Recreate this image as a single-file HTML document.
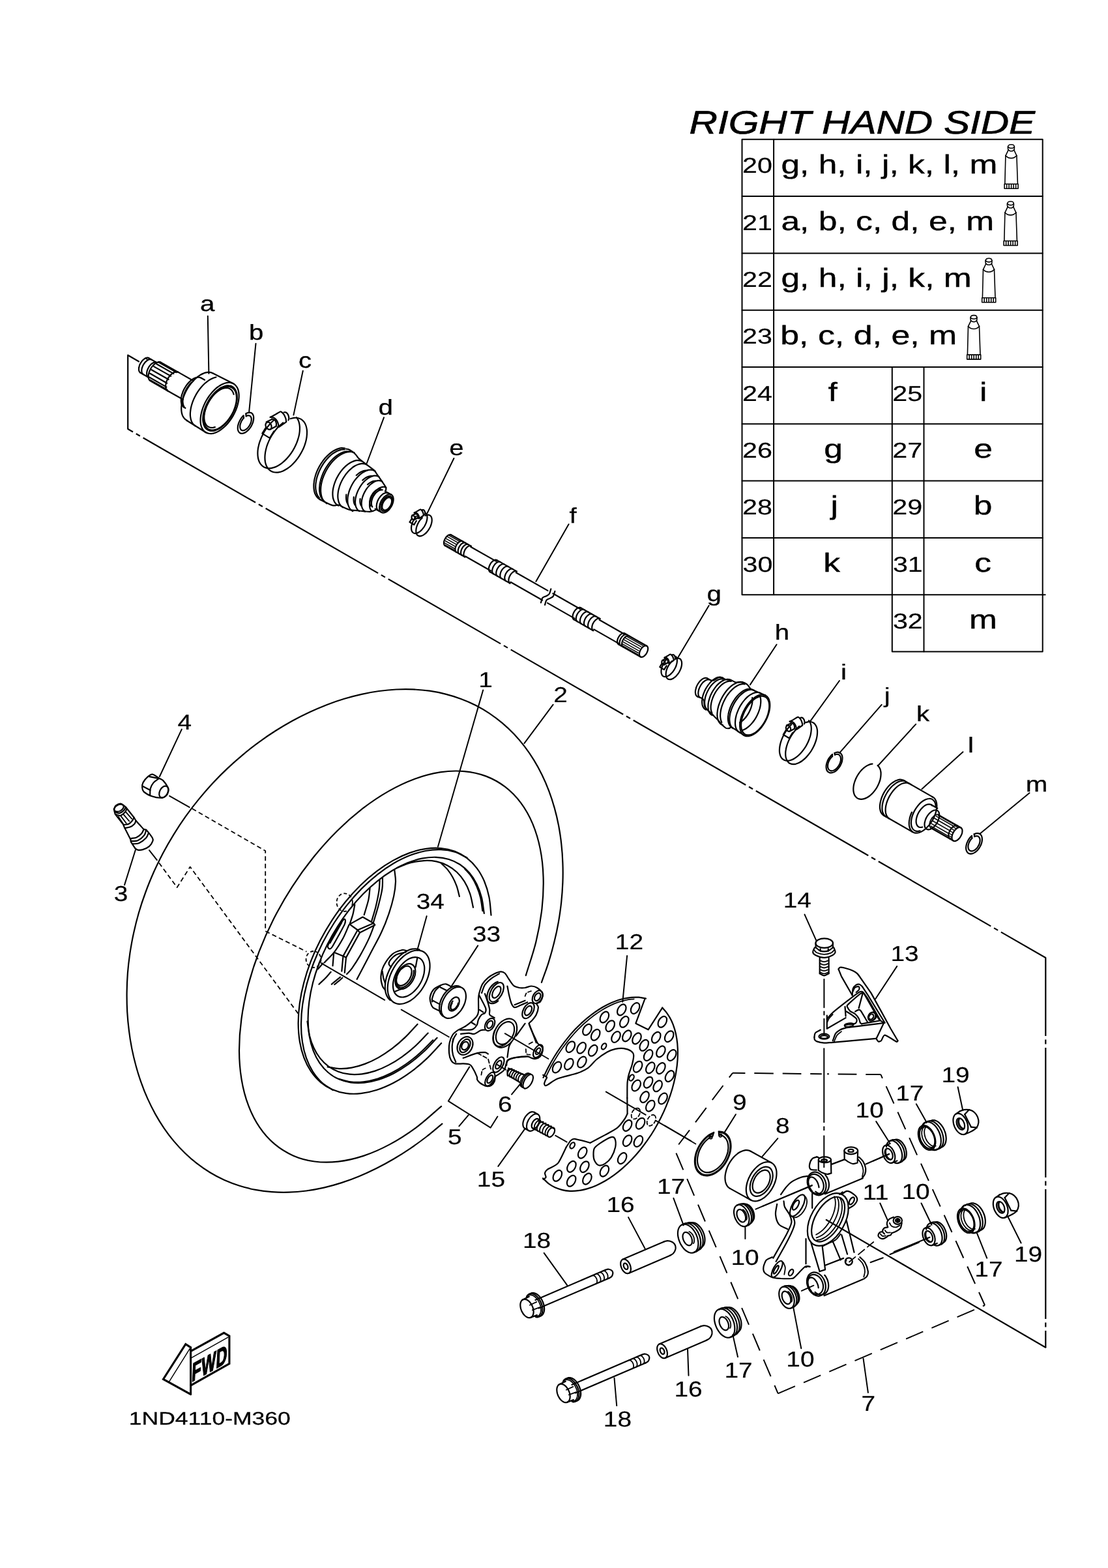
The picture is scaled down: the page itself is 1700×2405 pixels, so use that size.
<!DOCTYPE html>
<html lang="en"><head><meta charset="utf-8"><title>RIGHT HAND SIDE - 1ND4110-M360</title>
<style>
html,body{margin:0;padding:0;background:#fff}
body{width:1700px;height:2405px;overflow:hidden;position:relative}
svg{display:block;position:absolute;left:0;top:0}
svg path,svg ellipse,svg line,svg circle,svg rect{fill:none;stroke:#000;stroke-width:2.2;stroke-linecap:round;stroke-linejoin:round}
svg text{font-family:"Liberation Sans",sans-serif;fill:#000;stroke:none;text-rendering:geometricPrecision}
svg{will-change:transform}
</style></head>
<body>
<svg width="1700" height="2405" viewBox="0 0 1700 2405">
<g id="table">
<path d="M1138.5 213.8 L1599.7 213.8 L1599.7 999.5 L1368.8 999.5 L1368.8 912.2 L1138.5 912.2Z" style="stroke-width:2;"/>
<path d="M1138.5 301.1 L1599.7 301.1" style="stroke-width:2;"/>
<path d="M1138.5 388.4 L1599.7 388.4" style="stroke-width:2;"/>
<path d="M1138.5 475.7 L1599.7 475.7" style="stroke-width:2;"/>
<path d="M1138.5 563 L1599.7 563" style="stroke-width:2;"/>
<path d="M1138.5 650.3 L1599.7 650.3" style="stroke-width:2;"/>
<path d="M1138.5 737.6 L1599.7 737.6" style="stroke-width:2;"/>
<path d="M1138.5 824.9 L1599.7 824.9" style="stroke-width:2;"/>
<path d="M1368.8 912.2 L1603.7 912.2" style="stroke-width:2;"/>
<path d="M1187.1 213.8 L1187.1 912.2" style="stroke-width:2;"/>
<path d="M1368.8 563 L1368.8 912.2" style="stroke-width:2;"/>
<path d="M1417.5 563 L1417.5 999.5" style="stroke-width:2;"/>
<text transform="translate(1057.6 204.9) scale(1.201 1)" font-size="50" style="stroke:#000;stroke-width:0.7" font-style="italic">RIGHT HAND SIDE</text>
<text transform="translate(1139 265.4) scale(1.250 1)" font-size="33" style="stroke:#000;stroke-width:0.2">20</text>
<text transform="translate(1198.4 265.6) scale(1.278 1)" font-size="40.3" style="stroke:#000;stroke-width:0.4">g, h, i, j, k, l, m</text>
<path d="M1546.8 229.9 C1546.7 228.2 1546.1 226.2 1546.4 224.9 C1546.7 223.6 1547.8 222.6 1548.6 222.1 C1549.5 221.6 1550.6 221.7 1551.6 221.7 C1552.6 221.7 1553.8 221.6 1554.6 222.1 C1555.4 222.6 1556.2 223.6 1556.4 224.9 C1556.7 226.2 1556.2 228.2 1556 229.9" style="stroke-width:1.6;"/>
<path d="M1546.8 225.4 C1547.5 225.9 1548.2 226.6 1549 226.9 C1549.8 227.2 1550.7 227.3 1551.6 227.3 C1552.5 227.3 1553.4 227.2 1554.2 226.9 C1554.9 226.6 1555.4 225.9 1556 225.4" style="stroke-width:1.6;"/>
<path d="M1547.2 229.9 C1547.9 230.4 1548.6 231.1 1549.4 231.4 C1550.1 231.7 1550.9 231.7 1551.6 231.7 C1552.3 231.7 1553.1 231.7 1553.8 231.4 C1554.5 231.1 1555.1 230.4 1555.7 229.9" style="stroke-width:1.6;"/>
<path d="M1547.2 229.9 L1542.9 238.8" style="stroke-width:1.6;"/>
<path d="M1555.7 229.9 L1559.9 238.8" style="stroke-width:1.6;"/>
<path d="M1542.9 238.8 C1544.2 239.7 1545.3 241.1 1546.8 241.7 C1548.2 242.4 1550.1 242.6 1551.6 242.6 C1553.1 242.6 1554.6 242.4 1556 241.7 C1557.4 241.1 1558.6 239.7 1559.9 238.8" style="stroke-width:1.6;"/>
<path d="M1542.9 238.8 L1541.8 282.2" style="stroke-width:1.6;"/>
<path d="M1559.9 238.8 L1561.4 282.2" style="stroke-width:1.6;"/>
<path d="M1541.1 282.2 L1562.1 282.2 L1562.1 289.2 L1541.1 289.2Z" style="stroke-width:1.6;"/>
<path d="M1544.6 283.1 L1544.6 288.7" style="stroke-width:1.6;"/>
<path d="M1548.1 283.1 L1548.1 288.7" style="stroke-width:1.6;"/>
<path d="M1551.6 283.1 L1551.6 288.7" style="stroke-width:1.6;"/>
<path d="M1555.1 283.1 L1555.1 288.7" style="stroke-width:1.6;"/>
<path d="M1558.6 283.1 L1558.6 288.7" style="stroke-width:1.6;"/>
<text transform="translate(1139 352.7) scale(1.250 1)" font-size="33" style="stroke:#000;stroke-width:0.2">21</text>
<text transform="translate(1198.4 352.9) scale(1.280 1)" font-size="40.3" style="stroke:#000;stroke-width:0.4">a, b, c, d, e, m</text>
<path d="M1545.8 317.2 C1545.7 315.5 1545.1 313.5 1545.4 312.2 C1545.7 310.9 1546.8 309.9 1547.6 309.4 C1548.5 308.9 1549.6 309 1550.6 309 C1551.6 309 1552.8 308.9 1553.6 309.4 C1554.4 309.9 1555.2 310.9 1555.4 312.2 C1555.7 313.5 1555.2 315.5 1555 317.2" style="stroke-width:1.6;"/>
<path d="M1545.8 312.7 C1546.5 313.2 1547.2 313.9 1548 314.2 C1548.8 314.5 1549.7 314.6 1550.6 314.6 C1551.5 314.6 1552.4 314.5 1553.2 314.2 C1553.9 313.9 1554.4 313.2 1555 312.7" style="stroke-width:1.6;"/>
<path d="M1546.2 317.2 C1546.9 317.7 1547.6 318.4 1548.4 318.7 C1549.1 319 1549.9 319 1550.6 319 C1551.3 319 1552.1 319 1552.8 318.7 C1553.5 318.4 1554.1 317.7 1554.7 317.2" style="stroke-width:1.6;"/>
<path d="M1546.2 317.2 L1541.9 326.1" style="stroke-width:1.6;"/>
<path d="M1554.7 317.2 L1558.9 326.1" style="stroke-width:1.6;"/>
<path d="M1541.9 326.1 C1543.2 327 1544.3 328.4 1545.8 329 C1547.2 329.7 1549.1 329.9 1550.6 329.9 C1552.1 329.9 1553.6 329.7 1555 329 C1556.4 328.4 1557.6 327 1558.9 326.1" style="stroke-width:1.6;"/>
<path d="M1541.9 326.1 L1540.8 369.5" style="stroke-width:1.6;"/>
<path d="M1558.9 326.1 L1560.4 369.5" style="stroke-width:1.6;"/>
<path d="M1540.1 369.5 L1561.1 369.5 L1561.1 376.5 L1540.1 376.5Z" style="stroke-width:1.6;"/>
<path d="M1543.6 370.4 L1543.6 376" style="stroke-width:1.6;"/>
<path d="M1547.1 370.4 L1547.1 376" style="stroke-width:1.6;"/>
<path d="M1550.6 370.4 L1550.6 376" style="stroke-width:1.6;"/>
<path d="M1554.1 370.4 L1554.1 376" style="stroke-width:1.6;"/>
<path d="M1557.6 370.4 L1557.6 376" style="stroke-width:1.6;"/>
<text transform="translate(1139 440) scale(1.250 1)" font-size="33" style="stroke:#000;stroke-width:0.2">22</text>
<text transform="translate(1198.4 440.2) scale(1.280 1)" font-size="40.3" style="stroke:#000;stroke-width:0.4">g, h, i, j, k, m</text>
<path d="M1512.4 404.5 C1512.3 402.8 1511.7 400.8 1512 399.5 C1512.3 398.2 1513.4 397.2 1514.2 396.7 C1515.1 396.2 1516.2 396.3 1517.2 396.3 C1518.2 396.3 1519.4 396.2 1520.2 396.7 C1521 397.2 1521.8 398.2 1522 399.5 C1522.3 400.8 1521.8 402.8 1521.6 404.5" style="stroke-width:1.6;"/>
<path d="M1512.4 400 C1513.1 400.5 1513.8 401.2 1514.6 401.5 C1515.4 401.8 1516.3 401.9 1517.2 401.9 C1518.1 401.9 1519 401.8 1519.8 401.5 C1520.5 401.2 1521 400.5 1521.6 400" style="stroke-width:1.6;"/>
<path d="M1512.8 404.5 C1513.5 405 1514.2 405.7 1515 406 C1515.7 406.3 1516.5 406.3 1517.2 406.3 C1517.9 406.3 1518.7 406.3 1519.4 406 C1520.1 405.7 1520.7 405 1521.3 404.5" style="stroke-width:1.6;"/>
<path d="M1512.8 404.5 L1508.5 413.4" style="stroke-width:1.6;"/>
<path d="M1521.3 404.5 L1525.5 413.4" style="stroke-width:1.6;"/>
<path d="M1508.5 413.4 C1509.8 414.3 1510.9 415.7 1512.4 416.3 C1513.8 417 1515.7 417.2 1517.2 417.2 C1518.7 417.2 1520.2 417 1521.6 416.3 C1523 415.7 1524.2 414.3 1525.5 413.4" style="stroke-width:1.6;"/>
<path d="M1508.5 413.4 L1507.4 456.8" style="stroke-width:1.6;"/>
<path d="M1525.5 413.4 L1527 456.8" style="stroke-width:1.6;"/>
<path d="M1506.7 456.8 L1527.7 456.8 L1527.7 463.8 L1506.7 463.8Z" style="stroke-width:1.6;"/>
<path d="M1510.2 457.7 L1510.2 463.3" style="stroke-width:1.6;"/>
<path d="M1513.7 457.7 L1513.7 463.3" style="stroke-width:1.6;"/>
<path d="M1517.2 457.7 L1517.2 463.3" style="stroke-width:1.6;"/>
<path d="M1520.7 457.7 L1520.7 463.3" style="stroke-width:1.6;"/>
<path d="M1524.2 457.7 L1524.2 463.3" style="stroke-width:1.6;"/>
<text transform="translate(1139 527.3) scale(1.250 1)" font-size="33" style="stroke:#000;stroke-width:0.2">23</text>
<text transform="translate(1197.2 527.5) scale(1.288 1)" font-size="40.3" style="stroke:#000;stroke-width:0.4">b, c, d, e, m</text>
<path d="M1489.4 491.8 C1489.3 490.1 1488.7 488.1 1489 486.8 C1489.3 485.5 1490.4 484.5 1491.2 484 C1492.1 483.5 1493.2 483.6 1494.2 483.6 C1495.2 483.6 1496.4 483.5 1497.2 484 C1498 484.5 1498.8 485.5 1499 486.8 C1499.3 488.1 1498.8 490.1 1498.6 491.8" style="stroke-width:1.6;"/>
<path d="M1489.4 487.3 C1490.1 487.8 1490.8 488.5 1491.6 488.8 C1492.4 489.1 1493.3 489.2 1494.2 489.2 C1495.1 489.2 1496 489.1 1496.8 488.8 C1497.5 488.5 1498 487.8 1498.6 487.3" style="stroke-width:1.6;"/>
<path d="M1489.8 491.8 C1490.5 492.3 1491.2 493 1492 493.3 C1492.7 493.6 1493.5 493.6 1494.2 493.6 C1494.9 493.6 1495.7 493.6 1496.4 493.3 C1497.1 493 1497.7 492.3 1498.3 491.8" style="stroke-width:1.6;"/>
<path d="M1489.8 491.8 L1485.5 500.7" style="stroke-width:1.6;"/>
<path d="M1498.3 491.8 L1502.5 500.7" style="stroke-width:1.6;"/>
<path d="M1485.5 500.7 C1486.8 501.6 1487.9 503 1489.4 503.6 C1490.8 504.3 1492.7 504.5 1494.2 504.5 C1495.7 504.5 1497.2 504.3 1498.6 503.6 C1500 503 1501.2 501.6 1502.5 500.7" style="stroke-width:1.6;"/>
<path d="M1485.5 500.7 L1484.4 544.1" style="stroke-width:1.6;"/>
<path d="M1502.5 500.7 L1504 544.1" style="stroke-width:1.6;"/>
<path d="M1483.7 544.1 L1504.7 544.1 L1504.7 551.1 L1483.7 551.1Z" style="stroke-width:1.6;"/>
<path d="M1487.2 545 L1487.2 550.6" style="stroke-width:1.6;"/>
<path d="M1490.7 545 L1490.7 550.6" style="stroke-width:1.6;"/>
<path d="M1494.2 545 L1494.2 550.6" style="stroke-width:1.6;"/>
<path d="M1497.7 545 L1497.7 550.6" style="stroke-width:1.6;"/>
<path d="M1501.2 545 L1501.2 550.6" style="stroke-width:1.6;"/>
<text transform="translate(1139 614.6) scale(1.250 1)" font-size="33" style="stroke:#000;stroke-width:0.2">24</text>
<text transform="translate(1270.4 614.8) scale(1.277 1)" font-size="40.3" style="stroke:#000;stroke-width:0.4">f</text>
<text transform="translate(1369.3 614.6) scale(1.250 1)" font-size="33" style="stroke:#000;stroke-width:0.2">25</text>
<text transform="translate(1502.9 614.8) scale(1.277 1)" font-size="40.3" style="stroke:#000;stroke-width:0.4">i</text>
<text transform="translate(1139 701.9) scale(1.250 1)" font-size="33" style="stroke:#000;stroke-width:0.2">26</text>
<text transform="translate(1264.2 702.1) scale(1.277 1)" font-size="40.3" style="stroke:#000;stroke-width:0.4">g</text>
<text transform="translate(1369.3 701.9) scale(1.250 1)" font-size="33" style="stroke:#000;stroke-width:0.2">27</text>
<text transform="translate(1494.3 702.1) scale(1.277 1)" font-size="40.3" style="stroke:#000;stroke-width:0.4">e</text>
<text transform="translate(1139 789.2) scale(1.250 1)" font-size="33" style="stroke:#000;stroke-width:0.2">28</text>
<text transform="translate(1274.6 789.4) scale(1.277 1)" font-size="40.3" style="stroke:#000;stroke-width:0.4">j</text>
<text transform="translate(1369.3 789.2) scale(1.250 1)" font-size="33" style="stroke:#000;stroke-width:0.2">29</text>
<text transform="translate(1493.7 789.4) scale(1.277 1)" font-size="40.3" style="stroke:#000;stroke-width:0.4">b</text>
<text transform="translate(1139.6 876.5) scale(1.250 1)" font-size="33" style="stroke:#000;stroke-width:0.2">30</text>
<text transform="translate(1263.3 876.7) scale(1.277 1)" font-size="40.3" style="stroke:#000;stroke-width:0.4">k</text>
<text transform="translate(1369.9 876.5) scale(1.250 1)" font-size="33" style="stroke:#000;stroke-width:0.2">31</text>
<text transform="translate(1495.3 876.7) scale(1.277 1)" font-size="40.3" style="stroke:#000;stroke-width:0.4">c</text>
<text transform="translate(1369.9 963.8) scale(1.250 1)" font-size="33" style="stroke:#000;stroke-width:0.2">32</text>
<text transform="translate(1487.1 964) scale(1.277 1)" font-size="40.3" style="stroke:#000;stroke-width:0.4">m</text>
</g>
<g id="axis">
<path d="M213 554.5 L196.2 544.7 L196.2 658"/>
<path d="M196.2 658 L1604.3 1469 L1604.3 2066.7" style="stroke-dasharray:199 5.5 7 5.5;stroke-dashoffset:190;stroke-linecap:butt;"/>
<path d="M1604.3 2066.7 L1267.8 1871"/>
</g>
<g id="tire">
<path d="M678.4 1723.6 C670.4 1730.3 662.5 1737.2 654.3 1743.5 C646.1 1749.8 637.8 1755.9 629.4 1761.6 C621 1767.3 612.4 1772.7 603.8 1777.8 C595.1 1782.9 586.4 1787.7 577.6 1792.1 C568.8 1796.5 559.9 1800.6 550.9 1804.2 C542 1807.9 533 1811.2 524 1814.1 C515 1817 506 1819.5 497 1821.6 C488 1823.6 479 1825.3 470 1826.5 C461.1 1827.6 452.2 1828.4 443.4 1828.7 C434.6 1829 425.8 1828.8 417.2 1828.2 C408.7 1827.5 400.2 1826.4 391.9 1824.9 C383.6 1823.3 375.4 1821.3 367.5 1818.8 C359.6 1816.3 351.8 1813.3 344.3 1810 C336.8 1806.6 329.5 1802.8 322.5 1798.5 C315.5 1794.3 308.8 1789.7 302.3 1784.7 C295.8 1779.7 289.6 1774.3 283.7 1768.5 C277.7 1762.8 272.1 1756.7 266.8 1750.4 C261.4 1744 256.4 1737.3 251.6 1730.3 C246.9 1723.4 242.4 1716.1 238.2 1708.6 C234.1 1701.1 230.2 1693.4 226.6 1685.4 C223 1677.5 219.7 1669.3 216.8 1660.9 C213.8 1652.6 211.1 1644 208.7 1635.2 C206.3 1626.5 204.1 1617.5 202.3 1608.4 C200.5 1599.3 199 1590.1 197.9 1580.7 C196.7 1571.3 195.8 1561.7 195.2 1552 C194.7 1542.3 194.5 1532.5 194.6 1522.6 C194.7 1512.6 195.1 1502.6 195.9 1492.4 C196.7 1482.3 197.9 1472.1 199.4 1461.8 C201 1451.6 202.8 1441.2 205.1 1430.9 C207.4 1420.6 210 1410.2 213 1399.8 C216 1389.5 219.4 1379.2 223.2 1369 C226.9 1358.7 231.1 1348.5 235.5 1338.5 C240 1328.4 244.9 1318.5 250 1308.7 C255.2 1298.9 260.7 1289.3 266.6 1279.8 C272.4 1270.4 278.5 1261.2 284.9 1252.2 C291.3 1243.2 298 1234.4 305 1225.9 C311.9 1217.5 319.1 1209.2 326.4 1201.3 C333.8 1193.4 341.4 1185.7 349.2 1178.4 C357 1171 364.9 1164 373 1157.3 C381.1 1150.5 389.3 1144.1 397.6 1138.1 C406 1132 414.4 1126.2 423 1120.8 C431.5 1115.4 440.1 1110.3 448.8 1105.5 C457.5 1100.7 466.3 1096.3 475.1 1092.2 C483.9 1088.1 492.7 1084.4 501.6 1080.9 C510.5 1077.5 519.4 1074.5 528.3 1071.8 C537.1 1069.1 546.1 1066.7 554.9 1064.8 C563.8 1062.8 572.7 1061.2 581.5 1060 C590.3 1058.8 599.1 1057.9 607.8 1057.5 C616.5 1057.1 625.2 1057 633.7 1057.4 C642.3 1057.8 650.7 1058.5 659.1 1059.7 C667.4 1060.9 675.6 1062.6 683.6 1064.6 C691.6 1066.6 699.5 1069.1 707.2 1072 C714.9 1074.8 722.4 1078.1 729.7 1081.8 C736.9 1085.5 744 1089.6 750.8 1094.1 C757.6 1098.7 764.2 1103.6 770.5 1108.8 C776.8 1114.1 782.8 1119.8 788.5 1125.8 C794.2 1131.8 799.7 1138.2 804.8 1144.9 C809.9 1151.6 814.7 1158.6 819.2 1165.9 C823.7 1173.2 827.9 1180.9 831.7 1188.7 C835.6 1196.6 839.1 1204.8 842.2 1213.2 C845.4 1221.6 848.2 1230.3 850.7 1239.1 C853.2 1247.9 855.3 1257 857.1 1266.3 C858.8 1275.5 860.3 1284.9 861.3 1294.5 C862.4 1304.1 863.1 1313.8 863.4 1323.7 C863.8 1333.5 863.8 1343.5 863.4 1353.6 C863 1363.6 862.3 1373.8 861.2 1384 C860.1 1394.2 858.6 1404.5 856.8 1414.7 C855 1425 852.8 1435.3 850.2 1445.6 C847.7 1455.9 844.8 1466.2 841.6 1476.4 C838.4 1486.6 834.4 1496.7 830.9 1506.9"/>
<path d="M806.8 1496.1 C812 1478.9 818.3 1461.4 822.4 1444.4 C826.6 1427.3 829.6 1410.2 831.5 1393.7 C833.3 1377.3 834.1 1361.1 833.6 1345.8 C833.2 1330.4 831.6 1315.6 828.8 1301.9 C826.1 1288.1 822.1 1275.1 817.2 1263.3 C812.2 1251.6 806.1 1240.8 799.1 1231.4 C792.1 1222 784 1213.7 775.1 1206.9 C766.2 1200.1 756.3 1194.6 745.9 1190.6 C735.4 1186.7 724.1 1184.1 712.3 1183.1 C700.6 1182 688.1 1182.5 675.4 1184.4 C662.8 1186.4 649.5 1189.9 636.3 1194.7 C623.1 1199.6 609.5 1205.9 596.1 1213.6 C582.7 1221.2 569.2 1230.3 556 1240.4 C542.9 1250.6 529.8 1262.1 517.3 1274.5 C504.8 1286.9 492.5 1300.6 481 1314.8 C469.5 1329.1 458.4 1344.4 448.3 1360.1 C438.1 1375.8 428.6 1392.4 420.1 1409.1 C411.6 1425.8 403.9 1443.1 397.3 1460.2 C390.7 1477.4 385.1 1494.9 380.6 1512 C376.1 1529.2 372.6 1546.4 370.4 1563 C368.1 1579.6 367 1596 367 1611.5 C367.1 1627.1 368.3 1642.2 370.7 1656.2 C373 1670.2 376.6 1683.6 381.2 1695.7 C385.7 1707.8 391.5 1719.1 398.2 1728.9 C404.8 1738.7 412.6 1747.4 421.2 1754.7 C429.8 1762 439.4 1767.9 449.6 1772.4 C459.8 1776.9 470.9 1779.9 482.5 1781.5 C494 1783 506.4 1783.1 518.9 1781.6 C531.4 1780.2 544.6 1777.2 557.7 1772.9 C570.9 1768.5 584.4 1762.6 597.8 1755.4 C611.2 1748.3 624.8 1739.6 638 1729.9 C651.2 1720.1 664 1707.9 677.1 1696.9"/>
</g>
<g id="rim">
<path d="M753.5 1403.6 C752.5 1394.4 752.2 1384.6 750.4 1375.9 C748.7 1367.3 746.2 1359.1 743.1 1351.7 C739.9 1344.3 736.1 1337.5 731.6 1331.6 C727.2 1325.6 722 1320.4 716.4 1316.1 C710.8 1311.8 704.5 1308.3 697.9 1305.8 C691.3 1303.3 684.1 1301.7 676.6 1301 C669.2 1300.3 661.3 1300.6 653.3 1301.8 C645.2 1303 636.8 1305.1 628.5 1308.1 C620.1 1311.1 611.5 1315.1 603 1319.9 C594.5 1324.6 585.9 1330.3 577.6 1336.7 C569.3 1343 561 1350.2 553 1358 C545.1 1365.8 537.3 1374.3 530 1383.2 C522.7 1392.2 515.7 1401.8 509.3 1411.6 C502.9 1421.5 496.8 1431.9 491.4 1442.3 C486 1452.8 481.1 1463.7 476.9 1474.4 C472.7 1485.2 469.1 1496.2 466.3 1507 C463.4 1517.7 461.2 1528.6 459.8 1539 C458.3 1549.4 457.6 1559.7 457.6 1569.5 C457.7 1579.3 458.4 1588.8 459.9 1597.7 C461.4 1606.5 463.6 1614.9 466.5 1622.6 C469.4 1630.2 473 1637.3 477.2 1643.5 C481.4 1649.7 486.4 1655.2 491.8 1659.8 C497.2 1664.4 503.3 1668.3 509.7 1671.1 C516.2 1674 523.2 1675.9 530.5 1676.9 C537.8 1678 545.6 1678 553.6 1677.2 C561.5 1676.3 569.8 1674.5 578.2 1671.8 C586.5 1669.2 595.1 1665.5 603.6 1661.1 C612 1656.6 620.7 1651.2 629 1645.1 C637.4 1639.1 645.8 1632.1 653.8 1624.6 C661.8 1617.1 669.4 1608.2 677.1 1600"/>
<path d="M716.5 1315.6 C710.3 1312.7 704.4 1308.9 697.7 1306.8 C691.1 1304.7 683.9 1303.5 676.5 1303.2 C669.1 1302.9 661.2 1303.5 653.3 1305 C645.3 1306.5 637.1 1308.9 628.9 1312.1 C620.6 1315.3 612.2 1319.5 603.9 1324.3 C595.6 1329.2 587.2 1334.9 579.1 1341.3 C571 1347.7 562.9 1354.9 555.2 1362.6 C547.5 1370.3 540 1378.8 532.9 1387.6 C525.8 1396.4 519 1405.8 512.7 1415.5 C506.5 1425.2 500.6 1435.4 495.3 1445.6 C490.1 1455.9 485.3 1466.5 481.2 1477 C477.1 1487.6 473.6 1498.3 470.8 1508.9 C468 1519.4 465.8 1530 464.3 1540.2 C462.8 1550.4 462 1560.6 462 1570.2 C461.9 1579.8 462.5 1589.2 463.9 1597.9 C465.2 1606.6 467.2 1615 469.9 1622.6 C472.6 1630.2 476 1637.3 479.9 1643.6 C483.9 1649.8 488.6 1655.5 493.7 1660.2 C498.8 1665 505.1 1668.1 510.8 1672"/>
<path d="M742.8 1400.9 C741.5 1392.9 740.9 1384.3 739 1376.8 C737.1 1369.3 734.5 1362.2 731.4 1355.9 C728.2 1349.5 724.5 1343.8 720.2 1338.8 C715.9 1333.8 711 1329.5 705.8 1326 C700.5 1322.6 694.6 1319.8 688.5 1318 C682.3 1316.1 675.7 1315.1 668.9 1314.8 C662 1314.6 654.8 1315.3 647.5 1316.7 C640.2 1318.2 632.6 1320.5 625 1323.6 C617.4 1326.7 609.6 1330.6 601.9 1335.2 C594.3 1339.8 586.6 1345.2 579.1 1351.3 C571.6 1357.3 564.2 1364 557.1 1371.3 C550 1378.5 543 1386.4 536.5 1394.7 C530 1402.9 523.8 1411.7 518.1 1420.8 C512.3 1429.8 507 1439.3 502.2 1448.8 C497.4 1458.4 493.1 1468.2 489.4 1478 C485.7 1487.8 482.5 1497.7 480 1507.5 C477.5 1517.2 475.6 1527 474.4 1536.4 C473.1 1545.8 472.5 1555.1 472.6 1563.9 C472.6 1572.7 473.4 1581.3 474.7 1589.2 C476.1 1597.1 478.1 1604.7 480.7 1611.6 C483.3 1618.4 486.6 1624.8 490.4 1630.4 C494.2 1635.9 498.6 1640.9 503.5 1645 C508.3 1649.2 513.8 1652.6 519.6 1655.1 C525.4 1657.7 531.7 1659.5 538.2 1660.4 C544.8 1661.3 551.8 1661.4 558.9 1660.7 C566.1 1659.9 573.5 1658.3 581 1656 C588.5 1653.6 596.3 1650.3 603.9 1646.4 C611.6 1642.4 619.4 1637.6 626.9 1632.2 C634.5 1626.7 642.1 1620.5 649.4 1613.8 C656.7 1607.1 663.6 1599.1 670.6 1591.8"/>
<path d="M519.9 1654.9 C525.9 1656.4 531.6 1658.7 537.9 1659.4 C544.2 1660.1 550.9 1660.1 557.7 1659.3 C564.5 1658.6 571.6 1657 578.7 1654.8 C585.8 1652.5 593.2 1649.5 600.5 1645.8 C607.7 1642.1 615.1 1637.6 622.3 1632.6 C629.6 1627.6 636.8 1621.9 643.8 1615.6 C650.8 1609.4 657.4 1602.1 664.3 1595.3"/>
<path d="M740.4 1397.1 C739.4 1390.5 738.7 1383.5 737.3 1377.3 C735.8 1371.1 733.9 1365.2 731.5 1359.7 C729.2 1354.2 726.5 1349.1 723.4 1344.6 C720.3 1340 716.4 1336.3 712.9 1332.2"/>
<path d="M726 1391.8 C724.4 1384.7 723.3 1377 721 1370.4 C718.8 1363.8 716 1357.7 712.6 1352.2 C709.3 1346.8 705.3 1341.9 701 1337.8 C696.6 1333.6 691.8 1330.1 686.5 1327.4 C681.3 1324.7 675.6 1322.7 669.6 1321.4 C663.6 1320.2 657.2 1319.7 650.7 1320.1 C644.1 1320.4 637.3 1321.5 630.3 1323.3 C623.4 1325.1 616.2 1328.5 609.1 1331.1"/>
<path d="M471.5 1566.5 C472.7 1573.8 473.2 1581.6 474.9 1588.4 C476.6 1595.2 478.8 1601.7 481.6 1607.5 C484.3 1613.4 487.6 1618.7 491.3 1623.4 C495.1 1628.1 499.3 1632.2 504 1635.6 C508.6 1639 513.7 1641.7 519.1 1643.7 C524.5 1645.8 530.4 1647.1 536.4 1647.7 C542.5 1648.3 548.9 1648.1 555.4 1647.3 C561.9 1646.4 568.7 1644.8 575.5 1642.6 C582.3 1640.3 589.3 1637.3 596.2 1633.6 C603.1 1630 610.2 1625.7 617 1620.8 C623.9 1615.9 630.8 1610.3 637.4 1604.3 C644 1598.2 650.3 1591.1 656.7 1584.6"/>
<path d="M704.9 1375 C703.5 1369.7 702.4 1364.1 700.7 1359.2 C698.9 1354.3 696.8 1349.6 694.4 1345.3 C692.1 1341 689.3 1337 686.4 1333.4 C683.4 1329.9 679.8 1327 676.6 1323.8"/>
<path d="M502.6 1636.3 C508.5 1637.2 514.1 1638.9 520.3 1639.1 C526.5 1639.4 533 1638.9 539.5 1637.7 C546.1 1636.5 553 1634.5 559.8 1631.9 C566.7 1629.3 573.7 1626 580.6 1622.1 C587.5 1618.2 594.5 1613.5 601.4 1608.4 C608.2 1603.2 615 1597.4 621.5 1591.1 C628 1584.9 634.2 1577.6 640.5 1570.9"/>
</g>
<g id="a">
<path d="M215.5 571.8 C215.1 571.5 214.7 571.3 214.4 570.9 C214.1 570.5 213.8 570.1 213.6 569.6 C213.4 569.1 213.2 568.5 213.1 567.9 C213 567.3 213 566.7 213 566 C213 565.3 213 564.6 213.2 563.8 C213.3 563.1 213.5 562.3 213.7 561.6 C213.9 560.8 214.2 560 214.5 559.2 C214.9 558.5 215.3 557.7 215.7 557 C216.1 556.2 216.6 555.5 217.1 554.8 C217.5 554.2 218.1 553.5 218.6 552.9 C219.2 552.3 219.7 551.8 220.3 551.3 C220.9 550.8 221.5 550.4 222 550 C222.6 549.7 223.2 549.4 223.8 549.1 C224.4 548.9 224.9 548.8 225.5 548.7 C226 548.6 226.5 548.6 227 548.7 C227.5 548.8 227.9 549 228.3 549.2"/>
<path d="M228.3 549.2 L240.5 556.1"/>
<path d="M215.5 571.8 L227.7 578.7"/>
<path d="M219.8 574.3 C219.5 574 219.1 573.7 218.7 573.4 C218.4 573 218.1 572.6 217.9 572.1 C217.7 571.6 217.6 571 217.5 570.4 C217.4 569.8 217.3 569.1 217.3 568.5 C217.3 567.8 217.4 567.1 217.5 566.3 C217.6 565.6 217.8 564.8 218 564 C218.3 563.3 218.6 562.5 218.9 561.7 C219.2 560.9 219.6 560.2 220 559.4 C220.4 558.7 220.9 558 221.4 557.3 C221.9 556.6 222.4 556 223 555.4 C223.5 554.8 224.1 554.2 224.6 553.8 C225.2 553.3 225.8 552.8 226.4 552.5 C227 552.1 227.6 551.8 228.1 551.6 C228.7 551.4 229.3 551.2 229.8 551.2 C230.3 551.1 230.9 551.1 231.3 551.2 C231.8 551.3 232.2 551.5 232.7 551.7"/>
<path d="M227.7 578.7 C227.3 578.4 226.9 578.2 226.6 577.8 C226.2 577.4 226 577 225.8 576.5 C225.5 576 225.4 575.5 225.3 574.9 C225.2 574.3 225.1 573.6 225.1 572.9 C225.1 572.2 225.2 571.5 225.3 570.8 C225.5 570 225.6 569.2 225.9 568.5 C226.1 567.7 226.4 566.9 226.7 566.2 C227.1 565.4 227.4 564.6 227.9 563.9 C228.3 563.1 228.7 562.4 229.2 561.7 C229.7 561.1 230.2 560.4 230.8 559.8 C231.3 559.2 231.9 558.7 232.5 558.2 C233 557.7 233.6 557.3 234.2 556.9 C234.8 556.6 235.4 556.3 236 556.1 C236.5 555.8 237.1 555.7 237.6 555.6 C238.2 555.6 238.7 555.6 239.2 555.6 C239.6 555.7 240 556 240.5 556.1"/>
<path d="M224.1 550.3 L227.5 551.9" style="stroke-width:1.6;"/>
<path d="M230.8 584.4 C230.4 584.1 229.9 583.8 229.5 583.3 C229.1 582.8 228.7 582.3 228.5 581.7 C228.2 581 228 580.3 227.8 579.6 C227.7 578.8 227.7 578 227.7 577.1 C227.7 576.3 227.8 575.3 227.9 574.4 C228.1 573.5 228.3 572.5 228.6 571.5 C228.9 570.6 229.3 569.6 229.7 568.6 C230.1 567.6 230.6 566.7 231.1 565.7 C231.6 564.8 232.2 563.9 232.8 563 C233.4 562.2 234.1 561.4 234.8 560.6 C235.5 559.9 236.2 559.2 236.9 558.6 C237.6 557.9 238.4 557.4 239.1 556.9 C239.9 556.5 240.6 556.1 241.3 555.8 C242 555.6 242.8 555.4 243.4 555.3 C244.1 555.2 244.8 555.2 245.4 555.3 C246 555.4 246.5 555.7 247 555.9"/>
<path d="M248.3 556.6 L273.5 570.9"/>
<path d="M232.1 585.1 L257.3 599.5"/>
<path d="M247 555.9 C246.6 555.8 246.3 555.5 245.8 555.4 C245.4 555.3 244.9 555.3 244.5 555.2 C244 555.2 243.5 555.3 243 555.4"/>
<path d="M244.6 556.3 L270.7 571.1"/>
<path d="M240.2 558.3 L266.3 573.1"/>
<path d="M236 562.1 L262.1 576.9"/>
<path d="M232.5 567.2 L258.6 582"/>
<path d="M230.1 572.8 L256.2 587.7"/>
<path d="M229.3 578.7 L255.4 593.6"/>
<path d="M230.3 583 L256.4 597.8"/>
<path d="M257.3 599.5 C256.8 599.1 256.3 598.8 255.9 598.3 C255.5 597.8 255.2 597.3 254.9 596.7 C254.6 596 254.4 595.3 254.3 594.6 C254.2 593.8 254.1 593 254.1 592.1 C254.1 591.3 254.2 590.3 254.4 589.4 C254.5 588.5 254.7 587.5 255 586.5 C255.3 585.6 255.7 584.6 256.1 583.6 C256.5 582.6 257 581.7 257.5 580.7 C258.1 579.8 258.6 578.9 259.3 578 C259.9 577.2 260.5 576.4 261.2 575.6 C261.9 574.9 262.6 574.2 263.4 573.6 C264.1 573 264.8 572.4 265.6 572 C266.3 571.5 267 571.1 267.8 570.9 C268.5 570.6 269.2 570.4 269.9 570.3 C270.5 570.2 271.2 570.2 271.8 570.3 C272.4 570.4 272.9 570.7 273.5 570.9"/>
<path d="M273.5 570.9 L297 584.3"/>
<path d="M257.3 599.5 L280.8 612.8"/>
<path d="M282.4 625 C281.7 624.3 280.9 623.8 280.3 622.9 C279.6 622.1 279.1 621.1 278.7 620 C278.3 618.9 278.1 617.6 277.9 616.3 C277.8 615 277.8 613.6 277.9 612.1 C278 610.6 278.2 609 278.5 607.4 C278.9 605.9 279.4 604.2 280 602.6 C280.5 601 281.2 599.3 282 597.7 C282.8 596.1 283.7 594.6 284.7 593.1 C285.6 591.6 286.7 590.1 287.8 588.8 C288.9 587.5 290 586.2 291.2 585.1 C292.4 584 293.6 583 294.9 582.2 C296.1 581.3 297.3 580.6 298.5 580 C299.7 579.5 301 579.1 302.1 578.9 C303.2 578.6 304.4 578.6 305.4 578.7 C306.4 578.8 307.3 579.2 308.3 579.5"/>
<path d="M284.4 626 C283.8 625.3 283 624.7 282.4 623.8 C281.9 622.9 281.4 621.9 281.1 620.7 C280.8 619.6 280.6 618.3 280.5 617 C280.4 615.7 280.4 614.2 280.5 612.8 C280.7 611.3 280.9 609.7 281.3 608.2 C281.7 606.6 282.2 605 282.8 603.4 C283.4 601.8 284.1 600.2 284.9 598.7 C285.7 597.1 286.6 595.6 287.6 594.1 C288.5 592.7 289.6 591.3 290.6 590 C291.7 588.7 292.9 587.6 294 586.4"/>
<path d="M308.7 579.7 L314 582.7"/>
<path d="M286.9 645 C285.7 644.1 284.3 643.5 283.3 642.3 C282.2 641.2 281.3 639.9 280.5 638.3 C279.8 636.8 279.2 635 278.8 633.2 C278.4 631.3 278.2 629.2 278.2 627 C278.2 624.9 278.4 622.5 278.7 620.2 C279.1 617.8 279.6 615.3 280.3 612.9 C281 610.4 281.9 607.9 283 605.4 C284 602.9 285.2 600.4 286.5 598 C287.8 595.7 289.3 593.3 290.9 591.1 C292.4 588.9 294.1 586.8 295.9 584.9 C297.6 582.9 299.4 581.1 301.3 579.6 C303.1 578 305 576.6 306.9 575.4 C308.8 574.2 310.7 573.3 312.5 572.6 C314.3 571.8 316.2 571.3 317.9 571.1 C319.6 570.9 321.3 570.9 322.8 571.2 C324.4 571.4 325.7 572.2 327.1 572.7"/>
<path d="M327.1 572.7 L358.3 588.6"/>
<path d="M286.2 644.7 L315.9 663.3"/>
<path d="M299.4 653.3 C298.2 652.1 296.9 651.2 295.9 649.9 C294.9 648.5 294 646.9 293.4 645.1 C292.8 643.3 292.3 641.3 292.1 639.2 C291.8 637 291.8 634.7 292 632.3 C292.2 629.8 292.5 627.3 293.1 624.7 C293.7 622.1 294.5 619.5 295.4 616.8 C296.4 614.2 297.5 611.5 298.8 609 C300.1 606.4 301.5 603.8 303.1 601.4 C304.7 599 306.4 596.6 308.2 594.5 C310 592.4 311.9 590.3 313.8 588.5 C315.7 586.8 317.7 585.1 319.7 583.8 C321.7 582.4 323.7 581.3 325.7 580.4 C327.6 579.5 329.5 579.1 331.4 578.5"/>
<path d="M358.3 588.6 C359.5 589.2 360.6 590.1 361.6 591.2 C362.6 592.2 363.4 593.4 364.1 594.8 C364.8 596.2 365.4 597.7 365.8 599.4 C366.2 601.1 366.5 602.9 366.6 604.8 C366.7 606.7 366.7 608.8 366.5 610.9 C366.3 613 366 615.2 365.5 617.4 C365.1 619.6 364.4 621.9 363.7 624.1 C362.9 626.4 362.1 628.7 361 631 C360 633.2 358.9 635.5 357.7 637.6 C356.4 639.8 355.1 641.9 353.7 643.9 C352.3 646 350.7 647.9 349.2 649.7 C347.6 651.5 346 653.2 344.3 654.8 C342.6 656.3 340.9 657.7 339.2 658.9 C337.5 660.2 335.8 661.2 334.1 662.1 C332.4 663 330.6 663.7 329 664.2 C327.4 664.7 325.7 665 324.2 665.1 C322.6 665.2 321.1 665.1 319.8 664.8 C318.4 664.5 317.1 664 315.9 663.3 C314.7 662.7 313.6 661.8 312.6 660.7 C311.7 659.7 310.8 658.5 310.1 657.1 C309.4 655.7 308.8 654.2 308.4 652.5 C308 650.8 307.7 649 307.6 647.1 C307.5 645.2 307.5 643.1 307.7 641 C307.9 638.9 308.2 636.7 308.7 634.5 C309.1 632.3 309.8 630 310.5 627.8 C311.3 625.5 312.2 623.2 313.2 620.9 C314.2 618.7 315.3 616.4 316.5 614.3 C317.8 612.1 319.1 610 320.5 608 C322 605.9 323.5 604 325 602.2 C326.6 600.4 328.3 598.7 329.9 597.1 C331.6 595.6 333.3 594.2 335 593 C336.7 591.7 338.5 590.7 340.2 589.8 C341.9 588.9 343.6 588.2 345.2 587.7 C346.9 587.2 348.5 586.9 350 586.8 C351.6 586.7 353.1 586.8 354.5 587.1 C355.8 587.4 357.2 587.9 358.3 588.6Z"/>
<path d="M356.4 593 C357.5 593.6 358.4 594.4 359.3 595.3 C360.1 596.2 360.9 597.3 361.5 598.5 C362.1 599.8 362.6 601.1 363 602.6 C363.4 604.1 363.6 605.7 363.7 607.4 C363.8 609.1 363.8 610.9 363.7 612.8 C363.5 614.7 363.2 616.6 362.8 618.6 C362.4 620.5 361.8 622.6 361.2 624.6 C360.5 626.6 359.7 628.6 358.8 630.6 C357.9 632.6 356.9 634.6 355.8 636.6 C354.7 638.5 353.5 640.4 352.3 642.2 C351 644 349.6 645.7 348.3 647.3 C346.9 648.9 345.4 650.4 343.9 651.8 C342.5 653.2 340.9 654.4 339.4 655.5 C337.9 656.6 336.3 657.5 334.8 658.3 C333.3 659.1 331.8 659.7 330.3 660.1 C328.9 660.6 327.4 660.9 326.1 661 C324.7 661 323.4 661 322.1 660.7 C320.9 660.4 319.7 660 318.7 659.4 C317.6 658.8 316.6 658 315.8 657.1 C314.9 656.2 314.2 655.1 313.6 653.9 C312.9 652.6 312.4 651.3 312.1 649.8 C311.7 648.3 311.5 646.7 311.3 645 C311.2 643.3 311.3 641.5 311.4 639.6 C311.6 637.7 311.9 635.8 312.3 633.8 C312.7 631.8 313.3 629.8 313.9 627.8 C314.6 625.8 315.4 623.7 316.3 621.7 C317.2 619.7 318.2 617.7 319.3 615.8 C320.4 613.9 321.6 612 322.8 610.2 C324.1 608.4 325.4 606.7 326.8 605.1 C328.2 603.5 329.7 602 331.2 600.6 C332.6 599.2 334.2 598 335.7 596.9 C337.2 595.8 338.7 594.9 340.3 594.1 C341.8 593.3 343.3 592.7 344.7 592.2 C346.2 591.8 347.7 591.5 349 591.4 C350.4 591.3 351.7 591.4 353 591.7 C354.2 591.9 355.4 592.4 356.4 593Z"/>
<path d="M355.9 594.5 C356.9 595.1 357.8 595.8 358.6 596.7 C359.5 597.6 360.2 598.7 360.8 599.8 C361.4 601 361.9 602.3 362.2 603.8 C362.6 605.2 362.8 606.7 362.9 608.4 C363 610 363 611.7 362.8 613.5 C362.7 615.3 362.4 617.2 362 619 C361.6 620.9 361.1 622.9 360.4 624.8 C359.8 626.7 359 628.7 358.2 630.6 C357.3 632.5 356.4 634.4 355.3 636.3 C354.3 638.1 353.1 639.9 351.9 641.7 C350.7 643.4 349.4 645 348.1 646.6 C346.7 648.1 345.3 649.6 343.9 650.9 C342.5 652.2 341 653.4 339.6 654.4 C338.1 655.5 336.7 656.4 335.2 657.1 C333.8 657.9 332.3 658.5 330.9 658.9 C329.5 659.3 328.1 659.6 326.8 659.6 C325.5 659.7 324.2 659.7 323 659.4 C321.9 659.2 320.7 658.7 319.7 658.2 C318.7 657.6 317.8 656.8 317 656 C316.1 655.1 315.4 654 314.8 652.8 C314.2 651.7 313.8 650.4 313.4 648.9 C313 647.5 312.8 646 312.7 644.3 C312.6 642.7 312.6 641 312.8 639.2 C312.9 637.4 313.2 635.5 313.6 633.6 C314 631.8 314.5 629.8 315.2 627.9 C315.8 626 316.6 624 317.4 622.1 C318.3 620.2 319.3 618.2 320.3 616.4 C321.3 614.6 322.5 612.7 323.7 611 C324.9 609.3 326.2 607.6 327.5 606.1 C328.9 604.6 330.3 603.1 331.7 601.8 C333.1 600.5 334.6 599.3 336 598.3 C337.5 597.2 339 596.3 340.4 595.6 C341.9 594.8 343.3 594.2 344.7 593.8 C346.1 593.4 347.5 593.1 348.8 593 C350.1 592.9 351.4 593 352.6 593.3 C353.7 593.5 354.9 593.9 355.9 594.5Z"/>
<path d="M329.9 655.2 C328.5 655.5 327 655.9 325.7 656 C324.3 656 323 655.8 321.8 655.5 C320.6 655.1 319.5 654.6 318.5 653.8 C317.6 653.1 316.7 652.1 316 651 C315.2 649.9 314.6 648.6 314.2 647.2 C313.8 645.8 313.5 644.2 313.3 642.6 C313.2 640.9 313.2 639.1 313.3 637.2 C313.5 635.3 313.8 633.4 314.3 631.4 C314.7 629.4 315.3 627.4 316.1 625.3 C316.8 623.3 317.7 621.3 318.7 619.3 C319.6 617.3 320.8 615.4 321.9 613.5 C323.1 611.6 324.5 609.8 325.8 608.2 C327.2 606.5 328.6 604.9 330.1 603.5 C331.5 602.1 333.1 600.8 334.6 599.8 C336.1 598.7 337.7 597.7 339.2 597 C340.7 596.3 342.2 595.7 343.7 595.4 C345.1 595 346.5 594.9 347.8 594.9 C349.1 595 350.4 595.3 351.5 595.7 C352.7 596.2 353.7 596.8 354.6 597.7 C355.6 598.5 356.4 599.6 357 600.7 C357.7 601.9 358.1 603.4 358.6 604.8"/>
</g>
<g id="bc">
<path d="M377.3 634.5 C378.1 634.1 379 633.6 379.8 633.3 C380.6 633 381.4 632.8 382.1 632.8 C382.9 632.7 383.6 632.7 384.3 632.9 C385 633 385.6 633.3 386.2 633.7 C386.7 634 387.2 634.5 387.6 635.1 C388 635.7 388.4 636.4 388.6 637.1 C388.9 637.9 389.1 638.7 389.1 639.6 C389.2 640.5 389.2 641.5 389.1 642.5 C389.1 643.5 388.9 644.6 388.6 645.7 C388.4 646.7 388.1 647.9 387.6 649 C387.2 650 386.7 651.2 386.2 652.2 C385.6 653.3 385 654.4 384.4 655.4 C383.7 656.4 383 657.3 382.2 658.2 C381.5 659.1 380.7 660 379.8 660.7 C379 661.4 378.2 662.1 377.4 662.7 C376.5 663.2 375.7 663.7 374.8 664 C374 664.4 373.2 664.6 372.4 664.8 C371.7 664.9 370.9 664.9 370.2 664.8 C369.5 664.7 368.9 664.5 368.3 664.2 C367.7 663.9 367.2 663.5 366.7 662.9 C366.3 662.4 365.9 661.8 365.6 661.1 C365.3 660.4 365.1 659.5 364.9 658.7 C364.8 657.8 364.7 656.9 364.8 655.9 C364.8 654.9 364.9 653.8 365.1 652.8 C365.4 651.7 365.7 650.6 366 649.5 C366.4 648.4 366.8 647.3 367.4 646.2 C367.9 645.1 368.5 644 369.1 643 C369.7 642 370.4 641 371.2 640.1 C371.9 639.2 372.7 638.4 373.5 637.5"/>
<path d="M377.7 638.3 C378.2 638 378.8 637.7 379.4 637.5 C380 637.4 380.5 637.3 381 637.3 C381.6 637.2 382.1 637.3 382.5 637.4 C383 637.6 383.4 637.8 383.8 638.1 C384.1 638.4 384.5 638.8 384.8 639.2 C385 639.6 385.3 640.1 385.4 640.7 C385.6 641.2 385.7 641.8 385.7 642.5 C385.8 643.1 385.8 643.8 385.7 644.5 C385.6 645.3 385.5 646 385.3 646.8 C385.1 647.5 384.9 648.3 384.6 649.1 C384.3 649.9 383.9 650.7 383.5 651.4 C383.1 652.2 382.7 652.9 382.2 653.6 C381.7 654.3 381.2 655 380.7 655.6 C380.2 656.2 379.6 656.8 379 657.4 C378.4 657.9 377.9 658.3 377.3 658.7 C376.7 659.1 376.1 659.5 375.5 659.7 C374.9 660 374.3 660.1 373.8 660.2 C373.2 660.3 372.7 660.4 372.2 660.3 C371.7 660.3 371.3 660.1 370.8 659.9 C370.4 659.7 370 659.4 369.7 659 C369.4 658.7 369.1 658.3 368.9 657.8 C368.7 657.3 368.5 656.7 368.4 656.1 C368.3 655.5 368.2 654.9 368.2 654.2 C368.2 653.5 368.3 652.8 368.4 652 C368.6 651.3 368.7 650.5 369 649.7 C369.2 649 369.5 648.2 369.9 647.4 C370.2 646.7 370.6 645.9 371 645.1 C371.5 644.4 371.9 643.7 372.4 643 C372.9 642.4 373.5 641.8 374 641.1"/>
<path d="M377.3 634.5 L377.7 638.3"/>
<path d="M373.5 637.5 L374 641.1"/>
<path d="M445.6 642.2 C447.7 641.7 449.9 641 451.9 640.8 C453.9 640.7 455.9 640.8 457.6 641.3 C459.4 641.7 461.1 642.4 462.6 643.4 C464 644.4 465.4 645.7 466.5 647.2 C467.6 648.7 468.6 650.5 469.3 652.5 C470 654.4 470.5 656.7 470.8 659 C471.1 661.3 471.1 663.9 470.9 666.5 C470.8 669.1 470.4 671.9 469.8 674.7 C469.2 677.5 468.3 680.4 467.3 683.3 C466.3 686.1 465 689 463.6 691.8 C462.2 694.5 460.6 697.3 458.9 699.9 C457.2 702.5 455.3 705 453.4 707.3 C451.4 709.6 449.3 711.8 447.2 713.7 C445.1 715.6 442.9 717.4 440.7 718.8 C438.5 720.2 436.3 721.5 434.1 722.4 C431.9 723.3 429.8 724 427.7 724.3 C425.6 724.7 423.6 724.7 421.8 724.5 C419.9 724.3 418.1 723.8 416.5 723 C414.9 722.2 413.5 721.1 412.2 719.8 C411 718.4 409.9 716.8 409 715 C408.1 713.2 407.5 711.1 407 708.9 C406.6 706.6 406.4 704.2 406.4 701.7 C406.4 699.1 406.7 696.4 407.1 693.7 C407.6 690.9 408.3 688 409.1 685.2 C410 682.4 411.1 679.5 412.4 676.6 C413.7 673.8 415.2 671 416.8 668.3 C418.4 665.7 420.2 663.1 422 660.6 C423.9 658.2 425.9 655.9 428 653.9 C430.1 651.8 432.3 650.1 434.4 648.3"/>
<path d="M454.9 640.1 C455.8 641.7 457 643.2 457.8 645 C458.6 646.9 459.1 649 459.5 651.2 C459.9 653.5 460 655.9 459.9 658.4 C459.9 661 459.6 663.7 459.1 666.4 C458.6 669.1 457.8 671.9 456.9 674.7 C456 677.5 454.9 680.4 453.6 683.1 C452.3 685.9 450.9 688.6 449.3 691.2 C447.7 693.9 445.9 696.4 444 698.8 C442.2 701.1 440.2 703.4 438.1 705.4 C436.1 707.4 434 709.3 431.8 710.8 C429.7 712.4 427.5 713.8 425.3 714.9 C423.2 716 421 716.8 418.9 717.4 C416.9 718 414.8 718.3 412.9 718.3 C411 718.3 409.1 718 407.5 717.4 C405.8 716.9 404.2 716 402.8 714.9 C401.4 713.8 400.2 712.4 399.2 710.9 C398.2 709.3 397.3 707.4 396.7 705.4 C396.1 703.4 395.7 701.2 395.5 698.8 C395.3 696.4 395.3 693.9 395.5 691.3 C395.7 688.7 396.2 685.9 396.9 683.2 C397.5 680.4 398.4 677.5 399.5 674.8 C400.5 672 401.8 669.1 403.2 666.4 C404.6 663.7 406.2 661 407.9 658.5 C409.6 655.9 411.5 653.5 413.4 651.3 C415.3 649 417.4 647.1 419.5 645"/>
<path d="M414.7 639.9 C417.2 638.6 419.8 637.3 422.1 636 C424.4 634.8 427 632.9 428.6 632.2 C430.1 631.4 430.2 630.9 431.3 631.4 C432.5 632 434.3 633.9 435.5 635.6 C436.6 637.3 437.6 639.7 438.3 641.6 C438.9 643.4 438.9 645 439.2 646.7"/>
<path d="M435.5 632.5 C436.6 632.5 437.6 631.9 438.7 632.5 C439.8 633.1 441.2 634.5 442 636 C442.7 637.6 443.3 640.2 443.3 641.6 C443.4 643 442.7 643.6 442.4 644.5"/>
<path d="M428.6 654.7 L439.2 647.1"/>
<path d="M414.7 639.9 C416.5 640.2 418.5 639.8 420.2 640.7 C421.9 641.6 423.7 643.4 424.9 645.3 C426 647.1 427 650.1 427.2 651.8 C427.4 653.4 426.4 654.1 426 655.3"/>
<path d="M417 642.7 C418.5 643.3 420.5 643.3 421.6 644.4 C422.8 645.4 423.6 647.5 423.9 649 C424.3 650.4 423.8 651.8 423.8 653.1"/>
<path d="M408.7 647.3 L417 643.3"/>
<path d="M414.7 658.4 L423.9 653.8"/>
<path d="M412.1 647.6 C411.2 647.4 409.9 647.7 409.1 648.2 C408.4 648.8 407.6 649.9 407.5 651 C407.3 652.2 407.6 654 408.2 655.2 C408.8 656.3 410 657.5 411 658 C412 658.6 413.3 658.9 414.2 658.7 C415.1 658.4 416 657.5 416.4 656.6 C416.7 655.6 416.6 654.1 416.4 652.9 C416.1 651.7 415.4 650.3 414.7 649.4 C414 648.6 413 647.8 412.1 647.6Z"/>
<path d="M408 655.5 L402.3 664.9 L413.8 671.9 L420.2 661.5"/>
</g>
<g id="d">
<path d="M491.4 766.4 C490 765.4 488.5 764.7 487.3 763.4 C486.1 762.2 485 760.7 484.2 759.1 C483.3 757.4 482.6 755.5 482.2 753.5 C481.7 751.4 481.4 749.1 481.4 746.8 C481.3 744.5 481.4 741.9 481.8 739.4 C482.1 736.8 482.6 734.1 483.4 731.5 C484.1 728.8 485 726.1 486.1 723.4 C487.2 720.7 488.5 718.1 489.9 715.5 C491.3 712.9 492.9 710.4 494.6 708.1 C496.2 705.7 498.1 703.5 499.9 701.4 C501.8 699.4 503.8 697.5 505.8 695.8 C507.7 694.2 509.8 692.7 511.8 691.5 C513.9 690.3 515.9 689.3 517.9 688.6 C519.9 687.9 521.9 687.4 523.8 687.2 C525.6 687 527.3 687.4 529.1 687.5"/>
<path d="M489.9 763.7 C488.8 762.2 487.6 760.9 486.8 759.1 C486 757.4 485.3 755.4 484.9 753.3 C484.4 751.2 484.2 748.8 484.2 746.4 C484.2 744 484.4 741.4 484.9 738.7 C485.3 736.1 485.9 733.4 486.8 730.7 C487.6 727.9 488.7 725.2 489.9 722.5 C491.1 719.8 492.5 717.1 494 714.6 C495.5 712 497.2 709.5 499 707.3 C500.8 705 502.7 702.8 504.6 700.9 C506.6 699 508.7 697.2 510.7 695.7 C512.8 694.2 514.9 692.9 516.9 691.9 C519 691 521 690.2 523 689.8 C525 689.3 526.8 689.5 528.7 689.3"/>
<path d="M497.4 768.9 C496.2 767.6 494.9 766.5 493.9 765 C492.9 763.4 492 761.6 491.4 759.7 C490.8 757.7 490.4 755.5 490.2 753.2 C490 750.9 490 748.5 490.3 745.9 C490.5 743.4 490.9 740.7 491.6 738 C492.2 735.3 493.1 732.5 494.1 729.8 C495.1 727.1 496.3 724.4 497.7 721.8 C499.1 719.1 500.6 716.5 502.3 714.1 C503.9 711.7 505.8 709.4 507.6 707.2 C509.5 705.1 511.5 703.1 513.5 701.4 C515.5 699.7 517.6 698.1 519.6 696.9 C521.7 695.6 523.8 694.6 525.8 693.8 C527.8 693.1 529.9 692.6 531.8 692.4 C533.7 692.2 535.4 692.5 537.2 692.6"/>
<path d="M501.4 772.3 C500 771.2 498.5 770.3 497.3 768.9 C496.1 767.6 495.1 765.9 494.3 764.1 C493.5 762.2 492.9 760.1 492.6 757.9 C492.2 755.7 492 753.2 492.1 750.7 C492.1 748.2 492.4 745.5 492.9 742.8 C493.4 740.1 494.1 737.2 495 734.4 C496 731.7 497.1 728.8 498.4 726.1 C499.6 723.3 501.1 720.6 502.7 718 C504.3 715.4 506.1 712.9 507.9 710.6 C509.8 708.3 511.8 706.1 513.8 704.2 C515.8 702.3 517.9 700.5 520 699.1 C522.1 697.6 524.3 696.3 526.4 695.4 C528.5 694.4 530.6 693.7 532.6 693.3 C534.6 692.9 536.6 692.8 538.4 693 C540.3 693.2 541.9 693.9 543.6 694.4"/>
<path d="M519.2 775.6 C518 774.8 516.7 774.1 515.6 773.1 C514.6 772 513.6 770.7 512.9 769.3 C512.2 767.8 511.6 766.2 511.1 764.4 C510.7 762.6 510.5 760.7 510.4 758.6 C510.3 756.6 510.4 754.4 510.7 752.2 C511 750 511.5 747.6 512.1 745.3 C512.7 743 513.5 740.6 514.4 738.3 C515.3 736 516.4 733.6 517.7 731.4 C518.9 729.2 520.2 727 521.7 724.9 C523.1 722.9 524.7 720.9 526.3 719.1 C527.9 717.3 529.6 715.6 531.3 714.1 C533 712.6 534.8 711.3 536.6 710.2 C538.4 709.1 540.2 708.2 541.9 707.6 C543.7 706.9 545.4 706.4 547 706.2 C548.7 706 550.3 706 551.8 706.3 C553.3 706.5 554.5 707.3 555.9 707.7"/>
<path d="M526.2 778.3 C525.1 777.4 523.8 776.7 522.9 775.6 C521.9 774.5 521.1 773.2 520.4 771.7 C519.7 770.2 519.2 768.6 518.9 766.8 C518.5 765 518.3 763.1 518.3 761.1 C518.3 759 518.5 756.9 518.8 754.7 C519.1 752.5 519.6 750.3 520.3 748 C520.9 745.7 521.8 743.4 522.7 741.2 C523.7 738.9 524.8 736.7 526 734.5 C527.2 732.4 528.6 730.3 530 728.3 C531.5 726.4 533 724.5 534.6 722.8 C536.2 721.1 537.9 719.5 539.6 718.1 C541.2 716.7 543 715.5 544.7 714.5 C546.4 713.6 548.2 712.7 549.8 712.2 C551.5 711.6 553.2 711.3 554.8 711.1 C556.3 711 557.9 711.1 559.3 711.4 C560.7 711.7 561.9 712.5 563.2 713"/>
<path d="M541.3 784 C540.2 783.2 539 782.6 538 781.6 C537.1 780.7 536.2 779.5 535.6 778.1 C534.9 776.8 534.3 775.3 533.9 773.6 C533.6 772 533.4 770.2 533.3 768.3 C533.3 766.4 533.4 764.4 533.6 762.3 C533.9 760.3 534.4 758.1 535 756 C535.5 753.8 536.3 751.6 537.2 749.5 C538.1 747.4 539.1 745.2 540.2 743.2 C541.4 741.1 542.6 739.1 544 737.2 C545.3 735.3 546.8 733.5 548.3 731.9 C549.8 730.3 551.4 728.7 553 727.4 C554.6 726.1 556.2 724.9 557.9 724 C559.5 723 561.1 722.2 562.7 721.7 C564.3 721.1 565.9 720.8 567.4 720.7 C568.9 720.5 570.4 720.6 571.7 720.9 C573 721.2 574.2 721.9 575.4 722.5"/>
<path d="M551.4 784.1 C550.5 783.4 549.5 782.8 548.7 781.9 C547.9 781.1 547.3 780 546.7 778.8 C546.2 777.6 545.7 776.3 545.5 774.8 C545.2 773.4 545 771.8 545 770.2 C545 768.5 545.2 766.8 545.4 765 C545.7 763.3 546.1 761.4 546.6 759.6 C547.2 757.8 547.8 755.9 548.6 754.1 C549.4 752.2 550.3 750.4 551.3 748.7 C552.3 746.9 553.4 745.2 554.5 743.6 C555.7 742 556.9 740.5 558.2 739.1 C559.5 737.8 560.9 736.5 562.3 735.4 C563.6 734.3 565 733.3 566.4 732.5 C567.8 731.7 569.2 731 570.6 730.6 C571.9 730.1 573.3 729.8 574.6 729.7 C575.9 729.6 577.1 729.7 578.2 729.9 C579.4 730.2 580.4 730.8 581.4 731.3"/>
<path d="M560.2 784.5 C559.4 783.9 558.6 783.4 557.9 782.6 C557.2 781.9 556.6 780.9 556.1 779.9 C555.6 778.9 555.3 777.7 555 776.4 C554.8 775.2 554.7 773.8 554.6 772.4 C554.6 771 554.8 769.4 555 767.9 C555.2 766.4 555.6 764.7 556 763.2 C556.5 761.6 557.1 759.9 557.8 758.3 C558.4 756.8 559.2 755.2 560.1 753.6 C561 752.1 561.9 750.6 562.9 749.2 C563.9 747.9 565 746.5 566.2 745.3 C567.3 744.1 568.5 743 569.7 742 C570.9 741.1 572.1 740.2 573.3 739.5 C574.5 738.8 575.7 738.2 576.9 737.8 C578.1 737.4 579.3 737.2 580.4 737.1 C581.5 737 582.6 737.1 583.6 737.3 C584.6 737.5 585.5 738.1 586.4 738.5"/>
<path d="M570.6 784.1 C570 783.5 569.3 783 568.8 782.2 C568.4 781.5 567.9 780.6 567.7 779.6 C567.4 778.7 567.2 777.6 567.1 776.5 C567 775.4 567 774.1 567.1 772.9 C567.2 771.7 567.4 770.3 567.7 769 C568 767.7 568.5 766.4 569 765 C569.5 763.7 570.1 762.4 570.7 761.1 C571.4 759.8 572.2 758.5 573 757.4 C573.8 756.2 574.7 755 575.6 754 C576.5 753 577.5 752 578.5 751.2 C579.4 750.3 580.5 749.6 581.5 748.9 C582.5 748.3 583.5 747.8 584.5 747.5 C585.5 747.1 586.5 746.9 587.4 746.8 C588.3 746.7 589.2 746.7 590.1 746.9 C590.9 747.1 591.6 747.5 592.4 747.8"/>
<path d="M546.7 729 C548.1 727.9 549.5 726.7 550.9 725.7 C552.3 724.7 553.7 723.9 555.1 723.3 C556.5 722.7 557.9 722.2 559.3 721.9 C560.6 721.6 561.8 721.7 563.1 721.6"/>
<path d="M556.2 736.6 C557.5 735.6 558.7 734.5 559.9 733.7 C561.1 732.9 562.3 732.1 563.5 731.6 C564.8 731 566 730.6 567.1 730.4 C568.3 730.1 569.4 730.2 570.5 730.1"/>
<path d="M564 743.2 C565 742.4 566 741.4 567.1 740.7 C568.1 740 569.2 739.4 570.2 738.9 C571.3 738.5 572.3 738.1 573.3 737.9 C574.3 737.7 575.2 737.7 576.2 737.7"/>
<path d="M533.2 772.6 C532.7 771.2 532.1 770.1 531.7 768.6 C531.4 767.2 531.1 765.5 531.1 763.9 C531 762.2 531.2 760.3 531.3 758.6"/>
<path d="M544.5 774.5 C544 773.4 543.5 772.3 543.1 771.1 C542.8 769.8 542.7 768.4 542.6 766.9 C542.5 765.5 542.7 763.8 542.8 762.3"/>
<path d="M554 775.5 C553.6 774.5 553.1 773.6 552.8 772.5 C552.6 771.5 552.4 770.3 552.4 769 C552.3 767.8 552.5 766.4 552.6 765.1"/>
<path d="M531.1 688.7 C532.4 688.9 533.2 688.5 534.9 689.2 C536.6 689.9 539.5 691.8 541.3 693.1 C543.1 694.4 544 695.3 545.5 696.9 C546.9 698.5 548.4 701.1 550.1 702.9 C551.9 704.7 553.9 706.1 555.9 707.7 C558 709.4 560.5 711.1 562.6 712.7 C564.7 714.2 566.5 715.6 568.6 717.1 C570.6 718.7 573.3 720.5 574.8 722.1 C576.4 723.7 577 725.5 578 726.9 C579 728.4 579.6 729.1 580.9 730.9 C582.2 732.8 584.1 735.4 585.9 738.2 C587.8 741 591 745.3 592 747.6 C593 750 591.9 750.8 591.9 752.4"/>
<path d="M490.6 766 C493.4 767.4 495.7 768.7 499.1 770.2 C502.5 771.8 507.6 774.6 511 775.3 C514.4 776.1 517 774.2 519.6 774.6 C522.3 775.1 524 776.8 526.8 778 C529.6 779.3 533.7 781.2 536.5 782 C539.3 782.8 541 782.5 543.6 782.8 C546.2 783 549.2 783.2 551.9 783.5 C554.6 783.7 557.3 784.1 559.9 784.4 C562.5 784.6 565.5 784.9 567.7 784.8 C569.8 784.6 571.4 784 572.9 783.6 C574.4 783.1 575.3 782.5 576.5 782"/>
<path d="M568.7 776.1 C568.4 775.5 568 774.9 567.8 774.2 C567.5 773.5 567.4 772.8 567.3 772 C567.2 771.1 567.2 770.2 567.2 769.3 C567.3 768.4 567.4 767.5 567.7 766.5 C567.9 765.5 568.2 764.5 568.5 763.5 C568.9 762.6 569.3 761.6 569.8 760.6 C570.3 759.7 570.8 758.7 571.4 757.9 C572 757 572.7 756.1 573.3 755.3 C574 754.6 574.7 753.8 575.5 753.2 C576.2 752.6 576.9 752 577.7 751.6 C578.4 751.1 579.2 750.7 579.9 750.4 C580.6 750.2 581.4 750 582.1 749.9 C582.7 749.8 583.4 750 584 750"/>
<path d="M571.3 777.5 C571 776.9 570.6 776.4 570.4 775.7 C570.2 775 570 774.2 569.9 773.4 C569.8 772.6 569.8 771.7 569.9 770.8 C569.9 769.9 570.1 768.9 570.3 768 C570.5 767 570.8 766 571.2 765 C571.5 764 571.9 763 572.4 762.1 C572.9 761.1 573.5 760.2 574.1 759.3 C574.7 758.4 575.3 757.6 576 756.8 C576.6 756 577.4 755.3 578.1 754.7 C578.8 754 579.6 753.5 580.3 753 C581 752.5 581.8 752.2 582.5 751.9 C583.3 751.6 584 751.4 584.7 751.4 C585.4 751.3 586 751.4 586.7 751.4"/>
<path d="M590.7 753.4 L600.4 758.8"/>
<path d="M575.7 780.5 L585.3 785.9"/>
<path d="M581 783.5 C580.5 783.1 580 782.8 579.6 782.4 C579.2 781.9 578.8 781.4 578.6 780.8 C578.3 780.2 578.1 779.5 577.9 778.8 C577.8 778.1 577.7 777.3 577.7 776.5 C577.7 775.6 577.7 774.8 577.9 773.9 C578 773 578.2 772.1 578.5 771.1 C578.7 770.2 579 769.3 579.4 768.3 C579.8 767.4 580.3 766.5 580.7 765.6 C581.2 764.7 581.8 763.9 582.4 763.1 C582.9 762.2 583.6 761.5 584.2 760.8 C584.9 760 585.5 759.4 586.2 758.8 C586.9 758.2 587.6 757.7 588.3 757.3 C589 756.9 589.7 756.5 590.4 756.2 C591.1 756 591.8 755.8 592.5 755.7 C593.1 755.7 593.7 755.7 594.3 755.8 C594.9 755.9 595.4 756.2 596 756.3"/>
<path d="M600.4 758.8 C600.8 759 601.2 759.3 601.6 759.7 C602 760.1 602.3 760.5 602.5 761.1 C602.8 761.6 603 762.1 603.2 762.7 C603.4 763.3 603.5 764 603.6 764.7 C603.6 765.4 603.6 766.1 603.6 766.9 C603.5 767.7 603.4 768.5 603.3 769.3 C603.1 770.1 602.9 770.9 602.7 771.7 C602.4 772.5 602.1 773.4 601.8 774.2 C601.4 775 601 775.8 600.6 776.6 C600.1 777.4 599.7 778.2 599.1 778.9 C598.6 779.6 598.1 780.3 597.5 781 C597 781.6 596.4 782.3 595.8 782.8 C595.2 783.4 594.6 783.9 593.9 784.3 C593.3 784.8 592.7 785.1 592.1 785.5 C591.4 785.8 590.8 786 590.2 786.2 C589.6 786.4 589 786.5 588.4 786.5 C587.9 786.6 587.3 786.5 586.8 786.4 C586.3 786.3 585.8 786.1 585.3 785.9 C584.9 785.6 584.5 785.3 584.1 784.9 C583.7 784.6 583.4 784.1 583.1 783.6 C582.9 783.1 582.6 782.5 582.5 781.9 C582.3 781.3 582.2 780.7 582.1 780 C582.1 779.3 582 778.5 582.1 777.8 C582.1 777 582.2 776.2 582.4 775.4 C582.5 774.6 582.8 773.8 583 772.9 C583.3 772.1 583.6 771.3 583.9 770.5 C584.3 769.6 584.7 768.8 585.1 768 C585.6 767.3 586 766.5 586.5 765.8 C587 765 587.6 764.3 588.2 763.7 C588.7 763 589.3 762.4 589.9 761.8 C590.5 761.3 591.1 760.8 591.8 760.3 C592.4 759.9 593 759.5 593.6 759.2 C594.3 758.9 594.9 758.6 595.5 758.4 C596.1 758.3 596.7 758.2 597.3 758.1 C597.8 758.1 598.4 758.1 598.9 758.2 C599.4 758.3 599.9 758.5 600.4 758.8Z"/>
<path d="M599.5 761.4 C599.9 761.6 600.2 761.8 600.5 762.2 C600.8 762.5 601.1 762.8 601.3 763.3 C601.5 763.7 601.7 764.1 601.8 764.6 C602 765.1 602.1 765.7 602.1 766.3 C602.2 766.8 602.2 767.5 602.2 768.1 C602.1 768.7 602 769.4 601.9 770 C601.8 770.7 601.6 771.4 601.4 772.1 C601.2 772.7 600.9 773.4 600.6 774.1 C600.4 774.8 600 775.5 599.7 776.1 C599.3 776.8 598.9 777.4 598.5 778 C598.1 778.6 597.6 779.2 597.2 779.7 C596.7 780.3 596.2 780.8 595.7 781.2 C595.2 781.7 594.7 782.1 594.2 782.5 C593.7 782.8 593.1 783.2 592.6 783.4 C592.1 783.7 591.6 783.9 591.1 784 C590.6 784.2 590.1 784.3 589.6 784.3 C589.2 784.3 588.7 784.3 588.3 784.2 C587.9 784.1 587.4 784 587.1 783.8 C586.7 783.6 586.4 783.3 586.1 783 C585.8 782.7 585.5 782.3 585.3 781.9 C585 781.5 584.9 781 584.7 780.5 C584.6 780 584.5 779.4 584.4 778.9 C584.4 778.3 584.4 777.7 584.4 777.1 C584.4 776.4 584.5 775.8 584.7 775.1 C584.8 774.4 585 773.8 585.2 773.1 C585.4 772.4 585.6 771.7 585.9 771 C586.2 770.4 586.5 769.7 586.9 769 C587.3 768.4 587.7 767.7 588.1 767.1 C588.5 766.5 588.9 766 589.4 765.4 C589.9 764.9 590.4 764.4 590.9 763.9 C591.4 763.4 591.9 763 592.4 762.7 C592.9 762.3 593.4 762 593.9 761.7 C594.4 761.5 595 761.2 595.5 761.1 C596 761 596.5 760.9 596.9 760.8 C597.4 760.8 597.9 760.8 598.3 760.9 C598.7 761 599.1 761.2 599.5 761.4Z"/>
<path d="M598.9 763.5 C599.2 763.7 599.4 763.9 599.7 764.2 C599.9 764.4 600.2 764.8 600.4 765.1 C600.5 765.4 600.7 765.8 600.8 766.2 C600.9 766.7 601 767.1 601.1 767.6 C601.1 768.1 601.1 768.6 601.1 769.1 C601 769.6 601 770.2 600.9 770.7 C600.8 771.3 600.6 771.8 600.4 772.4 C600.3 773 600.1 773.5 599.8 774.1 C599.6 774.6 599.3 775.2 599 775.7 C598.7 776.3 598.4 776.8 598 777.3 C597.7 777.8 597.3 778.3 596.9 778.7 C596.5 779.2 596.1 779.6 595.7 780 C595.3 780.4 594.9 780.7 594.5 781 C594 781.3 593.6 781.6 593.2 781.8 C592.8 782 592.3 782.2 591.9 782.3 C591.5 782.4 591.1 782.5 590.7 782.5 C590.3 782.5 589.9 782.5 589.6 782.4 C589.2 782.4 588.9 782.3 588.6 782.1 C588.3 781.9 588 781.7 587.7 781.4 C587.5 781.2 587.3 780.9 587.1 780.5 C586.9 780.2 586.7 779.8 586.6 779.4 C586.5 779 586.4 778.5 586.4 778 C586.3 777.6 586.3 777 586.4 776.5 C586.4 776 586.5 775.5 586.6 774.9 C586.7 774.4 586.8 773.8 587 773.2 C587.2 772.7 587.4 772.1 587.6 771.5 C587.9 771 588.1 770.4 588.4 769.9 C588.7 769.3 589.1 768.8 589.4 768.3 C589.8 767.8 590.1 767.3 590.5 766.9 C590.9 766.4 591.3 766 591.7 765.6 C592.1 765.3 592.5 764.9 593 764.6 C593.4 764.3 593.8 764 594.3 763.8 C594.7 763.6 595.1 763.4 595.5 763.3 C595.9 763.2 596.4 763.1 596.7 763.1 C597.1 763.1 597.5 763.1 597.9 763.2 C598.2 763.2 598.6 763.4 598.9 763.5Z"/>
</g>
<g id="ef">
<path d="M652.5 790.8 C653.3 790.5 654.1 790.1 654.9 789.9 C655.6 789.7 656.4 789.7 657.1 789.7 C657.8 789.7 658.4 789.9 659 790.2 C659.6 790.4 660.2 790.8 660.6 791.3 C661.1 791.8 661.5 792.4 661.8 793 C662.1 793.7 662.3 794.5 662.5 795.3 C662.6 796.1 662.7 797 662.7 798 C662.7 798.9 662.6 800 662.4 801 C662.2 802.1 662 803.2 661.6 804.3 C661.3 805.4 660.8 806.5 660.4 807.6 C659.9 808.7 659.3 809.8 658.7 810.8 C658.1 811.9 657.4 812.9 656.7 813.9 C656 814.8 655.2 815.7 654.5 816.6 C653.7 817.4 652.9 818.2 652 818.9 C651.2 819.5 650.4 820.1 649.6 820.6 C648.7 821.1 647.9 821.5 647.1 821.8 C646.3 822 645.6 822.2 644.8 822.3 C644.1 822.3 643.4 822.3 642.8 822.1 C642.1 821.9 641.5 821.6 641 821.3 C640.5 820.9 640 820.4 639.6 819.8 C639.3 819.2 638.9 818.5 638.7 817.8 C638.5 817 638.4 816.1 638.3 815.2 C638.2 814.3 638.3 813.3 638.4 812.3 C638.5 811.3 638.7 810.2 638.9 809.2 C639.2 808.1 639.6 807 640 805.9 C640.4 804.8 640.9 803.7 641.5 802.6 C642 801.5 642.7 800.4 643.3 799.4 C644 798.4 644.7 797.5 645.5 796.6 C646.2 795.7 647 794.9 647.8 794.1"/>
<path d="M653.4 787.1 C653.8 787.6 654.2 788.1 654.6 788.8 C654.9 789.4 655.1 790.2 655.3 791 C655.4 791.9 655.5 792.8 655.5 793.8 C655.5 794.7 655.4 795.8 655.2 796.8 C655 797.9 654.8 799 654.4 800.1 C654.1 801.2 653.7 802.3 653.2 803.4 C652.7 804.5 652.1 805.6 651.5 806.7 C650.9 807.7 650.2 808.8 649.5 809.7 C648.8 810.7 648 811.6 647.2 812.5 C646.4 813.3 645.6 814.1 644.8 814.8 C644 815.4 643.1 816 642.3 816.5 C641.5 817 640.6 817.4 639.8 817.7 C639 817.9 638.3 818.1 637.5 818.1 C636.8 818.2 636.1 818.1 635.4 817.9 C634.8 817.7 634.2 817.4 633.7 817 C633.2 816.6 632.7 816.1 632.4 815.5 C632 814.9 631.7 814.2 631.5 813.4 C631.3 812.6 631.1 811.8 631.1 810.8 C631 809.9 631.1 808.9 631.2 807.9 C631.3 806.8 631.6 805.8 631.8 804.7 C632.1 803.6 632.5 802.4 633 801.3 C633.4 800.2 633.9 799.1 634.5 798 C635.1 797 635.7 795.9 636.4 794.9 C637.1 793.9 637.9 793 638.6 792"/>
<path d="M635.7 786.4 C637.2 785.6 638.7 784.9 640 784.1 C641.4 783.4 642.9 782.3 643.8 781.9 C644.7 781.4 644.7 781.1 645.4 781.4 C646 781.8 647.1 782.9 647.8 783.8 C648.5 784.8 649 786.3 649.4 787.3 C649.8 788.4 649.8 789.3 649.9 790.3"/>
<path d="M647.8 782.1 C648.4 782.1 649 781.7 649.7 782.1 C650.3 782.4 651.1 783.2 651.5 784.1 C652 785 652.3 786.5 652.3 787.3 C652.4 788.1 652 788.5 651.8 789"/>
<path d="M643.8 794.9 L649.9 790.5"/>
<path d="M635.7 786.4 C636.8 786.5 638 786.3 638.9 786.8 C639.9 787.3 641 788.4 641.6 789.5 C642.3 790.5 642.9 792.3 643 793.2 C643.1 794.2 642.5 794.6 642.3 795.3"/>
<path d="M637.1 788 C638 788.3 639.1 788.3 639.8 788.9 C640.4 789.5 640.9 790.8 641.1 791.6 C641.3 792.5 641 793.2 641 794"/>
<path d="M632.2 790.6 L637.1 788.3"/>
<path d="M635.7 797.1 L641.1 794.4"/>
<path d="M634.2 790.8 C633.7 790.7 633 790.9 632.5 791.2 C632.1 791.5 631.6 792.1 631.5 792.8 C631.5 793.5 631.6 794.5 632 795.2 C632.3 795.9 633 796.5 633.6 796.9 C634.2 797.2 634.9 797.4 635.5 797.2 C636 797.1 636.5 796.6 636.7 796 C636.9 795.4 636.9 794.6 636.7 793.9 C636.5 793.2 636.1 792.4 635.7 791.9 C635.3 791.4 634.8 790.9 634.2 790.8Z"/>
<path d="M631.9 795.4 L628.5 800.8 L635.2 804.9 L638.9 798.8"/>
<path d="M682.9 837 C682.6 836.8 682.3 836.7 682.1 836.4 C681.8 836.1 681.6 835.8 681.5 835.4 C681.3 835 681.2 834.6 681.1 834.2 C681 833.7 681 833.3 681 832.8 C681 832.3 681.1 831.7 681.1 831.2 C681.2 830.6 681.4 830.1 681.5 829.5 C681.7 828.9 681.9 828.3 682.2 827.8 C682.4 827.2 682.7 826.6 683 826.1 C683.3 825.5 683.7 825 684 824.5 C684.4 824 684.8 823.5 685.2 823.1 C685.6 822.7 686 822.3 686.4 821.9 C686.8 821.5 687.3 821.2 687.7 821 C688.1 820.7 688.6 820.5 689 820.3 C689.4 820.2 689.8 820 690.2 820 C690.6 819.9 691 819.9 691.4 820 C691.7 820.1 692 820.2 692.3 820.4"/>
<path d="M692.3 820.4 L709.7 830.2"/>
<path d="M682.9 837 L700.2 846.9"/>
<path d="M691.8 820.7 L707 829.3" style="stroke-width:1.5;"/>
<path d="M689.4 821.5 L704.6 830.1" style="stroke-width:1.5;"/>
<path d="M686.9 823.4 L702.1 832.1" style="stroke-width:1.5;"/>
<path d="M684.7 826.3 L699.9 834.9" style="stroke-width:1.5;"/>
<path d="M683.1 829.5 L698.3 838.2" style="stroke-width:1.5;"/>
<path d="M682.3 832.8 L697.6 841.5" style="stroke-width:1.5;"/>
<path d="M682.6 835.6 L697.8 844.2" style="stroke-width:1.5;"/>
<path d="M700.2 846.9 C700 846.7 699.7 846.5 699.4 846.3 C699.2 846 699 845.7 698.9 845.3 C698.7 844.9 698.6 844.5 698.5 844.1 C698.4 843.6 698.4 843.1 698.4 842.6 C698.4 842.1 698.4 841.6 698.5 841 C698.6 840.5 698.8 839.9 698.9 839.4 C699.1 838.8 699.3 838.2 699.6 837.6 C699.8 837.1 700.1 836.5 700.4 836 C700.7 835.4 701.1 834.9 701.4 834.4 C701.8 833.9 702.2 833.4 702.6 833 C703 832.5 703.4 832.1 703.8 831.8 C704.2 831.4 704.7 831.1 705.1 830.8 C705.5 830.6 706 830.4 706.4 830.2 C706.8 830 707.2 829.9 707.6 829.9 C708 829.8 708.4 829.8 708.7 829.9 C709.1 829.9 709.4 830.1 709.7 830.2"/>
<path d="M704.6 849.4 C704.3 849.2 704 849 703.8 848.7 C703.6 848.5 703.4 848.1 703.2 847.8 C703 847.4 702.9 847 702.8 846.5 C702.8 846.1 702.7 845.6 702.7 845.1 C702.7 844.6 702.8 844.1 702.9 843.5 C703 843 703.1 842.4 703.3 841.8 C703.5 841.3 703.7 840.7 703.9 840.1 C704.2 839.6 704.4 839 704.7 838.4 C705.1 837.9 705.4 837.4 705.8 836.9 C706.1 836.4 706.5 835.9 706.9 835.4 C707.3 835 707.7 834.6 708.2 834.2 C708.6 833.9 709 833.6 709.4 833.3 C709.9 833 710.3 832.8 710.7 832.7 C711.1 832.5 711.6 832.4 712 832.3 C712.4 832.3 712.7 832.3 713.1 832.4 C713.4 832.4 713.8 832.6 714.1 832.7"/>
<path d="M708.9 851.9 C708.7 851.6 708.4 851.5 708.1 851.2 C707.9 850.9 707.7 850.6 707.5 850.2 C707.4 849.9 707.3 849.5 707.2 849 C707.1 848.6 707.1 848.1 707.1 847.6 C707.1 847.1 707.1 846.5 707.2 846 C707.3 845.4 707.5 844.9 707.6 844.3 C707.8 843.7 708 843.2 708.3 842.6 C708.5 842 708.8 841.5 709.1 840.9 C709.4 840.4 709.7 839.8 710.1 839.3 C710.5 838.8 710.9 838.4 711.3 837.9 C711.7 837.5 712.1 837.1 712.5 836.7 C712.9 836.4 713.4 836 713.8 835.8 C714.2 835.5 714.7 835.3 715.1 835.1 C715.5 835 715.9 834.9 716.3 834.8 C716.7 834.8 717.1 834.8 717.4 834.8 C717.8 834.9 718.1 835.1 718.4 835.2"/>
<path d="M713.3 854.3 C713 854.1 712.7 853.9 712.5 853.7 C712.3 853.4 712.1 853.1 711.9 852.7 C711.7 852.3 711.6 851.9 711.5 851.5 C711.5 851 711.4 850.5 711.4 850 C711.4 849.5 711.5 849 711.6 848.5 C711.7 847.9 711.8 847.3 712 846.8 C712.1 846.2 712.4 845.6 712.6 845.1 C712.8 844.5 713.1 843.9 713.4 843.4 C713.7 842.8 714.1 842.3 714.5 841.8 C714.8 841.3 715.2 840.8 715.6 840.4 C716 839.9 716.4 839.5 716.8 839.2 C717.3 838.8 717.7 838.5 718.1 838.2 C718.6 838 719 837.8 719.4 837.6 C719.8 837.4 720.3 837.3 720.7 837.3 C721.1 837.2 721.4 837.2 721.8 837.3 C722.1 837.4 722.4 837.5 722.8 837.6"/>
<path d="M709.7 830.2 L722.8 837.6"/>
<path d="M700.2 846.9 L713.3 854.3"/>
<path d="M722.2 838.7 L761.3 860.9"/>
<path d="M713.9 853.3 L753 875.5"/>
<path d="M752 877.3 C751.7 877.1 751.3 876.9 751.1 876.6 C750.8 876.3 750.6 876 750.4 875.6 C750.3 875.2 750.1 874.7 750.1 874.2 C750 873.7 749.9 873.2 749.9 872.7 C749.9 872.1 750 871.5 750.1 870.9 C750.2 870.3 750.3 869.7 750.5 869.1 C750.7 868.5 751 867.8 751.2 867.2 C751.5 866.6 751.8 866 752.1 865.4 C752.5 864.8 752.9 864.2 753.2 863.6 C753.6 863.1 754.1 862.6 754.5 862.1 C754.9 861.6 755.4 861.2 755.9 860.8 C756.3 860.4 756.8 860 757.3 859.7 C757.7 859.5 758.2 859.2 758.7 859 C759.1 858.9 759.6 858.7 760 858.7 C760.5 858.6 760.9 858.6 761.3 858.7 C761.7 858.8 762 859 762.3 859.1"/>
<path d="M757.2 880.3 C756.9 880.1 756.6 879.9 756.3 879.6 C756.1 879.3 755.8 878.9 755.7 878.5 C755.5 878.1 755.4 877.7 755.3 877.2 C755.2 876.7 755.2 876.2 755.2 875.6 C755.2 875.1 755.2 874.5 755.3 873.9 C755.4 873.3 755.6 872.7 755.8 872 C755.9 871.4 756.2 870.8 756.4 870.2 C756.7 869.5 757 868.9 757.4 868.3 C757.7 867.7 758.1 867.1 758.5 866.6 C758.9 866.1 759.3 865.5 759.7 865 C760.2 864.6 760.6 864.1 761.1 863.7 C761.5 863.3 762 863 762.5 862.7 C763 862.4 763.4 862.2 763.9 862 C764.4 861.8 764.8 861.7 765.2 861.7 C765.7 861.6 766.1 861.6 766.5 861.7 C766.9 861.7 767.2 861.9 767.6 862"/>
<path d="M763.3 883.8 C763 883.5 762.7 883.3 762.4 883 C762.1 882.7 761.9 882.4 761.7 882 C761.6 881.6 761.4 881.1 761.4 880.6 C761.3 880.2 761.2 879.6 761.2 879.1 C761.3 878.5 761.3 877.9 761.4 877.3 C761.5 876.7 761.7 876.1 761.8 875.5 C762 874.9 762.3 874.2 762.5 873.6 C762.8 873 763.1 872.4 763.4 871.8 C763.8 871.2 764.2 870.6 764.5 870.1 C764.9 869.5 765.4 869 765.8 868.5 C766.2 868 766.7 867.6 767.2 867.2 C767.6 866.8 768.1 866.5 768.6 866.2 C769 865.9 769.5 865.6 770 865.5 C770.4 865.3 770.9 865.2 771.3 865.1 C771.8 865.1 772.2 865.1 772.6 865.1 C773 865.2 773.3 865.4 773.6 865.5"/>
<path d="M769.4 887.2 C769.1 887 768.7 886.8 768.5 886.5 C768.2 886.2 768 885.8 767.8 885.4 C767.7 885 767.5 884.6 767.4 884.1 C767.4 883.6 767.3 883.1 767.3 882.5 C767.3 882 767.4 881.4 767.5 880.8 C767.6 880.2 767.7 879.6 767.9 879 C768.1 878.3 768.3 877.7 768.6 877.1 C768.9 876.5 769.2 875.8 769.5 875.2 C769.9 874.6 770.2 874.1 770.6 873.5 C771 873 771.5 872.4 771.9 872 C772.3 871.5 772.8 871 773.3 870.7 C773.7 870.3 774.2 869.9 774.7 869.6 C775.1 869.3 775.6 869.1 776.1 868.9 C776.5 868.7 777 868.6 777.4 868.6 C777.9 868.5 778.3 868.5 778.7 868.6 C779 868.6 779.4 868.8 779.7 869"/>
<path d="M776.3 891.2 C776 890.9 775.7 890.7 775.4 890.4 C775.2 890.1 775 889.8 774.8 889.4 C774.6 889 774.5 888.5 774.4 888.1 C774.3 887.6 774.3 887 774.3 886.5 C774.3 885.9 774.3 885.3 774.4 884.7 C774.5 884.1 774.7 883.5 774.9 882.9 C775.1 882.3 775.3 881.6 775.6 881 C775.8 880.4 776.1 879.8 776.5 879.2 C776.8 878.6 777.2 878 777.6 877.5 C778 876.9 778.4 876.4 778.9 875.9 C779.3 875.4 779.7 875 780.2 874.6 C780.7 874.2 781.2 873.9 781.6 873.6 C782.1 873.3 782.6 873 783 872.9 C783.5 872.7 783.9 872.6 784.4 872.5 C784.8 872.5 785.2 872.5 785.6 872.5 C786 872.6 786.3 872.8 786.7 872.9"/>
<path d="M782.4 894.6 C782.1 894.4 781.8 894.2 781.5 893.9 C781.3 893.6 781.1 893.2 780.9 892.8 C780.7 892.4 780.6 892 780.5 891.5 C780.4 891 780.4 890.5 780.4 889.9 C780.4 889.4 780.4 888.8 780.5 888.2 C780.6 887.6 780.8 887 781 886.4 C781.2 885.7 781.4 885.1 781.7 884.5 C781.9 883.9 782.2 883.2 782.6 882.7 C782.9 882.1 783.3 881.5 783.7 880.9 C784.1 880.4 784.5 879.9 784.9 879.4 C785.4 878.9 785.8 878.4 786.3 878.1 C786.8 877.7 787.2 877.3 787.7 877 C788.2 876.7 788.7 876.5 789.1 876.3 C789.6 876.2 790 876 790.5 876 C790.9 875.9 791.3 875.9 791.7 876 C792.1 876.1 792.4 876.2 792.8 876.4"/>
<path d="M762.3 859.1 L792.8 876.4"/>
<path d="M752 877.3 L782.4 894.6"/>
<path d="M791.7 878.2 L840.4 905.9"/>
<path d="M783.4 892.8 L832.1 920.5"/>
<path d="M845.3 903.4 C844.4 906 843.9 909.2 842.7 911 C841.5 912.8 839.7 913.2 838 914.2 C836.3 915.1 833.8 915.1 832.5 916.8 C831.1 918.5 830.8 921.9 829.9 924.4"/>
<path d="M851.4 906.9 C850.5 909.4 850 912.7 848.8 914.5 C847.6 916.2 845.8 916.6 844.1 917.6 C842.4 918.6 839.9 918.6 838.6 920.3 C837.2 922 836.9 925.3 836 927.8"/>
<path d="M848.3 910.3 L890 934"/>
<path d="M840 924.9 L881.7 948.6"/>
<path d="M880.7 950.4 C880.4 950.2 880 950 879.8 949.7 C879.5 949.4 879.3 949.1 879.1 948.7 C879 948.3 878.8 947.8 878.7 947.3 C878.7 946.8 878.6 946.3 878.6 945.8 C878.6 945.2 878.7 944.6 878.8 944 C878.9 943.4 879 942.8 879.2 942.2 C879.4 941.6 879.6 940.9 879.9 940.3 C880.2 939.7 880.5 939.1 880.8 938.5 C881.2 937.9 881.5 937.3 881.9 936.7 C882.3 936.2 882.8 935.7 883.2 935.2 C883.6 934.7 884.1 934.3 884.6 933.9 C885 933.5 885.5 933.1 886 932.8 C886.4 932.6 886.9 932.3 887.4 932.1 C887.8 932 888.3 931.8 888.7 931.8 C889.1 931.7 889.6 931.7 890 931.8 C890.3 931.9 890.7 932.1 891 932.2"/>
<path d="M885.9 953.4 C885.6 953.2 885.2 953 885 952.7 C884.7 952.4 884.5 952 884.3 951.6 C884.2 951.2 884 950.8 884 950.3 C883.9 949.8 883.8 949.3 883.8 948.7 C883.9 948.2 883.9 947.6 884 947 C884.1 946.4 884.3 945.8 884.4 945.1 C884.6 944.5 884.9 943.9 885.1 943.3 C885.4 942.6 885.7 942 886 941.4 C886.4 940.8 886.8 940.2 887.1 939.7 C887.5 939.2 888 938.6 888.4 938.2 C888.8 937.7 889.3 937.2 889.8 936.8 C890.2 936.4 890.7 936.1 891.2 935.8 C891.6 935.5 892.1 935.3 892.6 935.1 C893 934.9 893.5 934.8 893.9 934.8 C894.4 934.7 894.8 934.7 895.2 934.8 C895.6 934.8 895.9 935 896.2 935.2"/>
<path d="M892 956.9 C891.7 956.6 891.3 956.4 891.1 956.1 C890.8 955.8 890.6 955.5 890.4 955.1 C890.3 954.7 890.1 954.2 890 953.7 C890 953.3 889.9 952.7 889.9 952.2 C889.9 951.6 890 951 890.1 950.4 C890.2 949.8 890.3 949.2 890.5 948.6 C890.7 948 890.9 947.3 891.2 946.7 C891.5 946.1 891.8 945.5 892.1 944.9 C892.5 944.3 892.8 943.7 893.2 943.2 C893.6 942.6 894.1 942.1 894.5 941.6 C894.9 941.1 895.4 940.7 895.9 940.3 C896.3 939.9 896.8 939.6 897.3 939.3 C897.7 939 898.2 938.7 898.7 938.6 C899.1 938.4 899.6 938.3 900 938.2 C900.4 938.2 900.9 938.2 901.3 938.2 C901.6 938.3 902 938.5 902.3 938.6"/>
<path d="M898 960.3 C897.8 960.1 897.4 959.9 897.2 959.6 C896.9 959.3 896.7 958.9 896.5 958.5 C896.3 958.1 896.2 957.7 896.1 957.2 C896 956.7 896 956.2 896 955.6 C896 955.1 896.1 954.5 896.2 953.9 C896.3 953.3 896.4 952.7 896.6 952.1 C896.8 951.4 897 950.8 897.3 950.2 C897.6 949.6 897.9 948.9 898.2 948.3 C898.6 947.8 898.9 947.2 899.3 946.6 C899.7 946.1 900.1 945.5 900.6 945.1 C901 944.6 901.5 944.1 901.9 943.8 C902.4 943.4 902.9 943 903.4 942.7 C903.8 942.4 904.3 942.2 904.8 942 C905.2 941.8 905.7 941.7 906.1 941.7 C906.5 941.6 907 941.6 907.3 941.7 C907.7 941.8 908.1 941.9 908.4 942.1"/>
<path d="M904.1 963.8 C903.8 963.5 903.5 963.4 903.3 963.1 C903 962.8 902.8 962.4 902.6 962 C902.4 961.6 902.3 961.1 902.2 960.7 C902.1 960.2 902.1 959.6 902.1 959.1 C902.1 958.5 902.2 958 902.3 957.4 C902.4 956.8 902.5 956.1 902.7 955.5 C902.9 954.9 903.1 954.3 903.4 953.6 C903.7 953 904 952.4 904.3 951.8 C904.6 951.2 905 950.6 905.4 950.1 C905.8 949.5 906.2 949 906.7 948.5 C907.1 948 907.6 947.6 908 947.2 C908.5 946.8 909 946.5 909.4 946.2 C909.9 945.9 910.4 945.7 910.8 945.5 C911.3 945.3 911.8 945.2 912.2 945.1 C912.6 945.1 913 945.1 913.4 945.1 C913.8 945.2 914.1 945.4 914.5 945.5"/>
<path d="M910.2 967.2 C909.9 967 909.6 966.8 909.3 966.5 C909.1 966.2 908.9 965.9 908.7 965.5 C908.5 965.1 908.4 964.6 908.3 964.1 C908.2 963.6 908.2 963.1 908.2 962.6 C908.2 962 908.3 961.4 908.4 960.8 C908.5 960.2 908.6 959.6 908.8 959 C909 958.4 909.2 957.7 909.5 957.1 C909.7 956.5 910 955.9 910.4 955.3 C910.7 954.7 911.1 954.1 911.5 953.5 C911.9 953 912.3 952.5 912.8 952 C913.2 951.5 913.7 951.1 914.1 950.7 C914.6 950.3 915.1 949.9 915.5 949.6 C916 949.4 916.5 949.1 916.9 948.9 C917.4 948.8 917.8 948.6 918.3 948.6 C918.7 948.5 919.1 948.5 919.5 948.6 C919.9 948.7 920.2 948.9 920.6 949"/>
<path d="M891 932.2 L920.6 949"/>
<path d="M880.7 950.4 L910.2 967.2"/>
<path d="M919.6 950.8 L957.8 972.5"/>
<path d="M911.3 965.4 L949.5 987.1"/>
<path d="M948.9 988.2 C948.7 988 948.4 987.8 948.1 987.5 C947.9 987.3 947.7 986.9 947.5 986.6 C947.4 986.2 947.2 985.8 947.2 985.3 C947.1 984.9 947.1 984.4 947.1 983.9 C947.1 983.4 947.1 982.9 947.2 982.3 C947.3 981.8 947.4 981.2 947.6 980.6 C947.8 980.1 948 979.5 948.2 978.9 C948.5 978.4 948.8 977.8 949.1 977.2 C949.4 976.7 949.7 976.2 950.1 975.7 C950.4 975.2 950.8 974.7 951.2 974.2 C951.6 973.8 952.1 973.4 952.5 973 C952.9 972.7 953.3 972.4 953.8 972.1 C954.2 971.8 954.6 971.6 955.1 971.5 C955.5 971.3 955.9 971.2 956.3 971.1 C956.7 971.1 957.1 971.1 957.4 971.2 C957.8 971.2 958.1 971.4 958.4 971.5"/>
<path d="M952.4 990.2 C952.1 989.9 951.8 989.8 951.6 989.5 C951.4 989.2 951.2 988.9 951 988.5 C950.8 988.2 950.7 987.8 950.7 987.3 C950.6 986.9 950.5 986.4 950.5 985.9 C950.6 985.4 950.6 984.8 950.7 984.3 C950.8 983.7 950.9 983.2 951.1 982.6 C951.3 982 951.5 981.5 951.7 980.9 C952 980.3 952.2 979.8 952.6 979.2 C952.9 978.7 953.2 978.1 953.6 977.6 C953.9 977.1 954.3 976.7 954.7 976.2 C955.1 975.8 955.5 975.4 956 975 C956.4 974.7 956.8 974.3 957.3 974.1 C957.7 973.8 958.1 973.6 958.5 973.4 C959 973.3 959.4 973.2 959.8 973.1 C960.2 973.1 960.5 973.1 960.9 973.1 C961.3 973.2 961.6 973.4 961.9 973.5"/>
<path d="M955.9 992.1 C955.6 991.9 955.3 991.7 955.1 991.5 C954.8 991.2 954.6 990.9 954.5 990.5 C954.3 990.1 954.2 989.7 954.1 989.3 C954.1 988.8 954 988.4 954 987.9 C954 987.4 954.1 986.8 954.2 986.3 C954.3 985.7 954.4 985.1 954.6 984.6 C954.7 984 954.9 983.4 955.2 982.9 C955.4 982.3 955.7 981.7 956 981.2 C956.3 980.6 956.7 980.1 957 979.6 C957.4 979.1 957.8 978.6 958.2 978.2 C958.6 977.8 959 977.3 959.4 977 C959.9 976.6 960.3 976.3 960.7 976.1 C961.2 975.8 961.6 975.6 962 975.4 C962.4 975.2 962.9 975.1 963.2 975.1 C963.6 975 964 975 964.4 975.1 C964.7 975.2 965 975.3 965.4 975.5"/>
<path d="M958.4 971.5 L992.3 990.8"/>
<path d="M948.9 988.2 L982.8 1007.5"/>
<path d="M964.4 975.6 L988.7 989.4" style="stroke-width:1.5;"/>
<path d="M961.9 976.3 L986.3 990.2" style="stroke-width:1.5;"/>
<path d="M959.4 978.3 L983.8 992.1" style="stroke-width:1.5;"/>
<path d="M957.2 981.1 L981.6 994.9" style="stroke-width:1.5;"/>
<path d="M955.7 984.4 L980 998.2" style="stroke-width:1.5;"/>
<path d="M954.9 987.7 L979.3 1001.5" style="stroke-width:1.5;"/>
<path d="M955.1 990.4 L979.5 1004.3" style="stroke-width:1.5;"/>
<path d="M992.3 990.8 C992.6 990.9 992.8 991.1 993 991.3 C993.3 991.6 993.4 991.9 993.6 992.2 C993.8 992.5 993.9 992.8 994 993.2 C994.1 993.6 994.1 994 994.2 994.4 C994.2 994.8 994.2 995.3 994.1 995.7 C994.1 996.2 994 996.7 993.9 997.2 C993.8 997.7 993.7 998.2 993.5 998.7 C993.3 999.2 993.1 999.7 992.9 1000.2 C992.7 1000.7 992.4 1001.2 992.2 1001.7 C991.9 1002.2 991.6 1002.7 991.3 1003.1 C991 1003.6 990.6 1004 990.3 1004.4 C989.9 1004.8 989.6 1005.2 989.2 1005.5 C988.8 1005.9 988.4 1006.2 988 1006.5 C987.7 1006.7 987.3 1007 986.9 1007.2 C986.5 1007.4 986.1 1007.5 985.8 1007.6 C985.4 1007.8 985 1007.8 984.7 1007.8 C984.3 1007.9 984 1007.8 983.7 1007.8 C983.4 1007.7 983.1 1007.6 982.8 1007.5 C982.6 1007.3 982.3 1007.1 982.1 1006.9 C981.9 1006.6 981.7 1006.4 981.5 1006.1 C981.4 1005.8 981.3 1005.4 981.2 1005 C981.1 1004.7 981 1004.3 981 1003.8 C981 1003.4 981 1002.9 981 1002.5 C981.1 1002 981.1 1001.5 981.2 1001 C981.3 1000.5 981.5 1000 981.6 999.5 C981.8 999 982 998.5 982.2 998 C982.5 997.5 982.7 997 983 996.5 C983.3 996 983.6 995.5 983.9 995.1 C984.2 994.6 984.5 994.2 984.9 993.8 C985.2 993.4 985.6 993 986 992.7 C986.3 992.3 986.7 992 987.1 991.7 C987.5 991.5 987.9 991.2 988.3 991 C988.6 990.8 989 990.7 989.4 990.6 C989.8 990.5 990.1 990.4 990.5 990.4 C990.8 990.4 991.1 990.4 991.4 990.4 C991.8 990.5 992.1 990.6 992.3 990.8Z"/>
</g>
<g id="ghijklm">
<path d="M1035.9 1010.6 C1036.7 1010.3 1037.5 1009.9 1038.3 1009.8 C1039.1 1009.6 1039.8 1009.5 1040.5 1009.6 C1041.2 1009.6 1041.9 1009.8 1042.4 1010 C1043 1010.3 1043.6 1010.7 1044 1011.1 C1044.5 1011.6 1044.9 1012.2 1045.2 1012.9 C1045.5 1013.5 1045.7 1014.3 1045.9 1015.1 C1046 1016 1046.1 1016.9 1046.1 1017.8 C1046.1 1018.8 1046 1019.8 1045.8 1020.9 C1045.6 1021.9 1045.4 1023 1045 1024.1 C1044.7 1025.2 1044.3 1026.3 1043.8 1027.4 C1043.3 1028.5 1042.7 1029.6 1042.1 1030.7 C1041.5 1031.7 1040.8 1032.8 1040.1 1033.7 C1039.4 1034.7 1038.7 1035.6 1037.9 1036.4 C1037.1 1037.3 1036.3 1038 1035.5 1038.7 C1034.6 1039.4 1033.8 1040 1033 1040.5 C1032.2 1041 1031.3 1041.3 1030.5 1041.6 C1029.7 1041.9 1029 1042.1 1028.2 1042.1 C1027.5 1042.2 1026.8 1042.1 1026.2 1042 C1025.5 1041.8 1024.9 1041.5 1024.4 1041.1 C1023.9 1040.7 1023.4 1040.2 1023 1039.6 C1022.7 1039.1 1022.4 1038.4 1022.1 1037.6 C1021.9 1036.9 1021.8 1036 1021.7 1035.1 C1021.6 1034.2 1021.7 1033.2 1021.8 1032.2 C1021.9 1031.2 1022.1 1030.1 1022.3 1029 C1022.6 1027.9 1023 1026.8 1023.4 1025.7 C1023.8 1024.6 1024.3 1023.5 1024.9 1022.4 C1025.4 1021.4 1026.1 1020.3 1026.7 1019.3 C1027.4 1018.3 1028.1 1017.3 1028.9 1016.4 C1029.6 1015.5 1030.4 1014.7 1031.2 1013.9"/>
<path d="M1036.8 1006.9 C1037.2 1007.5 1037.6 1008 1038 1008.6 C1038.3 1009.3 1038.5 1010.1 1038.7 1010.9 C1038.8 1011.7 1038.9 1012.6 1038.9 1013.6 C1038.9 1014.6 1038.8 1015.6 1038.6 1016.7 C1038.5 1017.7 1038.2 1018.8 1037.8 1019.9 C1037.5 1021 1037.1 1022.2 1036.6 1023.3 C1036.1 1024.4 1035.5 1025.5 1034.9 1026.5 C1034.3 1027.6 1033.6 1028.6 1032.9 1029.6 C1032.2 1030.6 1031.4 1031.5 1030.6 1032.3 C1029.9 1033.2 1029 1034 1028.2 1034.6 C1027.4 1035.3 1026.5 1035.9 1025.7 1036.4 C1024.9 1036.9 1024 1037.2 1023.2 1037.5 C1022.4 1037.8 1021.7 1037.9 1020.9 1038 C1020.2 1038 1019.5 1038 1018.9 1037.8 C1018.2 1037.6 1017.6 1037.3 1017.1 1036.9 C1016.6 1036.5 1016.1 1036 1015.8 1035.4 C1015.4 1034.8 1015.1 1034 1014.9 1033.3 C1014.7 1032.5 1014.5 1031.6 1014.5 1030.7 C1014.5 1029.8 1014.5 1028.8 1014.6 1027.7 C1014.7 1026.7 1015 1025.6 1015.3 1024.5 C1015.5 1023.4 1015.9 1022.3 1016.4 1021.2 C1016.8 1020.1 1017.3 1019 1017.9 1017.9 C1018.5 1016.8 1019.1 1015.7 1019.8 1014.7 C1020.5 1013.7 1021.3 1012.8 1022 1011.9"/>
<path d="M1019.5 1008.6 C1020.9 1007.8 1022.4 1007.1 1023.8 1006.3 C1025.1 1005.6 1026.6 1004.5 1027.5 1004.1 C1028.4 1003.6 1028.4 1003.3 1029.1 1003.7 C1029.8 1004 1030.9 1005.1 1031.5 1006.1 C1032.2 1007.1 1032.8 1008.5 1033.1 1009.6 C1033.5 1010.6 1033.5 1011.5 1033.7 1012.5"/>
<path d="M1031.5 1004.3 C1032.2 1004.3 1032.8 1004 1033.4 1004.3 C1034 1004.6 1034.8 1005.5 1035.3 1006.3 C1035.7 1007.2 1036 1008.7 1036.1 1009.6 C1036.1 1010.4 1035.7 1010.7 1035.6 1011.3"/>
<path d="M1027.5 1017.2 L1033.7 1012.8"/>
<path d="M1019.5 1008.6 C1020.5 1008.7 1021.7 1008.5 1022.7 1009 C1023.7 1009.5 1024.7 1010.6 1025.4 1011.7 C1026 1012.8 1026.6 1014.5 1026.7 1015.5 C1026.8 1016.4 1026.2 1016.8 1026 1017.5"/>
<path d="M1020.8 1010.2 C1021.7 1010.5 1022.8 1010.6 1023.5 1011.2 C1024.2 1011.8 1024.6 1013 1024.8 1013.8 C1025 1014.7 1024.8 1015.5 1024.7 1016.3"/>
<path d="M1016 1012.9 L1020.8 1010.5"/>
<path d="M1019.5 1019.3 L1024.8 1016.6"/>
<path d="M1018 1013 C1017.4 1012.9 1016.7 1013.1 1016.3 1013.4 C1015.8 1013.7 1015.4 1014.4 1015.3 1015 C1015.2 1015.7 1015.4 1016.8 1015.7 1017.4 C1016.1 1018.1 1016.7 1018.8 1017.3 1019.1 C1017.9 1019.4 1018.7 1019.6 1019.2 1019.5 C1019.7 1019.3 1020.2 1018.8 1020.4 1018.2 C1020.6 1017.7 1020.6 1016.8 1020.4 1016.1 C1020.3 1015.4 1019.9 1014.6 1019.5 1014.1 C1019.1 1013.6 1018.5 1013.2 1018 1013Z"/>
<path d="M1015.6 1017.6 L1012.3 1023.1 L1018.9 1027.1 L1022.7 1021.1"/>
<path d="M1070.7 1068.7 C1070.2 1068.4 1069.6 1068.2 1069.2 1067.9 C1068.7 1067.5 1068.3 1067 1068 1066.5 C1067.7 1065.9 1067.4 1065.3 1067.3 1064.5 C1067.1 1063.8 1067 1063 1066.9 1062.2 C1066.9 1061.4 1066.9 1060.5 1067 1059.6 C1067.1 1058.6 1067.3 1057.7 1067.6 1056.7 C1067.8 1055.7 1068.1 1054.7 1068.5 1053.7 C1068.9 1052.7 1069.3 1051.7 1069.8 1050.8 C1070.3 1049.8 1070.9 1048.9 1071.4 1048 C1072 1047.1 1072.7 1046.3 1073.3 1045.5 C1074 1044.7 1074.7 1044 1075.4 1043.3 C1076.1 1042.7 1076.8 1042.1 1077.5 1041.6 C1078.2 1041.1 1079 1040.7 1079.6 1040.5 C1080.3 1040.2 1081 1040 1081.7 1039.9 C1082.3 1039.8 1083 1039.8 1083.6 1039.9 C1084.1 1040 1084.6 1040.3 1085.2 1040.5"/>
<path d="M1073.1 1069.1 C1072.8 1068.6 1072.4 1068.2 1072.1 1067.7 C1071.9 1067.1 1071.6 1066.5 1071.5 1065.8 C1071.4 1065.1 1071.3 1064.3 1071.3 1063.5 C1071.3 1062.7 1071.3 1061.8 1071.5 1061 C1071.6 1060.1 1071.8 1059.1 1072 1058.2 C1072.3 1057.3 1072.6 1056.4 1073 1055.4 C1073.4 1054.5 1073.8 1053.6 1074.3 1052.7 C1074.7 1051.8 1075.3 1050.9 1075.8 1050.1 C1076.4 1049.3 1077 1048.5 1077.6 1047.7 C1078.2 1047 1078.9 1046.3 1079.6 1045.7 C1080.2 1045.1 1080.9 1044.6 1081.6 1044.2 C1082.2 1043.7 1082.9 1043.3 1083.6 1043.1 C1084.2 1042.8 1084.9 1042.6 1085.5 1042.5 C1086.1 1042.4 1086.7 1042.5 1087.3 1042.5"/>
<path d="M1082.9 1088.6 C1082.1 1088.1 1081.2 1087.7 1080.5 1086.9 C1079.8 1086.2 1079.2 1085.3 1078.7 1084.3 C1078.2 1083.3 1077.8 1082.1 1077.5 1080.9 C1077.3 1079.6 1077.1 1078.2 1077.1 1076.8 C1077.1 1075.3 1077.2 1073.7 1077.4 1072.1 C1077.6 1070.5 1078 1068.8 1078.4 1067.2 C1078.9 1065.5 1079.5 1063.8 1080.2 1062.1 C1080.8 1060.4 1081.6 1058.7 1082.5 1057.1 C1083.4 1055.4 1084.3 1053.8 1085.4 1052.3 C1086.4 1050.8 1087.5 1049.4 1088.6 1048.1 C1089.7 1046.7 1090.9 1045.5 1092.1 1044.4 C1093.3 1043.3 1094.6 1042.4 1095.8 1041.6 C1097 1040.8 1098.3 1040.1 1099.5 1039.6 C1100.7 1039.1 1101.8 1038.8 1103 1038.7 C1104.1 1038.5 1105.2 1038.5 1106.1 1038.7 C1107.1 1038.9 1108 1039.4 1108.9 1039.8"/>
<path d="M1082.7 1085.4 C1082.3 1084.3 1081.8 1083.3 1081.5 1082.1 C1081.3 1080.9 1081.1 1079.5 1081.1 1078.1 C1081 1076.7 1081.1 1075.2 1081.4 1073.6 C1081.6 1072.1 1081.9 1070.4 1082.3 1068.8 C1082.8 1067.2 1083.3 1065.5 1084 1063.9 C1084.7 1062.2 1085.4 1060.6 1086.3 1059 C1087.1 1057.4 1088.1 1055.8 1089.1 1054.4 C1090.1 1052.9 1091.1 1051.5 1092.2 1050.3 C1093.3 1049 1094.5 1047.8 1095.7 1046.8 C1096.9 1045.7 1098.1 1044.8 1099.3 1044.1 C1100.4 1043.3 1101.7 1042.7 1102.8 1042.2 C1104 1041.8 1105.1 1041.5 1106.2 1041.4 C1107.2 1041.3 1108.2 1041.5 1109.2 1041.6"/>
<path d="M1092.8 1097 C1091.9 1096.4 1090.9 1096 1090.1 1095.2 C1089.3 1094.4 1088.6 1093.4 1088.1 1092.3 C1087.6 1091.2 1087.1 1089.9 1086.8 1088.5 C1086.6 1087.1 1086.4 1085.6 1086.4 1084 C1086.4 1082.4 1086.5 1080.6 1086.7 1078.9 C1087 1077.1 1087.3 1075.3 1087.9 1073.4 C1088.4 1071.6 1089 1069.7 1089.7 1067.8 C1090.5 1065.9 1091.4 1064.1 1092.3 1062.3 C1093.3 1060.5 1094.3 1058.7 1095.5 1057.1 C1096.6 1055.4 1097.8 1053.8 1099 1052.4 C1100.3 1050.9 1101.6 1049.6 1102.9 1048.4 C1104.3 1047.2 1105.6 1046.1 1107 1045.2 C1108.3 1044.3 1109.7 1043.6 1111 1043.1 C1112.3 1042.5 1113.6 1042.2 1114.8 1042 C1116.1 1041.8 1117.3 1041.9 1118.4 1042.1 C1119.4 1042.3 1120.4 1042.8 1121.4 1043.2"/>
<path d="M1092.4 1093.7 C1091.9 1092.5 1091.4 1091.4 1091.1 1090.1 C1090.8 1088.7 1090.6 1087.2 1090.6 1085.6 C1090.5 1084.1 1090.6 1082.4 1090.9 1080.6 C1091.1 1078.9 1091.5 1077.1 1092 1075.3 C1092.5 1073.5 1093.1 1071.6 1093.8 1069.8 C1094.6 1067.9 1095.4 1066.1 1096.4 1064.3 C1097.3 1062.6 1098.3 1060.8 1099.5 1059.2 C1100.6 1057.6 1101.8 1056 1103 1054.6 C1104.2 1053.2 1105.5 1051.9 1106.8 1050.7 C1108.1 1049.6 1109.5 1048.5 1110.8 1047.7 C1112.1 1046.9 1113.5 1046.2 1114.8 1045.7 C1116 1045.2 1117.3 1044.9 1118.5 1044.8 C1119.7 1044.6 1120.8 1044.9 1121.9 1044.9"/>
<path d="M1109 1112.3 C1107.9 1111.7 1106.6 1111.3 1105.6 1110.4 C1104.6 1109.5 1103.7 1108.4 1103 1107.2 C1102.2 1105.9 1101.6 1104.4 1101.2 1102.8 C1100.8 1101.2 1100.5 1099.3 1100.4 1097.4 C1100.4 1095.5 1100.4 1093.5 1100.7 1091.4 C1100.9 1089.2 1101.3 1087 1101.9 1084.8 C1102.5 1082.5 1103.2 1080.2 1104.1 1078 C1104.9 1075.7 1105.9 1073.4 1107.1 1071.2 C1108.2 1069 1109.5 1066.8 1110.8 1064.8 C1112.2 1062.8 1113.6 1060.8 1115.1 1059 C1116.6 1057.2 1118.2 1055.5 1119.8 1054.1 C1121.4 1052.6 1123.1 1051.3 1124.7 1050.2 C1126.4 1049.1 1128 1048.2 1129.6 1047.5 C1131.2 1046.8 1132.8 1046.3 1134.3 1046.1 C1135.8 1045.9 1137.3 1045.9 1138.6 1046.2 C1139.9 1046.4 1141.1 1047.1 1142.3 1047.6"/>
<path d="M1107.3 1108 C1106.8 1106.6 1106.1 1105.3 1105.8 1103.6 C1105.4 1102 1105.2 1100.2 1105.1 1098.3 C1105.1 1096.4 1105.2 1094.4 1105.5 1092.3 C1105.8 1090.2 1106.2 1088 1106.8 1085.9 C1107.4 1083.7 1108.2 1081.4 1109.1 1079.2 C1109.9 1077 1111 1074.8 1112.1 1072.7 C1113.2 1070.6 1114.5 1068.5 1115.8 1066.5 C1117.2 1064.6 1118.6 1062.7 1120.1 1061 C1121.6 1059.3 1123.1 1057.7 1124.7 1056.3 C1126.3 1054.9 1127.9 1053.7 1129.5 1052.7 C1131.1 1051.7 1132.7 1050.8 1134.2 1050.2 C1135.8 1049.7 1137.3 1049.3 1138.8 1049.1 C1140.2 1049 1141.5 1049.3 1142.9 1049.3"/>
<path d="M1123.3 1116.1 C1122.4 1115.4 1121.4 1114.9 1120.6 1114 C1119.8 1113.1 1119.1 1112 1118.6 1110.8 C1118 1109.6 1117.6 1108.2 1117.4 1106.7 C1117.1 1105.2 1116.9 1103.5 1116.9 1101.8 C1116.9 1100.1 1117.1 1098.2 1117.4 1096.4 C1117.6 1094.5 1118.1 1092.5 1118.6 1090.6 C1119.2 1088.6 1119.9 1086.6 1120.6 1084.6 C1121.4 1082.7 1122.4 1080.7 1123.4 1078.8 C1124.4 1076.9 1125.5 1075 1126.7 1073.3 C1127.9 1071.5 1129.2 1069.8 1130.5 1068.3 C1131.8 1066.7 1133.2 1065.3 1134.6 1064 C1136 1062.7 1137.4 1061.6 1138.8 1060.6 C1140.3 1059.6 1141.7 1058.8 1143.1 1058.2 C1144.5 1057.6 1145.9 1057.2 1147.2 1056.9 C1148.5 1056.7 1149.8 1056.7 1151 1056.8 C1152.2 1057 1153.2 1057.5 1154.3 1057.9"/>
<path d="M1124.4 1117.2 C1123.6 1116.2 1122.6 1115.5 1121.9 1114.4 C1121.2 1113.3 1120.6 1112 1120.2 1110.6 C1119.8 1109.2 1119.5 1107.6 1119.4 1105.9 C1119.2 1104.2 1119.2 1102.4 1119.4 1100.5 C1119.5 1098.6 1119.9 1096.6 1120.3 1094.6 C1120.8 1092.6 1121.4 1090.5 1122.1 1088.4 C1122.8 1086.4 1123.7 1084.3 1124.7 1082.3 C1125.6 1080.3 1126.7 1078.3 1127.9 1076.4 C1129.1 1074.5 1130.4 1072.7 1131.7 1071 C1133 1069.3 1134.4 1067.7 1135.9 1066.3 C1137.3 1064.9 1138.8 1063.6 1140.3 1062.5 C1141.8 1061.4 1143.3 1060.4 1144.7 1059.7 C1146.2 1059 1147.7 1058.4 1149.1 1058.1 C1150.5 1057.8 1151.8 1057.6 1153.1 1057.7 C1154.3 1057.8 1155.5 1058.3 1156.6 1058.6"/>
<path d="M1134.6 1123.6 C1133.7 1122.9 1132.6 1122.3 1131.8 1121.4 C1131 1120.5 1130.3 1119.3 1129.7 1118.1 C1129.2 1116.8 1128.7 1115.3 1128.4 1113.8 C1128.1 1112.2 1128 1110.5 1128 1108.7 C1128 1106.9 1128.2 1105 1128.4 1103.1 C1128.7 1101.1 1129.2 1099.1 1129.7 1097 C1130.3 1095 1131 1092.9 1131.9 1090.9 C1132.7 1088.8 1133.6 1086.8 1134.7 1084.8 C1135.7 1082.8 1136.9 1080.9 1138.1 1079.1 C1139.4 1077.2 1140.7 1075.5 1142.1 1073.9 C1143.4 1072.3 1144.9 1070.8 1146.3 1069.4 C1147.8 1068.1 1149.3 1066.9 1150.8 1065.9 C1152.2 1064.9 1153.8 1064.1 1155.2 1063.4 C1156.7 1062.8 1158.1 1062.3 1159.5 1062.1 C1160.8 1061.9 1162.2 1061.8 1163.4 1062 C1164.6 1062.1 1165.7 1062.7 1166.8 1063.1"/>
<path d="M1174.6 1066.6 C1175.5 1067.1 1176.4 1067.8 1177.2 1068.6 C1177.9 1069.4 1178.6 1070.3 1179.2 1071.4 C1179.7 1072.5 1180.2 1073.7 1180.5 1075.1 C1180.9 1076.4 1181.1 1077.8 1181.2 1079.4 C1181.3 1080.9 1181.3 1082.5 1181.2 1084.2 C1181.1 1085.9 1180.9 1087.7 1180.5 1089.5 C1180.2 1091.3 1179.7 1093.1 1179.1 1095 C1178.6 1096.8 1177.9 1098.7 1177.1 1100.5 C1176.3 1102.4 1175.5 1104.2 1174.5 1106 C1173.6 1107.8 1172.5 1109.5 1171.4 1111.2 C1170.3 1112.9 1169.2 1114.5 1168 1116 C1166.7 1117.5 1165.5 1118.9 1164.2 1120.2 C1162.9 1121.5 1161.5 1122.7 1160.2 1123.7 C1158.9 1124.8 1157.5 1125.7 1156.2 1126.4 C1154.9 1127.2 1153.5 1127.8 1152.2 1128.3 C1150.9 1128.7 1149.7 1129 1148.5 1129.2 C1147.2 1129.3 1146.1 1129.3 1145 1129.1 C1143.9 1128.9 1142.8 1128.6 1141.9 1128.1 C1141 1127.6 1140.1 1126.9 1139.3 1126.1 C1138.6 1125.3 1137.9 1124.3 1137.3 1123.2 C1136.8 1122.2 1136.3 1120.9 1135.9 1119.6 C1135.6 1118.3 1135.4 1116.8 1135.3 1115.3 C1135.1 1113.8 1135.1 1112.1 1135.3 1110.5 C1135.4 1108.8 1135.6 1107 1136 1105.2 C1136.3 1103.4 1136.8 1101.5 1137.3 1099.7 C1137.9 1097.9 1138.6 1096 1139.4 1094.1 C1140.1 1092.3 1141 1090.5 1142 1088.7 C1142.9 1086.9 1143.9 1085.1 1145 1083.5 C1146.1 1081.8 1147.3 1080.2 1148.5 1078.7 C1149.7 1077.2 1151 1075.8 1152.3 1074.5 C1153.6 1073.2 1154.9 1072 1156.3 1071 C1157.6 1069.9 1159 1069 1160.3 1068.2 C1161.6 1067.5 1163 1066.8 1164.2 1066.4 C1165.5 1065.9 1166.8 1065.6 1168 1065.5 C1169.2 1065.4 1170.4 1065.4 1171.5 1065.6 C1172.6 1065.8 1173.6 1066.1 1174.6 1066.6Z"/>
<path d="M1174 1068.8 C1174.9 1069.3 1175.7 1069.9 1176.4 1070.6 C1177.1 1071.4 1177.8 1072.3 1178.3 1073.3 C1178.8 1074.3 1179.2 1075.5 1179.6 1076.7 C1179.9 1077.9 1180.1 1079.3 1180.2 1080.7 C1180.3 1082.2 1180.3 1083.7 1180.2 1085.3 C1180.1 1086.9 1179.9 1088.5 1179.5 1090.2 C1179.2 1091.9 1178.8 1093.6 1178.3 1095.3 C1177.7 1097.1 1177.1 1098.8 1176.4 1100.6 C1175.6 1102.3 1174.8 1104 1173.9 1105.7 C1173.1 1107.3 1172.1 1109 1171 1110.6 C1170 1112.1 1168.9 1113.6 1167.8 1115 C1166.6 1116.4 1165.4 1117.8 1164.2 1119 C1163 1120.2 1161.8 1121.3 1160.5 1122.3 C1159.3 1123.3 1158 1124.1 1156.8 1124.8 C1155.5 1125.5 1154.3 1126.1 1153.1 1126.6 C1151.8 1127 1150.6 1127.3 1149.5 1127.4 C1148.4 1127.5 1147.3 1127.5 1146.3 1127.3 C1145.2 1127.2 1144.3 1126.8 1143.4 1126.4 C1142.5 1125.9 1141.7 1125.3 1141 1124.5 C1140.2 1123.8 1139.6 1122.9 1139.1 1121.8 C1138.6 1120.8 1138.1 1119.7 1137.8 1118.4 C1137.5 1117.2 1137.3 1115.8 1137.2 1114.4 C1137 1113 1137 1111.4 1137.2 1109.9 C1137.3 1108.3 1137.5 1106.6 1137.8 1104.9 C1138.1 1103.3 1138.6 1101.5 1139.1 1099.8 C1139.6 1098.1 1140.3 1096.3 1141 1094.6 C1141.7 1092.9 1142.5 1091.1 1143.4 1089.5 C1144.3 1087.8 1145.3 1086.1 1146.3 1084.6 C1147.3 1083 1148.4 1081.5 1149.6 1080.1 C1150.7 1078.7 1151.9 1077.4 1153.1 1076.2 C1154.3 1074.9 1155.6 1073.8 1156.8 1072.9 C1158.1 1071.9 1159.4 1071 1160.6 1070.3 C1161.8 1069.6 1163.1 1069 1164.3 1068.6 C1165.5 1068.2 1166.7 1067.9 1167.8 1067.7 C1169 1067.6 1170.1 1067.6 1171.1 1067.8 C1172.1 1068 1173.1 1068.3 1174 1068.8Z"/>
<path d="M1165.3 1066 C1165.8 1067.3 1166.4 1068.6 1166.7 1070.1 C1167.1 1071.6 1167.3 1073.3 1167.3 1075.1 C1167.3 1076.9 1167.2 1078.8 1166.9 1080.8 C1166.7 1082.7 1166.2 1084.8 1165.7 1086.8 C1165.1 1088.9 1164.4 1091 1163.5 1093.1 C1162.7 1095.1 1161.7 1097.2 1160.6 1099.2 C1159.6 1101.2 1158.4 1103.1 1157.1 1105 C1155.8 1106.8 1154.4 1108.5 1153 1110.1 C1151.6 1111.7 1150.2 1113.1 1148.7 1114.4 C1147.2 1115.7 1145.7 1116.8 1144.2 1117.7 C1142.7 1118.6 1141.2 1119.1 1139.7 1119.9"/>
<path d="M1154.2 1070.2 C1154.3 1071.6 1154.5 1072.9 1154.5 1074.4 C1154.5 1075.8 1154.3 1077.4 1154 1079 C1153.7 1080.6 1153.3 1082.3 1152.8 1084 C1152.3 1085.7 1151.7 1087.4 1150.9 1089 C1150.2 1090.7 1149.4 1092.3 1148.5 1093.9 C1147.6 1095.5 1146.6 1097.1 1145.5 1098.5 C1144.5 1099.9 1143.4 1101.3 1142.2 1102.5 C1141.1 1103.8 1139.9 1104.9 1138.7 1105.9 C1137.5 1106.9 1136.2 1107.6 1135 1108.4"/>
<path d="M1084.9 1040.3 C1087 1041.4 1089.3 1043.1 1091.1 1043.5 C1093 1044 1094 1043.9 1095.8 1043.2 C1097.7 1042.5 1100.3 1040 1102.4 1039.3 C1104.5 1038.7 1106.7 1039 1108.5 1039.5 C1110.3 1040 1111.2 1041.7 1113.3 1042.3 C1115.4 1042.9 1118.4 1042.3 1120.9 1042.9 C1123.4 1043.6 1125.9 1045.7 1128.2 1046.3 C1130.5 1046.8 1132.7 1046.3 1134.9 1046.4 C1137.2 1046.6 1139.7 1046.5 1141.7 1047.2 C1143.8 1047.9 1145.9 1049.4 1147.3 1050.8 C1148.8 1052.1 1149.4 1054.1 1150.6 1055.3 C1151.7 1056.5 1150.3 1056 1154.3 1057.9 C1158.3 1059.8 1167.8 1063.7 1174.6 1066.6"/>
<path d="M1070 1068.4 C1072.5 1069.4 1075.8 1070.3 1077.5 1071.4 C1079.2 1072.5 1079.4 1073 1080.1 1075 C1080.7 1077 1080.2 1081.1 1081.2 1083.5 C1082.2 1086 1084.3 1087.7 1086 1089.5 C1087.7 1091.2 1089.8 1092.6 1091.4 1094.1 C1093.1 1095.6 1094.1 1096.9 1095.8 1098.7 C1097.5 1100.4 1099.8 1102.6 1101.7 1104.6 C1103.6 1106.7 1105.4 1109.1 1107.3 1111 C1109.3 1113 1111.6 1115.5 1113.5 1116.6 C1115.4 1117.6 1117.2 1117.2 1118.8 1117.1 C1120.5 1117.1 1119.5 1114.3 1123.3 1116.1 C1127.2 1118 1135.7 1124.1 1141.9 1128.1"/>
<path d="M1235.7 1108.3 C1237.3 1107.9 1238.9 1107.3 1240.4 1107.1 C1241.9 1106.9 1243.3 1107 1244.6 1107.3 C1245.9 1107.6 1247.1 1108.1 1248.2 1108.8 C1249.3 1109.5 1250.2 1110.5 1251 1111.6 C1251.8 1112.7 1252.5 1114 1253 1115.5 C1253.5 1117 1253.8 1118.7 1254 1120.4 C1254.1 1122.2 1254.1 1124.2 1253.9 1126.2 C1253.8 1128.2 1253.4 1130.3 1252.9 1132.4 C1252.4 1134.6 1251.7 1136.8 1250.9 1139 C1250.1 1141.2 1249.2 1143.4 1248.1 1145.6 C1247 1147.8 1245.8 1149.9 1244.5 1152 C1243.2 1154 1241.7 1156 1240.2 1157.8 C1238.8 1159.6 1237.2 1161.4 1235.6 1162.9 C1234 1164.4 1232.3 1165.8 1230.7 1167 C1229 1168.2 1227.3 1169.2 1225.7 1170 C1224.1 1170.8 1222.5 1171.4 1220.9 1171.8 C1219.4 1172.1 1217.9 1172.3 1216.5 1172.2 C1215.1 1172.1 1213.8 1171.8 1212.6 1171.3 C1211.4 1170.8 1210.3 1170 1209.4 1169.1 C1208.5 1168.1 1207.7 1166.9 1207.1 1165.6 C1206.4 1164.3 1205.9 1162.8 1205.6 1161.1 C1205.3 1159.5 1205.2 1157.6 1205.2 1155.7 C1205.2 1153.8 1205.4 1151.7 1205.8 1149.7 C1206.1 1147.6 1206.7 1145.4 1207.4 1143.2 C1208 1141 1208.9 1138.7 1209.8 1136.6 C1210.8 1134.4 1211.9 1132.2 1213.1 1130.1 C1214.3 1128 1215.7 1125.9 1217.1 1124 C1218.5 1122 1220.1 1120.2 1221.6 1118.5 C1223.2 1116.8 1224.8 1115.5 1226.4 1113.9"/>
<path d="M1241 1105.2 C1241.7 1106.4 1242.6 1107.4 1243.2 1108.8 C1243.8 1110.1 1244.2 1111.7 1244.5 1113.3 C1244.7 1115 1244.9 1116.8 1244.8 1118.8 C1244.7 1120.7 1244.5 1122.7 1244.1 1124.8 C1243.8 1126.9 1243.2 1129.1 1242.5 1131.2 C1241.8 1133.4 1241 1135.6 1240 1137.8 C1239 1139.9 1237.9 1142.1 1236.7 1144.2 C1235.5 1146.2 1234.1 1148.3 1232.7 1150.2 C1231.3 1152.1 1229.8 1153.9 1228.3 1155.5 C1226.7 1157.2 1225.1 1158.7 1223.5 1160 C1221.9 1161.4 1220.2 1162.6 1218.6 1163.5 C1217 1164.5 1215.3 1165.3 1213.8 1165.8 C1212.2 1166.4 1210.7 1166.7 1209.2 1166.8 C1207.8 1166.9 1206.4 1166.9 1205.1 1166.5 C1203.8 1166.2 1202.6 1165.7 1201.6 1164.9 C1200.6 1164.2 1199.6 1163.3 1198.8 1162.1 C1198.1 1161 1197.4 1159.7 1197 1158.2 C1196.5 1156.7 1196.2 1155 1196 1153.3 C1195.9 1151.5 1195.9 1149.6 1196.1 1147.6 C1196.3 1145.6 1196.6 1143.5 1197.1 1141.4 C1197.6 1139.3 1198.3 1137.1 1199.1 1134.9 C1199.9 1132.7 1200.8 1130.5 1201.9 1128.4 C1203 1126.2 1204.2 1124.1 1205.5 1122.1 C1206.8 1120.1 1208.2 1118.1 1209.6 1116.3 C1211.1 1114.5 1212.7 1112.9 1214.2 1111.2"/>
<path d="M1211.7 1106.7 C1213.6 1105.7 1215.7 1104.7 1217.6 1103.6 C1219.4 1102.6 1221.5 1101.1 1222.7 1100.5 C1224 1099.9 1224 1099.5 1225 1099.9 C1225.9 1100.4 1227.4 1101.9 1228.3 1103.2 C1229.2 1104.6 1230 1106.6 1230.5 1108.1 C1231 1109.5 1231 1110.8 1231.2 1112.1"/>
<path d="M1228.3 1100.8 C1229.1 1100.8 1230 1100.3 1230.9 1100.8 C1231.7 1101.3 1232.8 1102.4 1233.5 1103.6 C1234.1 1104.8 1234.5 1106.9 1234.6 1108.1 C1234.6 1109.2 1234.1 1109.6 1233.8 1110.4"/>
<path d="M1222.7 1118.6 L1231.2 1112.5"/>
<path d="M1211.7 1106.7 C1213.1 1106.9 1214.7 1106.6 1216.1 1107.3 C1217.4 1108 1218.9 1109.5 1219.8 1111 C1220.7 1112.5 1221.5 1114.9 1221.6 1116.2 C1221.8 1117.5 1221 1118.1 1220.7 1119"/>
<path d="M1213.5 1108.9 C1214.7 1109.4 1216.3 1109.4 1217.2 1110.3 C1218.1 1111.1 1218.8 1112.8 1219 1114 C1219.3 1115.1 1218.9 1116.2 1218.9 1117.3"/>
<path d="M1206.8 1112.6 L1213.5 1109.4"/>
<path d="M1211.7 1121.5 L1219 1117.8"/>
<path d="M1209.6 1112.9 C1208.8 1112.7 1207.8 1112.9 1207.2 1113.4 C1206.6 1113.8 1206 1114.7 1205.9 1115.6 C1205.8 1116.5 1206 1118 1206.5 1118.9 C1206.9 1119.9 1207.9 1120.7 1208.7 1121.2 C1209.5 1121.7 1210.6 1121.9 1211.3 1121.7 C1212 1121.5 1212.7 1120.8 1213 1120 C1213.3 1119.3 1213.2 1118 1213 1117.1 C1212.8 1116.1 1212.2 1115 1211.7 1114.3 C1211.1 1113.6 1210.3 1113 1209.6 1112.9Z"/>
<path d="M1206.3 1119.1 L1201.7 1126.7 L1210.9 1132.3 L1216.1 1123.9"/>
<path d="M1280.5 1155 C1281.3 1154.6 1282.2 1154.2 1283 1154 C1283.8 1153.8 1284.7 1153.7 1285.4 1153.7 C1286.2 1153.7 1287 1153.9 1287.6 1154.1 C1288.3 1154.3 1289 1154.7 1289.5 1155.1 C1290.1 1155.6 1290.6 1156.2 1291 1156.8 C1291.4 1157.5 1291.7 1158.2 1292 1159 C1292.2 1159.8 1292.4 1160.7 1292.5 1161.7 C1292.5 1162.6 1292.5 1163.6 1292.4 1164.7 C1292.3 1165.7 1292.1 1166.8 1291.9 1167.9 C1291.6 1169 1291.2 1170.1 1290.8 1171.2 C1290.4 1172.2 1289.8 1173.3 1289.3 1174.4 C1288.7 1175.4 1288 1176.4 1287.3 1177.4 C1286.6 1178.3 1285.9 1179.2 1285.1 1180 C1284.3 1180.9 1283.5 1181.6 1282.6 1182.3 C1281.8 1182.9 1280.9 1183.5 1280.1 1183.9 C1279.2 1184.4 1278.4 1184.8 1277.5 1185 C1276.7 1185.3 1275.8 1185.4 1275.1 1185.4 C1274.3 1185.4 1273.5 1185.4 1272.8 1185.2 C1272.1 1185 1271.5 1184.6 1270.9 1184.2 C1270.3 1183.8 1269.8 1183.3 1269.3 1182.7 C1268.9 1182 1268.5 1181.3 1268.2 1180.5 C1268 1179.8 1267.8 1178.9 1267.7 1178 C1267.6 1177 1267.5 1176 1267.6 1175 C1267.7 1174 1267.8 1172.9 1268.1 1171.8 C1268.3 1170.8 1268.7 1169.6 1269.1 1168.6 C1269.5 1167.5 1270 1166.4 1270.5 1165.3 C1271.1 1164.3 1271.7 1163.2 1272.4 1162.3 C1273.1 1161.3 1273.8 1160.4 1274.6 1159.5 C1275.3 1158.7 1276.2 1158 1277 1157.2"/>
<path d="M1280.9 1157.6 C1281.6 1157.4 1282.3 1157.1 1282.9 1157 C1283.5 1156.8 1284.2 1156.8 1284.8 1156.9 C1285.4 1156.9 1285.9 1157 1286.5 1157.3 C1287 1157.5 1287.5 1157.8 1287.9 1158.2 C1288.3 1158.6 1288.7 1159 1289 1159.6 C1289.3 1160.1 1289.5 1160.7 1289.7 1161.4 C1289.9 1162 1290 1162.8 1290 1163.5 C1290.1 1164.3 1290.1 1165.1 1290 1165.9 C1289.9 1166.7 1289.7 1167.6 1289.5 1168.5 C1289.2 1169.3 1288.9 1170.2 1288.6 1171 C1288.2 1171.9 1287.8 1172.8 1287.4 1173.6 C1286.9 1174.4 1286.4 1175.2 1285.8 1175.9 C1285.3 1176.7 1284.7 1177.4 1284.1 1178 C1283.4 1178.7 1282.8 1179.3 1282.1 1179.8 C1281.5 1180.3 1280.8 1180.7 1280.1 1181.1 C1279.4 1181.5 1278.7 1181.8 1278.1 1182 C1277.4 1182.2 1276.7 1182.3 1276.1 1182.3 C1275.5 1182.3 1274.9 1182.3 1274.3 1182.1 C1273.8 1182 1273.3 1181.7 1272.8 1181.4 C1272.3 1181.1 1271.9 1180.7 1271.5 1180.2 C1271.2 1179.8 1270.9 1179.2 1270.6 1178.6 C1270.4 1178 1270.2 1177.3 1270.1 1176.6 C1270 1175.9 1270 1175.1 1270 1174.3 C1270.1 1173.5 1270.2 1172.7 1270.3 1171.8 C1270.5 1171 1270.8 1170.1 1271.1 1169.2 C1271.4 1168.4 1271.7 1167.5 1272.1 1166.7 C1272.6 1165.8 1273 1165 1273.5 1164.2 C1274.1 1163.4 1274.6 1162.7 1275.2 1162 C1275.8 1161.3 1276.5 1160.7 1277.1 1160.1"/>
<path d="M1280.5 1155 L1280.9 1157.6"/>
<path d="M1277 1157.2 L1277.1 1160.1"/>
<path d="M1346.5 1174 C1347.3 1174.9 1348.3 1175.7 1349 1176.8 C1349.7 1177.9 1350.3 1179.1 1350.7 1180.5 C1351.1 1181.9 1351.4 1183.4 1351.5 1185 C1351.7 1186.6 1351.6 1188.4 1351.4 1190.1 C1351.3 1191.9 1350.9 1193.8 1350.5 1195.6 C1350 1197.5 1349.4 1199.4 1348.6 1201.2 C1347.9 1203.1 1347 1204.9 1346 1206.7 C1345 1208.5 1343.9 1210.3 1342.7 1211.9 C1341.5 1213.5 1340.2 1215.1 1338.9 1216.5 C1337.6 1217.9 1336.2 1219.2 1334.7 1220.3 C1333.3 1221.5 1331.8 1222.4 1330.4 1223.2 C1328.9 1224 1327.4 1224.7 1326 1225.1 C1324.6 1225.5 1323.2 1225.8 1321.8 1225.8 C1320.5 1225.9 1319.2 1225.8 1318 1225.4 C1316.9 1225.1 1315.8 1224.5 1314.8 1223.8 C1313.8 1223.1 1312.9 1222.2 1312.2 1221.2 C1311.4 1220.2 1310.8 1218.9 1310.4 1217.6 C1309.9 1216.3 1309.6 1214.7 1309.4 1213.2 C1309.3 1211.6 1309.2 1209.9 1309.4 1208.1 C1309.5 1206.4 1309.8 1204.5 1310.2 1202.7 C1310.7 1200.9 1311.3 1198.9 1312 1197.1 C1312.7 1195.2 1313.5 1193.4 1314.5 1191.6 C1315.4 1189.8 1316.5 1188 1317.7 1186.3 C1318.8 1184.7 1320.1 1183.1 1321.4 1181.6 C1322.8 1180.2 1324.2 1178.9 1325.6 1177.7 C1327 1176.5 1328.5 1175.5 1329.9 1174.6 C1331.4 1173.8 1332.9 1173.1 1334.3 1172.6 C1335.7 1172.1 1337.1 1172 1338.5 1171.7"/>
<path d="M1356.4 1251.1 C1355.5 1250.4 1354.5 1249.9 1353.7 1249 C1352.9 1248.2 1352.2 1247.1 1351.6 1246 C1351.1 1244.8 1350.6 1243.5 1350.4 1242 C1350.1 1240.6 1349.9 1239 1349.9 1237.4 C1349.9 1235.7 1350.1 1233.9 1350.4 1232.2 C1350.7 1230.4 1351.1 1228.5 1351.7 1226.6 C1352.2 1224.7 1352.9 1222.8 1353.7 1221 C1354.5 1219.1 1355.5 1217.2 1356.5 1215.4 C1357.5 1213.6 1358.7 1211.9 1359.9 1210.2 C1361.1 1208.6 1362.4 1207 1363.7 1205.6 C1365 1204.2 1366.4 1202.8 1367.8 1201.7 C1369.2 1200.5 1370.7 1199.5 1372.1 1198.7 C1373.5 1197.8 1375 1197.1 1376.3 1196.7 C1377.7 1196.2 1379.1 1195.9 1380.4 1195.7 C1381.7 1195.6 1382.9 1195.7 1384.1 1196 C1385.2 1196.2 1386.2 1196.9 1387.2 1197.3"/>
<path d="M1358.9 1252.5 C1358 1251.7 1357 1251 1356.3 1250 C1355.6 1249 1355 1247.8 1354.5 1246.5 C1354 1245.2 1353.7 1243.8 1353.6 1242.2 C1353.4 1240.6 1353.4 1238.9 1353.5 1237.2 C1353.6 1235.4 1353.9 1233.6 1354.3 1231.7 C1354.7 1229.8 1355.3 1227.9 1356 1225.9 C1356.7 1224 1357.5 1222.1 1358.5 1220.2 C1359.4 1218.3 1360.5 1216.5 1361.6 1214.7 C1362.8 1213 1364 1211.2 1365.3 1209.7 C1366.6 1208.1 1368 1206.6 1369.4 1205.3 C1370.8 1204 1372.3 1202.8 1373.7 1201.8 C1375.2 1200.8 1376.7 1200 1378.1 1199.3 C1379.5 1198.7 1381 1198.2 1382.3 1198 C1383.7 1197.7 1385 1197.6 1386.2 1197.7 C1387.4 1197.9 1388.5 1198.4 1389.7 1198.7"/>
<path d="M1364.6 1255.8 C1363.7 1255 1362.7 1254.5 1362 1253.6 C1361.2 1252.7 1360.6 1251.7 1360.1 1250.5 C1359.6 1249.3 1359.2 1248 1358.9 1246.5 C1358.7 1245.1 1358.6 1243.5 1358.6 1241.9 C1358.6 1240.3 1358.8 1238.5 1359.1 1236.8 C1359.4 1235 1359.9 1233.2 1360.4 1231.3 C1361 1229.5 1361.7 1227.6 1362.5 1225.8 C1363.3 1224 1364.2 1222.1 1365.2 1220.4 C1366.2 1218.6 1367.3 1216.9 1368.5 1215.3 C1369.6 1213.7 1370.9 1212.2 1372.2 1210.7 C1373.5 1209.3 1374.9 1208 1376.2 1206.9 C1377.6 1205.7 1379 1204.7 1380.4 1203.9 C1381.8 1203 1383.2 1202.3 1384.6 1201.8 C1385.9 1201.3 1387.3 1200.9 1388.5 1200.8 C1389.8 1200.6 1391.1 1200.6 1392.2 1200.8 C1393.3 1201 1394.3 1201.6 1395.4 1202"/>
<path d="M1386.7 1197 L1431.4 1222.6"/>
<path d="M1355.9 1250.8 L1400.6 1276.4"/>
<path d="M1430 1222 C1431.1 1222.6 1432.2 1223 1433.1 1223.8 C1433.9 1224.6 1434.7 1225.6 1435.3 1226.7 C1436 1227.9 1436.4 1229.2 1436.8 1230.7 C1437.1 1232.1 1437.3 1233.7 1437.3 1235.4 C1437.4 1237.1 1437.3 1238.9 1437 1240.7 C1436.7 1242.6 1436.3 1244.5 1435.7 1246.4 C1435.2 1248.3 1434.5 1250.3 1433.6 1252.3 C1432.8 1254.2 1431.8 1256.1 1430.8 1258 C1429.7 1259.8 1428.5 1261.6 1427.3 1263.3 C1426.1 1265 1424.7 1266.6 1423.3 1268.1 C1422 1269.5 1420.5 1270.9 1419 1272.1 C1417.6 1273.2 1416.1 1274.2 1414.6 1275.1 C1413.2 1275.9 1411.7 1276.5 1410.3 1277 C1408.9 1277.4 1407.5 1277.6 1406.2 1277.7 C1404.9 1277.7 1403.6 1277.6 1402.5 1277.2 C1401.3 1276.9 1400.4 1276.1 1399.4 1275.6"/>
<path d="M1399.5 1275.4 C1398.7 1274.6 1397.9 1273.9 1397.3 1272.9 C1396.7 1272 1396.1 1270.9 1395.7 1269.7 C1395.3 1268.5 1395.1 1267.1 1394.9 1265.7 C1394.8 1264.3 1394.7 1262.8 1394.8 1261.2 C1394.9 1259.6 1395.1 1257.9 1395.5 1256.2 C1395.8 1254.6 1396.3 1252.8 1396.8 1251.1 C1397.4 1249.3 1398.2 1247.6 1398.9 1245.8"/>
<path d="M1411.6 1274.4 C1410.4 1274.6 1409.1 1275 1407.9 1275 C1406.8 1275 1405.7 1274.9 1404.7 1274.5 C1403.7 1274.2 1402.8 1273.7 1402 1273 C1401.1 1272.3 1400.4 1271.4 1399.9 1270.5 C1399.3 1269.5 1398.8 1268.3 1398.5 1267.1 C1398.2 1265.8 1398 1264.4 1397.9 1262.9 C1397.9 1261.4 1398 1259.8 1398.2 1258.2 C1398.4 1256.6 1398.7 1254.9 1399.2 1253.2 C1399.7 1251.5 1400.3 1249.7 1401 1248 C1401.7 1246.3 1402.6 1244.5 1403.5 1242.9 C1404.4 1241.2 1405.5 1239.6 1406.6 1238.1 C1407.7 1236.6 1408.9 1235.1 1410.1 1233.8 C1411.3 1232.5 1412.6 1231.3 1413.9 1230.2 C1415.2 1229.2 1416.5 1228.2 1417.8 1227.5 C1419.1 1226.7 1420.4 1226.1 1421.7 1225.7 C1422.9 1225.3 1424.2 1225 1425.4 1225 C1426.5 1224.9 1427.6 1225 1428.7 1225.3 C1429.7 1225.6 1430.6 1226.1 1431.5 1226.8 C1432.3 1227.4 1433 1228.2 1433.6 1229.2 C1434.2 1230.1 1434.7 1231.3 1435.1 1232.5 C1435.4 1233.7 1435.5 1235.2 1435.8 1236.5"/>
<path d="M1415.3 1268.6 C1414.4 1268.7 1413.6 1269 1412.8 1269 C1411.9 1269 1411.2 1268.9 1410.5 1268.7 C1409.8 1268.4 1409.1 1268.1 1408.6 1267.6 C1408 1267.2 1407.5 1266.6 1407.1 1265.9 C1406.7 1265.2 1406.3 1264.4 1406.1 1263.6 C1405.8 1262.7 1405.7 1261.8 1405.6 1260.7 C1405.6 1259.7 1405.6 1258.6 1405.7 1257.5 C1405.8 1256.4 1406.1 1255.2 1406.4 1254 C1406.7 1252.8 1407.1 1251.6 1407.5 1250.4 C1408 1249.2 1408.6 1248 1409.2 1246.8 C1409.8 1245.7 1410.5 1244.5 1411.3 1243.5 C1412 1242.4 1412.8 1241.3 1413.6 1240.4 C1414.5 1239.4 1415.4 1238.5 1416.2 1237.8 C1417.1 1237 1418.1 1236.3 1419 1235.7 C1419.9 1235.1 1420.8 1234.6 1421.7 1234.3 C1422.6 1233.9 1423.5 1233.7 1424.3 1233.6 C1425.1 1233.5 1425.9 1233.5 1426.7 1233.6 C1427.4 1233.7 1428.1 1234 1428.8 1234.3 C1429.4 1234.7 1429.9 1235.3 1430.4 1235.8"/>
<path d="M1428.7 1234.3 L1438.3 1239.8"/>
<path d="M1436.6 1242.6 C1436.6 1242.6 1437.7 1242.9 1438.2 1243.2 C1438.6 1243.5 1439.1 1243.8 1439.4 1244.3 C1439.8 1244.7 1440.1 1245.2 1440.4 1245.8 C1440.7 1246.4 1440.9 1247 1441 1247.7 C1441.2 1248.4 1441.2 1249.2 1441.2 1250 C1441.3 1250.8 1441.2 1251.6 1441.1 1252.5 C1441 1253.4 1440.8 1254.3 1440.6 1255.2 C1440.3 1256.1 1440 1257 1439.7 1258 C1439.3 1258.9 1438.9 1259.8 1438.4 1260.7 C1438 1261.6 1437.5 1262.5 1436.9 1263.3 C1436.4 1264.2 1435.8 1265 1435.2 1265.8 C1434.5 1266.5 1433.9 1267.2 1433.2 1267.9 C1432.6 1268.6 1431.9 1269.2 1431.2 1269.7 C1430.5 1270.2 1429.8 1270.7 1429.1 1271.1 C1428.4 1271.5 1427.7 1271.8 1427 1272 C1426.4 1272.2 1425.7 1272.4 1425.1 1272.4 C1424.4 1272.5 1423.8 1272.5 1423.3 1272.3 C1422.7 1272.2 1422.2 1272 1421.7 1271.8 C1421.2 1271.5 1420.8 1271.1 1420.4 1270.7 C1420 1270.3 1419.7 1269.8 1419.4 1269.2 C1419.1 1268.6 1418.9 1268 1418.8 1267.3 C1418.6 1266.6 1418.5 1265.8 1418.5 1265 C1418.5 1264.2 1418.5 1263.4 1418.6 1262.5 C1418.8 1261.7 1418.9 1260.7 1419.2 1259.8 C1419.4 1258.9 1419.7 1258 1420 1257.1 C1420.4 1256.2 1420.8 1255.2 1421.2 1254.3 C1421.7 1253.4 1422.2 1252.6 1422.7 1251.7 C1423.3 1250.9 1423.9 1250 1424.5 1249.3 C1425.1 1248.5 1425.8 1247.8 1426.4 1247.1 C1427.1 1246.4 1427.8 1245.8 1428.5 1245.3 C1429.1 1244.7 1429.9 1244.3 1430.5 1243.9 C1431.2 1243.5 1431.9 1243.2 1432.6 1242.9 C1433.3 1242.7 1434 1242.5 1434.6 1242.5 C1435.2 1242.4 1435.8 1242.4 1436.4 1242.5 C1437 1242.6 1438 1243.1 1438 1243.1 C1438 1243.1 1436.6 1242.5 1436.6 1242.6Z"/>
<path d="M1439.5 1249.6 L1474.3 1269.5"/>
<path d="M1428 1269.7 L1462.7 1289.6"/>
<path d="M1428 1269.7 C1427.7 1269.4 1427.4 1269.1 1427.1 1268.7 C1426.9 1268.3 1426.7 1267.9 1426.5 1267.4 C1426.4 1266.9 1426.3 1266.3 1426.2 1265.8 C1426.2 1265.2 1426.2 1264.6 1426.3 1263.9 C1426.3 1263.3 1426.4 1262.6 1426.6 1261.9 C1426.8 1261.2 1427 1260.5 1427.2 1259.8 C1427.5 1259.2 1427.8 1258.4 1428.1 1257.8 C1428.5 1257.1 1428.9 1256.4 1429.3 1255.8 C1429.7 1255.1 1430.1 1254.5 1430.6 1254 C1431.1 1253.4 1431.6 1252.8 1432.1 1252.4 C1432.6 1251.9 1433.1 1251.4 1433.6 1251.1 C1434.2 1250.7 1434.7 1250.4 1435.2 1250.1 C1435.7 1249.9 1436.3 1249.7 1436.7 1249.5 C1437.2 1249.4 1437.7 1249.4 1438.2 1249.4 C1438.6 1249.4 1439 1249.5 1439.5 1249.6" style="stroke-width:1.8;"/>
<path d="M1439.7 1250.7 L1466.6 1266.1" style="stroke-width:1.6;"/>
<path d="M1436.4 1251.9 L1463.3 1267.3" style="stroke-width:1.6;"/>
<path d="M1433.2 1254.8 L1460.1 1270.2" style="stroke-width:1.6;"/>
<path d="M1430.5 1258.7 L1457.4 1274.1" style="stroke-width:1.6;"/>
<path d="M1428.8 1263.1 L1455.7 1278.5" style="stroke-width:1.6;"/>
<path d="M1428.4 1267.2 L1455.3 1282.6" style="stroke-width:1.6;"/>
<path d="M1429.3 1270 L1456.2 1285.4" style="stroke-width:1.6;"/>
<path d="M1457.5 1286.6 C1457.2 1286.4 1456.8 1286.2 1456.5 1285.8 C1456.3 1285.5 1456 1285.1 1455.8 1284.7 C1455.6 1284.2 1455.5 1283.7 1455.4 1283.2 C1455.3 1282.7 1455.3 1282.1 1455.3 1281.5 C1455.3 1280.8 1455.4 1280.2 1455.5 1279.5 C1455.6 1278.9 1455.8 1278.2 1456 1277.5 C1456.2 1276.8 1456.4 1276.1 1456.7 1275.4 C1457 1274.8 1457.4 1274.1 1457.7 1273.4 C1458.1 1272.8 1458.5 1272.1 1459 1271.5 C1459.4 1270.9 1459.9 1270.3 1460.4 1269.8 C1460.9 1269.3 1461.4 1268.8 1461.9 1268.4 C1462.4 1267.9 1462.9 1267.5 1463.4 1267.2 C1464 1266.9 1464.5 1266.6 1465 1266.4 C1465.5 1266.3 1466 1266.1 1466.5 1266.1 C1467 1266 1467.4 1266 1467.9 1266.1 C1468.3 1266.2 1468.7 1266.4 1469 1266.5"/>
<path d="M1467.4 1266 L1472.2 1268.8" style="stroke-width:1.4;"/>
<path d="M1464.8 1266.5 L1469.6 1269.2" style="stroke-width:1.4;"/>
<path d="M1462.1 1268.2 L1466.8 1270.9" style="stroke-width:1.4;"/>
<path d="M1459.4 1270.9 L1464.2 1273.6" style="stroke-width:1.4;"/>
<path d="M1457.3 1274.3 L1462 1277" style="stroke-width:1.4;"/>
<path d="M1455.8 1278 L1460.6 1280.7" style="stroke-width:1.4;"/>
<path d="M1455.3 1281.5 L1460.1 1284.2" style="stroke-width:1.4;"/>
<path d="M1455.7 1284.4 L1460.5 1287.1" style="stroke-width:1.4;"/>
<path d="M1474.3 1269.5 C1474.6 1269.7 1474.9 1269.9 1475.1 1270.2 C1475.4 1270.5 1475.6 1270.8 1475.8 1271.2 C1476 1271.6 1476.1 1272 1476.3 1272.4 C1476.4 1272.9 1476.4 1273.4 1476.5 1273.9 C1476.5 1274.4 1476.5 1275 1476.4 1275.5 C1476.4 1276.1 1476.3 1276.7 1476.2 1277.3 C1476 1277.9 1475.9 1278.5 1475.7 1279.1 C1475.5 1279.7 1475.2 1280.3 1474.9 1280.9 C1474.7 1281.5 1474.4 1282.1 1474 1282.7 C1473.7 1283.3 1473.3 1283.9 1472.9 1284.4 C1472.6 1285 1472.1 1285.5 1471.7 1286 C1471.3 1286.5 1470.9 1286.9 1470.4 1287.3 C1470 1287.8 1469.5 1288.1 1469 1288.5 C1468.6 1288.8 1468.1 1289.1 1467.6 1289.3 C1467.2 1289.5 1466.7 1289.7 1466.3 1289.9 C1465.8 1290 1465.4 1290.1 1465 1290.1 C1464.6 1290.1 1464.1 1290.1 1463.8 1290 C1463.4 1289.9 1463 1289.8 1462.7 1289.6 C1462.4 1289.4 1462.1 1289.2 1461.9 1288.9 C1461.6 1288.6 1461.4 1288.3 1461.2 1287.9 C1461 1287.6 1460.8 1287.1 1460.7 1286.7 C1460.6 1286.2 1460.5 1285.7 1460.5 1285.2 C1460.5 1284.7 1460.5 1284.2 1460.5 1283.6 C1460.6 1283 1460.7 1282.4 1460.8 1281.8 C1460.9 1281.3 1461.1 1280.6 1461.3 1280 C1461.5 1279.4 1461.8 1278.8 1462 1278.2 C1462.3 1277.6 1462.6 1277 1463 1276.4 C1463.3 1275.8 1463.7 1275.2 1464 1274.7 C1464.4 1274.1 1464.8 1273.6 1465.3 1273.1 C1465.7 1272.7 1466.1 1272.2 1466.6 1271.8 C1467 1271.4 1467.5 1271 1468 1270.7 C1468.4 1270.3 1468.9 1270 1469.3 1269.8 C1469.8 1269.6 1470.3 1269.4 1470.7 1269.3 C1471.2 1269.1 1471.6 1269 1472 1269 C1472.4 1269 1472.8 1269 1473.2 1269.1 C1473.6 1269.2 1473.9 1269.3 1474.3 1269.5Z"/>
<path d="M1494.7 1279.4 C1495.5 1279.1 1496.4 1278.7 1497.2 1278.4 C1498.1 1278.2 1498.9 1278.1 1499.7 1278.1 C1500.4 1278.1 1501.2 1278.2 1501.8 1278.4 C1502.5 1278.6 1503.2 1278.9 1503.7 1279.4 C1504.3 1279.8 1504.8 1280.3 1505.2 1280.9 C1505.7 1281.6 1506 1282.3 1506.3 1283.1 C1506.5 1283.9 1506.7 1284.7 1506.8 1285.6 C1506.9 1286.6 1506.9 1287.6 1506.9 1288.6 C1506.8 1289.6 1506.6 1290.7 1506.4 1291.7 C1506.1 1292.8 1505.8 1293.9 1505.4 1295 C1505 1296 1504.5 1297.1 1503.9 1298.1 C1503.4 1299.2 1502.7 1300.2 1502.1 1301.2 C1501.4 1302.1 1500.7 1303 1499.9 1303.9 C1499.1 1304.7 1498.3 1305.5 1497.5 1306.1 C1496.7 1306.8 1495.8 1307.4 1495 1307.9 C1494.1 1308.4 1493.3 1308.8 1492.4 1309.1 C1491.6 1309.3 1490.8 1309.5 1490 1309.6 C1489.2 1309.6 1488.4 1309.6 1487.7 1309.4 C1487 1309.3 1486.3 1309 1485.7 1308.6 C1485.1 1308.3 1484.6 1307.8 1484.1 1307.2 C1483.7 1306.6 1483.3 1306 1483 1305.2 C1482.7 1304.5 1482.4 1303.6 1482.3 1302.8 C1482.1 1301.9 1482.1 1300.9 1482.1 1299.9 C1482.1 1298.9 1482.3 1297.9 1482.5 1296.8 C1482.7 1295.8 1483 1294.7 1483.3 1293.6 C1483.7 1292.5 1484.2 1291.4 1484.7 1290.4 C1485.2 1289.3 1485.8 1288.3 1486.4 1287.3 C1487.1 1286.3 1487.8 1285.4 1488.5 1284.5 C1489.3 1283.6 1490.1 1282.9 1490.9 1282.1"/>
<path d="M1495.1 1283.1 C1495.7 1282.9 1496.3 1282.6 1496.9 1282.4 C1497.5 1282.3 1498.1 1282.3 1498.6 1282.3 C1499.2 1282.3 1499.7 1282.4 1500.2 1282.6 C1500.7 1282.8 1501.1 1283.1 1501.5 1283.4 C1501.9 1283.7 1502.2 1284.2 1502.5 1284.6 C1502.8 1285.1 1503 1285.6 1503.2 1286.2 C1503.4 1286.8 1503.5 1287.4 1503.6 1288.1 C1503.6 1288.8 1503.6 1289.5 1503.5 1290.2 C1503.5 1291 1503.3 1291.7 1503.1 1292.5 C1503 1293.3 1502.7 1294.1 1502.4 1294.8 C1502.1 1295.6 1501.7 1296.4 1501.3 1297.1 C1500.9 1297.9 1500.5 1298.6 1500 1299.3 C1499.5 1300 1499 1300.6 1498.4 1301.2 C1497.9 1301.8 1497.3 1302.4 1496.7 1302.9 C1496.1 1303.3 1495.5 1303.8 1494.9 1304.1 C1494.3 1304.5 1493.6 1304.8 1493 1305 C1492.4 1305.2 1491.8 1305.3 1491.3 1305.4 C1490.7 1305.4 1490.1 1305.4 1489.6 1305.3 C1489.1 1305.2 1488.6 1305 1488.2 1304.7 C1487.8 1304.5 1487.4 1304.2 1487 1303.8 C1486.7 1303.4 1486.4 1302.9 1486.1 1302.4 C1485.9 1301.8 1485.7 1301.3 1485.6 1300.6 C1485.5 1300 1485.4 1299.3 1485.4 1298.6 C1485.4 1297.9 1485.5 1297.2 1485.6 1296.4 C1485.7 1295.7 1485.9 1294.9 1486.2 1294.1 C1486.4 1293.3 1486.7 1292.5 1487.1 1291.8 C1487.4 1291 1487.8 1290.2 1488.3 1289.5 C1488.7 1288.8 1489.2 1288.1 1489.7 1287.5 C1490.3 1286.8 1490.8 1286.3 1491.4 1285.7"/>
<path d="M1494.7 1279.4 L1495.1 1283.1"/>
<path d="M1490.9 1282.1 L1491.4 1285.7"/>
</g>
<g id="valve">
<path d="M218.2 1208 C218 1205.8 218.3 1202.6 219.6 1200.1 C221 1197.6 224.9 1193 227 1191.2 C229.2 1189.3 231.4 1187.4 233.9 1187.7 C236.5 1188.1 241.4 1192.1 243.8 1193.5 C246.2 1194.9 248.1 1195 250.2 1197.1 C252.3 1199.2 256.3 1205.2 257.6 1207.5 C258.9 1209.8 259 1210.5 258.6 1212.4 C258.2 1214.3 256.8 1218.6 255.1 1220.3 C253.5 1222 251.1 1223.6 247.7 1223.7 C244.4 1223.9 237 1222.7 233 1221.3 C228.9 1219.9 222.8 1216.4 220.6 1214.4 C218.4 1212.4 218.3 1210.1 218.2 1208Z"/>
<ellipse cx="251.2" cy="1214.6" rx="9.6" ry="6.1" transform="rotate(-62 251.2 1214.6)"/>
<path d="M228 1190.9 L243.8 1194.2"/>
<path d="M243.8 1194.2 C241 1196.3 237.6 1198 235.4 1200.6 C233.2 1203.1 231.7 1206.4 230.8 1209.4 C229.9 1212.4 230.4 1215.5 230.2 1218.5"/>
<path d="M219.1 1206 L230.5 1211.9"/>
<path d="M174.8 1241 C175.8 1239.2 176.1 1237 177.7 1235.6 C179.4 1234.2 182.7 1232.7 184.6 1232.6 C186.6 1232.5 188.2 1234.2 189.6 1235.1 C191 1236 191.9 1237 193 1238"/>
<path d="M193 1238 L205.5 1253.8 L208.5 1258.7"/>
<path d="M208.5 1258.7 C209.8 1260.2 214 1264.8 215.2 1266.1 C216.4 1267.4 219.4 1271.1 220.3 1271.7 C221.2 1272.4 223.3 1272.5 224.1 1272.7"/>
<path d="M224.1 1272.7 C225.6 1274.4 227.5 1276.5 229 1278.4 C230.5 1280.3 233.1 1283.6 233.9 1285.3 C234.8 1287 235.2 1287.9 234.4 1289.8 C233.7 1291.7 231.3 1296.2 229 1298.2 C226.7 1300.2 221.8 1302.3 219.1 1303.1 C216.5 1303.9 213 1303.9 211.3 1303.6 C209.5 1303.3 208.5 1301.9 207.3 1301.1"/>
<path d="M207.3 1301.1 L200.9 1291.3 L200.4 1287.8"/>
<path d="M200.4 1287.8 L191.1 1269.6 L189.1 1264.6 L176.8 1248.9 L175.8 1245.4 L174.8 1241"/>
<ellipse cx="182.5" cy="1239.3" rx="7.7" ry="4.9" transform="rotate(-28 182.5 1239.3)"/>
<path d="M176.3 1245.1 C178.4 1245.9 180.5 1247.7 182.7 1247.4 C184.9 1247.1 187.8 1245 189.6 1243.4 C191.3 1241.9 191.9 1239.8 193 1238"/>
<path d="M177.3 1249.1 C179.7 1249.7 182.3 1251.5 184.6 1251 C187 1250.5 190 1247.7 191.5 1246.1 C193.1 1244.5 193.3 1242.8 194.2 1241.2"/>
<path d="M181.7 1252.8 L189.6 1264.6" style="stroke-width:1.8;"/>
<path d="M185.4 1251.6 L193.8 1262.7" style="stroke-width:1.8;"/>
<path d="M189.4 1249.1 L198.3 1259.5" style="stroke-width:1.8;"/>
<path d="M193 1245.4 L202.2 1255.8" style="stroke-width:1.8;"/>
<path d="M189.6 1265.1 C192.2 1264.6 195.2 1264.8 197.5 1263.7 C199.8 1262.5 202 1259.9 203.4 1258.2 C204.7 1256.6 204.8 1255.3 205.5 1253.8"/>
<path d="M191.5 1269.8 C194.2 1269.4 197 1269.6 199.4 1268.6 C201.9 1267.6 204.8 1265.3 206.3 1263.7 C207.8 1262 207.8 1260.4 208.5 1258.7"/>
<path d="M200.6 1286.1 C203.5 1285.5 206.5 1285.6 209.3 1284.4 C212.1 1283.1 215.3 1280.5 217.2 1278.4 C219.1 1276.4 219.5 1274.2 220.6 1272"/>
<path d="M200.9 1290.1 C204.4 1289.8 207.9 1290.7 211.3 1289.3 C214.6 1287.8 219 1284.1 221.1 1281.4 C223.3 1278.7 223.2 1275.8 224.3 1273"/>
<path d="M203.4 1294.4 C206.7 1294 209.8 1294.7 213.2 1293.2 C216.7 1291.7 221.6 1287.9 224.1 1285.3 C226.5 1282.7 226.7 1280.2 228 1277.7"/>
<path d="M260.1 1220.8 L290.6 1238.2" style="stroke-width:2;"/>
<path d="M229 1304.1 L240.8 1319.1" style="stroke-width:2;"/>
<path d="M294.8 1240.3 L407.2 1305 L407.2 1428.2 L470.4 1459.6" style="stroke-width:1.8;stroke-dasharray:7 4.5;stroke-linecap:butt;"/>
<path d="M244 1323.5 L271.7 1361.1 L291.7 1329.6 L459.6 1557.6" style="stroke-width:1.8;stroke-dasharray:7 4.5;stroke-linecap:butt;"/>
<path d="M481 1459 a11.5 12.5 0 1 0 0.1 0Z" style="stroke-width:1.8;stroke-dasharray:5 3.5;stroke-linecap:butt;"/>
<ellipse cx="528.7" cy="1384.1" rx="12.2" ry="13.8" style="stroke-width:1.8;stroke-dasharray:5 3.5;stroke-linecap:butt;"/>
</g>
<g id="rimhub">
<path d="M605.3 1334.4 C605.8 1340.4 607.1 1345.5 607 1352.2 C606.8 1358.8 605.9 1366 604.2 1374.4 C602.4 1382.7 599.6 1392.8 596.4 1402.1 C593.3 1411.3 589.6 1420.6 585.3 1429.8 C581.1 1439.1 575.5 1448.7 570.9 1457.5 C566.3 1466.4 561.5 1475.7 557.6 1483 C553.7 1490.4 550.9 1495.6 547.6 1501.9"/>
<path d="M587 1346.6 C586.8 1352.2 587.4 1356.4 586.4 1363.3 C585.4 1370.1 583.1 1379.2 580.9 1387.7 C578.7 1396.2 575.7 1405.4 573.1 1414.3"/>
<path d="M582.6 1350 C582.2 1355.5 582.5 1359.8 581.4 1366.6 C580.4 1373.4 578.3 1383.4 576.5 1391 C574.6 1398.6 572.4 1405 570.4 1412.1"/>
<path d="M574.2 1418.7 C571.3 1426.1 569.1 1433 565.4 1440.9 C561.7 1448.9 556.3 1459 552.1 1466.4 C547.8 1473.8 543.2 1480.6 539.9 1485.3 C536.5 1489.9 534.7 1491.2 532.1 1494.1"/>
<path d="M567.6 1362.2 C566.8 1368.1 566.8 1373.1 565.4 1379.9 C563.9 1386.7 560.9 1395.4 558.7 1403.2"/>
<path d="M544.3 1387.7 C543.4 1392.5 542.8 1397.1 541.5 1402.1 C540.2 1407.1 538.2 1412.4 536.5 1417.6"/>
<path d="M535.4 1418.7 C532.5 1425.4 530.2 1431.8 526.5 1438.7 C522.8 1445.5 518 1453.5 513.2 1459.8 C508.4 1466 502.9 1470.9 497.7 1476.4"/>
<path d="M536.5 1417.6 L556.5 1406.5 L573.1 1416 L575.3 1418.7 L552.1 1430.4 L548.7 1426.5 L536.5 1417.6"/>
<path d="M548.7 1426.5 L573.1 1416"/>
<path d="M548.7 1426.5 L526.5 1466.4"/>
<path d="M552.1 1430.4 L531 1468.6"/>
<path d="M513.2 1460.9 L526.5 1466.4 L531 1468.6"/>
<path d="M526.5 1466.4 L524.3 1489.7"/>
<path d="M531 1468.6 L528.8 1491.9"/>
<path d="M512.1 1462 L510.5 1481.4"/>
<path d="M503.3 1449.8 C504.5 1446.8 510.7 1436.3 513.2 1432 C515.7 1427.7 520.2 1420.6 522.1 1417.6 C524 1414.7 526.6 1410.7 527.7 1409.9 C528.7 1409 529.7 1410.5 529.9 1411.5 C530 1412.6 530.1 1414.6 528.8 1417.6 C527.4 1420.6 522.4 1429.7 519.9 1434.3 C517.4 1438.8 511.7 1449.2 509.9 1452 C508.1 1454.8 507.4 1455 506.6 1455.3 C505.8 1455.6 504.3 1455 503.8 1454.2 C503.4 1453.5 502 1452.7 503.3 1449.8Z"/>
<path d="M506.6 1446.5 C509.5 1441.3 512.5 1436.1 515.5 1430.9 C518.4 1425.7 521.4 1420.6 524.3 1415.4" style="stroke-width:1.8;"/>
<path d="M487.7 1486.4 L495.5 1477.5"/>
<path d="M489.4 1509.7 C492.5 1506.7 495.8 1503.9 498.8 1500.8 C501.9 1497.7 504.7 1494.1 507.7 1490.8"/>
<path d="M508.8 1509.7 C511 1507.8 513.2 1506 515.5 1504.1 C517.7 1502.3 519.9 1500.4 522.1 1498.6"/>
<path d="M513.2 1510 C515.5 1508.2 517.9 1506.4 519.9 1504.7 C521.9 1503 523.6 1501.3 525.4 1499.7"/>
<path d="M492.6 1477.1 L590.2 1533.8" style="stroke-width:2;"/>
<path d="M615.8 1548.6 L688.8 1590.5" style="stroke-width:2;"/>
<path d="M649.6 1459.8 C651 1460.6 652.2 1461.6 653.4 1462.7 C654.5 1463.9 655.4 1465.3 656.3 1466.8 C657.1 1468.3 657.8 1470 658.3 1471.8 C658.8 1473.6 659.2 1475.6 659.4 1477.6 C659.6 1479.7 659.6 1481.8 659.5 1484.1 C659.4 1486.3 659.1 1488.6 658.6 1491 C658.2 1493.3 657.6 1495.7 656.8 1498.1 C656 1500.5 655.1 1503 654.1 1505.3 C653 1507.7 651.8 1510 650.5 1512.3 C649.2 1514.5 647.8 1516.8 646.3 1518.8 C644.7 1520.9 643.1 1522.9 641.4 1524.8 C639.7 1526.6 637.9 1528.4 636.1 1530 C634.3 1531.5 632.5 1532.9 630.6 1534.2 C628.7 1535.4 626.8 1536.5 624.9 1537.3 C623.1 1538.2 621.2 1538.8 619.3 1539.3 C617.5 1539.7 615.7 1540 614 1540 C612.3 1540.1 610.6 1539.9 609 1539.5 C607.5 1539.1 606 1538.5 604.6 1537.8 C603.3 1537 602 1536 600.9 1534.8 C599.8 1533.7 598.8 1532.3 598 1530.8 C597.2 1529.3 596.5 1527.6 596 1525.8 C595.4 1524 595.1 1522 594.9 1520 C594.7 1517.9 594.6 1515.7 594.8 1513.5 C594.9 1511.3 595.2 1508.9 595.6 1506.6 C596.1 1504.2 596.7 1501.8 597.5 1499.4 C598.2 1497 599.2 1494.6 600.2 1492.3 C601.2 1489.9 602.4 1487.5 603.8 1485.3 C605.1 1483 606.5 1480.8 608 1478.7 C609.5 1476.6 611.2 1474.6 612.9 1472.8 C614.5 1470.9 616.3 1469.2 618.1 1467.6 C619.9 1466 621.8 1464.6 623.7 1463.4 C625.6 1462.2 627.5 1461.1 629.3 1460.2 C631.2 1459.4 633.1 1458.7 634.9 1458.3 C636.8 1457.8 638.6 1457.6 640.3 1457.5 C642 1457.5 643.7 1457.7 645.2 1458.1 C646.8 1458.4 648.3 1459 649.6 1459.8Z"/>
<path d="M598.8 1534.2 C597.5 1532.8 596.1 1531.7 595.1 1530.1 C594 1528.6 593.1 1526.7 592.5 1524.8 C591.8 1522.8 591.3 1520.6 591 1518.3 C590.8 1516 590.7 1513.5 590.9 1511 C591 1508.5 591.4 1505.8 592 1503.1 C592.5 1500.5 593.3 1497.7 594.3 1495 C595.3 1492.3 596.4 1489.6 597.7 1486.9 C599.1 1484.3 600.6 1481.7 602.2 1479.2 C603.8 1476.8 605.6 1474.4 607.5 1472.2 C609.3 1470 611.3 1468 613.3 1466.2 C615.4 1464.3 617.5 1462.7 619.6 1461.3 C621.7 1459.9 623.9 1458.7 626 1457.7 C628.1 1456.8 630.3 1456.1 632.3 1455.7 C634.3 1455.3 636.4 1455.2 638.3 1455.3 C640.1 1455.5 641.8 1456.1 643.6 1456.5"/>
<path d="M643.9 1469.8 C644.9 1470.3 645.8 1471.1 646.7 1472 C647.5 1472.8 648.2 1473.8 648.8 1475 C649.4 1476.1 650 1477.3 650.3 1478.7 C650.7 1480 651 1481.5 651.2 1483 C651.3 1484.5 651.3 1486.2 651.2 1487.8 C651.1 1489.5 650.9 1491.2 650.6 1493 C650.2 1494.7 649.8 1496.5 649.2 1498.3 C648.7 1500.1 648 1501.9 647.2 1503.6 C646.4 1505.4 645.5 1507.2 644.5 1508.8 C643.6 1510.5 642.5 1512.2 641.4 1513.7 C640.2 1515.3 639 1516.8 637.8 1518.1 C636.5 1519.5 635.2 1520.8 633.8 1522 C632.5 1523.2 631.1 1524.2 629.7 1525.1 C628.3 1526 626.9 1526.8 625.5 1527.5 C624.1 1528.1 622.7 1528.6 621.3 1528.9 C620 1529.3 618.6 1529.5 617.3 1529.5 C616.1 1529.5 614.8 1529.4 613.7 1529.1 C612.5 1528.8 611.4 1528.4 610.4 1527.8 C609.4 1527.2 608.4 1526.5 607.6 1525.6 C606.8 1524.7 606.1 1523.7 605.4 1522.6 C604.8 1521.5 604.3 1520.2 603.9 1518.9 C603.5 1517.5 603.3 1516.1 603.1 1514.5 C603 1513 602.9 1511.4 603 1509.7 C603.1 1508.1 603.3 1506.3 603.7 1504.6 C604 1502.8 604.5 1501 605 1499.3 C605.6 1497.5 606.3 1495.7 607.1 1493.9 C607.9 1492.2 608.8 1490.4 609.7 1488.7 C610.7 1487.1 611.8 1485.4 612.9 1483.8 C614 1482.3 615.3 1480.8 616.5 1479.4 C617.8 1478 619.1 1476.7 620.4 1475.6 C621.8 1474.4 623.2 1473.3 624.6 1472.4 C626 1471.5 627.4 1470.7 628.8 1470.1 C630.2 1469.5 631.6 1469 632.9 1468.6 C634.3 1468.3 635.6 1468.1 636.9 1468.1 C638.2 1468.1 639.4 1468.2 640.6 1468.5 C641.8 1468.7 642.9 1469.2 643.9 1469.8Z"/>
<ellipse cx="621.9" cy="1497.7" rx="21.1" ry="13.1" transform="rotate(-60 621.9 1497.7)"/>
<ellipse cx="619.9" cy="1496.8" rx="16.4" ry="9.8" transform="rotate(-60 619.9 1496.8)"/>
<path d="M634.8 1488.6 C634.8 1489.6 634.9 1490.7 634.8 1491.8 C634.7 1492.9 634.5 1494 634.2 1495.2 C634 1496.3 633.6 1497.5 633.2 1498.7 C632.7 1499.8 632.2 1501 631.6 1502.1 C631 1503.3 630.3 1504.4 629.6 1505.4 C628.9 1506.4 628.1 1507.4 627.2 1508.3 C626.4 1509.3 625.5 1510.1 624.6 1510.8 C623.8 1511.6 622.8 1512.2 621.9 1512.8 C621 1513.3 620.1 1513.7 619.2 1514.1 C618.2 1514.4 617.3 1514.6 616.5 1514.7 C615.6 1514.8 614.8 1514.7 614 1514.6 C613.2 1514.4 612.5 1514.2 611.8 1513.8 C611.2 1513.4 610.6 1512.9 610 1512.3 C609.5 1511.7 609.1 1511 608.7 1510.2 C608.4 1509.4 608.1 1508.5 607.9 1507.6 C607.7 1506.6 607.7 1505.6 607.7 1504.5 C607.7 1503.5 607.8 1502.3 608 1501.2 C608.2 1500.1 608.5 1498.9 608.8 1497.7"/>
<path d="M640.4 1468.8 L637.7 1483.3"/>
<path d="M605.5 1521 L616.6 1516.5"/>
<path d="M624.4 1458.3 C621.8 1457.9 620.3 1456.4 616.6 1457.2 C612.9 1458 606.8 1459.3 602.2 1463.3 C597.6 1467.3 591.8 1475.3 588.9 1481 C585.9 1486.8 584.8 1492.5 584.4 1497.7 C584.1 1502.8 585.5 1508.6 586.7 1512.1 C587.8 1515.6 589.6 1516.5 591.1 1518.7"/>
<path d="M622.7 1460.5 C617.7 1461.8 611.8 1462.3 607.7 1464.4 C603.7 1466.5 600.1 1470.9 598.3 1473.3 C596.5 1475.7 596.4 1477.2 596.6 1478.8 C596.9 1480.5 598.9 1481.8 600 1483.3"/>
<path d="M586.7 1489.9 C587.2 1493.2 587.6 1496.7 588.3 1499.9 C589.1 1503 590.2 1505.8 591.1 1508.8"/>
<path d="M709 1515.1 C709.8 1515.6 710.5 1516.2 711.2 1516.9 C711.9 1517.5 712.4 1518.3 712.9 1519.2 C713.4 1520.1 713.8 1521.1 714.2 1522.2 C714.5 1523.2 714.7 1524.4 714.8 1525.6 C715 1526.8 715 1528.1 714.9 1529.4 C714.9 1530.7 714.7 1532 714.4 1533.4 C714.2 1534.8 713.8 1536.2 713.4 1537.6 C712.9 1539 712.4 1540.4 711.8 1541.7 C711.2 1543.1 710.5 1544.5 709.7 1545.8 C709 1547.1 708.1 1548.4 707.3 1549.6 C706.4 1550.8 705.4 1552 704.4 1553.1 C703.4 1554.2 702.4 1555.2 701.3 1556.1 C700.3 1557 699.2 1557.8 698.1 1558.5 C697 1559.2 695.9 1559.8 694.8 1560.3 C693.7 1560.8 692.5 1561.2 691.5 1561.5 C690.4 1561.7 689.3 1561.9 688.3 1561.9 C687.3 1561.9 686.3 1561.8 685.4 1561.6 C684.5 1561.3 683.6 1561 682.8 1560.5 C682 1560 681.2 1559.5 680.6 1558.8 C679.9 1558.1 679.3 1557.3 678.9 1556.4 C678.4 1555.5 677.9 1554.5 677.6 1553.5 C677.3 1552.4 677.1 1551.3 677 1550.1 C676.8 1548.9 676.8 1547.6 676.9 1546.3 C676.9 1545 677.1 1543.6 677.4 1542.2 C677.6 1540.9 678 1539.5 678.4 1538.1 C678.8 1536.7 679.4 1535.3 680 1533.9 C680.6 1532.5 681.3 1531.1 682.1 1529.8 C682.8 1528.5 683.7 1527.2 684.5 1526 C685.4 1524.8 686.4 1523.6 687.4 1522.5 C688.4 1521.5 689.4 1520.5 690.5 1519.6 C691.5 1518.6 692.6 1517.8 693.7 1517.1 C694.8 1516.4 695.9 1515.8 697 1515.3 C698.1 1514.8 699.2 1514.4 700.3 1514.2 C701.4 1513.9 702.5 1513.8 703.5 1513.8 C704.5 1513.7 705.5 1513.9 706.4 1514.1 C707.3 1514.3 708.2 1514.7 709 1515.1Z"/>
<path d="M680 1558.9 C679.2 1558.2 678.3 1557.7 677.6 1556.9 C676.9 1556.1 676.2 1555.2 675.7 1554.1 C675.2 1553.1 674.8 1551.9 674.5 1550.6 C674.3 1549.4 674.1 1548 674.1 1546.6 C674 1545.2 674.1 1543.7 674.3 1542.2 C674.5 1540.7 674.9 1539.1 675.3 1537.5 C675.8 1536 676.3 1534.4 677 1532.8 C677.7 1531.3 678.4 1529.7 679.3 1528.2 C680.1 1526.8 681.1 1525.3 682.1 1524 C683.1 1522.6 684.2 1521.3 685.4 1520.2 C686.5 1519 687.7 1517.9 688.9 1517 C690.1 1516 691.4 1515.2 692.6 1514.5 C693.8 1513.8 695.1 1513.3 696.3 1512.9 C697.5 1512.5 698.8 1512.3 699.9 1512.2 C701.1 1512.1 702.2 1512.2 703.3 1512.4 C704.3 1512.6 705.2 1513.2 706.2 1513.5"/>
<ellipse cx="696.5" cy="1540" rx="11.6" ry="6.9" transform="rotate(-60 696.5 1540)"/>
<path d="M703 1538.7 C702.9 1539.2 702.8 1539.7 702.6 1540.3 C702.4 1540.8 702.1 1541.4 701.9 1541.9 C701.6 1542.5 701.3 1543 701 1543.5 C700.6 1544 700.3 1544.5 699.9 1545 C699.6 1545.5 699.2 1545.9 698.8 1546.3 C698.4 1546.7 698 1547 697.5 1547.3 C697.1 1547.6 696.7 1547.9 696.3 1548.1 C695.9 1548.3 695.5 1548.5 695.1 1548.6 C694.7 1548.7 694.3 1548.7 694 1548.7 C693.6 1548.7 693.3 1548.7 693 1548.5 C692.6 1548.4 692.4 1548.2 692.1 1548 C691.9 1547.8 691.7 1547.5 691.5 1547.2 C691.3 1546.9 691.2 1546.5 691.1 1546.1 C691 1545.7 690.9 1545.3 690.9 1544.8 C690.9 1544.4 690.9 1543.9 691 1543.3 C691.1 1542.8 691.2 1542.3 691.3 1541.7 C691.5 1541.2 691.7 1540.6 691.9 1540.1 C692.1 1539.5 692.4 1539 692.7 1538.5 C692.9 1537.9 693.3 1537.4 693.6 1536.9 C693.9 1536.4 694.3 1536 694.7 1535.5"/>
<path d="M702.7 1542.2 C702.4 1542.7 702.2 1543.3 701.9 1543.8 C701.5 1544.4 701.2 1544.9 700.8 1545.4 C700.4 1545.9 700 1546.3 699.6 1546.8 C699.2 1547.2 698.8 1547.5 698.4 1547.9 C697.9 1548.2 697.5 1548.5 697.1 1548.7 C696.7 1548.9 696.2 1549.1 695.8 1549.2 C695.4 1549.3 695 1549.4 694.7 1549.4 C694.3 1549.4 693.9 1549.3 693.6 1549.2 C693.3 1549.1 693 1548.9 692.8 1548.7 C692.5 1548.4 692.3 1548.2 692.1 1547.8 C691.9 1547.5 691.8 1547.1 691.7 1546.7 C691.6 1546.3 691.6 1545.8 691.6 1545.3 C691.6 1544.8 691.6 1544.3 691.7 1543.8 C691.8 1543.2 691.9 1542.6 692.1 1542.1 C692.3 1541.5 692.5 1540.9 692.7 1540.4 C693 1539.8 693.3 1539.3 693.6 1538.7"/>
<path d="M692 1513.2 C689.4 1511.9 687 1509.6 684.3 1509.3 C681.5 1509 678.5 1510.1 675.4 1511.5 C672.2 1512.9 668 1514.8 665.4 1517.6 C662.8 1520.5 660.6 1525.2 659.9 1528.7 C659.1 1532.2 660.2 1535.9 661 1538.7 C661.7 1541.5 661.9 1543.3 664.3 1545.4 C666.7 1547.4 671.7 1549.1 675.4 1550.9"/>
<path d="M675.4 1514.3 L685.4 1519.3"/>
<path d="M663.2 1534.3 L674.8 1540.4"/>
<path d="M675.4 1512.1 C672.8 1514.7 669.6 1516.7 667.6 1519.9 C665.6 1523 663.9 1528.2 663.2 1530.9 C662.4 1533.7 663.2 1534.6 663.2 1536.5"/>
<path d="M654.7 1405.1 L640.2 1457.5" style="stroke-width:2;"/>
<path d="M733.2 1450.4 L691.9 1513.9" style="stroke-width:2;"/>
</g>
<g id="hub">
<path d="M768.6 1490.3 C770.8 1490.2 773 1491.2 774.7 1492.8 C776.5 1494.4 779 1499.4 780.9 1502 C782.8 1504.7 786.1 1510.1 788.3 1511.9 C790.5 1513.7 794.5 1514.5 796.9 1515 C799.3 1515.4 803 1515.3 805.6 1515 C808.1 1514.6 812.8 1512.5 815.4 1512.5 C818 1512.5 821.8 1513.7 824 1515 C826.3 1516.3 830.2 1519.9 831.4 1521.8 C832.6 1523.6 833 1525.8 832.7 1527.9 C832.3 1530 830.3 1534.9 829 1536.5 C827.7 1538.2 823.9 1538.4 823.4 1539.6 C823 1540.8 826 1542.8 825.9 1545.2 C825.8 1547.5 824.1 1553.5 822.8 1556.3 C821.5 1559 818.2 1563 816.6 1564.9 C815.1 1566.8 812.1 1568.1 811.7 1569.8 C811.4 1571.5 812.8 1573.9 814.2 1577.2 C815.6 1580.5 820 1590 821.6 1593.2 C823.1 1596.5 823.9 1598.9 825.3 1600.6 C826.6 1602.3 830.4 1604 831.4 1605.6 C832.5 1607.1 833 1609.6 832.7 1611.7 C832.3 1613.8 830.5 1618.6 829 1620.3 C827.4 1622.1 823.5 1623.7 821.6 1624 C819.7 1624.4 817.1 1623.3 815.4 1622.8 C813.7 1622.3 812.4 1620.5 809.2 1620.3 C806.1 1620.2 797.2 1620.9 793.2 1621.6 C789.3 1622.3 783.1 1624.1 780.9 1625.3 C778.7 1626.5 778.1 1628.3 777.2 1630.2 C776.3 1632.1 775.4 1637.1 774.7 1638.8 C774.1 1640.5 773.8 1641.1 772.3 1642.5 C770.7 1643.9 765.4 1647.5 763.7 1648.7 C761.9 1649.9 760.6 1649.8 760 1651.1 C759.3 1652.5 759.6 1656.6 758.7 1658.5 C757.9 1660.4 755.5 1663.7 753.8 1664.7 C752.1 1665.7 748.8 1666.5 746.4 1665.9 C744 1665.4 738.5 1662.4 736.5 1661 C734.6 1659.6 732.9 1657.5 732.2 1656.1 C731.5 1654.7 732.7 1653.9 731.6 1651.1 C730.5 1648.4 725.8 1638.9 724.2 1636.4 C722.7 1633.8 722.4 1633.4 720.5 1632.7 C718.6 1632 713.8 1631.6 710.7 1631.4 C707.6 1631.3 700.9 1632.1 698.3 1631.4 C695.8 1630.7 693.5 1628.7 692.2 1626.5 C690.9 1624.3 689.4 1619.2 689.1 1615.4 C688.8 1611.6 688.9 1603.4 689.7 1599.4 C690.5 1595.4 692.7 1589.8 694.6 1587.1 C696.5 1584.3 700.7 1581.4 703.3 1579.7 C705.9 1577.9 710.4 1576.5 713.1 1574.7 C715.9 1573 720.4 1569.6 723 1567.4 C725.6 1565.1 730.1 1561 731.6 1558.7 C733.2 1556.5 733.7 1555.1 734.1 1551.3 C734.4 1547.5 733.9 1535.6 734.1 1531.6 C734.3 1527.6 734.4 1526.1 735.3 1523 C736.2 1519.9 738.3 1512.7 740.2 1509.4 C742.1 1506.2 746.3 1501.8 748.9 1499.6 C751.5 1497.3 756 1494.7 758.7 1493.4 C761.5 1492.1 766.3 1490.4 768.6 1490.3Z"/>
<path d="M739 1523 C740.7 1518.9 741.5 1514.4 743.9 1510.7 C746.4 1507 750.1 1503.7 753.8 1500.8 C757.5 1497.9 762 1495.9 766.1 1493.4"/>
<path d="M695.3 1593.2 C694.7 1597.3 693.7 1601.4 693.7 1605.6 C693.6 1609.7 694.1 1614 695 1617.9 C696 1621.8 697.9 1625.3 699.3 1629"/>
<path d="M700.2 1585.8 C699 1587.9 697.4 1589.9 696.5 1592 C695.6 1594.1 695.3 1596.1 694.6 1598.2"/>
<ellipse cx="761.8" cy="1521.8" rx="16.3" ry="8.7" transform="rotate(-60 761.8 1521.8)"/>
<ellipse cx="761.8" cy="1521.8" rx="9.8" ry="5.2" transform="rotate(-60 761.8 1521.8)"/>
<path d="M764.3 1535.2 C763.4 1535.8 762.5 1536.6 761.6 1537.2 C760.7 1537.7 759.8 1538.2 758.9 1538.5 C758 1538.9 757.1 1539.1 756.3 1539.2 C755.4 1539.3 754.6 1539.3 753.8 1539.2 C753 1539.1 752.3 1538.9 751.6 1538.5 C750.9 1538.2 750.3 1537.7 749.8 1537.2 C749.3 1536.6 748.8 1535.9 748.4 1535.2 C748.1 1534.5 747.8 1533.6 747.6 1532.7 C747.4 1531.8 747.3 1530.8 747.2 1529.8 C747.2 1528.7 747.3 1527.6 747.5 1526.5 C747.6 1525.4 747.9 1524.3 748.2 1523.1 C748.6 1522 749 1520.8 749.5 1519.7 C750 1518.6 750.6 1517.4 751.2 1516.4 C751.9 1515.3 752.6 1514.2 753.4 1513.3 C754.1 1512.3 754.9 1511.4 755.8 1510.6 C756.6 1509.8 757.5 1509 758.4 1508.4 C759.3 1507.7 760.2 1507.2 761.1 1506.7 C762 1506.3 762.9 1506.1 763.8 1505.7"/>
<ellipse cx="824.7" cy="1529.1" rx="10.7" ry="6.9" transform="rotate(-60 824.7 1529.1)"/>
<ellipse cx="824.7" cy="1529.1" rx="6.4" ry="4.1" transform="rotate(-60 824.7 1529.1)"/>
<ellipse cx="810.5" cy="1550.1" rx="13.2" ry="7.5" transform="rotate(-60 810.5 1550.1)"/>
<ellipse cx="810.5" cy="1550.1" rx="7.9" ry="4.5" transform="rotate(-60 810.5 1550.1)"/>
<ellipse cx="751.6" cy="1571.4" rx="10.4" ry="6.6" transform="rotate(-60 751.6 1571.4)"/>
<ellipse cx="751.6" cy="1571.4" rx="6.2" ry="4" transform="rotate(-60 751.6 1571.4)"/>
<ellipse cx="775" cy="1584.6" rx="23.9" ry="15.8" transform="rotate(-60 775 1584.6)"/>
<ellipse cx="775" cy="1584.6" rx="18.7" ry="12.3" transform="rotate(-60 775 1584.6)"/>
<path d="M782.7 1594.2 C781.7 1595.3 780.8 1596.6 779.9 1597.6 C778.9 1598.7 777.8 1599.6 776.8 1600.5 C775.7 1601.3 774.6 1602.1 773.5 1602.7 C772.4 1603.3 771.3 1603.8 770.2 1604.2 C769.1 1604.5 768.1 1604.8 767 1604.9 C766 1604.9 765 1604.9 764.1 1604.7 C763.2 1604.5 762.3 1604.2 761.5 1603.7 C760.7 1603.3 760 1602.7 759.4 1602 C758.7 1601.3 758.2 1600.4 757.7 1599.5 C757.3 1598.6 757 1597.5 756.7 1596.4 C756.5 1595.3 756.4 1594.1 756.4 1592.8 C756.4 1591.6 756.5 1590.2 756.7 1588.9 C756.9 1587.6 757.2 1586.2 757.6 1584.8 C758 1583.4 758.6 1582 759.1 1580.6"/>
<ellipse cx="713.5" cy="1604.1" rx="14.7" ry="11" transform="rotate(-60 713.5 1604.1)"/>
<ellipse cx="713.5" cy="1604.1" rx="6.6" ry="4.9" transform="rotate(-60 713.5 1604.1)"/>
<ellipse cx="713.5" cy="1604.1" rx="11.1" ry="6.9" transform="rotate(-60 713.5 1604.1)"/>
<ellipse cx="764.9" cy="1633" rx="13" ry="6.6" transform="rotate(-60 764.9 1633)"/>
<ellipse cx="764.9" cy="1633" rx="7.1" ry="3.6" transform="rotate(-60 764.9 1633)"/>
<ellipse cx="751.8" cy="1655.2" rx="11.6" ry="5.8" transform="rotate(-60 751.8 1655.2)"/>
<ellipse cx="751.8" cy="1655.2" rx="6.7" ry="3.4" transform="rotate(-60 751.8 1655.2)"/>
<ellipse cx="825.5" cy="1612.3" rx="10.9" ry="5.8" transform="rotate(-60 825.5 1612.3)"/>
<ellipse cx="825.5" cy="1612.3" rx="5.4" ry="2.9" transform="rotate(-60 825.5 1612.3)"/>
<path d="M778.4 1512.5 C779.3 1516.8 779.9 1521 780.9 1525.5 C781.9 1529.9 783.2 1535.7 784.6 1539 C786 1542.3 787.1 1544.8 789.5 1545.2 C792 1545.6 796.1 1542.8 799.4 1541.5 C802.7 1540.1 806 1538.6 809.2 1537.2"/>
<path d="M789.5 1541.2 L805.6 1534.7"/>
<path d="M743.9 1524.2 C745.6 1529.1 747.6 1534.9 748.9 1539 C750.1 1543.1 750.9 1546 751.3 1548.9 C751.7 1551.7 750.1 1554.2 751.3 1556.3 C752.6 1558.3 756.3 1559.5 758.7 1561.2"/>
<path d="M707 1585.8 C711.1 1585.4 715.8 1584.6 719.3 1584.6 C722.8 1584.6 724.8 1586.6 727.9 1585.8 C731 1585.1 735.1 1581.3 737.8 1580.3 C740.4 1579.3 741.9 1579.9 743.9 1579.7"/>
<path d="M705.7 1579.7 C711.9 1579.5 719.9 1580.3 724.2 1579.1 C728.5 1577.8 730 1574.8 731.6 1572.3 C733.3 1569.7 732.8 1566.3 734.1 1563.7 C735.3 1561 737.4 1557.9 739 1556.3 C740.7 1554.6 742.9 1555.4 743.9 1553.8 C745 1552.2 746.6 1550.9 745.2 1546.4 C743.7 1541.9 738.6 1533.3 735.3 1526.7"/>
<path d="M735.9 1548.9 L741.5 1552.6"/>
<path d="M723 1568 L729.1 1571.7"/>
<path d="M710.7 1622.8 C717.6 1620.3 726.1 1616.8 731.6 1615.4 C737.2 1614 741.1 1614 743.9 1614.2 C746.8 1614.4 747.2 1615.8 748.9 1616.6"/>
<path d="M778.4 1621.6 C779.3 1616.2 779.9 1609.5 780.9 1605.6 C781.9 1601.6 783.4 1600.6 784.6 1598.2"/>
<path d="M805.6 1569.8 C801.4 1575.6 795.7 1583.9 793.2 1587.1 C790.8 1590.3 791.6 1588.3 790.8 1588.9"/>
<path d="M777.2 1633.9 C777.6 1631.4 776.8 1628.3 778.4 1626.5 C780.1 1624.7 781.9 1623.8 787.1 1622.8 C792.2 1621.8 801.9 1621.2 809.2 1620.3"/>
<path d="M811.7 1569.8 L822.8 1599.4"/>
<path d="M806.8 1609.2 C807.2 1611.7 806.6 1615.2 808 1616.6 C809.5 1618.1 812.9 1617.5 815.4 1617.9" style="stroke-width:1.8;stroke-dasharray:5 3;"/>
<path d="M805.6 1527.9 C806.4 1526.3 806.4 1524.3 808 1523 C809.7 1521.7 812.9 1520.9 815.4 1519.9" style="stroke-width:1.8;stroke-dasharray:5 3;"/>
<path d="M738.4 1648.7 C739 1646.2 739.1 1643 740.2 1641.3 C741.4 1639.5 743.5 1639.2 745.2 1638.2" style="stroke-width:1.8;stroke-dasharray:5 3;"/>
<path d="M732.8 1615.4 L748.9 1624 L753.8 1642.5" style="stroke-width:1.8;stroke-dasharray:6 3.5;"/>
<path d="M811.7 1601.2 L819.7 1596.9" style="stroke-width:1.8;stroke-dasharray:6 3.5;"/>
<path d="M774.7 1585.2 L841.3 1624" style="stroke-width:2;"/>
<path d="M761.8 1632.4 L776 1640.7" style="stroke-width:2;"/>
<path d="M780 1638.5 L804.4 1648.8"/>
<path d="M780 1649.5 L797 1659.9"/>
<path d="M781.5 1639.1 C780.5 1640.2 778.9 1640.9 778.4 1642.5 C778 1644.1 778.9 1646.6 779.1 1648.7"/>
<path d="M779.3 1650.4 C779.1 1650.2 779 1650 778.8 1649.8 C778.7 1649.6 778.6 1649.4 778.5 1649.1 C778.5 1648.8 778.4 1648.5 778.4 1648.2 C778.4 1647.9 778.4 1647.6 778.4 1647.2 C778.4 1646.8 778.5 1646.5 778.6 1646.1 C778.7 1645.7 778.8 1645.3 779 1645 C779.1 1644.6 779.3 1644.2 779.5 1643.8 C779.7 1643.4 779.9 1643.1 780.1 1642.7 C780.3 1642.4 780.6 1642 780.8 1641.7 C781.1 1641.4 781.4 1641.1 781.6 1640.8 C781.9 1640.6 782.2 1640.3 782.5 1640.1 C782.8 1639.9 783.1 1639.7 783.4 1639.6 C783.6 1639.4 783.9 1639.3 784.2 1639.3 C784.5 1639.2 784.7 1639.2 785 1639.2 C785.2 1639.2 785.5 1639.3 785.7 1639.3" style="stroke-width:1.9;"/>
<path d="M782.6 1652 C782.5 1651.8 782.3 1651.6 782.2 1651.4 C782 1651.2 781.9 1651 781.9 1650.7 C781.8 1650.4 781.7 1650.1 781.7 1649.8 C781.7 1649.5 781.7 1649.2 781.7 1648.8 C781.8 1648.4 781.8 1648.1 781.9 1647.7 C782 1647.3 782.1 1646.9 782.3 1646.6 C782.4 1646.2 782.6 1645.8 782.8 1645.4 C783 1645 783.2 1644.7 783.4 1644.3 C783.7 1644 783.9 1643.6 784.2 1643.3 C784.4 1643 784.7 1642.7 785 1642.4 C785.2 1642.2 785.5 1641.9 785.8 1641.7 C786.1 1641.5 786.4 1641.3 786.7 1641.2 C787 1641 787.3 1640.9 787.5 1640.9 C787.8 1640.8 788.1 1640.8 788.3 1640.8 C788.6 1640.8 788.8 1640.9 789 1640.9" style="stroke-width:1.9;"/>
<path d="M786 1653.6 C785.8 1653.4 785.6 1653.2 785.5 1653 C785.4 1652.8 785.3 1652.6 785.2 1652.3 C785.1 1652 785.1 1651.7 785 1651.4 C785 1651.1 785 1650.8 785.1 1650.4 C785.1 1650.1 785.2 1649.7 785.3 1649.3 C785.3 1648.9 785.5 1648.5 785.6 1648.2 C785.8 1647.8 785.9 1647.4 786.1 1647 C786.3 1646.6 786.5 1646.3 786.8 1645.9 C787 1645.6 787.2 1645.2 787.5 1644.9 C787.7 1644.6 788 1644.3 788.3 1644 C788.6 1643.8 788.9 1643.5 789.2 1643.3 C789.4 1643.1 789.7 1642.9 790 1642.8 C790.3 1642.6 790.6 1642.5 790.9 1642.5 C791.1 1642.4 791.4 1642.4 791.6 1642.4 C791.9 1642.4 792.1 1642.5 792.3 1642.5" style="stroke-width:1.9;"/>
<path d="M789.3 1655.2 C789.1 1655 788.9 1654.8 788.8 1654.6 C788.7 1654.4 788.6 1654.2 788.5 1653.9 C788.4 1653.6 788.4 1653.3 788.4 1653 C788.3 1652.7 788.4 1652.4 788.4 1652 C788.4 1651.7 788.5 1651.3 788.6 1650.9 C788.7 1650.5 788.8 1650.1 788.9 1649.8 C789.1 1649.4 789.3 1649 789.4 1648.6 C789.6 1648.2 789.9 1647.9 790.1 1647.5 C790.3 1647.2 790.6 1646.8 790.8 1646.5 C791.1 1646.2 791.3 1645.9 791.6 1645.6 C791.9 1645.4 792.2 1645.1 792.5 1644.9 C792.8 1644.7 793.1 1644.5 793.3 1644.4 C793.6 1644.3 793.9 1644.1 794.2 1644.1 C794.5 1644 794.7 1644 795 1644 C795.2 1644 795.4 1644.1 795.7 1644.1" style="stroke-width:1.9;"/>
<path d="M792.6 1656.8 C792.5 1656.6 792.3 1656.4 792.1 1656.2 C792 1656 791.9 1655.8 791.8 1655.5 C791.8 1655.2 791.7 1654.9 791.7 1654.6 C791.7 1654.3 791.7 1654 791.7 1653.6 C791.8 1653.3 791.8 1652.9 791.9 1652.5 C792 1652.1 792.1 1651.7 792.3 1651.4 C792.4 1651 792.6 1650.6 792.8 1650.2 C793 1649.9 793.2 1649.5 793.4 1649.1 C793.6 1648.8 793.9 1648.4 794.1 1648.1 C794.4 1647.8 794.7 1647.5 795 1647.2 C795.2 1647 795.5 1646.7 795.8 1646.5 C796.1 1646.3 796.4 1646.1 796.7 1646 C797 1645.9 797.2 1645.7 797.5 1645.7 C797.8 1645.6 798.1 1645.6 798.3 1645.6 C798.5 1645.6 798.8 1645.7 799 1645.7" style="stroke-width:1.9;"/>
<path d="M795.9 1658.4 C795.8 1658.2 795.6 1658 795.5 1657.8 C795.3 1657.6 795.2 1657.4 795.2 1657.1 C795.1 1656.8 795 1656.5 795 1656.2 C795 1655.9 795 1655.6 795 1655.2 C795.1 1654.9 795.1 1654.5 795.2 1654.1 C795.3 1653.7 795.5 1653.3 795.6 1653 C795.7 1652.6 795.9 1652.2 796.1 1651.8 C796.3 1651.5 796.5 1651.1 796.7 1650.7 C797 1650.4 797.2 1650 797.5 1649.7 C797.7 1649.4 798 1649.1 798.3 1648.8 C798.6 1648.6 798.8 1648.3 799.1 1648.1 C799.4 1647.9 799.7 1647.7 800 1647.6 C800.3 1647.5 800.6 1647.3 800.8 1647.3 C801.1 1647.2 801.4 1647.2 801.6 1647.2 C801.9 1647.2 802.1 1647.3 802.3 1647.3" style="stroke-width:1.9;"/>
<ellipse cx="810.2" cy="1658.8" rx="12" ry="5.8" transform="rotate(-60 810.2 1658.8)"/>
<path d="M802.3 1668.1 C801.9 1667.9 801.5 1667.8 801.2 1667.5 C800.9 1667.2 800.7 1666.8 800.5 1666.4 C800.3 1666 800.2 1665.5 800.1 1665 C800 1664.5 800 1663.9 800 1663.2 C800 1662.6 800.1 1661.9 800.2 1661.2 C800.3 1660.5 800.5 1659.8 800.8 1659.1 C801 1658.3 801.3 1657.6 801.6 1656.9 C802 1656.1 802.3 1655.4 802.8 1654.7 C803.2 1653.9 803.6 1653.2 804.1 1652.6 C804.6 1651.9 805.1 1651.3 805.6 1650.7 C806.1 1650.2 806.6 1649.6 807.2 1649.2 C807.7 1648.7 808.3 1648.3 808.8 1648 C809.3 1647.6 809.9 1647.4 810.4 1647.2 C810.9 1647 811.4 1646.9 811.8 1646.8 C812.3 1646.8 812.7 1646.8 813.1 1646.9 C813.5 1647 813.8 1647.3 814.2 1647.5"/>
<path d="M799.4 1666.6 C799.2 1666.3 798.9 1666.1 798.7 1665.7 C798.4 1665.3 798.3 1664.9 798.2 1664.4 C798.1 1663.9 798 1663.4 798 1662.8 C798 1662.2 798 1661.6 798.1 1660.9 C798.2 1660.3 798.4 1659.6 798.5 1658.9 C798.7 1658.2 799 1657.5 799.3 1656.8 C799.5 1656.1 799.9 1655.4 800.2 1654.7 C800.6 1654 801 1653.3 801.4 1652.7 C801.8 1652 802.3 1651.4 802.7 1650.8 C803.2 1650.2 803.7 1649.6 804.2 1649.1 C804.7 1648.6 805.2 1648.1 805.8 1647.7 C806.3 1647.3 806.8 1647 807.3 1646.7 C807.8 1646.4 808.3 1646.2 808.8 1646.1 C809.2 1645.9 809.7 1645.8 810.1 1645.8 C810.5 1645.8 810.9 1645.9 811.3 1646" style="stroke-width:1.7;"/>
</g>
<g id="disc">
<path d="M833.5 1652.8 C836.1 1647.4 838.6 1642 841.4 1636.7 C844.2 1631.4 847.2 1626.1 850.3 1621 C853.4 1615.9 856.7 1610.9 860.2 1606.1 C863.6 1601.3 867.2 1596.6 870.9 1592.1 C874.5 1587.6 878.4 1583.2 882.2 1579.1 C886.1 1575 890.1 1571.1 894.2 1567.4 C898.2 1563.7 902.4 1560.3 906.5 1557.1 C910.7 1553.9 914.9 1550.9 919.1 1548.2 C923.3 1545.5 927.6 1543.1 931.8 1541 C936 1538.9 940.2 1537 944.4 1535.5 C948.5 1533.9 952.7 1532.7 956.7 1531.7 C960.8 1530.8 964.8 1530.1 968.7 1529.8 C972.7 1529.5 976.5 1529.5 980.2 1529.7 C983.9 1530 987.4 1530.9 991 1531.5"/>
<path d="M1016.1 1545.5 C1018.7 1548.6 1021.6 1551.4 1023.9 1554.8 C1026.3 1558.1 1028.5 1561.9 1030.3 1565.8 C1032.2 1569.8 1033.8 1574.1 1035.1 1578.6 C1036.5 1583.1 1037.5 1587.9 1038.3 1592.9 C1039.1 1597.9 1039.6 1603.1 1039.8 1608.5 C1040 1613.8 1039.9 1619.4 1039.6 1625.1 C1039.2 1630.7 1038.6 1636.6 1037.6 1642.5 C1036.7 1648.4 1035.5 1654.4 1034 1660.4 C1032.5 1666.5 1030.8 1672.6 1028.8 1678.7 C1026.8 1684.7 1024.5 1690.8 1022 1696.9 C1019.5 1702.9 1016.7 1708.9 1013.8 1714.8 C1010.8 1720.7 1007.6 1726.5 1004.2 1732.2 C1000.9 1737.8 997.3 1743.4 993.5 1748.7 C989.8 1754.1 985.8 1759.3 981.8 1764.2 C977.7 1769.2 973.5 1774 969.2 1778.5 C964.9 1782.9 960.5 1787.2 956 1791.1 C951.5 1795.1 947 1798.8 942.4 1802.1 C937.8 1805.5 933.1 1808.6 928.5 1811.3 C923.8 1814 919.1 1816.4 914.5 1818.4 C909.9 1820.4 905.3 1822.1 900.8 1823.4 C896.2 1824.7 891.7 1825.6 887.4 1826.2 C883 1826.8 878.7 1827 874.6 1826.8 C870.5 1826.6 866.4 1826.1 862.6 1825.1 C858.8 1824.2 855 1822.9 851.5 1821.3 C848.1 1819.6 844.7 1817.6 841.6 1815.3 C838.5 1812.9 835.9 1809.9 833 1807.2"/>
<path d="M837.6 1651.7 C840.2 1646.4 842.7 1641 845.5 1635.8 C848.4 1630.5 851.4 1625.4 854.6 1620.3 C857.7 1615.3 861.1 1610.4 864.5 1605.6 C868 1600.9 871.6 1596.3 875.3 1591.9 C879 1587.5 882.8 1583.2 886.7 1579.2 C890.6 1575.2 894.6 1571.3 898.7 1567.8 C902.7 1564.2 906.8 1560.8 911 1557.7 C915.1 1554.7 919.3 1551.8 923.5 1549.2 C927.7 1546.7 931.9 1544.4 936.1 1542.4 C940.3 1540.4 944.5 1538.6 948.6 1537.2 C952.7 1535.8 956.8 1534.7 960.8 1533.9 C964.8 1533 968.7 1532.8 972.7 1532.3" style="stroke-width:1.8;"/>
<path d="M989.8 1531.2 L975.4 1569.7 L994.6 1579.3 L1016.3 1545.7"/>
<path d="M833.2 1648.8 L838.4 1651.4 L839.1 1653 L836.8 1657"/>
<path d="M836.8 1657 C836.4 1658.4 835.1 1661 835.1 1662.1 C835.1 1663.2 836.1 1665 836.8 1665.2 C837.6 1665.4 838.1 1665 840.7 1663.6 C843.3 1662.1 850 1656.6 856.1 1654.3 C862.2 1651.9 880.3 1648 886.5 1645.8 C892.7 1643.6 898.7 1640.5 902.5 1637.8 C906.4 1635 911.5 1628.2 915.3 1625 C919.2 1621.7 927.5 1615.9 931.4 1613.7 C935.2 1611.6 940.8 1609.7 944.2 1608.9 C947.6 1608.2 953.8 1607.7 957 1608.1 C960.2 1608.6 966.2 1610.7 968.2 1612.1 C970.2 1613.5 972 1615.8 972.2 1618.5 C972.4 1621.3 970.8 1629.1 969.8 1633 C968.8 1636.8 966 1643.8 965 1647.4 C964 1651 963 1655.3 962.6 1660.2 C962.2 1665.1 962.4 1677.8 962.3 1684.2"/>
<path d="M962.3 1684.2 L962.6 1708.3"/>
<path d="M962.6 1708.3 C961.5 1710.4 960.6 1713.2 958.6 1716 C956.6 1718.9 951.4 1726.3 947.4 1729.6 C943.3 1732.9 933.7 1737.8 928.2 1740.9 C922.6 1743.9 911.7 1749.7 905.7 1752.9"/>
<path d="M905.7 1752.9 C900.9 1751.6 884.7 1747.1 881.7 1746.8 C878.7 1746.5 876.6 1748.4 875.3 1749.7 C874 1750.9 870.2 1757.4 868.9 1759.3"/>
<path d="M868.9 1759.3 C865.9 1765.1 859.4 1780.1 856.1 1784.1 C852.7 1788.1 842.4 1791.9 840 1793.7 C837.7 1795.5 836.3 1797.9 836 1799.3 C835.8 1800.7 837.9 1804.6 837.6 1805.7 C837.4 1806.9 834.6 1808.2 833.6 1808.9"/>
<path d="M912.1 1760.9 C913.8 1758.2 917.9 1755.4 921.7 1752.9 C925.6 1750.3 934.5 1745 937.8 1744.1 C941 1743.1 942.4 1744.2 943.4 1746.5 C944.3 1748.7 945 1754.9 944.2 1759.3 C943.3 1763.6 940.2 1771.4 937.8 1775.3 C935.4 1779.1 931 1783.1 928.2 1784.9 C925.3 1786.7 920.9 1788 918.5 1787.3 C916.1 1786.6 913.3 1782.6 912.1 1780.1 C910.9 1777.6 910.5 1773.4 910.5 1770.5 C910.5 1767.6 910.5 1763.5 912.1 1760.9Z"/>
<ellipse cx="953.8" cy="1548.9" rx="9.1" ry="5.8" transform="rotate(-60 953.8 1548.9)"/>
<ellipse cx="974.6" cy="1546.5" rx="9.1" ry="5.8" transform="rotate(-60 974.6 1546.5)"/>
<ellipse cx="927.4" cy="1560.1" rx="9.1" ry="5.8" transform="rotate(-60 927.4 1560.1)"/>
<ellipse cx="957.8" cy="1567.3" rx="9.1" ry="5.8" transform="rotate(-60 957.8 1567.3)"/>
<ellipse cx="936.2" cy="1573.7" rx="9.1" ry="5.8" transform="rotate(-60 936.2 1573.7)"/>
<ellipse cx="900.9" cy="1579.3" rx="9.1" ry="5.8" transform="rotate(-60 900.9 1579.3)"/>
<ellipse cx="913.7" cy="1587.3" rx="9.1" ry="5.8" transform="rotate(-60 913.7 1587.3)"/>
<ellipse cx="945" cy="1590.5" rx="9.1" ry="5.8" transform="rotate(-60 945 1590.5)"/>
<ellipse cx="961.8" cy="1588.9" rx="9.1" ry="5.8" transform="rotate(-60 961.8 1588.9)"/>
<ellipse cx="977" cy="1592.9" rx="9.1" ry="5.8" transform="rotate(-60 977 1592.9)"/>
<ellipse cx="875.3" cy="1605.7" rx="9.1" ry="5.8" transform="rotate(-60 875.3 1605.7)"/>
<ellipse cx="892.1" cy="1607.3" rx="9.1" ry="5.8" transform="rotate(-60 892.1 1607.3)"/>
<ellipse cx="909.7" cy="1611.3" rx="9.1" ry="5.8" transform="rotate(-60 909.7 1611.3)"/>
<ellipse cx="988.2" cy="1603.3" rx="9.1" ry="5.8" transform="rotate(-60 988.2 1603.3)"/>
<ellipse cx="854.5" cy="1637" rx="9.1" ry="5.8" transform="rotate(-60 854.5 1637)"/>
<ellipse cx="872.9" cy="1632.2" rx="9.1" ry="5.8" transform="rotate(-60 872.9 1632.2)"/>
<ellipse cx="892.9" cy="1629" rx="9.1" ry="5.8" transform="rotate(-60 892.9 1629)"/>
<ellipse cx="1016.3" cy="1567.3" rx="9.1" ry="5.8" transform="rotate(-60 1016.3 1567.3)"/>
<ellipse cx="1006.7" cy="1591.3" rx="9.1" ry="5.8" transform="rotate(-60 1006.7 1591.3)"/>
<ellipse cx="1026.7" cy="1589.7" rx="9.1" ry="5.8" transform="rotate(-60 1026.7 1589.7)"/>
<ellipse cx="1013.9" cy="1612.9" rx="9.1" ry="5.8" transform="rotate(-60 1013.9 1612.9)"/>
<ellipse cx="1030.7" cy="1618.5" rx="9.1" ry="5.8" transform="rotate(-60 1030.7 1618.5)"/>
<ellipse cx="994.6" cy="1618.5" rx="9.1" ry="5.8" transform="rotate(-60 994.6 1618.5)"/>
<ellipse cx="978.6" cy="1636.2" rx="9.1" ry="5.8" transform="rotate(-60 978.6 1636.2)"/>
<ellipse cx="997.8" cy="1637.8" rx="9.1" ry="5.8" transform="rotate(-60 997.8 1637.8)"/>
<ellipse cx="1013.9" cy="1638.6" rx="9.1" ry="5.8" transform="rotate(-60 1013.9 1638.6)"/>
<ellipse cx="1027.5" cy="1650.6" rx="9.1" ry="5.8" transform="rotate(-60 1027.5 1650.6)"/>
<ellipse cx="976.2" cy="1665" rx="9.1" ry="5.8" transform="rotate(-60 976.2 1665)"/>
<ellipse cx="994.6" cy="1660.2" rx="9.1" ry="5.8" transform="rotate(-60 994.6 1660.2)"/>
<ellipse cx="1009.1" cy="1665.8" rx="9.1" ry="5.8" transform="rotate(-60 1009.1 1665.8)"/>
<ellipse cx="989" cy="1682.6" rx="9.1" ry="5.8" transform="rotate(-60 989 1682.6)"/>
<ellipse cx="1017.1" cy="1685" rx="9.1" ry="5.8" transform="rotate(-60 1017.1 1685)"/>
<ellipse cx="997.8" cy="1696.2" rx="9.1" ry="5.8" transform="rotate(-60 997.8 1696.2)"/>
<ellipse cx="926.6" cy="1604.9" rx="5" ry="3.2" transform="rotate(-60 926.6 1604.9)"/>
<ellipse cx="969" cy="1653" rx="5" ry="3.2" transform="rotate(-60 969 1653)"/>
<ellipse cx="893.7" cy="1768.1" rx="9.1" ry="5.8" transform="rotate(-60 893.7 1768.1)"/>
<ellipse cx="876.9" cy="1789.4" rx="9.1" ry="5.8" transform="rotate(-60 876.9 1789.4)"/>
<ellipse cx="896.9" cy="1789.7" rx="9.1" ry="5.8" transform="rotate(-60 896.9 1789.7)"/>
<ellipse cx="855.3" cy="1803.3" rx="9.1" ry="5.8" transform="rotate(-60 855.3 1803.3)"/>
<ellipse cx="876.6" cy="1811.3" rx="9.1" ry="5.8" transform="rotate(-60 876.6 1811.3)"/>
<ellipse cx="900.9" cy="1808.1" rx="9.1" ry="5.8" transform="rotate(-60 900.9 1808.1)"/>
<ellipse cx="927.4" cy="1796.1" rx="9.1" ry="5.8" transform="rotate(-60 927.4 1796.1)"/>
<ellipse cx="954.6" cy="1776.6" rx="9.1" ry="5.8" transform="rotate(-60 954.6 1776.6)"/>
<ellipse cx="962.6" cy="1749.7" rx="9.1" ry="5.8" transform="rotate(-60 962.6 1749.7)"/>
<ellipse cx="979.4" cy="1750.5" rx="9.1" ry="5.8" transform="rotate(-60 979.4 1750.5)"/>
<ellipse cx="962.6" cy="1726.4" rx="9.1" ry="5.8" transform="rotate(-60 962.6 1726.4)"/>
<ellipse cx="982.6" cy="1723.2" rx="9.1" ry="5.8" transform="rotate(-60 982.6 1723.2)"/>
<ellipse cx="878.2" cy="1756.9" rx="5" ry="3.2" transform="rotate(-60 878.2 1756.9)"/>
<ellipse cx="975.4" cy="1708" rx="9.1" ry="5.8" transform="rotate(-60 975.4 1708)" style="stroke-width:1.8;stroke-dasharray:5 3.5;"/>
<ellipse cx="999.4" cy="1718.4" rx="9.1" ry="5.8" transform="rotate(-60 999.4 1718.4)" style="stroke-width:1.8;stroke-dasharray:5 3.5;"/>
<ellipse cx="818.1" cy="1721.6" rx="14.4" ry="8.3" transform="rotate(-60 818.1 1721.6)"/>
<path d="M806.4 1731.4 C805.9 1731.1 805.3 1731 804.9 1730.6 C804.4 1730.3 804 1729.9 803.7 1729.4 C803.3 1728.9 803 1728.3 802.8 1727.7 C802.6 1727.1 802.5 1726.4 802.4 1725.7 C802.3 1724.9 802.3 1724.1 802.3 1723.3 C802.4 1722.5 802.5 1721.7 802.7 1720.8 C802.9 1719.9 803.1 1719 803.5 1718.2 C803.8 1717.3 804.2 1716.4 804.6 1715.5 C805 1714.7 805.5 1713.8 806 1713 C806.6 1712.2 807.1 1711.4 807.8 1710.7 C808.4 1710 809 1709.3 809.7 1708.8 C810.3 1708.2 811 1707.6 811.7 1707.2 C812.3 1706.7 813 1706.3 813.7 1706 C814.4 1705.7 815.1 1705.5 815.7 1705.4 C816.4 1705.3 817 1705.2 817.6 1705.3 C818.2 1705.3 818.7 1705.5 819.2 1705.7 C819.8 1705.9 820.2 1706.3 820.6 1706.6"/>
<path d="M819.7 1705.9 L825.3 1709.1"/>
<path d="M805.3 1730.9 L810.9 1734.1"/>
<ellipse cx="821.5" cy="1723.5" rx="8.3" ry="4.8" transform="rotate(-60 821.5 1723.5)"/>
<path d="M825.8 1718.3 L849.5 1730.9"/>
<path d="M817 1730.1 L840.7 1742.9"/>
<path d="M821.1 1732.8 C820.9 1732.6 820.6 1732.4 820.5 1732.1 C820.3 1731.8 820.1 1731.5 820 1731.1 C819.9 1730.7 819.8 1730.3 819.8 1729.9 C819.7 1729.5 819.7 1729 819.8 1728.6 C819.8 1728.1 819.9 1727.6 820 1727.1 C820.1 1726.6 820.3 1726.1 820.4 1725.6 C820.6 1725.1 820.8 1724.6 821.1 1724.1 C821.3 1723.7 821.6 1723.2 821.9 1722.7 C822.2 1722.3 822.5 1721.8 822.9 1721.4 C823.2 1721 823.6 1720.6 823.9 1720.3 C824.3 1719.9 824.7 1719.6 825.1 1719.4 C825.5 1719.1 825.9 1718.9 826.2 1718.7 C826.6 1718.5 827 1718.4 827.4 1718.3 C827.8 1718.2 828.1 1718.2 828.5 1718.2 C828.8 1718.2 829.1 1718.4 829.4 1718.4" style="stroke-width:1.9;"/>
<path d="M825.3 1735.1 C825.1 1734.8 824.8 1734.6 824.6 1734.3 C824.4 1734.1 824.3 1733.7 824.2 1733.4 C824.1 1733 824 1732.6 823.9 1732.2 C823.9 1731.8 823.9 1731.3 823.9 1730.9 C824 1730.4 824 1729.9 824.2 1729.4 C824.3 1728.9 824.4 1728.4 824.6 1727.9 C824.8 1727.4 825 1726.9 825.2 1726.4 C825.5 1725.9 825.8 1725.4 826.1 1725 C826.4 1724.5 826.7 1724.1 827 1723.7 C827.4 1723.3 827.7 1722.9 828.1 1722.6 C828.5 1722.2 828.9 1721.9 829.3 1721.6 C829.6 1721.4 830 1721.2 830.4 1721 C830.8 1720.8 831.2 1720.7 831.6 1720.6 C831.9 1720.5 832.3 1720.5 832.6 1720.5 C833 1720.5 833.3 1720.6 833.6 1720.7" style="stroke-width:1.9;"/>
<path d="M829.4 1737.4 C829.2 1737.1 829 1736.9 828.8 1736.6 C828.6 1736.3 828.5 1736 828.3 1735.6 C828.2 1735.3 828.1 1734.9 828.1 1734.5 C828.1 1734 828.1 1733.6 828.1 1733.1 C828.1 1732.7 828.2 1732.2 828.3 1731.7 C828.4 1731.2 828.6 1730.7 828.8 1730.2 C828.9 1729.7 829.2 1729.2 829.4 1728.7 C829.7 1728.2 829.9 1727.7 830.2 1727.3 C830.5 1726.8 830.9 1726.4 831.2 1726 C831.5 1725.6 831.9 1725.2 832.3 1724.8 C832.6 1724.5 833 1724.2 833.4 1723.9 C833.8 1723.7 834.2 1723.4 834.6 1723.3 C835 1723.1 835.4 1722.9 835.7 1722.9 C836.1 1722.8 836.4 1722.8 836.8 1722.8 C837.1 1722.8 837.4 1722.9 837.7 1723" style="stroke-width:1.9;"/>
<path d="M833.6 1739.6 C833.4 1739.4 833.1 1739.2 833 1738.9 C832.8 1738.6 832.6 1738.3 832.5 1737.9 C832.4 1737.6 832.3 1737.2 832.3 1736.7 C832.2 1736.3 832.2 1735.9 832.3 1735.4 C832.3 1734.9 832.4 1734.4 832.5 1734 C832.6 1733.5 832.7 1733 832.9 1732.5 C833.1 1732 833.3 1731.5 833.6 1731 C833.8 1730.5 834.1 1730 834.4 1729.5 C834.7 1729.1 835 1728.6 835.4 1728.2 C835.7 1727.8 836.1 1727.5 836.4 1727.1 C836.8 1726.8 837.2 1726.5 837.6 1726.2 C838 1725.9 838.4 1725.7 838.7 1725.5 C839.1 1725.4 839.5 1725.2 839.9 1725.1 C840.3 1725.1 840.6 1725 841 1725 C841.3 1725.1 841.6 1725.2 841.9 1725.3" style="stroke-width:1.9;"/>
<path d="M837.8 1741.9 C837.6 1741.7 837.3 1741.5 837.1 1741.2 C836.9 1740.9 836.8 1740.6 836.7 1740.2 C836.6 1739.8 836.5 1739.4 836.4 1739 C836.4 1738.6 836.4 1738.1 836.4 1737.7 C836.5 1737.2 836.5 1736.7 836.7 1736.2 C836.8 1735.7 836.9 1735.2 837.1 1734.7 C837.3 1734.2 837.5 1733.7 837.7 1733.2 C838 1732.8 838.3 1732.3 838.6 1731.8 C838.9 1731.4 839.2 1730.9 839.5 1730.5 C839.9 1730.1 840.2 1729.7 840.6 1729.4 C841 1729 841.4 1728.7 841.7 1728.5 C842.1 1728.2 842.5 1728 842.9 1727.8 C843.3 1727.6 843.7 1727.5 844 1727.4 C844.4 1727.3 844.8 1727.3 845.1 1727.3 C845.5 1727.3 845.8 1727.5 846.1 1727.5" style="stroke-width:1.9;"/>
<ellipse cx="845.5" cy="1736.7" rx="8" ry="4.6" transform="rotate(-60 845.5 1736.7)"/>
<path d="M852.1 1741.7 L869.7 1751.6" style="stroke-width:2;"/>
<path d="M929.8 1674.6 L990.6 1709.9" style="stroke-width:2;"/>
<path d="M1005.9 1718.7 L1060 1749.9" style="stroke-width:2;"/>
<path d="M962.1 1466.1 L955.3 1536.7" style="stroke-width:2;"/>
</g>
<g id="knuckle">
<ellipse cx="1253.1" cy="1815.5" rx="18.3" ry="13.7" transform="rotate(68 1253.1 1815.5)"/>
<ellipse cx="1251.6" cy="1816.1" rx="15.7" ry="11.5" transform="rotate(68 1251.6 1816.1)"/>
<path d="M1245.8 1826.5 C1245.3 1825.9 1244.7 1825.4 1244.3 1824.7 C1243.8 1824 1243.3 1823.3 1242.9 1822.5 C1242.5 1821.8 1242.1 1821 1241.8 1820.2 C1241.5 1819.4 1241.2 1818.6 1241 1817.7 C1240.8 1816.9 1240.6 1816.1 1240.4 1815.3 C1240.3 1814.4 1240.3 1813.6 1240.2 1812.9 C1240.2 1812.1 1240.3 1811.4 1240.4 1810.7 C1240.5 1810 1240.6 1809.4 1240.8 1808.8 C1241 1808.2 1241.3 1807.7 1241.6 1807.3 C1241.9 1806.8 1242.3 1806.4 1242.7 1806.1 C1243.1 1805.8 1243.5 1805.6 1244 1805.5 C1244.4 1805.4 1244.9 1805.3 1245.4 1805.4 C1245.9 1805.4 1246.5 1805.5 1247 1805.7 C1247.6 1805.9 1248.1 1806.2 1248.7 1806.6 C1249.2 1806.9 1249.8 1807.4 1250.3 1807.9 C1250.8 1808.4 1251.4 1808.9 1251.9 1809.6 C1252.4 1810.2 1252.8 1810.9 1253.3 1811.6 C1253.7 1812.3 1254.1 1813.1 1254.5 1813.9 C1254.8 1814.6 1255.2 1815.5 1255.4 1816.3 C1255.7 1817.1 1255.9 1818 1256.1 1818.8 C1256.3 1819.6 1256.3 1820.4 1256.5 1821.2"/>
<path d="M1266.1 1801.9 C1266.8 1802.8 1267.6 1803.7 1268.2 1804.7 C1268.9 1805.7 1269.4 1806.8 1269.9 1807.9 C1270.4 1809 1270.8 1810.1 1271.1 1811.3 C1271.5 1812.4 1271.7 1813.6 1271.8 1814.8 C1271.9 1816 1272 1817.1 1271.9 1818.3 C1271.9 1819.4 1271.7 1820.5 1271.5 1821.5 C1271.3 1822.6 1270.9 1823.6 1270.5 1824.5 C1270.1 1825.4 1269.6 1826.3 1269 1827.1 C1268.4 1827.8 1267.8 1828.5 1267.1 1829.1 C1266.4 1829.7 1265.6 1830.2 1264.8 1830.5 C1264 1830.9 1263.1 1831.2 1262.2 1831.3 C1261.3 1831.4 1260.3 1831.5 1259.4 1831.4 C1258.5 1831.3 1257.5 1831.1 1256.6 1830.8 C1255.6 1830.5 1254.7 1830 1253.8 1829.5 C1252.8 1829 1252 1828.3 1251.1 1827.6"/>
<path d="M1266.1 1831.3 L1323.8 1807.2"/>
<path d="M1275.7 1785.9 L1295.7 1778.4"/>
<path d="M1317.9 1774.7 C1320.1 1777 1322.8 1778.8 1324.5 1781.8 C1326.3 1784.7 1327.8 1788.9 1328.2 1792.1 C1328.6 1795.3 1328 1798.5 1327 1801 C1326.1 1803.5 1324.1 1805.1 1322.6 1807.2"/>
<path d="M1315.7 1777 C1317.6 1779.7 1320.1 1782 1321.6 1785 C1323 1788 1324.3 1791.8 1324.5 1795.1 C1324.8 1798.3 1323.5 1801.5 1323 1804.7" style="stroke-width:1.8;"/>
<ellipse cx="1265.4" cy="1778.8" rx="9.6" ry="4.4"/>
<ellipse cx="1264.6" cy="1780" rx="4.4" ry="1.8"/>
<path d="M1255.8 1779.5 L1255.8 1795.1"/>
<path d="M1275 1779.5 L1275.3 1799.5"/>
<path d="M1255.8 1795.1 C1257.7 1796.3 1259.5 1797.8 1261.7 1798.8 C1263.9 1799.7 1266.8 1800.9 1269.1 1801 C1271.3 1801.1 1273.2 1800 1275.3 1799.5"/>
<path d="M1253.5 1774.4 C1251.1 1775.3 1248.1 1775.2 1246.2 1777.3 C1244.2 1779.4 1242.4 1784.2 1242 1786.9 C1241.6 1789.6 1242.1 1792.3 1243.9 1793.6 C1245.7 1794.9 1249.9 1794.3 1252.8 1794.6"/>
<path d="M1253.5 1774.4 L1256.5 1775.8"/>
<ellipse cx="1305.7" cy="1764.8" rx="10.4" ry="5.5"/>
<ellipse cx="1305.5" cy="1764.9" rx="4.1" ry="2.1"/>
<path d="M1295.4 1765.5 L1295.7 1778.1"/>
<path d="M1316.1 1765.5 L1315.7 1781.8"/>
<path d="M1295.7 1778.1 C1297.7 1779.4 1299.5 1780.9 1301.6 1782.1 C1303.7 1783.2 1305.9 1784.8 1308.3 1785 C1310.6 1785.3 1313.2 1784 1315.7 1783.5"/>
<ellipse cx="1270.3" cy="1870.5" rx="44.1" ry="25.9" transform="rotate(-60 1270.3 1870.5)"/>
<ellipse cx="1270.6" cy="1870.2" rx="38" ry="19.6" transform="rotate(-60 1270.6 1870.2)"/>
<path d="M1288.5 1837.3 C1289.2 1838.8 1290.1 1840 1290.6 1841.6 C1291.2 1843.2 1291.6 1845 1291.8 1846.9 C1292.1 1848.8 1292.1 1850.8 1292 1852.9 C1291.9 1855 1291.6 1857.2 1291.2 1859.5 C1290.7 1861.7 1290.1 1864 1289.3 1866.3 C1288.5 1868.6 1287.6 1870.9 1286.5 1873.1 C1285.5 1875.4 1284.2 1877.6 1282.9 1879.7 C1281.6 1881.9 1280.2 1883.9 1278.6 1885.9 C1277.1 1887.8 1275.5 1889.6 1273.8 1891.3 C1272.2 1892.9 1270.4 1894.4 1268.7 1895.7 C1267 1897.1 1265.2 1898.2 1263.4 1899.1 C1261.6 1900.1 1259.9 1900.8 1258.2 1901.3 C1256.4 1901.8 1254.8 1901.9 1253.2 1902.2" style="stroke-width:1.8;"/>
<path d="M1284.4 1836.2 C1285 1837.9 1285.8 1839.4 1286.3 1841.2 C1286.7 1843.1 1286.9 1845.1 1286.9 1847.3 C1287 1849.4 1286.8 1851.7 1286.5 1854 C1286.1 1856.3 1285.6 1858.8 1284.9 1861.2 C1284.2 1863.6 1283.2 1866 1282.2 1868.4 C1281.1 1870.8 1279.9 1873.2 1278.6 1875.5 C1277.2 1877.8 1275.7 1880 1274.1 1882.1 C1272.6 1884.2 1270.8 1886.2 1269.1 1887.9 C1267.3 1889.7 1265.5 1891.3 1263.7 1892.7 C1261.8 1894.1 1259.9 1895.3 1258 1896.3 C1256.2 1897.3 1254.3 1897.8 1252.5 1898.5" style="stroke-width:1.8;"/>
<path d="M1280.2 1835.2 C1280.7 1837 1281.3 1838.6 1281.5 1840.6 C1281.8 1842.5 1281.9 1844.6 1281.8 1846.7 C1281.7 1848.9 1281.4 1851.2 1280.9 1853.5 C1280.5 1855.8 1279.8 1858.2 1279 1860.5 C1278.2 1862.9 1277.2 1865.3 1276.1 1867.6 C1275 1869.9 1273.7 1872.2 1272.4 1874.3 C1271 1876.5 1269.5 1878.6 1267.9 1880.6 C1266.3 1882.5 1264.6 1884.4 1262.9 1886.1 C1261.1 1887.7 1259.3 1889.2 1257.5 1890.5 C1255.7 1891.8 1253.9 1892.7 1252.1 1893.8" style="stroke-width:1.8;"/>
<path d="M1291.3 1832 C1294.2 1830.3 1296.7 1826.6 1300.1 1826.9 C1303.6 1827.1 1309.4 1831.3 1312 1833.5 C1314.5 1835.7 1315.5 1837.7 1315.2 1840.2 C1315 1842.6 1312.7 1846 1310.5 1848.3 C1308.2 1850.6 1304.6 1852 1301.6 1853.9"/>
<ellipse cx="1306.8" cy="1841.9" rx="6.2" ry="3.1" transform="rotate(-60 1306.8 1841.9)"/>
<path d="M1292.7 1828.3 L1288.3 1832"/>
<path d="M1198.1 1832 C1200.6 1828.6 1202.8 1824.9 1205.5 1821.7 C1208.2 1818.5 1210.4 1815.5 1214.4 1812.8 C1218.3 1810.1 1225.1 1807.2 1229.1 1805.7 C1233.2 1804.2 1235.6 1804.5 1238.8 1803.9"/>
<path d="M1202.5 1842.4 C1203 1845 1202.7 1848.2 1204 1851.3 C1205.3 1854.4 1209.9 1859.5 1211.4 1863.1 C1213 1866.6 1215 1870.5 1214.4 1874.9 C1213.7 1879.4 1211.2 1884.5 1207 1892.7 C1202.8 1900.9 1192.5 1918.5 1186.3 1929.6"/>
<path d="M1217.3 1866.8 C1217.9 1870.1 1220.2 1872.9 1219.1 1877.9 C1218 1882.9 1214.2 1891.5 1209.9 1900.1 C1205.7 1908.6 1196.5 1924.4 1190.7 1934.8"/>
<ellipse cx="1223.5" cy="1849" rx="18.7" ry="7.7" transform="rotate(-60 1223.5 1849)"/>
<ellipse cx="1221" cy="1848.3" rx="8.3" ry="3.6" transform="rotate(-60 1221 1848.3)"/>
<path d="M1234.3 1834.5 C1234.8 1835 1235.4 1835.3 1235.9 1835.9 C1236.3 1836.4 1236.8 1837 1237.1 1837.8 C1237.4 1838.5 1237.7 1839.3 1237.8 1840.2 C1238 1841 1238.1 1842 1238.1 1843 C1238.1 1843.9 1238 1845 1237.8 1846.1 C1237.6 1847.1 1237.4 1848.2 1237.1 1849.3 C1236.7 1850.4 1236.3 1851.5 1235.9 1852.6 C1235.4 1853.7 1234.8 1854.8 1234.2 1855.8 C1233.6 1856.9 1233 1857.9 1232.2 1858.9 C1231.5 1859.8 1230.8 1860.7 1230 1861.6 C1229.2 1862.4 1228.4 1863.2 1227.5 1863.8 C1226.7 1864.5 1225.8 1865.1 1225 1865.6 C1224.1 1866.1 1223.3 1866.5 1222.4 1866.8 C1221.6 1867.1 1220.8 1867.3 1220 1867.3 C1219.2 1867.4 1218.4 1867.4 1217.7 1867.3 C1217 1867.1 1216.4 1866.8 1215.8 1866.5" style="stroke-width:1.8;"/>
<path d="M1192.2 1846.8 C1191.4 1852.2 1189.5 1857.9 1190 1863.1 C1190.5 1868.3 1192.1 1874.2 1195.1 1877.9 C1198.2 1881.6 1204 1882.8 1208.4 1885.3"/>
<path d="M1184.8 1928.2 C1182.4 1929.3 1177.7 1930.6 1175.9 1932.6 C1174.1 1934.6 1171.9 1940.4 1171.5 1942.9 C1171.1 1945.5 1171.2 1949.6 1173 1951.8 C1174.7 1954 1181.4 1958 1184.8 1959.2 C1188.1 1960.4 1194.2 1960.7 1198.1 1961 C1202 1961.2 1211.6 1961.2 1214.4 1961 C1217.1 1960.7 1216 1961.6 1218.8 1959.2 C1221.6 1956.8 1231.9 1945.1 1235.1 1942.9 C1238.2 1940.8 1240.5 1942.9 1242.5 1942.9"/>
<ellipse cx="1192.2" cy="1946.6" rx="14.2" ry="5.4" transform="rotate(-60 1192.2 1946.6)"/>
<ellipse cx="1190.7" cy="1947.4" rx="7.1" ry="2.2" transform="rotate(-60 1190.7 1947.4)"/>
<ellipse cx="1213.6" cy="1951.8" rx="5.3" ry="3" transform="rotate(-60 1213.6 1951.8)"/>
<path d="M1201.8 1936.3 C1202.8 1939 1204.5 1941.3 1204.8 1944.4 C1205 1947.5 1203.8 1951.3 1203.3 1954.8" style="stroke-width:1.8;"/>
<ellipse cx="1252.4" cy="1969.6" rx="18.8" ry="13.6" transform="rotate(68 1252.4 1969.6)"/>
<ellipse cx="1250.9" cy="1970.1" rx="15.7" ry="11.5" transform="rotate(68 1250.9 1970.1)"/>
<path d="M1245 1980.6 C1244.5 1980 1244 1979.4 1243.5 1978.8 C1243 1978.1 1242.6 1977.4 1242.2 1976.6 C1241.8 1975.9 1241.4 1975.1 1241.1 1974.3 C1240.8 1973.5 1240.5 1972.6 1240.2 1971.8 C1240 1971 1239.8 1970.2 1239.7 1969.3 C1239.6 1968.5 1239.5 1967.7 1239.5 1967 C1239.5 1966.2 1239.5 1965.5 1239.6 1964.8 C1239.7 1964.1 1239.9 1963.5 1240.1 1962.9 C1240.3 1962.3 1240.6 1961.8 1240.9 1961.3 C1241.2 1960.9 1241.5 1960.5 1241.9 1960.2 C1242.3 1959.9 1242.8 1959.7 1243.2 1959.6 C1243.7 1959.5 1244.2 1959.4 1244.7 1959.4 C1245.2 1959.5 1245.7 1959.6 1246.3 1959.8 C1246.8 1960 1247.4 1960.3 1247.9 1960.6 C1248.5 1961 1249 1961.4 1249.6 1961.9 C1250.1 1962.4 1250.6 1963 1251.1 1963.6 C1251.6 1964.3 1252.1 1965 1252.5 1965.7 C1253 1966.4 1253.4 1967.2 1253.7 1967.9 C1254.1 1968.7 1254.4 1969.6 1254.7 1970.4 C1255 1971.2 1255.2 1972 1255.4 1972.9 C1255.5 1973.7 1255.6 1974.5 1255.7 1975.3"/>
<path d="M1265.2 1955.8 C1266 1956.8 1266.7 1957.7 1267.4 1958.7 C1268 1959.8 1268.6 1960.9 1269.1 1962 C1269.6 1963.1 1270 1964.3 1270.3 1965.5 C1270.7 1966.7 1270.9 1967.9 1271 1969.1 C1271.2 1970.2 1271.2 1971.4 1271.2 1972.6 C1271.2 1973.7 1271 1974.9 1270.8 1975.9 C1270.6 1977 1270.3 1978 1269.9 1978.9 C1269.4 1979.9 1269 1980.8 1268.4 1981.5 C1267.8 1982.3 1267.2 1983 1266.5 1983.6 C1265.8 1984.2 1265 1984.6 1264.2 1985 C1263.4 1985.4 1262.5 1985.6 1261.6 1985.8 C1260.7 1985.9 1259.8 1985.9 1258.8 1985.8 C1257.9 1985.7 1256.9 1985.5 1256 1985.2 C1255.1 1984.9 1254.1 1984.4 1253.2 1983.9 C1252.3 1983.3 1251.4 1982.6 1250.5 1981.9"/>
<path d="M1266.1 1940.7 L1294.2 1929.9"/>
<path d="M1264.6 1987.3 L1323.8 1962.2"/>
<path d="M1319.4 1928.2 C1321.9 1930.9 1324.9 1932.6 1327 1936.3 C1329.1 1940 1331.4 1946.8 1331.9 1950.3 C1332.4 1953.9 1331.1 1955.9 1330 1957.7 C1328.9 1959.6 1326.8 1960.3 1325.3 1961.6"/>
<path d="M1317.1 1930.8 C1319.4 1933.4 1322.1 1935.5 1323.8 1938.5 C1325.4 1941.5 1326.8 1945.5 1327 1948.9 C1327.3 1952.2 1325.9 1955.3 1325.3 1958.5" style="stroke-width:1.8;"/>
<ellipse cx="1302.3" cy="1934.8" rx="5.5" ry="5.5" transform="rotate(-30 1302.3 1934.8)"/>
<path d="M1307.2 1936.3 C1307.1 1936.6 1307 1937 1306.9 1937.2 C1306.7 1937.5 1306.5 1937.8 1306.3 1938.1 C1306.1 1938.4 1305.9 1938.6 1305.7 1938.9 C1305.4 1939.1 1305.1 1939.3 1304.8 1939.5 C1304.5 1939.7 1304.2 1939.9 1303.9 1940 C1303.6 1940.2 1303.2 1940.3 1302.9 1940.3 C1302.6 1940.4 1302.2 1940.5 1301.9 1940.5 C1301.5 1940.5 1301.2 1940.5 1300.9 1940.4 C1300.6 1940.4 1300.2 1940.3 1299.9 1940.2 C1299.7 1940.1 1299.4 1939.9 1299.1 1939.7 C1298.9 1939.6 1298.6 1939.4 1298.4 1939.2 C1298.2 1938.9 1298 1938.7 1297.9 1938.4 C1297.7 1938.2 1297.6 1937.9 1297.5 1937.6 C1297.4 1937.3 1297.4 1937 1297.4 1936.7 C1297.3 1936.4 1297.4 1936.1 1297.4 1935.8 C1297.5 1935.4 1297.5 1935.1 1297.7 1934.8 C1297.8 1934.5 1297.9 1934.2 1298.1 1933.9 C1298.3 1933.6 1298.5 1933.4 1298.7 1933.1" style="stroke-width:1.8;"/>
<path d="M1243.9 1904.5 L1257.2 1948.9"/>
<path d="M1261.7 1911.9 L1266.1 1947.4 L1257.2 1950.3"/>
<path d="M1277.9 1904.5 L1289.8 1932.6"/>
<path d="M1291.3 1894.1 L1300.1 1923.7"/>
<path d="M1298.7 1872 L1310.5 1920.8"/>
<path d="M1261.7 1911.9 C1264.6 1910.4 1267.1 1909.2 1270.6 1907.4 C1274 1905.7 1279.2 1904 1282.4 1901.5 C1285.6 1899.1 1287.3 1895.6 1289.8 1892.7" style="stroke-width:1.8;"/>
<path d="M1246.2 1830.6 L1246.2 1853"/>
<path d="M1236.5 1900.1 L1236.5 1938.5"/>
<path d="M1236.5 1943.7 C1237.5 1943.2 1238.5 1942.3 1239.5 1942.2 C1240.5 1942.1 1241.5 1942.7 1242.5 1942.9"/>
<ellipse cx="1377.3" cy="1872" rx="6.7" ry="5.9"/>
<ellipse cx="1377.3" cy="1872" rx="3.3" ry="2.8"/>
<ellipse cx="1377.3" cy="1872" rx="1.3" ry="1.2"/>
<path d="M1371.1 1866.8 C1368.6 1868 1365.4 1868.9 1363.7 1870.5 C1362 1872.1 1361 1874.4 1360.8 1876.4 C1360.5 1878.4 1361.7 1880.3 1362.2 1882.3"/>
<path d="M1383.7 1875.7 C1382.9 1878.4 1383.1 1881.6 1381.5 1883.8 C1379.9 1886 1376.3 1887.7 1374.1 1889 C1371.8 1890.2 1370.1 1890.4 1368.2 1891.2"/>
<path d="M1362.2 1882.3 C1360.3 1882.8 1357.7 1882.7 1356.3 1883.8 C1355 1884.9 1354 1887.5 1354.1 1889 C1354.2 1890.4 1356.1 1891.4 1357.1 1892.7"/>
<path d="M1368.2 1891.2 C1367.7 1892.2 1367.7 1893.4 1366.7 1894.1 C1365.7 1894.9 1363.7 1895.1 1362.2 1895.6"/>
<path d="M1354.1 1889 C1352.6 1889.5 1350.8 1889.5 1349.7 1890.4 C1348.6 1891.4 1347.4 1893.5 1347.4 1894.9 C1347.4 1896.2 1348.4 1897.7 1349.7 1898.6 C1350.9 1899.4 1353 1900.3 1354.8 1900.1 C1356.7 1899.8 1359.5 1897.9 1360.8 1897.1 C1362 1896.3 1361.7 1895.9 1362.2 1895.3"/>
<path d="M1364.9 1875.7 C1366 1877.4 1366.5 1879.7 1368.2 1880.8 C1369.8 1881.9 1372.7 1882.6 1374.8 1882.3 C1376.9 1882.1 1378.7 1880.3 1380.7 1879.4" style="stroke-width:1.8;"/>
<path d="M1357.8 1887 C1358.8 1888.2 1359.4 1889.9 1360.8 1890.4 C1362.1 1891 1364.2 1890.4 1365.9 1890.4" style="stroke-width:1.8;"/>
<path d="M1350.7 1892.7 C1351.8 1893.7 1352.7 1895.5 1354.1 1895.9 C1355.5 1896.4 1357.6 1895.5 1359.3 1895.3" style="stroke-width:1.8;"/>
<path d="M1170 1850.1 L1245.7 1818.7" style="stroke-width:2;"/>
<path d="M1328.5 1785.5 L1364 1769.9" style="stroke-width:2;"/>
<path d="M1303.1 1935.5 L1344.5 1901.5" style="stroke-width:1.8;stroke-dasharray:12 6;"/>
<path d="M1335.6 1936.3 L1354.8 1929.2" style="stroke-width:2;"/>
<path d="M1365.5 1924 L1410 1905.7" style="stroke-width:2;"/>
</g>
<g id="bushings">
<path d="M1358.3 1756.9 C1358.8 1756.8 1359.3 1756.6 1359.8 1756.6 C1360.3 1756.5 1360.8 1756.6 1361.3 1756.6 C1361.9 1756.7 1362.4 1756.9 1363 1757.1 C1363.6 1757.3 1364.1 1757.6 1364.7 1758 C1365.2 1758.3 1365.8 1758.8 1366.3 1759.2 C1366.8 1759.7 1367.4 1760.2 1367.9 1760.8 C1368.4 1761.4 1368.9 1762 1369.3 1762.6 C1369.8 1763.3 1370.2 1764 1370.6 1764.7 C1370.9 1765.5 1371.3 1766.2 1371.6 1767 C1371.9 1767.8 1372.2 1768.6 1372.4 1769.3 C1372.6 1770.1 1372.8 1770.9 1373 1771.7 C1373.1 1772.5 1373.2 1773.3 1373.2 1774 C1373.3 1774.8 1373.3 1775.6 1373.2 1776.3 C1373.1 1777 1373 1777.7 1372.9 1778.3 C1372.7 1778.9 1372.5 1779.5 1372.3 1780.1 C1372 1780.6 1371.7 1781.1 1371.4 1781.6 C1371.1 1782 1370.7 1782.4 1370.3 1782.7 C1369.9 1783 1369.5 1783.3 1369 1783.5 C1368.6 1783.6 1368.1 1783.8 1367.6 1783.8 C1367 1783.9 1366.5 1783.8 1366 1783.8 C1365.4 1783.7 1364.9 1783.5 1364.3 1783.3 C1363.8 1783.1 1363.2 1782.8 1362.6 1782.4 C1362.1 1782.1 1361.5 1781.7 1361 1781.2 C1360.5 1780.7 1359.9 1780.2 1359.4 1779.6 C1359 1779 1358.5 1778.4 1358 1777.8 C1357.6 1777.1 1357.1 1776.4 1356.8 1775.7 C1356.4 1774.9 1356 1774.2 1355.7 1773.4 C1355.4 1772.7 1355.1 1771.9 1354.9 1771.1 C1354.7 1770.3 1354.5 1769.5 1354.4 1768.7 C1354.2 1767.9 1354.1 1767.1 1354.1 1766.4 C1354.1 1765.6 1354.1 1764.9 1354.1 1764.1 C1354.2 1763.4 1354.3 1762.7 1354.4 1762.1 C1354.6 1761.5 1354.8 1760.9 1355 1760.3 C1355.3 1759.8 1355.6 1759.3 1355.9 1758.8 C1356.2 1758.4 1356.6 1758 1357 1757.7 C1357.4 1757.4 1357.8 1757.1 1358.3 1756.9Z"/>
<path d="M1360.3 1761.9 C1360.6 1761.7 1360.9 1761.7 1361.2 1761.6 C1361.5 1761.6 1361.9 1761.6 1362.2 1761.7 C1362.5 1761.7 1362.9 1761.8 1363.2 1762 C1363.6 1762.1 1363.9 1762.3 1364.3 1762.5 C1364.6 1762.7 1365 1763 1365.3 1763.3 C1365.7 1763.6 1366 1763.9 1366.3 1764.3 C1366.6 1764.6 1366.9 1765 1367.2 1765.4 C1367.5 1765.9 1367.8 1766.3 1368 1766.8 C1368.2 1767.2 1368.5 1767.7 1368.7 1768.2 C1368.9 1768.7 1369 1769.2 1369.2 1769.7 C1369.3 1770.2 1369.4 1770.7 1369.5 1771.2 C1369.6 1771.7 1369.7 1772.1 1369.7 1772.6 C1369.7 1773.1 1369.7 1773.6 1369.7 1774 C1369.6 1774.5 1369.6 1774.9 1369.5 1775.3 C1369.4 1775.7 1369.2 1776.1 1369.1 1776.4 C1368.9 1776.8 1368.7 1777.1 1368.5 1777.4 C1368.3 1777.6 1368.1 1777.9 1367.8 1778.1 C1367.6 1778.3 1367.3 1778.4 1367 1778.5 C1366.7 1778.7 1366.4 1778.7 1366.1 1778.8 C1365.8 1778.8 1365.5 1778.8 1365.1 1778.7 C1364.8 1778.7 1364.4 1778.6 1364.1 1778.4 C1363.7 1778.3 1363.4 1778.1 1363 1777.9 C1362.7 1777.7 1362.3 1777.4 1362 1777.1 C1361.7 1776.8 1361.3 1776.5 1361 1776.1 C1360.7 1775.8 1360.4 1775.4 1360.1 1775 C1359.8 1774.5 1359.6 1774.1 1359.3 1773.6 C1359.1 1773.2 1358.8 1772.7 1358.7 1772.2 C1358.5 1771.7 1358.3 1771.2 1358.1 1770.7 C1358 1770.3 1357.9 1769.7 1357.8 1769.3 C1357.7 1768.8 1357.7 1768.3 1357.6 1767.8 C1357.6 1767.3 1357.6 1766.8 1357.7 1766.4 C1357.7 1765.9 1357.8 1765.5 1357.9 1765.1 C1358 1764.7 1358.1 1764.3 1358.2 1764 C1358.4 1763.6 1358.6 1763.3 1358.8 1763.1 C1359 1762.8 1359.2 1762.5 1359.5 1762.3 C1359.7 1762.1 1360 1762 1360.3 1761.9Z"/>
<path d="M1366.5 1778.2 C1366.1 1778 1365.7 1778 1365.3 1777.8 C1364.9 1777.6 1364.4 1777.4 1364 1777.1 C1363.6 1776.8 1363.2 1776.4 1362.8 1776 C1362.5 1775.6 1362.1 1775.2 1361.7 1774.7 C1361.4 1774.3 1361.1 1773.7 1360.8 1773.2 C1360.5 1772.7 1360.2 1772.1 1360 1771.5 C1359.8 1771 1359.6 1770.4 1359.4 1769.8 C1359.3 1769.2 1359.2 1768.6 1359.1 1768 C1359 1767.4 1359 1766.9 1359 1766.3 C1359 1765.8 1359.1 1765.3 1359.2 1764.8 C1359.3 1764.3 1359.5 1763.9 1359.6 1763.4" style="stroke-width:1.8;"/>
<path d="M1358.3 1756.9 L1365.7 1753.9"/>
<path d="M1369 1783.5 L1376.4 1780.5"/>
<path d="M1359.9 1759.1 C1360 1758.1 1360.1 1757.1 1360.4 1756.2 C1360.6 1755.3 1360.9 1754.4 1361.3 1753.6 C1361.7 1752.9 1362.2 1752.2 1362.7 1751.7 C1363.3 1751.1 1363.9 1750.6 1364.5 1750.3 C1365.2 1749.9 1365.9 1749.7 1366.6 1749.6 C1367.3 1749.4 1368.1 1749.4 1368.9 1749.5 C1369.7 1749.7 1370.5 1749.9 1371.3 1750.2 C1372.1 1750.6 1372.9 1751 1373.7 1751.6 C1374.6 1752.1 1375.4 1752.8 1376.1 1753.5 C1376.9 1754.3 1377.6 1755.1 1378.3 1756 C1379 1757 1379.7 1757.9 1380.3 1759 C1380.9 1760 1381.4 1761.1 1381.9 1762.2 C1382.4 1763.3 1382.8 1764.5 1383.1 1765.7 C1383.5 1766.8 1383.7 1768 1383.9 1769.2 C1384.1 1770.3 1384.2 1771.5 1384.2 1772.5 C1384.2 1773.6 1384.2 1774.7 1384 1775.7 C1383.9 1776.7 1383.6 1777.6 1383.3 1778.5 C1383 1779.4 1382.6 1780.2 1382.2 1780.8 C1381.7 1781.5 1381.2 1782.1 1380.6 1782.6 C1380.1 1783.1 1379.4 1783.5 1378.7 1783.7 C1378.1 1784 1377.3 1784.2 1376.6 1784.2 C1375.8 1784.2 1375 1784.1 1374.2 1783.9 C1373.4 1783.7 1372.6 1783.3 1371.8 1783"/>
<path d="M1367.2 1749.4 C1367.9 1749.1 1368.5 1748.6 1369.2 1748.3 C1369.9 1748.1 1370.7 1748 1371.5 1748 C1372.2 1748 1373.1 1748.1 1373.9 1748.3 C1374.7 1748.6 1375.5 1748.9 1376.4 1749.4 C1377.2 1749.9 1378 1750.5 1378.8 1751.1 C1379.6 1751.8 1380.4 1752.6 1381.2 1753.5 C1381.9 1754.3 1382.6 1755.3 1383.3 1756.3 C1383.9 1757.3 1384.6 1758.4 1385.1 1759.5 C1385.6 1760.6 1386.1 1761.8 1386.5 1763 C1386.9 1764.2 1387.2 1765.4 1387.4 1766.6 C1387.7 1767.7 1387.8 1768.9 1387.9 1770.1 C1387.9 1771.2 1387.9 1772.3 1387.8 1773.4 C1387.7 1774.4 1387.5 1775.4 1387.3 1776.3 C1387 1777.2 1386.6 1778.1 1386.2 1778.8 C1385.8 1779.6 1385.3 1780.2 1384.7 1780.8 C1384.1 1781.3 1383.5 1781.8 1382.8 1782.1 C1382.2 1782.4 1381.4 1782.5 1380.7 1782.7"/>
<path d="M1373.1 1748.1 C1373.7 1747.9 1374.3 1747.7 1375 1747.6 C1375.7 1747.6 1376.4 1747.6 1377.2 1747.8 C1377.9 1748 1378.6 1748.2 1379.4 1748.6 C1380.1 1749 1380.9 1749.4 1381.6 1750 C1382.3 1750.5 1383.1 1751.2 1383.7 1751.9 C1384.4 1752.6 1385.1 1753.4 1385.7 1754.3 C1386.3 1755.1 1386.9 1756.1 1387.5 1757 C1388 1758 1388.5 1759 1388.9 1760 C1389.3 1761 1389.7 1762.1 1389.9 1763.2 C1390.2 1764.2 1390.4 1765.3 1390.6 1766.3 C1390.7 1767.4 1390.8 1768.4 1390.8 1769.4 C1390.8 1770.4 1390.8 1771.4 1390.6 1772.3 C1390.5 1773.2 1390.3 1774 1390 1774.8 C1389.7 1775.6 1389.3 1776.3 1388.9 1776.9 C1388.5 1777.6 1388 1778.1 1387.5 1778.5 C1387 1779 1386.4 1779.2 1385.8 1779.6"/>
<path d="M1365.2 1750 L1368.9 1748.5"/>
<path d="M1378.8 1783.7 L1382.5 1782.2"/>
<path d="M1419.7 1883.4 C1420.1 1883.2 1420.6 1883.1 1421.1 1883 C1421.6 1883 1422.2 1883 1422.7 1883.1 C1423.3 1883.2 1423.8 1883.3 1424.4 1883.5 C1424.9 1883.8 1425.5 1884.1 1426 1884.4 C1426.6 1884.8 1427.1 1885.2 1427.7 1885.7 C1428.2 1886.1 1428.7 1886.7 1429.2 1887.2 C1429.7 1887.8 1430.2 1888.4 1430.7 1889.1 C1431.1 1889.7 1431.5 1890.4 1431.9 1891.2 C1432.3 1891.9 1432.7 1892.7 1433 1893.4 C1433.3 1894.2 1433.6 1895 1433.8 1895.8 C1434 1896.6 1434.2 1897.4 1434.3 1898.2 C1434.5 1898.9 1434.6 1899.7 1434.6 1900.5 C1434.6 1901.2 1434.6 1902 1434.6 1902.7 C1434.5 1903.4 1434.4 1904.1 1434.2 1904.7 C1434.1 1905.4 1433.9 1906 1433.6 1906.5 C1433.4 1907.1 1433.1 1907.6 1432.8 1908 C1432.5 1908.4 1432.1 1908.8 1431.7 1909.1 C1431.3 1909.5 1430.8 1909.7 1430.4 1909.9 C1429.9 1910.1 1429.4 1910.2 1428.9 1910.3 C1428.4 1910.3 1427.9 1910.3 1427.3 1910.2 C1426.8 1910.1 1426.2 1909.9 1425.7 1909.7 C1425.1 1909.5 1424.6 1909.2 1424 1908.9 C1423.5 1908.5 1422.9 1908.1 1422.4 1907.6 C1421.8 1907.2 1421.3 1906.6 1420.8 1906 C1420.3 1905.5 1419.8 1904.8 1419.4 1904.2 C1418.9 1903.5 1418.5 1902.8 1418.1 1902.1 C1417.7 1901.4 1417.4 1900.6 1417.1 1899.8 C1416.8 1899.1 1416.5 1898.3 1416.3 1897.5 C1416 1896.7 1415.9 1895.9 1415.7 1895.1 C1415.6 1894.3 1415.5 1893.5 1415.5 1892.8 C1415.4 1892 1415.4 1891.3 1415.5 1890.6 C1415.5 1889.9 1415.7 1889.2 1415.8 1888.5 C1416 1887.9 1416.2 1887.3 1416.4 1886.8 C1416.7 1886.2 1416.9 1885.7 1417.3 1885.3 C1417.6 1884.8 1418 1884.5 1418.4 1884.1 C1418.8 1883.8 1419.2 1883.6 1419.7 1883.4Z"/>
<path d="M1421.7 1888.3 C1421.9 1888.2 1422.3 1888.1 1422.6 1888.1 C1422.9 1888 1423.2 1888 1423.6 1888.1 C1423.9 1888.2 1424.3 1888.3 1424.6 1888.4 C1425 1888.5 1425.3 1888.7 1425.7 1888.9 C1426 1889.2 1426.4 1889.4 1426.7 1889.7 C1427 1890 1427.4 1890.4 1427.7 1890.7 C1428 1891.1 1428.3 1891.5 1428.6 1891.9 C1428.9 1892.3 1429.1 1892.7 1429.4 1893.2 C1429.6 1893.7 1429.8 1894.1 1430 1894.6 C1430.2 1895.1 1430.4 1895.6 1430.5 1896.1 C1430.7 1896.6 1430.8 1897.1 1430.9 1897.6 C1431 1898.1 1431 1898.6 1431 1899.1 C1431.1 1899.5 1431.1 1900 1431 1900.5 C1431 1900.9 1430.9 1901.3 1430.8 1901.7 C1430.7 1902.1 1430.6 1902.5 1430.5 1902.9 C1430.3 1903.2 1430.1 1903.5 1429.9 1903.8 C1429.7 1904.1 1429.5 1904.3 1429.2 1904.5 C1429 1904.7 1428.7 1904.9 1428.4 1905 C1428.1 1905.1 1427.8 1905.2 1427.5 1905.2 C1427.2 1905.2 1426.8 1905.2 1426.5 1905.2 C1426.1 1905.1 1425.8 1905 1425.4 1904.9 C1425.1 1904.7 1424.7 1904.5 1424.4 1904.3 C1424 1904.1 1423.7 1903.8 1423.4 1903.5 C1423 1903.3 1422.7 1902.9 1422.4 1902.6 C1422.1 1902.2 1421.8 1901.8 1421.5 1901.4 C1421.2 1901 1420.9 1900.5 1420.7 1900.1 C1420.4 1899.6 1420.2 1899.1 1420 1898.7 C1419.8 1898.2 1419.7 1897.7 1419.5 1897.2 C1419.4 1896.7 1419.3 1896.2 1419.2 1895.7 C1419.1 1895.2 1419 1894.7 1419 1894.2 C1419 1893.7 1419 1893.3 1419 1892.8 C1419.1 1892.4 1419.1 1891.9 1419.2 1891.5 C1419.3 1891.1 1419.5 1890.8 1419.6 1890.4 C1419.8 1890.1 1419.9 1889.8 1420.1 1889.5 C1420.4 1889.2 1420.6 1889 1420.8 1888.8 C1421.1 1888.6 1421.4 1888.4 1421.7 1888.3Z"/>
<path d="M1427.9 1904.6 C1427.5 1904.5 1427.1 1904.4 1426.6 1904.2 C1426.2 1904 1425.8 1903.8 1425.4 1903.5 C1425 1903.2 1424.6 1902.9 1424.2 1902.5 C1423.8 1902.1 1423.4 1901.6 1423.1 1901.2 C1422.8 1900.7 1422.4 1900.2 1422.1 1899.6 C1421.8 1899.1 1421.6 1898.5 1421.4 1898 C1421.1 1897.4 1420.9 1896.8 1420.8 1896.2 C1420.6 1895.6 1420.5 1895 1420.5 1894.4 C1420.4 1893.9 1420.4 1893.3 1420.4 1892.8 C1420.4 1892.2 1420.5 1891.7 1420.6 1891.2 C1420.7 1890.7 1420.9 1890.3 1421 1889.9" style="stroke-width:1.8;"/>
<path d="M1419.7 1883.4 L1427.1 1880.4"/>
<path d="M1430.4 1909.9 L1437.8 1906.9"/>
<path d="M1421.2 1885.6 C1421.4 1884.6 1421.5 1883.5 1421.7 1882.6 C1422 1881.7 1422.3 1880.8 1422.7 1880.1 C1423.1 1879.3 1423.6 1878.6 1424.1 1878.1 C1424.6 1877.5 1425.2 1877.1 1425.9 1876.7 C1426.5 1876.4 1427.2 1876.1 1428 1876 C1428.7 1875.9 1429.5 1875.9 1430.2 1876 C1431 1876.1 1431.9 1876.3 1432.7 1876.7 C1433.5 1877 1434.3 1877.5 1435.1 1878 C1435.9 1878.6 1436.7 1879.2 1437.5 1880 C1438.3 1880.7 1439 1881.6 1439.7 1882.5 C1440.4 1883.4 1441.1 1884.4 1441.7 1885.4 C1442.3 1886.4 1442.8 1887.5 1443.3 1888.7 C1443.8 1889.8 1444.2 1890.9 1444.5 1892.1 C1444.8 1893.3 1445.1 1894.4 1445.3 1895.6 C1445.5 1896.7 1445.6 1897.9 1445.6 1899 C1445.6 1900.1 1445.5 1901.1 1445.4 1902.1 C1445.2 1903.1 1445 1904.1 1444.7 1904.9 C1444.4 1905.8 1444 1906.6 1443.6 1907.3 C1443.1 1908 1442.6 1908.6 1442 1909 C1441.4 1909.5 1440.8 1909.9 1440.1 1910.2 C1439.4 1910.4 1438.7 1910.6 1437.9 1910.6 C1437.2 1910.7 1436.4 1910.6 1435.6 1910.4 C1434.8 1910.2 1434 1909.7 1433.1 1909.4"/>
<path d="M1428.6 1875.9 C1429.3 1875.5 1429.9 1875 1430.6 1874.8 C1431.3 1874.5 1432 1874.4 1432.8 1874.4 C1433.6 1874.4 1434.4 1874.5 1435.2 1874.8 C1436.1 1875 1436.9 1875.4 1437.7 1875.8 C1438.6 1876.3 1439.4 1876.9 1440.2 1877.6 C1441 1878.3 1441.8 1879.1 1442.6 1879.9 C1443.3 1880.8 1444 1881.7 1444.7 1882.8 C1445.3 1883.8 1445.9 1884.9 1446.5 1886 C1447 1887.1 1447.5 1888.3 1447.9 1889.4 C1448.2 1890.6 1448.6 1891.8 1448.8 1893 C1449 1894.2 1449.2 1895.4 1449.2 1896.5 C1449.3 1897.6 1449.3 1898.8 1449.2 1899.8 C1449.1 1900.8 1448.9 1901.9 1448.6 1902.8 C1448.4 1903.7 1448 1904.5 1447.6 1905.3 C1447.1 1906 1446.6 1906.7 1446.1 1907.2 C1445.5 1907.8 1444.9 1908.2 1444.2 1908.5 C1443.5 1908.8 1442.8 1908.9 1442 1909.1"/>
<path d="M1434.4 1874.5 C1435.1 1874.4 1435.7 1874.1 1436.4 1874.1 C1437.1 1874 1437.8 1874.1 1438.5 1874.2 C1439.3 1874.4 1440 1874.7 1440.7 1875 C1441.5 1875.4 1442.2 1875.9 1443 1876.4 C1443.7 1877 1444.4 1877.6 1445.1 1878.3 C1445.8 1879 1446.5 1879.9 1447.1 1880.7 C1447.7 1881.6 1448.3 1882.5 1448.8 1883.4 C1449.3 1884.4 1449.8 1885.4 1450.2 1886.4 C1450.7 1887.5 1451 1888.5 1451.3 1889.6 C1451.6 1890.6 1451.8 1891.7 1452 1892.8 C1452.1 1893.8 1452.2 1894.9 1452.2 1895.8 C1452.2 1896.8 1452.1 1897.8 1452 1898.7 C1451.8 1899.6 1451.6 1900.5 1451.3 1901.3 C1451.1 1902 1450.7 1902.7 1450.3 1903.4 C1449.9 1904 1449.4 1904.5 1448.9 1905 C1448.4 1905.4 1447.7 1905.7 1447.2 1906"/>
<path d="M1426.6 1876.4 L1430.3 1874.9"/>
<path d="M1440.2 1910.1 L1443.9 1908.6"/>
<path d="M1414.7 1726.7 C1415.3 1726.4 1416 1726.3 1416.7 1726.2 C1417.4 1726.1 1418.1 1726.2 1418.9 1726.3 C1419.6 1726.4 1420.4 1726.6 1421.2 1726.9 C1421.9 1727.2 1422.7 1727.7 1423.5 1728.1 C1424.2 1728.6 1425 1729.2 1425.7 1729.9 C1426.5 1730.5 1427.2 1731.2 1427.9 1732 C1428.6 1732.8 1429.3 1733.7 1429.9 1734.6 C1430.5 1735.5 1431.1 1736.5 1431.6 1737.5 C1432.2 1738.5 1432.7 1739.6 1433.1 1740.6 C1433.5 1741.7 1433.9 1742.8 1434.2 1743.9 C1434.5 1745 1434.8 1746.1 1435 1747.2 C1435.1 1748.2 1435.3 1749.3 1435.3 1750.4 C1435.4 1751.4 1435.4 1752.5 1435.3 1753.5 C1435.2 1754.4 1435 1755.4 1434.8 1756.3 C1434.6 1757.1 1434.3 1758 1434 1758.7 C1433.7 1759.5 1433.3 1760.2 1432.8 1760.8 C1432.4 1761.4 1431.8 1761.9 1431.3 1762.4 C1430.7 1762.8 1430.1 1763.2 1429.5 1763.4 C1428.8 1763.7 1428.2 1763.8 1427.5 1763.9 C1426.8 1764 1426 1764 1425.3 1763.8 C1424.5 1763.7 1423.8 1763.5 1423 1763.2 C1422.2 1762.9 1421.4 1762.5 1420.7 1762 C1419.9 1761.5 1419.1 1760.9 1418.4 1760.3 C1417.7 1759.6 1416.9 1758.9 1416.2 1758.1 C1415.5 1757.3 1414.9 1756.4 1414.3 1755.5 C1413.6 1754.6 1413 1753.6 1412.5 1752.6 C1412 1751.6 1411.5 1750.6 1411.1 1749.5 C1410.6 1748.5 1410.2 1747.4 1409.9 1746.3 C1409.6 1745.2 1409.4 1744.1 1409.2 1743 C1409 1741.9 1408.9 1740.8 1408.8 1739.7 C1408.8 1738.7 1408.8 1737.7 1408.9 1736.7 C1408.9 1735.7 1409.1 1734.7 1409.3 1733.9 C1409.5 1733 1409.8 1732.1 1410.1 1731.4 C1410.5 1730.6 1410.9 1729.9 1411.3 1729.3 C1411.8 1728.7 1412.3 1728.2 1412.9 1727.8 C1413.4 1727.3 1414 1727 1414.7 1726.7Z"/>
<path d="M1415.9 1728.6 C1416.5 1728.3 1417.1 1728.2 1417.7 1728.1 C1418.4 1728.1 1419 1728.1 1419.7 1728.2 C1420.4 1728.3 1421 1728.5 1421.7 1728.8 C1422.4 1729 1423.1 1729.4 1423.8 1729.8 C1424.5 1730.3 1425.1 1730.8 1425.8 1731.4 C1426.5 1731.9 1427.1 1732.6 1427.7 1733.3 C1428.3 1734 1428.9 1734.8 1429.5 1735.6 C1430 1736.4 1430.6 1737.3 1431 1738.1 C1431.5 1739 1431.9 1740 1432.3 1740.9 C1432.7 1741.9 1433 1742.8 1433.3 1743.8 C1433.6 1744.8 1433.8 1745.8 1434 1746.7 C1434.2 1747.7 1434.3 1748.7 1434.3 1749.6 C1434.4 1750.5 1434.3 1751.5 1434.3 1752.3 C1434.2 1753.2 1434.1 1754.1 1433.9 1754.8 C1433.7 1755.6 1433.4 1756.4 1433.1 1757 C1432.8 1757.7 1432.5 1758.3 1432.1 1758.9 C1431.7 1759.4 1431.2 1759.9 1430.7 1760.3 C1430.2 1760.7 1429.7 1761 1429.1 1761.2 C1428.6 1761.4 1428 1761.6 1427.3 1761.6 C1426.7 1761.7 1426 1761.7 1425.4 1761.6 C1424.7 1761.5 1424 1761.3 1423.3 1761 C1422.7 1760.7 1422 1760.4 1421.3 1759.9 C1420.6 1759.5 1419.9 1759 1419.3 1758.4 C1418.6 1757.8 1418 1757.2 1417.4 1756.5 C1416.7 1755.8 1416.1 1755 1415.6 1754.2 C1415 1753.4 1414.5 1752.5 1414 1751.6 C1413.6 1750.7 1413.1 1749.8 1412.7 1748.8 C1412.4 1747.9 1412 1746.9 1411.7 1745.9 C1411.5 1745 1411.2 1744 1411.1 1743 C1410.9 1742 1410.8 1741.1 1410.8 1740.1 C1410.7 1739.2 1410.7 1738.3 1410.8 1737.4 C1410.9 1736.5 1411 1735.7 1411.2 1734.9 C1411.4 1734.1 1411.6 1733.4 1411.9 1732.7 C1412.2 1732.1 1412.6 1731.4 1413 1730.9 C1413.4 1730.4 1413.8 1729.9 1414.3 1729.5 C1414.8 1729.1 1415.4 1728.8 1415.9 1728.6Z"/>
<path d="M1433.8 1758.6 C1433.2 1758.9 1432.6 1759.4 1432 1759.6 C1431.4 1759.8 1430.7 1760 1430 1760 C1429.3 1760 1428.6 1759.9 1427.8 1759.7 C1427.1 1759.5 1426.3 1759.2 1425.6 1758.8 C1424.8 1758.5 1424.1 1758 1423.3 1757.4 C1422.6 1756.8 1421.9 1756.1 1421.2 1755.4 C1420.5 1754.7 1419.8 1753.8 1419.2 1752.9 C1418.6 1752.1 1418 1751.1 1417.5 1750.1 C1417 1749.2 1416.5 1748.1 1416.1 1747.1 C1415.7 1746 1415.3 1745 1415 1743.9 C1414.8 1742.8 1414.6 1741.7 1414.4 1740.7 C1414.3 1739.6 1414.2 1738.6 1414.2 1737.6 C1414.3 1736.6 1414.3 1735.6 1414.5 1734.7 C1414.7 1733.8 1414.9 1733 1415.2 1732.2 C1415.5 1731.4 1415.9 1730.7 1416.3 1730.1 C1416.7 1729.5 1417.3 1729.1 1417.8 1728.5" style="stroke-width:1.8;"/>
<path d="M1435.8 1757.6 C1435.1 1757.8 1434.5 1758 1433.8 1758.1 C1433.1 1758.1 1432.4 1758.1 1431.7 1757.9 C1430.9 1757.7 1430.2 1757.4 1429.4 1757.1 C1428.7 1756.7 1427.9 1756.2 1427.2 1755.6 C1426.5 1755.1 1425.7 1754.4 1425.1 1753.7 C1424.4 1753 1423.7 1752.1 1423.1 1751.3 C1422.5 1750.4 1421.9 1749.5 1421.4 1748.5 C1420.9 1747.5 1420.4 1746.5 1420 1745.5 C1419.6 1744.4 1419.2 1743.3 1419 1742.3 C1418.7 1741.2 1418.5 1740.1 1418.4 1739.1 C1418.3 1738.1 1418.2 1737 1418.2 1736 C1418.2 1735.1 1418.3 1734.1 1418.5 1733.2 C1418.7 1732.3 1418.9 1731.5 1419.2 1730.7 C1419.6 1730 1420 1729.4 1420.4 1728.7" style="stroke-width:1.8;"/>
<path d="M1413.6 1731.1 C1413.9 1729.9 1414.1 1728.6 1414.5 1727.6 C1414.9 1726.5 1415.4 1725.5 1416 1724.6 C1416.6 1723.8 1417.3 1723 1418 1722.4 C1418.8 1721.9 1419.6 1721.4 1420.5 1721.1 C1421.4 1720.8 1422.4 1720.7 1423.4 1720.7 C1424.3 1720.7 1425.4 1720.9 1426.4 1721.2 C1427.5 1721.5 1428.5 1722 1429.6 1722.6 C1430.6 1723.2 1431.7 1724 1432.7 1724.8 C1433.7 1725.7 1434.7 1726.7 1435.6 1727.8 C1436.5 1728.9 1437.4 1730.1 1438.2 1731.4 C1439 1732.7 1439.8 1734.1 1440.5 1735.5 C1441.1 1736.9 1441.7 1738.4 1442.2 1739.9 C1442.6 1741.3 1443 1742.9 1443.3 1744.3 C1443.6 1745.8 1443.8 1747.3 1443.8 1748.7 C1443.9 1750.2 1443.8 1751.6 1443.7 1752.9 C1443.5 1754.2 1443.3 1755.4 1442.9 1756.6 C1442.6 1757.7 1442.1 1758.7 1441.5 1759.6 C1441 1760.6 1440.3 1761.4 1439.6 1762 C1438.9 1762.7 1438.1 1763.2 1437.2 1763.5 C1436.3 1763.9 1435.4 1764.1 1434.4 1764.2 C1433.5 1764.2 1432.4 1764.1 1431.4 1763.9 C1430.4 1763.6 1429.3 1763.1 1428.3 1762.7"/>
<path d="M1420.7 1721.9 C1421.5 1721.3 1422.2 1720.6 1423 1720.1 C1423.8 1719.7 1424.7 1719.4 1425.7 1719.3 C1426.6 1719.1 1427.6 1719.2 1428.6 1719.3 C1429.6 1719.5 1430.6 1719.8 1431.7 1720.3 C1432.7 1720.7 1433.7 1721.3 1434.8 1722.1 C1435.8 1722.8 1436.8 1723.7 1437.8 1724.6 C1438.7 1725.6 1439.7 1726.7 1440.5 1727.9 C1441.4 1729 1442.2 1730.3 1443 1731.7 C1443.7 1733 1444.4 1734.4 1445 1735.8 C1445.5 1737.2 1446 1738.7 1446.4 1740.2 C1446.8 1741.7 1447.1 1743.2 1447.3 1744.6 C1447.5 1746.1 1447.6 1747.5 1447.6 1748.9 C1447.5 1750.2 1447.4 1751.6 1447.2 1752.8 C1447 1754 1446.6 1755.2 1446.2 1756.2 C1445.8 1757.3 1445.2 1758.2 1444.6 1759.1 C1444 1759.9 1443.3 1760.6 1442.6 1761.1 C1441.8 1761.7 1440.9 1762.1 1440.1 1762.3 C1439.2 1762.6 1438.2 1762.6 1437.2 1762.7"/>
<path d="M1427.6 1719.2 C1428.5 1718.9 1429.3 1718.4 1430.2 1718.2 C1431.1 1718.1 1432.1 1718 1433 1718.2 C1434 1718.3 1435 1718.6 1436 1719 C1437.1 1719.4 1438.1 1720 1439.1 1720.7 C1440.1 1721.4 1441.1 1722.2 1442.1 1723.2 C1443 1724.1 1443.9 1725.2 1444.8 1726.3 C1445.6 1727.5 1446.5 1728.7 1447.2 1730 C1447.9 1731.3 1448.6 1732.7 1449.1 1734.1 C1449.7 1735.5 1450.2 1737 1450.6 1738.4 C1451 1739.9 1451.2 1741.3 1451.4 1742.8 C1451.6 1744.2 1451.7 1745.6 1451.7 1746.9 C1451.6 1748.3 1451.5 1749.6 1451.2 1750.8 C1451 1752 1450.7 1753.1 1450.2 1754.1 C1449.8 1755.1 1449.3 1756 1448.6 1756.8 C1448 1757.6 1447.3 1758.2 1446.6 1758.7 C1445.8 1759.2 1444.9 1759.5 1444 1759.8"/>
<path d="M1414.7 1726.7 L1419.2 1722"/>
<path d="M1429.5 1763.4 L1436.1 1763.7"/>
<path d="M1474.8 1853.9 C1475.5 1853.6 1476.2 1853.5 1476.9 1853.4 C1477.6 1853.3 1478.3 1853.3 1479.1 1853.5 C1479.8 1853.6 1480.6 1853.8 1481.3 1854.1 C1482.1 1854.4 1482.9 1854.8 1483.7 1855.3 C1484.4 1855.8 1485.2 1856.4 1485.9 1857 C1486.7 1857.7 1487.4 1858.4 1488.1 1859.2 C1488.8 1860 1489.4 1860.9 1490.1 1861.8 C1490.7 1862.7 1491.3 1863.7 1491.8 1864.7 C1492.3 1865.7 1492.8 1866.7 1493.3 1867.8 C1493.7 1868.8 1494.1 1870 1494.4 1871 C1494.7 1872.1 1495 1873.2 1495.1 1874.3 C1495.3 1875.4 1495.4 1876.5 1495.5 1877.6 C1495.6 1878.6 1495.5 1879.6 1495.5 1880.6 C1495.4 1881.6 1495.2 1882.6 1495 1883.4 C1494.8 1884.3 1494.5 1885.2 1494.2 1885.9 C1493.8 1886.7 1493.4 1887.4 1493 1888 C1492.5 1888.6 1492 1889.1 1491.5 1889.5 C1490.9 1890 1490.3 1890.3 1489.7 1890.6 C1489 1890.9 1488.3 1891 1487.6 1891.1 C1486.9 1891.2 1486.2 1891.1 1485.5 1891 C1484.7 1890.9 1483.9 1890.7 1483.2 1890.4 C1482.4 1890.1 1481.6 1889.6 1480.9 1889.2 C1480.1 1888.7 1479.3 1888.1 1478.6 1887.4 C1477.8 1886.8 1477.1 1886.1 1476.4 1885.3 C1475.7 1884.5 1475.1 1883.6 1474.4 1882.7 C1473.8 1881.8 1473.2 1880.8 1472.7 1879.8 C1472.2 1878.8 1471.7 1877.7 1471.2 1876.7 C1470.8 1875.6 1470.4 1874.5 1470.1 1873.4 C1469.8 1872.3 1469.6 1871.2 1469.4 1870.1 C1469.2 1869.1 1469.1 1868 1469 1866.9 C1469 1865.9 1469 1864.8 1469 1863.8 C1469.1 1862.9 1469.3 1861.9 1469.5 1861 C1469.7 1860.2 1470 1859.3 1470.3 1858.6 C1470.7 1857.8 1471.1 1857.1 1471.5 1856.5 C1472 1855.9 1472.5 1855.4 1473 1854.9 C1473.6 1854.5 1474.2 1854.1 1474.8 1853.9Z"/>
<path d="M1476.1 1855.7 C1476.7 1855.5 1477.3 1855.4 1477.9 1855.3 C1478.6 1855.2 1479.2 1855.3 1479.9 1855.4 C1480.5 1855.5 1481.2 1855.7 1481.9 1855.9 C1482.6 1856.2 1483.3 1856.6 1484 1857 C1484.6 1857.4 1485.3 1858 1486 1858.5 C1486.6 1859.1 1487.3 1859.8 1487.9 1860.5 C1488.5 1861.2 1489.1 1861.9 1489.7 1862.8 C1490.2 1863.6 1490.7 1864.4 1491.2 1865.3 C1491.7 1866.2 1492.1 1867.1 1492.5 1868.1 C1492.9 1869 1493.2 1870 1493.5 1871 C1493.8 1872 1494 1872.9 1494.2 1873.9 C1494.3 1874.9 1494.4 1875.9 1494.5 1876.8 C1494.5 1877.7 1494.5 1878.6 1494.5 1879.5 C1494.4 1880.4 1494.3 1881.2 1494.1 1882 C1493.9 1882.8 1493.6 1883.5 1493.3 1884.2 C1493 1884.9 1492.7 1885.5 1492.3 1886 C1491.9 1886.6 1491.4 1887 1490.9 1887.4 C1490.4 1887.8 1489.9 1888.1 1489.3 1888.4 C1488.7 1888.6 1488.1 1888.7 1487.5 1888.8 C1486.9 1888.9 1486.2 1888.8 1485.6 1888.7 C1484.9 1888.6 1484.2 1888.4 1483.5 1888.2 C1482.9 1887.9 1482.2 1887.5 1481.5 1887.1 C1480.8 1886.7 1480.1 1886.1 1479.5 1885.6 C1478.8 1885 1478.1 1884.3 1477.5 1883.6 C1476.9 1882.9 1476.3 1882.2 1475.8 1881.3 C1475.2 1880.5 1474.7 1879.7 1474.2 1878.8 C1473.7 1877.9 1473.3 1876.9 1472.9 1876 C1472.5 1875.1 1472.2 1874.1 1471.9 1873.1 C1471.7 1872.1 1471.4 1871.2 1471.3 1870.2 C1471.1 1869.2 1471 1868.2 1470.9 1867.3 C1470.9 1866.4 1470.9 1865.5 1471 1864.6 C1471.1 1863.7 1471.2 1862.9 1471.4 1862.1 C1471.6 1861.3 1471.8 1860.6 1472.1 1859.9 C1472.4 1859.2 1472.8 1858.6 1473.2 1858.1 C1473.6 1857.5 1474 1857.1 1474.5 1856.7 C1475 1856.3 1475.6 1856 1476.1 1855.7Z"/>
<path d="M1494 1885.8 C1493.4 1886.1 1492.8 1886.5 1492.2 1886.8 C1491.6 1887 1490.9 1887.1 1490.2 1887.1 C1489.5 1887.2 1488.7 1887.1 1488 1886.9 C1487.3 1886.7 1486.5 1886.4 1485.8 1886 C1485 1885.6 1484.2 1885.1 1483.5 1884.6 C1482.8 1884 1482 1883.3 1481.4 1882.6 C1480.7 1881.8 1480 1881 1479.4 1880.1 C1478.8 1879.2 1478.2 1878.3 1477.7 1877.3 C1477.1 1876.3 1476.7 1875.3 1476.3 1874.3 C1475.9 1873.2 1475.5 1872.1 1475.2 1871.1 C1475 1870 1474.7 1868.9 1474.6 1867.9 C1474.5 1866.8 1474.4 1865.8 1474.4 1864.8 C1474.4 1863.8 1474.5 1862.8 1474.7 1861.9 C1474.9 1861 1475.1 1860.1 1475.4 1859.4 C1475.7 1858.6 1476.1 1857.9 1476.5 1857.3 C1476.9 1856.7 1477.5 1856.2 1478 1855.7" style="stroke-width:1.8;"/>
<path d="M1496 1884.8 C1495.3 1885 1494.7 1885.2 1494 1885.3 C1493.3 1885.3 1492.6 1885.2 1491.8 1885.1 C1491.1 1884.9 1490.4 1884.6 1489.6 1884.2 C1488.9 1883.9 1488.1 1883.4 1487.4 1882.8 C1486.6 1882.3 1485.9 1881.6 1485.2 1880.9 C1484.6 1880.1 1483.9 1879.3 1483.3 1878.4 C1482.7 1877.6 1482.1 1876.6 1481.6 1875.7 C1481 1874.7 1480.6 1873.7 1480.2 1872.6 C1479.8 1871.6 1479.4 1870.5 1479.2 1869.5 C1478.9 1868.4 1478.7 1867.3 1478.6 1866.3 C1478.4 1865.2 1478.4 1864.2 1478.4 1863.2 C1478.4 1862.2 1478.5 1861.3 1478.7 1860.4 C1478.9 1859.5 1479.1 1858.7 1479.4 1857.9 C1479.7 1857.2 1480.2 1856.6 1480.6 1855.9" style="stroke-width:1.8;"/>
<path d="M1473.7 1858.3 C1474 1857.1 1474.2 1855.8 1474.7 1854.7 C1475.1 1853.6 1475.6 1852.6 1476.2 1851.8 C1476.8 1850.9 1477.5 1850.2 1478.2 1849.6 C1479 1849 1479.8 1848.6 1480.7 1848.3 C1481.6 1848 1482.6 1847.9 1483.5 1847.9 C1484.5 1847.9 1485.6 1848 1486.6 1848.4 C1487.6 1848.7 1488.7 1849.2 1489.8 1849.8 C1490.8 1850.4 1491.8 1851.1 1492.9 1852 C1493.9 1852.9 1494.9 1853.9 1495.8 1855 C1496.7 1856.1 1497.6 1857.3 1498.4 1858.6 C1499.2 1859.9 1500 1861.3 1500.6 1862.7 C1501.3 1864.1 1501.9 1865.6 1502.4 1867 C1502.8 1868.5 1503.2 1870 1503.5 1871.5 C1503.8 1873 1503.9 1874.5 1504 1875.9 C1504.1 1877.3 1504 1878.7 1503.9 1880 C1503.7 1881.3 1503.5 1882.6 1503.1 1883.7 C1502.7 1884.9 1502.3 1885.9 1501.7 1886.8 C1501.2 1887.7 1500.5 1888.5 1499.8 1889.2 C1499.1 1889.8 1498.2 1890.4 1497.4 1890.7 C1496.5 1891.1 1495.6 1891.3 1494.6 1891.3 C1493.7 1891.4 1492.6 1891.3 1491.6 1891.1 C1490.6 1890.8 1489.5 1890.3 1488.5 1889.9"/>
<path d="M1480.9 1849 C1481.7 1848.5 1482.4 1847.7 1483.2 1847.3 C1484 1846.9 1484.9 1846.6 1485.8 1846.5 C1486.8 1846.3 1487.8 1846.3 1488.8 1846.5 C1489.8 1846.7 1490.8 1847 1491.8 1847.4 C1492.9 1847.9 1493.9 1848.5 1494.9 1849.2 C1496 1849.9 1497 1850.8 1497.9 1851.8 C1498.9 1852.8 1499.9 1853.9 1500.7 1855 C1501.6 1856.2 1502.4 1857.5 1503.1 1858.8 C1503.9 1860.1 1504.6 1861.6 1505.1 1863 C1505.7 1864.4 1506.2 1865.9 1506.6 1867.4 C1507 1868.8 1507.3 1870.3 1507.5 1871.8 C1507.7 1873.2 1507.8 1874.7 1507.7 1876 C1507.7 1877.4 1507.6 1878.7 1507.4 1880 C1507.1 1881.2 1506.8 1882.4 1506.4 1883.4 C1506 1884.5 1505.4 1885.4 1504.8 1886.2 C1504.2 1887 1503.5 1887.7 1502.7 1888.3 C1502 1888.8 1501.1 1889.3 1500.2 1889.5 C1499.4 1889.8 1498.4 1889.7 1497.4 1889.9"/>
<path d="M1487.8 1846.4 C1488.7 1846 1489.5 1845.6 1490.4 1845.4 C1491.3 1845.2 1492.2 1845.2 1493.2 1845.3 C1494.2 1845.5 1495.2 1845.8 1496.2 1846.2 C1497.2 1846.6 1498.3 1847.2 1499.3 1847.9 C1500.3 1848.6 1501.3 1849.4 1502.2 1850.3 C1503.2 1851.3 1504.1 1852.4 1505 1853.5 C1505.8 1854.6 1506.6 1855.9 1507.4 1857.2 C1508.1 1858.5 1508.8 1859.9 1509.3 1861.3 C1509.9 1862.7 1510.4 1864.2 1510.8 1865.6 C1511.1 1867 1511.4 1868.5 1511.6 1869.9 C1511.8 1871.3 1511.9 1872.8 1511.8 1874.1 C1511.8 1875.4 1511.7 1876.7 1511.4 1877.9 C1511.2 1879.1 1510.9 1880.3 1510.4 1881.3 C1510 1882.3 1509.4 1883.2 1508.8 1884 C1508.2 1884.7 1507.5 1885.4 1506.7 1885.9 C1506 1886.4 1505.1 1886.6 1504.2 1887"/>
<path d="M1474.8 1853.9 L1479.4 1849.1"/>
<path d="M1489.7 1890.6 L1496.2 1890.9"/>
<path d="M1467.5 1708.2 C1468 1707.9 1468.6 1707.8 1469.2 1707.7 C1469.8 1707.7 1470.4 1707.7 1471.1 1707.8 C1471.7 1707.9 1472.4 1708.1 1473 1708.4 C1473.7 1708.6 1474.4 1709 1475 1709.4 C1475.7 1709.8 1476.3 1710.3 1477 1710.9 C1477.6 1711.4 1478.2 1712 1478.8 1712.7 C1479.4 1713.4 1480 1714.2 1480.5 1714.9 C1481.1 1715.7 1481.6 1716.6 1482 1717.4 C1482.5 1718.3 1482.9 1719.2 1483.3 1720.1 C1483.7 1721 1484 1722 1484.2 1722.9 C1484.5 1723.8 1484.7 1724.8 1484.9 1725.7 C1485.1 1726.7 1485.2 1727.6 1485.2 1728.5 C1485.2 1729.4 1485.2 1730.3 1485.2 1731.1 C1485.1 1732 1485 1732.8 1484.8 1733.5 C1484.6 1734.3 1484.4 1735 1484.1 1735.7 C1483.8 1736.3 1483.4 1736.9 1483 1737.4 C1482.7 1737.9 1482.2 1738.4 1481.7 1738.8 C1481.3 1739.2 1480.7 1739.5 1480.2 1739.7 C1479.6 1739.9 1479.1 1740 1478.5 1740.1 C1477.9 1740.2 1477.2 1740.1 1476.6 1740 C1475.9 1739.9 1475.3 1739.7 1474.6 1739.5 C1474 1739.2 1473.3 1738.9 1472.6 1738.4 C1472 1738 1471.3 1737.5 1470.7 1737 C1470 1736.4 1469.4 1735.8 1468.8 1735.1 C1468.2 1734.4 1467.7 1733.7 1467.1 1732.9 C1466.6 1732.1 1466.1 1731.3 1465.6 1730.4 C1465.2 1729.6 1464.7 1728.7 1464.4 1727.7 C1464 1726.8 1463.7 1725.9 1463.4 1724.9 C1463.1 1724 1462.9 1723.1 1462.8 1722.1 C1462.6 1721.2 1462.5 1720.2 1462.5 1719.3 C1462.4 1718.4 1462.4 1717.6 1462.5 1716.7 C1462.6 1715.9 1462.7 1715.1 1462.9 1714.3 C1463.1 1713.5 1463.3 1712.8 1463.6 1712.2 C1463.9 1711.5 1464.2 1710.9 1464.6 1710.4 C1465 1709.9 1465.4 1709.4 1465.9 1709.1 C1466.4 1708.7 1466.9 1708.4 1467.5 1708.2Z"/>
<path d="M1470.3 1715.3 C1470.6 1715.2 1471 1715.1 1471.3 1715.1 C1471.6 1715 1472 1715 1472.3 1715.1 C1472.7 1715.2 1473 1715.3 1473.4 1715.4 C1473.8 1715.6 1474.1 1715.7 1474.5 1716 C1474.8 1716.2 1475.2 1716.5 1475.6 1716.8 C1475.9 1717.1 1476.2 1717.4 1476.6 1717.8 C1476.9 1718.2 1477.2 1718.6 1477.5 1719 C1477.8 1719.4 1478.1 1719.9 1478.3 1720.4 C1478.6 1720.8 1478.8 1721.3 1479 1721.8 C1479.2 1722.3 1479.4 1722.8 1479.5 1723.4 C1479.7 1723.9 1479.8 1724.4 1479.9 1724.9 C1480 1725.4 1480 1725.9 1480 1726.4 C1480.1 1726.9 1480.1 1727.4 1480 1727.9 C1480 1728.3 1479.9 1728.8 1479.8 1729.2 C1479.7 1729.6 1479.6 1730 1479.4 1730.3 C1479.3 1730.7 1479.1 1731 1478.9 1731.3 C1478.7 1731.6 1478.4 1731.8 1478.2 1732 C1477.9 1732.3 1477.6 1732.4 1477.3 1732.5 C1477 1732.7 1476.7 1732.7 1476.4 1732.8 C1476 1732.8 1475.7 1732.8 1475.3 1732.7 C1475 1732.7 1474.6 1732.6 1474.3 1732.4 C1473.9 1732.3 1473.5 1732.1 1473.2 1731.9 C1472.8 1731.6 1472.4 1731.4 1472.1 1731.1 C1471.8 1730.8 1471.4 1730.4 1471.1 1730 C1470.8 1729.7 1470.4 1729.3 1470.2 1728.8 C1469.9 1728.4 1469.6 1727.9 1469.3 1727.5 C1469.1 1727 1468.9 1726.5 1468.7 1726 C1468.5 1725.5 1468.3 1725 1468.1 1724.5 C1468 1724 1467.9 1723.4 1467.8 1722.9 C1467.7 1722.4 1467.6 1721.9 1467.6 1721.4 C1467.6 1720.9 1467.6 1720.4 1467.6 1720 C1467.7 1719.5 1467.7 1719.1 1467.8 1718.7 C1467.9 1718.2 1468.1 1717.9 1468.2 1717.5 C1468.4 1717.1 1468.6 1716.8 1468.8 1716.5 C1469 1716.2 1469.2 1716 1469.5 1715.8 C1469.8 1715.6 1470 1715.4 1470.3 1715.3Z"/>
<path d="M1479.7 1730.7 C1479.4 1730.9 1479.1 1731.1 1478.7 1731.2 C1478.4 1731.3 1478 1731.4 1477.7 1731.4 C1477.3 1731.4 1476.9 1731.3 1476.5 1731.2 C1476.1 1731.1 1475.7 1730.9 1475.3 1730.7 C1474.9 1730.4 1474.5 1730.2 1474.1 1729.8 C1473.8 1729.5 1473.4 1729.1 1473 1728.7 C1472.7 1728.3 1472.3 1727.8 1472 1727.3 C1471.7 1726.8 1471.4 1726.3 1471.2 1725.8 C1470.9 1725.3 1470.7 1724.7 1470.5 1724.1 C1470.4 1723.6 1470.2 1723 1470.1 1722.4 C1470 1721.9 1469.9 1721.3 1469.9 1720.8 C1469.9 1720.2 1469.9 1719.7 1470 1719.2 C1470 1718.7 1470.1 1718.2 1470.3 1717.8 C1470.4 1717.4 1470.6 1717 1470.8 1716.6 C1471 1716.3 1471.3 1716 1471.5 1715.8 C1471.8 1715.5 1472.2 1715.4 1472.5 1715.2" style="stroke-width:1.8;"/>
<path d="M1479.4 1730.8 C1479 1730.8 1478.7 1730.8 1478.3 1730.7 C1477.9 1730.7 1477.5 1730.5 1477.2 1730.3 C1476.8 1730.2 1476.4 1729.9 1476 1729.6 C1475.6 1729.4 1475.2 1729 1474.9 1728.7 C1474.5 1728.3 1474.2 1727.9 1473.9 1727.4 C1473.5 1727 1473.2 1726.5 1473 1726 C1472.7 1725.5 1472.5 1725 1472.2 1724.4 C1472 1723.9 1471.9 1723.3 1471.7 1722.8 C1471.6 1722.2 1471.5 1721.7 1471.4 1721.2 C1471.3 1720.6 1471.3 1720.1 1471.3 1719.6 C1471.3 1719.1 1471.4 1718.6 1471.5 1718.1 C1471.5 1717.6 1471.7 1717.2 1471.8 1716.8 C1472 1716.4 1472.2 1716.1 1472.4 1715.8" style="stroke-width:1.6;"/>
<path d="M1466.2 1708.8 L1472.3 1704.6"/>
<path d="M1472.3 1704.6 C1474.3 1703.9 1476.7 1702.5 1479 1702.2 C1481.3 1701.8 1485.5 1701.8 1487.9 1702.4 C1490.3 1703 1493.2 1704.5 1495.1 1706.2 C1496.9 1707.8 1499 1711 1500 1713.4 C1500.9 1715.7 1501.7 1719.4 1501.4 1721.9 C1501.1 1724.4 1499.8 1727.9 1498 1730 C1496.2 1732.1 1492.1 1734.4 1489.3 1735.9 C1486.6 1737.4 1482.6 1738.7 1479.7 1739.9"/>
<path d="M1480.2 1709.2 L1486.9 1702"/>
<path d="M1480.2 1709.2 L1489.9 1728.6"/>
<path d="M1489.9 1728.6 L1498.9 1729.7"/>
<path d="M1528.8 1836.1 C1529.4 1835.8 1530 1835.7 1530.6 1835.6 C1531.2 1835.6 1531.8 1835.6 1532.4 1835.7 C1533.1 1835.8 1533.7 1836 1534.4 1836.3 C1535.1 1836.5 1535.7 1836.9 1536.4 1837.3 C1537.1 1837.7 1537.7 1838.2 1538.3 1838.8 C1539 1839.3 1539.6 1840 1540.2 1840.6 C1540.8 1841.3 1541.4 1842.1 1541.9 1842.8 C1542.4 1843.6 1542.9 1844.5 1543.4 1845.3 C1543.9 1846.2 1544.3 1847.1 1544.7 1848 C1545 1848.9 1545.3 1849.9 1545.6 1850.8 C1545.9 1851.7 1546.1 1852.7 1546.3 1853.6 C1546.4 1854.6 1546.5 1855.5 1546.6 1856.4 C1546.6 1857.3 1546.6 1858.2 1546.5 1859 C1546.5 1859.9 1546.3 1860.7 1546.2 1861.4 C1546 1862.2 1545.7 1862.9 1545.4 1863.6 C1545.1 1864.2 1544.8 1864.8 1544.4 1865.3 C1544 1865.9 1543.6 1866.3 1543.1 1866.7 C1542.6 1867.1 1542.1 1867.4 1541.6 1867.6 C1541 1867.8 1540.4 1868 1539.8 1868 C1539.2 1868.1 1538.6 1868.1 1537.9 1867.9 C1537.3 1867.8 1536.6 1867.7 1536 1867.4 C1535.3 1867.1 1534.6 1866.8 1534 1866.4 C1533.3 1865.9 1532.7 1865.4 1532 1864.9 C1531.4 1864.3 1530.8 1863.7 1530.2 1863 C1529.6 1862.3 1529 1861.6 1528.5 1860.8 C1528 1860 1527.4 1859.2 1527 1858.3 C1526.5 1857.5 1526.1 1856.6 1525.7 1855.7 C1525.4 1854.7 1525 1853.8 1524.8 1852.9 C1524.5 1851.9 1524.3 1851 1524.1 1850 C1524 1849.1 1523.9 1848.2 1523.8 1847.3 C1523.8 1846.4 1523.8 1845.5 1523.9 1844.6 C1523.9 1843.8 1524.1 1843 1524.2 1842.2 C1524.4 1841.5 1524.7 1840.7 1525 1840.1 C1525.2 1839.4 1525.6 1838.8 1526 1838.3 C1526.4 1837.8 1526.8 1837.3 1527.3 1837 C1527.8 1836.6 1528.3 1836.3 1528.8 1836.1Z"/>
<path d="M1531.7 1843.2 C1532 1843.1 1532.3 1843 1532.7 1843 C1533 1842.9 1533.3 1843 1533.7 1843 C1534 1843.1 1534.4 1843.2 1534.8 1843.3 C1535.1 1843.5 1535.5 1843.7 1535.9 1843.9 C1536.2 1844.1 1536.6 1844.4 1536.9 1844.7 C1537.3 1845 1537.6 1845.3 1537.9 1845.7 C1538.3 1846.1 1538.6 1846.5 1538.9 1846.9 C1539.2 1847.3 1539.4 1847.8 1539.7 1848.3 C1539.9 1848.7 1540.2 1849.2 1540.4 1849.7 C1540.6 1850.2 1540.7 1850.8 1540.9 1851.3 C1541 1851.8 1541.2 1852.3 1541.2 1852.8 C1541.3 1853.3 1541.4 1853.8 1541.4 1854.3 C1541.4 1854.8 1541.4 1855.3 1541.4 1855.8 C1541.4 1856.2 1541.3 1856.7 1541.2 1857.1 C1541.1 1857.5 1541 1857.9 1540.8 1858.3 C1540.6 1858.6 1540.4 1858.9 1540.2 1859.2 C1540 1859.5 1539.8 1859.8 1539.5 1860 C1539.3 1860.2 1539 1860.3 1538.7 1860.5 C1538.4 1860.6 1538.1 1860.7 1537.7 1860.7 C1537.4 1860.7 1537 1860.7 1536.7 1860.6 C1536.3 1860.6 1536 1860.5 1535.6 1860.3 C1535.3 1860.2 1534.9 1860 1534.5 1859.8 C1534.2 1859.6 1533.8 1859.3 1533.5 1859 C1533.1 1858.7 1532.8 1858.3 1532.5 1858 C1532.1 1857.6 1531.8 1857.2 1531.5 1856.7 C1531.2 1856.3 1531 1855.9 1530.7 1855.4 C1530.5 1854.9 1530.2 1854.4 1530 1853.9 C1529.8 1853.4 1529.6 1852.9 1529.5 1852.4 C1529.3 1851.9 1529.2 1851.4 1529.1 1850.8 C1529.1 1850.3 1529 1849.8 1529 1849.3 C1528.9 1848.8 1529 1848.3 1529 1847.9 C1529 1847.4 1529.1 1847 1529.2 1846.6 C1529.3 1846.2 1529.4 1845.8 1529.6 1845.4 C1529.7 1845.1 1529.9 1844.7 1530.2 1844.4 C1530.4 1844.2 1530.6 1843.9 1530.9 1843.7 C1531.1 1843.5 1531.4 1843.3 1531.7 1843.2Z"/>
<path d="M1541.1 1858.6 C1540.7 1858.8 1540.4 1859 1540.1 1859.1 C1539.8 1859.2 1539.4 1859.3 1539 1859.3 C1538.7 1859.3 1538.3 1859.2 1537.9 1859.1 C1537.5 1859 1537.1 1858.8 1536.7 1858.6 C1536.3 1858.4 1535.9 1858.1 1535.5 1857.7 C1535.1 1857.4 1534.8 1857 1534.4 1856.6 C1534.1 1856.2 1533.7 1855.7 1533.4 1855.2 C1533.1 1854.8 1532.8 1854.2 1532.6 1853.7 C1532.3 1853.2 1532.1 1852.6 1531.9 1852 C1531.7 1851.5 1531.6 1850.9 1531.5 1850.3 C1531.4 1849.8 1531.3 1849.2 1531.3 1848.7 C1531.3 1848.1 1531.3 1847.6 1531.3 1847.1 C1531.4 1846.6 1531.5 1846.2 1531.6 1845.7 C1531.8 1845.3 1532 1844.9 1532.2 1844.6 C1532.4 1844.2 1532.6 1843.9 1532.9 1843.7 C1533.2 1843.4 1533.5 1843.3 1533.8 1843.1" style="stroke-width:1.8;"/>
<path d="M1540.8 1858.7 C1540.4 1858.7 1540.1 1858.7 1539.7 1858.6 C1539.3 1858.6 1538.9 1858.4 1538.5 1858.3 C1538.1 1858.1 1537.8 1857.8 1537.4 1857.6 C1537 1857.3 1536.6 1856.9 1536.3 1856.6 C1535.9 1856.2 1535.6 1855.8 1535.2 1855.3 C1534.9 1854.9 1534.6 1854.4 1534.3 1853.9 C1534.1 1853.4 1533.8 1852.9 1533.6 1852.3 C1533.4 1851.8 1533.2 1851.3 1533.1 1850.7 C1532.9 1850.2 1532.8 1849.6 1532.8 1849.1 C1532.7 1848.5 1532.7 1848 1532.7 1847.5 C1532.7 1847 1532.7 1846.5 1532.8 1846 C1532.9 1845.6 1533 1845.1 1533.2 1844.7 C1533.4 1844.3 1533.6 1844 1533.8 1843.7" style="stroke-width:1.6;"/>
<path d="M1527.6 1836.8 L1533.7 1832.5"/>
<path d="M1533.7 1832.5 C1535.7 1831.8 1538 1830.4 1540.4 1830.1 C1542.7 1829.7 1546.8 1829.7 1549.2 1830.3 C1551.6 1830.9 1554.6 1832.4 1556.4 1834.1 C1558.2 1835.7 1560.4 1838.9 1561.3 1841.3 C1562.3 1843.6 1563.1 1847.3 1562.8 1849.8 C1562.5 1852.3 1561.2 1855.9 1559.3 1858 C1557.5 1860 1553.5 1862.4 1550.7 1863.8 C1548 1865.3 1544 1866.6 1541.1 1867.8"/>
<path d="M1541.6 1837.1 L1548.3 1829.9"/>
<path d="M1541.6 1837.1 L1551.2 1856.6"/>
<path d="M1551.2 1856.6 L1560.3 1857.6"/>
<path d="M1200.4 1974 C1201 1973.7 1201.6 1973.6 1202.2 1973.5 C1202.8 1973.5 1203.5 1973.5 1204.1 1973.6 C1204.8 1973.7 1205.5 1973.9 1206.2 1974.2 C1206.8 1974.5 1207.5 1974.8 1208.2 1975.2 C1208.9 1975.7 1209.6 1976.2 1210.2 1976.8 C1210.9 1977.3 1211.5 1978 1212.1 1978.7 C1212.7 1979.4 1213.3 1980.2 1213.9 1981 C1214.4 1981.8 1214.9 1982.6 1215.4 1983.5 C1215.9 1984.4 1216.3 1985.3 1216.7 1986.3 C1217.1 1987.2 1217.4 1988.2 1217.7 1989.1 C1218 1990.1 1218.2 1991.1 1218.4 1992.1 C1218.5 1993 1218.6 1994 1218.7 1994.9 C1218.7 1995.8 1218.7 1996.8 1218.6 1997.6 C1218.6 1998.5 1218.4 1999.3 1218.2 2000.1 C1218.1 2000.9 1217.8 2001.6 1217.5 2002.3 C1217.2 2003 1216.9 2003.6 1216.5 2004.1 C1216.1 2004.6 1215.6 2005.1 1215.1 2005.5 C1214.6 2005.9 1214.1 2006.2 1213.5 2006.4 C1213 2006.7 1212.4 2006.8 1211.7 2006.9 C1211.1 2006.9 1210.5 2006.9 1209.8 2006.8 C1209.1 2006.7 1208.5 2006.5 1207.8 2006.2 C1207.1 2005.9 1206.4 2005.6 1205.7 2005.2 C1205.1 2004.7 1204.4 2004.2 1203.7 2003.6 C1203.1 2003.1 1202.4 2002.4 1201.8 2001.7 C1201.2 2001 1200.6 2000.3 1200.1 1999.4 C1199.5 1998.6 1199 1997.8 1198.5 1996.9 C1198 1996 1197.6 1995.1 1197.2 1994.1 C1196.9 1993.2 1196.5 1992.2 1196.2 1991.3 C1196 1990.3 1195.7 1989.3 1195.6 1988.3 C1195.4 1987.4 1195.3 1986.4 1195.3 1985.5 C1195.2 1984.6 1195.2 1983.7 1195.3 1982.8 C1195.4 1981.9 1195.5 1981.1 1195.7 1980.3 C1195.9 1979.5 1196.1 1978.8 1196.4 1978.1 C1196.7 1977.5 1197.1 1976.8 1197.5 1976.3 C1197.9 1975.8 1198.3 1975.3 1198.8 1974.9 C1199.3 1974.5 1199.8 1974.2 1200.4 1974Z"/>
<path d="M1202.7 1980.9 C1203 1980.8 1203.4 1980.7 1203.7 1980.7 C1204.1 1980.6 1204.5 1980.7 1204.9 1980.7 C1205.2 1980.8 1205.6 1980.9 1206 1981.1 C1206.4 1981.2 1206.8 1981.4 1207.2 1981.7 C1207.6 1981.9 1208 1982.2 1208.4 1982.6 C1208.8 1982.9 1209.2 1983.3 1209.5 1983.7 C1209.9 1984.1 1210.2 1984.5 1210.5 1985 C1210.9 1985.5 1211.2 1986 1211.4 1986.5 C1211.7 1987 1212 1987.6 1212.2 1988.1 C1212.4 1988.6 1212.6 1989.2 1212.8 1989.8 C1212.9 1990.3 1213 1990.9 1213.1 1991.5 C1213.2 1992 1213.3 1992.6 1213.3 1993.1 C1213.4 1993.7 1213.3 1994.2 1213.3 1994.7 C1213.3 1995.2 1213.2 1995.7 1213.1 1996.2 C1213 1996.6 1212.8 1997 1212.7 1997.4 C1212.5 1997.8 1212.3 1998.2 1212 1998.5 C1211.8 1998.8 1211.5 1999.1 1211.3 1999.3 C1211 1999.5 1210.7 1999.7 1210.3 1999.8 C1210 2000 1209.6 2000.1 1209.3 2000.1 C1208.9 2000.1 1208.5 2000.1 1208.2 2000.1 C1207.8 2000 1207.4 1999.9 1207 1999.7 C1206.6 1999.6 1206.2 1999.4 1205.8 1999.1 C1205.4 1998.9 1205 1998.6 1204.6 1998.2 C1204.2 1997.9 1203.9 1997.5 1203.5 1997.1 C1203.1 1996.7 1202.8 1996.2 1202.5 1995.8 C1202.2 1995.3 1201.9 1994.8 1201.6 1994.3 C1201.3 1993.8 1201.1 1993.2 1200.8 1992.7 C1200.6 1992.1 1200.4 1991.6 1200.3 1991 C1200.1 1990.4 1200 1989.9 1199.9 1989.3 C1199.8 1988.8 1199.7 1988.2 1199.7 1987.6 C1199.7 1987.1 1199.7 1986.6 1199.7 1986.1 C1199.7 1985.6 1199.8 1985.1 1199.9 1984.6 C1200 1984.2 1200.2 1983.7 1200.4 1983.3 C1200.5 1983 1200.7 1982.6 1201 1982.3 C1201.2 1982 1201.5 1981.7 1201.8 1981.5 C1202 1981.2 1202.4 1981.1 1202.7 1980.9Z"/>
<path d="M1209.1 1980.9 C1209.5 1981.3 1209.9 1981.5 1210.4 1981.9 C1210.8 1982.3 1211.2 1982.7 1211.6 1983.2 C1212 1983.6 1212.3 1984.2 1212.7 1984.7 C1213 1985.2 1213.3 1985.8 1213.6 1986.4 C1213.9 1987 1214.1 1987.6 1214.3 1988.2 C1214.6 1988.8 1214.7 1989.4 1214.9 1990 C1215 1990.7 1215.1 1991.3 1215.1 1991.9 C1215.2 1992.5 1215.2 1993.1 1215.2 1993.7 C1215.2 1994.2 1215.1 1994.8 1215 1995.3 C1214.9 1995.8 1214.7 1996.2 1214.5 1996.7" style="stroke-width:1.8;"/>
<path d="M1202.8 1973.2 C1203.5 1972.9 1204.1 1972.5 1204.7 1972.3 C1205.4 1972.1 1206.1 1972 1206.9 1972 C1207.6 1972 1208.4 1972.2 1209.2 1972.4 C1209.9 1972.7 1210.7 1973.1 1211.5 1973.5 C1212.3 1974 1213.1 1974.5 1213.9 1975.2 C1214.6 1975.9 1215.4 1976.6 1216 1977.4 C1216.7 1978.3 1217.4 1979.2 1218 1980.1 C1218.6 1981.1 1219.2 1982.1 1219.7 1983.2 C1220.2 1984.2 1220.7 1985.3 1221 1986.4 C1221.4 1987.5 1221.7 1988.7 1221.9 1989.8 C1222.1 1990.9 1222.3 1992 1222.4 1993.1 C1222.4 1994.2 1222.4 1995.2 1222.3 1996.2 C1222.3 1997.2 1222.1 1998.2 1221.8 1999 C1221.6 1999.9 1221.3 2000.7 1220.9 2001.5 C1220.5 2002.2 1220.1 2002.8 1219.5 2003.4 C1219 2003.9 1218.4 2004.3 1217.8 2004.7 C1217.2 2005 1216.5 2005.1 1215.8 2005.3"/>
<path d="M1207.8 1972.3 C1208.4 1972.1 1209 1971.9 1209.7 1971.9 C1210.4 1971.8 1211.1 1971.9 1211.8 1972 C1212.4 1972.2 1213.2 1972.4 1213.9 1972.8 C1214.6 1973.1 1215.3 1973.6 1216 1974.1 C1216.7 1974.6 1217.4 1975.3 1218.1 1976 C1218.7 1976.6 1219.4 1977.4 1220 1978.2 C1220.6 1979 1221.1 1979.9 1221.6 1980.9 C1222.1 1981.8 1222.6 1982.7 1223 1983.7 C1223.4 1984.7 1223.7 1985.7 1224 1986.7 C1224.3 1987.8 1224.5 1988.8 1224.6 1989.8 C1224.8 1990.8 1224.9 1991.8 1224.9 1992.7 C1224.9 1993.7 1224.8 1994.6 1224.7 1995.5 C1224.5 1996.4 1224.3 1997.2 1224 1997.9 C1223.8 1998.7 1223.4 1999.4 1223 2000 C1222.6 2000.6 1222.2 2001.1 1221.7 2001.5 C1221.2 2001.9 1220.6 2002.2 1220 2002.5"/>
<path d="M1212 1972.6 C1212.6 1972.5 1213.2 1972.4 1213.8 1972.5 C1214.4 1972.5 1215 1972.6 1215.6 1972.8 C1216.3 1973.1 1216.9 1973.4 1217.6 1973.8 C1218.2 1974.2 1218.8 1974.6 1219.4 1975.2 C1220.1 1975.7 1220.7 1976.3 1221.2 1977 C1221.8 1977.7 1222.3 1978.4 1222.8 1979.2 C1223.3 1980 1223.8 1980.8 1224.2 1981.7 C1224.6 1982.6 1225 1983.5 1225.3 1984.4 C1225.6 1985.3 1225.8 1986.2 1226 1987.1 C1226.2 1988 1226.3 1988.9 1226.4 1989.8 C1226.4 1990.7 1226.4 1991.5 1226.4 1992.3 C1226.3 1993.2 1226.2 1993.9 1226 1994.7 C1225.8 1995.4 1225.6 1996.1 1225.3 1996.7 C1225 1997.3 1224.6 1997.8 1224.2 1998.3 C1223.8 1998.7 1223.3 1999 1222.8 1999.4"/>
<path d="M1200.4 1974 L1204.1 1972.5"/>
<path d="M1213.5 2006.4 L1217.2 2004.9"/>
<path d="M1131.2 1848.4 C1131.8 1848.1 1132.4 1848 1133 1847.9 C1133.6 1847.9 1134.3 1847.9 1134.9 1848 C1135.6 1848.1 1136.3 1848.3 1136.9 1848.6 C1137.6 1848.9 1138.3 1849.2 1139 1849.6 C1139.7 1850.1 1140.3 1850.6 1141 1851.2 C1141.6 1851.7 1142.3 1852.4 1142.9 1853.1 C1143.5 1853.8 1144.1 1854.5 1144.7 1855.4 C1145.2 1856.2 1145.7 1857 1146.2 1857.9 C1146.7 1858.8 1147.1 1859.7 1147.5 1860.7 C1147.9 1861.6 1148.2 1862.6 1148.5 1863.5 C1148.7 1864.5 1149 1865.5 1149.1 1866.4 C1149.3 1867.4 1149.4 1868.4 1149.5 1869.3 C1149.5 1870.2 1149.5 1871.1 1149.4 1872 C1149.3 1872.9 1149.2 1873.7 1149 1874.5 C1148.8 1875.3 1148.6 1876 1148.3 1876.7 C1148 1877.3 1147.6 1878 1147.2 1878.5 C1146.8 1879 1146.4 1879.5 1145.9 1879.9 C1145.4 1880.3 1144.9 1880.6 1144.3 1880.8 C1143.7 1881 1143.1 1881.2 1142.5 1881.3 C1141.9 1881.3 1141.2 1881.3 1140.6 1881.2 C1139.9 1881.1 1139.2 1880.9 1138.6 1880.6 C1137.9 1880.3 1137.2 1880 1136.5 1879.6 C1135.8 1879.1 1135.2 1878.6 1134.5 1878 C1133.8 1877.5 1133.2 1876.8 1132.6 1876.1 C1132 1875.4 1131.4 1874.6 1130.8 1873.8 C1130.3 1873 1129.8 1872.2 1129.3 1871.3 C1128.8 1870.4 1128.4 1869.5 1128 1868.5 C1127.6 1867.6 1127.3 1866.6 1127 1865.7 C1126.7 1864.7 1126.5 1863.7 1126.4 1862.7 C1126.2 1861.8 1126.1 1860.8 1126 1859.9 C1126 1859 1126 1858 1126.1 1857.2 C1126.1 1856.3 1126.3 1855.5 1126.5 1854.7 C1126.7 1853.9 1126.9 1853.2 1127.2 1852.5 C1127.5 1851.8 1127.9 1851.2 1128.3 1850.7 C1128.7 1850.2 1129.1 1849.7 1129.6 1849.3 C1130.1 1848.9 1130.6 1848.6 1131.2 1848.4Z"/>
<path d="M1133.5 1855.3 C1133.8 1855.2 1134.1 1855.1 1134.5 1855.1 C1134.9 1855 1135.2 1855.1 1135.6 1855.1 C1136 1855.2 1136.4 1855.3 1136.8 1855.4 C1137.2 1855.6 1137.6 1855.8 1138 1856.1 C1138.4 1856.3 1138.8 1856.6 1139.2 1856.9 C1139.6 1857.3 1139.9 1857.7 1140.3 1858.1 C1140.6 1858.5 1141 1858.9 1141.3 1859.4 C1141.6 1859.9 1141.9 1860.4 1142.2 1860.9 C1142.5 1861.4 1142.7 1861.9 1143 1862.5 C1143.2 1863 1143.4 1863.6 1143.5 1864.2 C1143.7 1864.7 1143.8 1865.3 1143.9 1865.9 C1144 1866.4 1144.1 1867 1144.1 1867.5 C1144.1 1868.1 1144.1 1868.6 1144.1 1869.1 C1144 1869.6 1144 1870.1 1143.9 1870.6 C1143.7 1871 1143.6 1871.4 1143.4 1871.8 C1143.3 1872.2 1143 1872.6 1142.8 1872.9 C1142.6 1873.2 1142.3 1873.5 1142 1873.7 C1141.7 1873.9 1141.4 1874.1 1141.1 1874.2 C1140.8 1874.4 1140.4 1874.5 1140.1 1874.5 C1139.7 1874.5 1139.3 1874.5 1138.9 1874.5 C1138.5 1874.4 1138.1 1874.3 1137.8 1874.1 C1137.4 1874 1137 1873.8 1136.6 1873.5 C1136.2 1873.3 1135.8 1873 1135.4 1872.6 C1135 1872.3 1134.6 1871.9 1134.3 1871.5 C1133.9 1871.1 1133.6 1870.6 1133.3 1870.2 C1132.9 1869.7 1132.6 1869.2 1132.4 1868.7 C1132.1 1868.2 1131.8 1867.6 1131.6 1867.1 C1131.4 1866.5 1131.2 1866 1131 1865.4 C1130.9 1864.8 1130.7 1864.3 1130.6 1863.7 C1130.5 1863.1 1130.5 1862.6 1130.5 1862 C1130.4 1861.5 1130.4 1861 1130.5 1860.5 C1130.5 1860 1130.6 1859.5 1130.7 1859 C1130.8 1858.6 1131 1858.1 1131.1 1857.7 C1131.3 1857.4 1131.5 1857 1131.8 1856.7 C1132 1856.4 1132.2 1856.1 1132.5 1855.9 C1132.8 1855.6 1133.1 1855.5 1133.5 1855.3Z"/>
<path d="M1139.9 1855.3 C1140.3 1855.6 1140.7 1855.9 1141.1 1856.3 C1141.6 1856.7 1142 1857.1 1142.4 1857.6 C1142.7 1858 1143.1 1858.5 1143.4 1859.1 C1143.8 1859.6 1144.1 1860.2 1144.4 1860.8 C1144.7 1861.3 1144.9 1862 1145.1 1862.6 C1145.3 1863.2 1145.5 1863.8 1145.6 1864.4 C1145.8 1865.1 1145.9 1865.7 1145.9 1866.3 C1146 1866.9 1146 1867.5 1146 1868.1 C1145.9 1868.6 1145.9 1869.2 1145.7 1869.7 C1145.6 1870.2 1145.4 1870.6 1145.3 1871.1" style="stroke-width:1.8;"/>
<path d="M1133.6 1847.6 C1134.2 1847.3 1134.8 1846.9 1135.5 1846.7 C1136.2 1846.5 1136.9 1846.4 1137.7 1846.4 C1138.4 1846.4 1139.2 1846.6 1139.9 1846.8 C1140.7 1847.1 1141.5 1847.4 1142.3 1847.9 C1143.1 1848.4 1143.9 1848.9 1144.6 1849.6 C1145.4 1850.2 1146.1 1851 1146.8 1851.8 C1147.5 1852.7 1148.2 1853.6 1148.8 1854.5 C1149.4 1855.5 1150 1856.5 1150.5 1857.6 C1151 1858.6 1151.4 1859.7 1151.8 1860.8 C1152.2 1861.9 1152.5 1863.1 1152.7 1864.2 C1152.9 1865.3 1153.1 1866.4 1153.1 1867.5 C1153.2 1868.5 1153.2 1869.6 1153.1 1870.6 C1153 1871.6 1152.9 1872.6 1152.6 1873.4 C1152.4 1874.3 1152.1 1875.1 1151.7 1875.8 C1151.3 1876.6 1150.8 1877.2 1150.3 1877.7 C1149.8 1878.3 1149.2 1878.7 1148.6 1879.1 C1148 1879.4 1147.3 1879.5 1146.6 1879.7"/>
<path d="M1138.6 1846.7 C1139.2 1846.5 1139.8 1846.3 1140.5 1846.2 C1141.1 1846.2 1141.8 1846.3 1142.5 1846.4 C1143.2 1846.6 1143.9 1846.8 1144.7 1847.2 C1145.4 1847.5 1146.1 1848 1146.8 1848.5 C1147.5 1849 1148.2 1849.7 1148.8 1850.3 C1149.5 1851 1150.1 1851.8 1150.7 1852.6 C1151.3 1853.4 1151.9 1854.3 1152.4 1855.2 C1152.9 1856.2 1153.4 1857.1 1153.8 1858.1 C1154.2 1859.1 1154.5 1860.1 1154.8 1861.1 C1155.1 1862.2 1155.3 1863.2 1155.4 1864.2 C1155.6 1865.2 1155.6 1866.2 1155.6 1867.1 C1155.6 1868.1 1155.6 1869 1155.4 1869.9 C1155.3 1870.7 1155.1 1871.6 1154.8 1872.3 C1154.5 1873.1 1154.2 1873.8 1153.8 1874.3 C1153.4 1874.9 1153 1875.5 1152.5 1875.9 C1152 1876.3 1151.4 1876.6 1150.8 1876.9"/>
<path d="M1142.8 1847 C1143.4 1846.9 1143.9 1846.8 1144.5 1846.8 C1145.1 1846.9 1145.8 1847 1146.4 1847.2 C1147 1847.5 1147.7 1847.8 1148.3 1848.2 C1149 1848.6 1149.6 1849 1150.2 1849.6 C1150.8 1850.1 1151.4 1850.7 1152 1851.4 C1152.6 1852.1 1153.1 1852.8 1153.6 1853.6 C1154.1 1854.4 1154.6 1855.2 1155 1856.1 C1155.4 1856.9 1155.7 1857.8 1156 1858.7 C1156.3 1859.6 1156.6 1860.6 1156.8 1861.5 C1157 1862.4 1157.1 1863.3 1157.2 1864.2 C1157.2 1865.1 1157.2 1865.9 1157.2 1866.7 C1157.1 1867.6 1157 1868.3 1156.8 1869.1 C1156.6 1869.8 1156.3 1870.5 1156 1871.1 C1155.7 1871.7 1155.4 1872.2 1155 1872.6 C1154.6 1873.1 1154.1 1873.4 1153.6 1873.8"/>
<path d="M1131.2 1848.4 L1134.9 1846.9"/>
<path d="M1144.3 1880.8 L1148 1879.3"/>
<path d="M1229.9 1979.9 L1248.4 1971.7" style="stroke-width:2;"/>
<path d="M1159.4 1854.7 L1245.9 1817.8" style="stroke-width:2;"/>
<path d="M1371.8 1920 L1426.5 1897.7" style="stroke-width:2;"/>
<path d="M1340 1780.6 L1364.4 1770.2" style="stroke-width:2;"/>
</g>
<g id="bracket">
<ellipse cx="1264.7" cy="1446.6" rx="13.3" ry="7.3"/>
<path d="M1251.4 1447 L1251.7 1453.3"/>
<path d="M1278 1447 L1277.9 1453.3"/>
<path d="M1251.7 1453.3 C1253.7 1454.8 1255.6 1456.9 1257.7 1457.9 C1259.8 1458.9 1262.1 1459.4 1264.4 1459.4 C1266.7 1459.4 1269.3 1458.9 1271.6 1457.9 C1273.8 1456.9 1275.8 1454.8 1277.9 1453.3"/>
<path d="M1258.6 1455.3 L1258.8 1458.8"/>
<path d="M1270.8 1455.3 L1270.8 1458.8"/>
<path d="M1249.9 1453.3 C1249 1455.7 1246.8 1458.4 1247.2 1460.5 C1247.5 1462.5 1249.3 1464.1 1252.2 1465.5 C1255 1466.9 1260.3 1468.8 1264.4 1468.8 C1268.4 1468.8 1273.7 1466.9 1276.6 1465.5 C1279.4 1464.1 1281.1 1462.5 1281.6 1460.5 C1282 1458.4 1280.1 1455.7 1279.3 1453.3"/>
<path d="M1249.1 1457.2 C1250.5 1458.5 1250.7 1460.1 1253.3 1461.3 C1255.8 1462.4 1260.7 1463.8 1264.4 1463.8 C1268.1 1463.8 1272.9 1462.4 1275.5 1461.3 C1278 1460.1 1278.4 1458.5 1279.9 1457.2" style="stroke-width:1.8;"/>
<path d="M1257.7 1468.8 L1257.7 1493.2"/>
<path d="M1271.6 1468.8 L1271.6 1493.2"/>
<path d="M1257.7 1473 C1259.9 1473.8 1262.1 1475.2 1264.4 1475.2 C1266.7 1475.2 1269.2 1473.8 1271.6 1473" style="stroke-width:1.8;"/>
<path d="M1257.7 1477.7 C1259.9 1478.4 1262.1 1479.9 1264.4 1479.9 C1266.7 1479.9 1269.2 1478.4 1271.6 1477.7" style="stroke-width:1.8;"/>
<path d="M1257.7 1482.3 C1259.9 1483.1 1262.1 1484.5 1264.4 1484.5 C1266.7 1484.5 1269.2 1483.1 1271.6 1482.3" style="stroke-width:1.8;"/>
<path d="M1257.7 1487 C1259.9 1487.7 1262.1 1489.2 1264.4 1489.2 C1266.7 1489.2 1269.2 1487.7 1271.6 1487" style="stroke-width:1.8;"/>
<path d="M1257.7 1491.2 C1259.9 1491.9 1262.1 1493.4 1264.4 1493.4 C1266.7 1493.4 1269.2 1491.9 1271.6 1491.2" style="stroke-width:1.8;"/>
<path d="M1257.7 1493.2 C1259.9 1494.2 1262.1 1496.3 1264.4 1496.3 C1266.7 1496.3 1269.2 1494.2 1271.6 1493.2"/>
<path d="M1264.4 1502.1 L1264.4 1545.3" style="stroke-width:2;"/>
<path d="M1264.4 1551.4 L1264.4 1556.6" style="stroke-width:2;"/>
<path d="M1264.4 1562.8 L1264.4 1586.4" style="stroke-width:2;"/>
<path d="M1286.5 1486.5 C1287.1 1485.8 1287.6 1484 1288.8 1483.8 C1289.9 1483.5 1292.8 1483.9 1295.4 1484.5 C1298.1 1485.2 1306.1 1487.8 1308.7 1489 C1311.4 1490.2 1313.6 1491.6 1315.4 1493.4 C1317.2 1495.2 1320.3 1499.9 1322 1502.3"/>
<path d="M1322 1502.3 L1336.5 1523.1 L1353.1 1553.1 L1366.4 1577.5 L1377.5 1596.3"/>
<path d="M1286.5 1486.5 L1291 1497.6 L1307.6 1526.5"/>
<path d="M1307.6 1526.5 C1307.9 1523.8 1308 1518.6 1308.7 1516.5 C1309.5 1514.4 1311.8 1511.8 1313.2 1510.9 C1314.5 1510.1 1317.4 1509.5 1318.7 1509.8 C1320 1510.2 1322 1512.4 1323.1 1513.4"/>
<path d="M1323.1 1513.4 L1333.1 1528.7 L1357.5 1568.6"/>
<path d="M1308.7 1520.4 C1309.6 1518.7 1310.2 1515.9 1311.5 1514.8 C1312.8 1513.7 1316.6 1512.7 1317.6 1513.2 C1318.6 1513.6 1318.7 1516.3 1318.2 1517.6 C1317.6 1518.9 1315 1520.7 1313.7 1522"/>
<path d="M1268.8 1563.1 C1270.6 1561.1 1273.7 1556.5 1277.7 1553.1 C1281.7 1549.6 1304.5 1531.9 1308.7 1528.7 C1312.9 1525.5 1318.3 1521.8 1319.8 1521.1 C1321.4 1520.5 1323.1 1520.8 1324.3 1521.8 C1325.4 1522.8 1329.6 1529.1 1330.9 1530.9"/>
<path d="M1330.9 1530.9 L1350.9 1565.3 L1356.2 1568.8 L1344.8 1592.5"/>
<path d="M1299.9 1542 C1300.7 1541.1 1302.3 1539.3 1304.3 1537.6 C1306.3 1535.8 1317.8 1525.7 1319.8 1524.3 C1321.8 1522.8 1323.6 1523 1324.3 1523.1 C1324.9 1523.3 1326 1524.9 1326.5 1525.4"/>
<path d="M1326.5 1525.4 L1344.2 1556.4 L1349.8 1565.5 L1322 1570.3"/>
<path d="M1322 1570.3 C1321.4 1569.8 1320.4 1569.7 1319.8 1568.6 C1319.2 1567.5 1318.6 1563.7 1317.6 1562 C1316.6 1560.2 1313.8 1556.8 1312.1 1555.3 C1310.3 1553.8 1305.9 1552.3 1304.3 1550.9 C1302.7 1549.4 1300.4 1545.4 1299.9 1544.2 C1299.3 1543 1299.9 1542.6 1299.9 1542"/>
<path d="M1249.4 1590.8 C1249.9 1588.6 1249.5 1586 1251.1 1584.1 C1252.6 1582.3 1256.2 1581.2 1258.8 1579.7"/>
<path d="M1268.8 1577.7 L1297.6 1561.1"/>
<path d="M1249.4 1590.8 C1249.5 1591.8 1249.4 1593.8 1249.9 1594.7 C1250.5 1595.6 1251.3 1596.8 1253.3 1597.4 C1255.2 1598.1 1261.1 1599.5 1264.4 1599.7 C1267.6 1599.8 1274.1 1599 1277.7 1598.8"/>
<path d="M1277.7 1598.8 L1344.2 1592.8"/>
<path d="M1344.2 1592.8 C1344.9 1593.7 1346.8 1597.1 1347.5 1597.4 C1348.3 1597.8 1351 1597.3 1352 1596.3 C1353 1595.4 1355.2 1587.6 1357.5 1587.7 C1359.9 1587.8 1373.3 1596.8 1375.3 1597.7 C1377.3 1598.5 1377 1596.6 1377.5 1596.3"/>
<ellipse cx="1264.4" cy="1589.7" rx="8" ry="4"/>
<ellipse cx="1264.4" cy="1590.5" rx="5.5" ry="2.4"/>
<path d="M1277.7 1596.3 C1278.9 1593.4 1280.6 1587.5 1282.1 1585.2 C1283.6 1583 1286.7 1580.9 1288.8 1579.7 C1290.8 1578.5 1295.3 1577.3 1297.6 1576.4"/>
<path d="M1297.6 1576.4 L1357.5 1568.8"/>
<path d="M1279.9 1597.4 C1281.4 1594.2 1282.5 1590.2 1284.3 1587.7 C1286.2 1585.1 1288.8 1584 1291 1582.1" style="stroke-width:1.8;"/>
<path d="M1296.5 1544.2 L1297.6 1558.6"/>
<path d="M1268.8 1557.5 L1268.8 1577.5"/>
<path d="M1269.4 1567.5 C1270.3 1565.7 1270.7 1563.9 1272.1 1562 C1273.5 1560 1275.8 1557.9 1277.7 1555.9" style="stroke-width:1.8;"/>
<path d="M1297.6 1550.9 C1300 1552.3 1304.3 1554.8 1306.5 1556.4 C1308.7 1558 1313.5 1561.3 1314.3 1563.1 C1315 1564.8 1314.6 1568.5 1312.3 1569.7 C1309.9 1570.9 1300.7 1571.5 1296.5 1572.2"/>
<ellipse cx="1302.6" cy="1572.2" rx="6.9" ry="2.7" transform="rotate(-8 1302.6 1572.2)"/>
<path d="M1312.1 1551.4 C1313.1 1550.9 1315.5 1549.4 1316.5 1549.2 C1317.5 1549 1318.7 1547.8 1320.4 1550 C1322.1 1552.1 1328.4 1563.4 1330.9 1567.5"/>
<path d="M1317.6 1546.4 L1323.7 1523.4"/>
<ellipse cx="1337.6" cy="1559.2" rx="6.9" ry="5.3" transform="rotate(-60 1337.6 1559.2)"/>
<ellipse cx="1336.7" cy="1559.5" rx="4.4" ry="3.3" transform="rotate(-60 1336.7 1559.5)"/>
<path d="M1339.9 1552.1 C1340.3 1552.1 1340.7 1552.1 1341.1 1552.1 C1341.4 1552.2 1341.8 1552.3 1342.1 1552.4 C1342.5 1552.6 1342.8 1552.7 1343.1 1553 C1343.4 1553.2 1343.7 1553.5 1343.9 1553.8 C1344.1 1554.1 1344.3 1554.4 1344.5 1554.7 C1344.6 1555.1 1344.8 1555.5 1344.8 1555.9 C1344.9 1556.3 1345 1556.8 1345 1557.2 C1345 1557.6 1344.9 1558.1 1344.9 1558.5 C1344.8 1559 1344.7 1559.4 1344.5 1559.9 C1344.3 1560.3 1344.1 1560.8 1343.9 1561.2 C1343.7 1561.6 1343.4 1562 1343.1 1562.3 C1342.8 1562.7 1342.5 1563.1 1342.2 1563.4 C1341.8 1563.7 1341.5 1564 1341.1 1564.2 C1340.7 1564.4 1340.3 1564.6 1339.9 1564.8 C1339.5 1564.9 1339.1 1565 1338.7 1565.1 C1338.3 1565.2 1338 1565.1 1337.6 1565.1" style="stroke-width:1.8;"/>
<path d="M1264.3 1607.4 L1264.3 1722 M1264.3 1727.5 L1264.3 1734 M1264.3 1741.4 L1264.3 1791" style="stroke-width:2;stroke-linecap:butt;"/>
</g>
<g id="bolts">
<path d="M802.6 1993.2 C803.1 1993 803.6 1992.8 804.1 1992.8 C804.6 1992.7 805.2 1992.7 805.8 1992.8 C806.3 1992.9 806.9 1993 807.5 1993.2 C808.1 1993.5 808.7 1993.8 809.3 1994.1 C809.9 1994.5 810.5 1994.9 811 1995.4 C811.6 1995.9 812.2 1996.4 812.7 1997 C813.2 1997.6 813.8 1998.2 814.2 1998.9 C814.7 1999.6 815.2 2000.3 815.6 2001.1 C816 2001.8 816.4 2002.6 816.8 2003.4 C817.1 2004.2 817.4 2005 817.7 2005.9 C817.9 2006.7 818.1 2007.5 818.3 2008.3 C818.4 2009.2 818.5 2010 818.6 2010.8 C818.7 2011.6 818.7 2012.4 818.6 2013.1 C818.6 2013.8 818.5 2014.6 818.3 2015.2 C818.2 2015.9 818 2016.5 817.7 2017.1 C817.5 2017.7 817.2 2018.2 816.9 2018.7 C816.5 2019.2 816.2 2019.6 815.7 2019.9 C815.3 2020.3 814.9 2020.5 814.4 2020.7 C813.9 2020.9 813.4 2021.1 812.9 2021.1 C812.3 2021.2 811.8 2021.2 811.2 2021.1 C810.6 2021 810.1 2020.9 809.5 2020.7 C808.9 2020.4 808.3 2020.1 807.7 2019.8 C807.1 2019.4 806.5 2019 805.9 2018.5 C805.4 2018 804.8 2017.5 804.3 2016.9 C803.7 2016.3 803.2 2015.7 802.7 2015 C802.2 2014.3 801.8 2013.6 801.4 2012.8 C800.9 2012.1 800.6 2011.3 800.2 2010.5 C799.9 2009.7 799.6 2008.9 799.3 2008 C799.1 2007.2 798.8 2006.4 798.7 2005.6 C798.5 2004.7 798.4 2003.9 798.4 2003.1 C798.3 2002.3 798.3 2001.5 798.3 2000.8 C798.4 2000.1 798.5 1999.3 798.6 1998.7 C798.8 1998 799 1997.4 799.2 1996.8 C799.5 1996.2 799.8 1995.7 800.1 1995.2 C800.4 1994.7 800.8 1994.3 801.2 1994 C801.6 1993.6 802.1 1993.4 802.6 1993.2Z"/>
<path d="M801.9 1993.5 L811.8 1988.7"/>
<path d="M813.6 2021 L823.9 2017.1"/>
<path d="M812.9 2001.7 L823.3 1996.9" style="stroke-width:1.8;"/>
<path d="M816.8 2009.4 L827.6 2005.3" style="stroke-width:1.8;"/>
<path d="M807.8 1989.3 C808.2 1988.6 808.6 1987.7 809.1 1987 C809.6 1986.4 810.2 1985.8 810.9 1985.4 C811.5 1984.9 812.3 1984.6 813 1984.4 C813.8 1984.2 814.6 1984.2 815.4 1984.2 C816.2 1984.3 817.1 1984.4 818 1984.8 C818.9 1985.1 819.8 1985.5 820.6 1986 C821.5 1986.6 822.4 1987.2 823.2 1988 C824.1 1988.7 824.9 1989.6 825.7 1990.5 C826.4 1991.5 827.2 1992.5 827.8 1993.6 C828.5 1994.6 829.1 1995.8 829.7 1997 C830.2 1998.1 830.7 1999.4 831.1 2000.6 C831.4 2001.8 831.8 2003.1 832 2004.3 C832.2 2005.5 832.3 2006.7 832.4 2007.9 C832.4 2009.1 832.4 2010.2 832.2 2011.3 C832.1 2012.3 831.9 2013.3 831.6 2014.2 C831.2 2015.2 830.8 2016 830.4 2016.7 C829.9 2017.5 829.4 2018.1 828.7 2018.6 C828.1 2019.1 827.4 2019.5 826.7 2019.8 C826 2020.1 825.2 2020.2 824.4 2020.3 C823.6 2020.3 822.7 2020 821.9 2019.9"/>
<path d="M812.3 1985.3 C812.9 1984.8 813.5 1984.2 814.2 1983.9 C814.9 1983.5 815.6 1983.2 816.4 1983.1 C817.2 1983 818 1983 818.8 1983.1 C819.7 1983.2 820.5 1983.5 821.4 1983.8 C822.3 1984.2 823.2 1984.7 824 1985.3 C824.9 1985.8 825.7 1986.6 826.6 1987.3 C827.4 1988.1 828.2 1989 828.9 1990 C829.7 1991 830.4 1992 831 1993.1 C831.7 1994.2 832.2 1995.4 832.7 1996.6 C833.3 1997.7 833.7 1999 834 2000.2 C834.4 2001.4 834.7 2002.6 834.9 2003.8 C835 2005 835.1 2006.2 835.1 2007.4 C835.2 2008.5 835.1 2009.6 834.9 2010.7 C834.7 2011.7 834.5 2012.7 834.1 2013.5 C833.8 2014.4 833.4 2015.2 832.9 2015.9 C832.4 2016.6 831.8 2017.2 831.2 2017.7 C830.6 2018.1 829.9 2018.5 829.1 2018.7 C828.4 2019 827.6 2019 826.8 2019.1"/>
<path d="M808.4 1989.1 C808.9 1988.6 809.3 1987.9 809.9 1987.5 C810.5 1987.1 811.1 1986.7 811.8 1986.5 C812.5 1986.3 813.2 1986.2 813.9 1986.2 C814.7 1986.2 815.5 1986.3 816.2 1986.6 C817 1986.8 817.8 1987.1 818.6 1987.6 C819.4 1988 820.2 1988.6 821 1989.2 C821.8 1989.9 822.5 1990.6 823.2 1991.4 C824 1992.2 824.7 1993.1 825.3 1994.1 C825.9 1995 826.5 1996 827 1997.1 C827.6 1998.1 828 1999.2 828.4 2000.3 C828.8 2001.4 829.2 2002.6 829.4 2003.7 C829.7 2004.8 829.8 2005.9 829.9 2007 C830 2008.1 830 2009.1 830 2010.1 C829.9 2011.1 829.7 2012.1 829.5 2013 C829.3 2013.8 829 2014.7 828.6 2015.4 C828.2 2016.1 827.8 2016.8 827.3 2017.3 C826.8 2017.9 826.2 2018.3 825.6 2018.6 C824.9 2019 824.2 2019.2 823.5 2019.3 C822.8 2019.4 822.1 2019.3 821.3 2019.3" style="stroke-width:1.8;"/>
<path d="M821.4 1993.9 L928.9 1947.8"/>
<path d="M826.8 2006.6 L934.4 1960.5"/>
<path d="M908.7 1956.5 C909 1956.4 909.2 1956.3 909.5 1956.3 C909.8 1956.3 910.1 1956.3 910.4 1956.3 C910.7 1956.4 911 1956.5 911.3 1956.6 C911.6 1956.8 911.9 1957 912.2 1957.2 C912.5 1957.4 912.8 1957.7 913.1 1957.9 C913.4 1958.2 913.6 1958.6 913.9 1958.9 C914.2 1959.2 914.4 1959.6 914.6 1960 C914.9 1960.4 915.1 1960.8 915.2 1961.2 C915.4 1961.6 915.6 1962 915.7 1962.5 C915.8 1962.9 915.9 1963.3 916 1963.7 C916.1 1964.2 916.1 1964.6 916.1 1965 C916.1 1965.4 916.1 1965.8 916 1966.2 C916 1966.5 915.9 1966.9 915.8 1967.2 C915.7 1967.5 915.6 1967.8 915.4 1968.1 C915.2 1968.3 915 1968.5 914.8 1968.7 C914.6 1968.9 914.4 1969 914.1 1969.2" style="stroke-width:1.8;"/>
<path d="M914.2 1954.1 C914.5 1954.1 914.7 1954 915 1953.9 C915.3 1953.9 915.6 1953.9 915.9 1954 C916.2 1954 916.5 1954.1 916.8 1954.3 C917.1 1954.4 917.4 1954.6 917.7 1954.8 C918 1955 918.3 1955.3 918.6 1955.6 C918.9 1955.9 919.2 1956.2 919.4 1956.5 C919.7 1956.9 919.9 1957.2 920.1 1957.6 C920.4 1958 920.6 1958.4 920.7 1958.8 C920.9 1959.2 921.1 1959.7 921.2 1960.1 C921.3 1960.5 921.4 1961 921.5 1961.4 C921.6 1961.8 921.6 1962.2 921.6 1962.6 C921.6 1963 921.6 1963.4 921.6 1963.8 C921.5 1964.2 921.4 1964.5 921.3 1964.8 C921.2 1965.1 921.1 1965.4 920.9 1965.7 C920.7 1966 920.6 1966.2 920.4 1966.4 C920.1 1966.6 919.9 1966.7 919.7 1966.8" style="stroke-width:1.8;"/>
<path d="M919.7 1951.8 C920 1951.7 920.3 1951.6 920.5 1951.6 C920.8 1951.5 921.1 1951.6 921.4 1951.6 C921.7 1951.7 922 1951.8 922.3 1951.9 C922.6 1952.1 922.9 1952.2 923.2 1952.5 C923.5 1952.7 923.8 1952.9 924.1 1953.2 C924.4 1953.5 924.7 1953.8 924.9 1954.2 C925.2 1954.5 925.4 1954.9 925.7 1955.3 C925.9 1955.6 926.1 1956.1 926.3 1956.5 C926.4 1956.9 926.6 1957.3 926.7 1957.7 C926.8 1958.2 926.9 1958.6 927 1959 C927.1 1959.4 927.1 1959.9 927.1 1960.3 C927.1 1960.7 927.1 1961.1 927.1 1961.4 C927 1961.8 926.9 1962.2 926.8 1962.5 C926.7 1962.8 926.6 1963.1 926.4 1963.3 C926.3 1963.6 926.1 1963.8 925.9 1964 C925.7 1964.2 925.4 1964.3 925.2 1964.4" style="stroke-width:1.8;"/>
<path d="M925.3 1949.4 C925.5 1949.3 925.8 1949.2 926 1949.2 C926.3 1949.2 926.6 1949.2 926.9 1949.3 C927.2 1949.3 927.5 1949.4 927.8 1949.6 C928.1 1949.7 928.4 1949.9 928.7 1950.1 C929 1950.3 929.3 1950.6 929.6 1950.9 C929.9 1951.1 930.2 1951.5 930.4 1951.8 C930.7 1952.1 931 1952.5 931.2 1952.9 C931.4 1953.3 931.6 1953.7 931.8 1954.1 C932 1954.5 932.1 1955 932.2 1955.4 C932.4 1955.8 932.5 1956.2 932.5 1956.7 C932.6 1957.1 932.6 1957.5 932.6 1957.9 C932.7 1958.3 932.6 1958.7 932.6 1959.1 C932.5 1959.4 932.5 1959.8 932.3 1960.1 C932.2 1960.4 932.1 1960.7 931.9 1961 C931.8 1961.2 931.6 1961.5 931.4 1961.6 C931.2 1961.8 930.9 1961.9 930.7 1962.1" style="stroke-width:1.8;"/>
<path d="M928.9 1947.8 C930.6 1947.4 932.1 1946.2 934 1946.7 C935.8 1947.1 939.3 1948.7 940 1950.6 C940.8 1952.4 939.6 1956 938.7 1957.7 C937.7 1959.3 935.8 1959.6 934.4 1960.5"/>
<path d="M955.5 1931.6 C955.9 1931.4 956.3 1931.3 956.7 1931.3 C957.1 1931.2 957.5 1931.2 957.9 1931.3 C958.4 1931.4 958.8 1931.5 959.3 1931.7 C959.7 1931.8 960.2 1932.1 960.7 1932.3 C961.1 1932.6 961.6 1932.9 962 1933.3 C962.5 1933.7 962.9 1934.1 963.3 1934.5 C963.7 1935 964.1 1935.5 964.5 1936 C964.9 1936.6 965.2 1937.1 965.6 1937.7 C965.9 1938.3 966.2 1938.9 966.5 1939.5 C966.7 1940.1 967 1940.8 967.1 1941.4 C967.3 1942 967.5 1942.7 967.6 1943.3 C967.8 1944 967.8 1944.6 967.9 1945.2 C967.9 1945.8 967.9 1946.4 967.9 1947 C967.9 1947.6 967.8 1948.1 967.7 1948.7 C967.6 1949.2 967.4 1949.7 967.2 1950.1 C967 1950.6 966.8 1951 966.5 1951.3 C966.3 1951.7 966 1952 965.7 1952.3 C965.3 1952.5 965 1952.8 964.6 1952.9 C964.3 1953.1 963.9 1953.2 963.4 1953.2 C963 1953.3 962.6 1953.3 962.2 1953.2 C961.7 1953.1 961.3 1953 960.8 1952.9 C960.4 1952.7 959.9 1952.5 959.4 1952.2 C959 1951.9 958.5 1951.6 958.1 1951.2 C957.7 1950.8 957.2 1950.4 956.8 1950 C956.4 1949.5 956 1949 955.6 1948.5 C955.2 1948 954.9 1947.4 954.5 1946.8 C954.2 1946.2 953.9 1945.6 953.7 1945 C953.4 1944.4 953.2 1943.7 953 1943.1 C952.8 1942.5 952.6 1941.8 952.5 1941.2 C952.4 1940.6 952.3 1939.9 952.2 1939.3 C952.2 1938.7 952.2 1938.1 952.2 1937.5 C952.3 1936.9 952.3 1936.4 952.4 1935.8 C952.6 1935.3 952.7 1934.8 952.9 1934.4 C953.1 1933.9 953.3 1933.5 953.6 1933.2 C953.8 1932.8 954.1 1932.5 954.4 1932.2 C954.8 1932 955.1 1931.8 955.5 1931.6Z"/>
<path d="M958.1 1937.7 C958.2 1937.6 958.4 1937.5 958.6 1937.5 C958.8 1937.5 959 1937.5 959.1 1937.5 C959.3 1937.6 959.5 1937.6 959.7 1937.7 C959.9 1937.8 960.1 1937.9 960.3 1938 C960.5 1938.1 960.7 1938.2 960.9 1938.4 C961.1 1938.6 961.3 1938.7 961.5 1938.9 C961.6 1939.1 961.8 1939.3 962 1939.6 C962.1 1939.8 962.3 1940 962.4 1940.3 C962.6 1940.5 962.7 1940.8 962.8 1941.1 C962.9 1941.3 963 1941.6 963.1 1941.9 C963.2 1942.2 963.3 1942.4 963.3 1942.7 C963.4 1943 963.4 1943.3 963.4 1943.5 C963.4 1943.8 963.4 1944.1 963.4 1944.3 C963.4 1944.6 963.4 1944.8 963.3 1945 C963.3 1945.2 963.2 1945.5 963.1 1945.6 C963.1 1945.8 963 1946 962.8 1946.2 C962.7 1946.3 962.6 1946.5 962.5 1946.6 C962.3 1946.7 962.2 1946.8 962 1946.9 C961.9 1946.9 961.7 1947 961.5 1947 C961.3 1947 961.2 1947 961 1947 C960.8 1947 960.6 1946.9 960.4 1946.8 C960.2 1946.8 960 1946.7 959.8 1946.5 C959.6 1946.4 959.4 1946.3 959.2 1946.1 C959 1946 958.8 1945.8 958.7 1945.6 C958.5 1945.4 958.3 1945.2 958.1 1944.9 C958 1944.7 957.8 1944.5 957.7 1944.2 C957.5 1944 957.4 1943.7 957.3 1943.4 C957.2 1943.2 957.1 1942.9 957 1942.6 C956.9 1942.3 956.8 1942.1 956.8 1941.8 C956.7 1941.5 956.7 1941.2 956.7 1941 C956.7 1940.7 956.7 1940.5 956.7 1940.2 C956.7 1940 956.7 1939.7 956.8 1939.5 C956.8 1939.3 956.9 1939.1 957 1938.9 C957.1 1938.7 957.2 1938.5 957.3 1938.3 C957.4 1938.2 957.5 1938 957.6 1937.9 C957.8 1937.8 957.9 1937.7 958.1 1937.7Z"/>
<path d="M955.5 1931.6 L1018.9 1904.4"/>
<path d="M964.6 1952.9 L1028 1925.7"/>
<path d="M1018.9 1904.4 C1020.9 1904 1022.6 1902.9 1024.8 1903.1 C1026.9 1903.2 1029.9 1904.1 1031.8 1905.2 C1033.6 1906.3 1035.1 1908 1035.8 1909.8 C1036.6 1911.5 1036.8 1913.8 1036.4 1915.9 C1035.9 1918 1034.5 1920.8 1033.1 1922.4 C1031.7 1924 1029.7 1924.6 1028 1925.7"/>
<path d="M1046.5 1878.4 C1047.3 1878.1 1048.1 1877.9 1048.9 1877.8 C1049.7 1877.7 1050.6 1877.7 1051.5 1877.8 C1052.3 1878 1053.3 1878.2 1054.2 1878.5 C1055.1 1878.9 1056 1879.3 1056.9 1879.9 C1057.8 1880.4 1058.7 1881.1 1059.6 1881.8 C1060.5 1882.6 1061.4 1883.4 1062.2 1884.3 C1063 1885.2 1063.8 1886.2 1064.6 1887.3 C1065.3 1888.3 1066 1889.5 1066.7 1890.6 C1067.3 1891.8 1067.9 1893 1068.5 1894.3 C1069 1895.5 1069.5 1896.8 1069.9 1898 C1070.3 1899.3 1070.6 1900.6 1070.8 1901.9 C1071.1 1903.1 1071.2 1904.4 1071.3 1905.7 C1071.4 1906.9 1071.4 1908.1 1071.3 1909.2 C1071.3 1910.4 1071.1 1911.5 1070.9 1912.6 C1070.7 1913.6 1070.4 1914.6 1070 1915.5 C1069.6 1916.4 1069.2 1917.2 1068.6 1917.9 C1068.1 1918.6 1067.5 1919.3 1066.9 1919.8 C1066.3 1920.3 1065.6 1920.7 1064.8 1921.1 C1064.1 1921.4 1063.3 1921.6 1062.5 1921.7 C1061.6 1921.8 1060.8 1921.8 1059.9 1921.7 C1059 1921.5 1058.1 1921.3 1057.2 1921 C1056.3 1920.6 1055.4 1920.2 1054.5 1919.6 C1053.5 1919.1 1052.6 1918.4 1051.7 1917.6 C1050.9 1916.9 1050 1916.1 1049.2 1915.2 C1048.3 1914.2 1047.5 1913.2 1046.8 1912.2 C1046 1911.1 1045.3 1910 1044.7 1908.8 C1044 1907.7 1043.4 1906.5 1042.9 1905.2 C1042.4 1904 1041.9 1902.7 1041.5 1901.4 C1041.1 1900.2 1040.8 1898.9 1040.5 1897.6 C1040.3 1896.3 1040.1 1895.1 1040 1893.8 C1039.9 1892.6 1039.9 1891.4 1040 1890.2 C1040.1 1889.1 1040.2 1888 1040.4 1886.9 C1040.7 1885.9 1041 1884.9 1041.4 1884 C1041.7 1883.1 1042.2 1882.3 1042.7 1881.6 C1043.2 1880.9 1043.8 1880.2 1044.5 1879.7 C1045.1 1879.2 1045.8 1878.7 1046.5 1878.4Z"/>
<path d="M1050.5 1890.3 C1050.9 1890.2 1051.2 1890.1 1051.6 1890 C1052 1890 1052.4 1890 1052.8 1890 C1053.2 1890.1 1053.6 1890.2 1054.1 1890.4 C1054.5 1890.5 1054.9 1890.7 1055.3 1891 C1055.7 1891.2 1056.2 1891.5 1056.6 1891.9 C1057 1892.2 1057.4 1892.6 1057.8 1893 C1058.1 1893.4 1058.5 1893.9 1058.9 1894.4 C1059.2 1894.9 1059.5 1895.4 1059.8 1895.9 C1060.1 1896.5 1060.4 1897 1060.7 1897.6 C1060.9 1898.2 1061.1 1898.8 1061.3 1899.4 C1061.5 1899.9 1061.6 1900.5 1061.7 1901.1 C1061.9 1901.7 1061.9 1902.3 1062 1902.9 C1062 1903.4 1062 1904 1062 1904.5 C1062 1905 1061.9 1905.6 1061.8 1906 C1061.7 1906.5 1061.5 1907 1061.4 1907.4 C1061.2 1907.8 1061 1908.2 1060.7 1908.5 C1060.5 1908.8 1060.2 1909.1 1059.9 1909.4 C1059.6 1909.6 1059.3 1909.8 1059 1910 C1058.6 1910.1 1058.3 1910.2 1057.9 1910.3 C1057.5 1910.3 1057.1 1910.3 1056.7 1910.2 C1056.3 1910.2 1055.9 1910.1 1055.5 1909.9 C1055 1909.8 1054.6 1909.5 1054.2 1909.3 C1053.8 1909 1053.4 1908.7 1052.9 1908.4 C1052.5 1908.1 1052.1 1907.7 1051.8 1907.2 C1051.4 1906.8 1051 1906.4 1050.7 1905.9 C1050.3 1905.4 1050 1904.9 1049.7 1904.3 C1049.4 1903.8 1049.1 1903.2 1048.9 1902.7 C1048.6 1902.1 1048.4 1901.5 1048.2 1900.9 C1048 1900.3 1047.9 1899.7 1047.8 1899.1 C1047.7 1898.6 1047.6 1898 1047.5 1897.4 C1047.5 1896.8 1047.5 1896.3 1047.5 1895.8 C1047.6 1895.2 1047.6 1894.7 1047.7 1894.2 C1047.8 1893.7 1048 1893.3 1048.2 1892.9 C1048.3 1892.5 1048.5 1892.1 1048.8 1891.8 C1049 1891.4 1049.3 1891.1 1049.6 1890.9 C1049.9 1890.6 1050.2 1890.4 1050.5 1890.3Z"/>
<path d="M1057.3 1889 C1057.8 1889.2 1058.3 1889.4 1058.8 1889.7 C1059.3 1890.1 1059.8 1890.5 1060.2 1890.9 C1060.7 1891.3 1061.2 1891.8 1061.6 1892.4 C1062 1892.9 1062.4 1893.5 1062.8 1894.1 C1063.2 1894.7 1063.5 1895.4 1063.8 1896.1 C1064.1 1896.7 1064.4 1897.4 1064.6 1898.1 C1064.8 1898.8 1064.9 1899.5 1065 1900.2 C1065.2 1900.9 1065.2 1901.6 1065.2 1902.3 C1065.2 1902.9 1065.2 1903.5 1065.1 1904.1 C1065 1904.7 1064.9 1905.3 1064.7 1905.8 C1064.5 1906.3 1064.2 1906.7 1064 1907.1" style="stroke-width:1.8;"/>
<path d="M1047.8 1878.4 C1048.5 1877.9 1049.2 1877.3 1050.1 1876.9 C1050.9 1876.5 1051.8 1876.3 1052.7 1876.2 C1053.7 1876.1 1054.7 1876.1 1055.7 1876.3 C1056.7 1876.5 1057.7 1876.9 1058.7 1877.3 C1059.8 1877.8 1060.8 1878.4 1061.8 1879.1 C1062.9 1879.9 1063.9 1880.7 1064.8 1881.7 C1065.8 1882.7 1066.8 1883.7 1067.6 1884.9 C1068.5 1886 1069.3 1887.3 1070.1 1888.6 C1070.9 1889.9 1071.5 1891.3 1072.1 1892.7 C1072.7 1894.1 1073.3 1895.5 1073.7 1897 C1074.1 1898.4 1074.4 1899.9 1074.7 1901.3 C1074.9 1902.8 1075 1904.2 1075.1 1905.5 C1075.1 1906.9 1075 1908.2 1074.8 1909.5 C1074.7 1910.7 1074.4 1911.9 1074 1913 C1073.6 1914 1073.2 1915 1072.6 1915.9 C1072.1 1916.7 1071.4 1917.5 1070.7 1918.1 C1070 1918.7 1069.2 1919.2 1068.3 1919.6 C1067.5 1919.9 1066.5 1920 1065.6 1920.2"/>
<path d="M1053.6 1876.3 C1054.4 1875.9 1055.3 1875.4 1056.2 1875.2 C1057.1 1875 1058.1 1875 1059.1 1875.1 C1060.1 1875.2 1061.1 1875.5 1062.2 1875.9 C1063.2 1876.3 1064.3 1876.9 1065.3 1877.6 C1066.4 1878.2 1067.4 1879.1 1068.4 1880 C1069.4 1881 1070.4 1882 1071.3 1883.2 C1072.2 1884.3 1073 1885.6 1073.8 1886.9 C1074.6 1888.2 1075.3 1889.7 1075.9 1891.1 C1076.5 1892.5 1077 1894 1077.5 1895.4 C1077.9 1896.9 1078.2 1898.4 1078.4 1899.9 C1078.6 1901.3 1078.7 1902.8 1078.7 1904.1 C1078.7 1905.5 1078.6 1906.8 1078.4 1908 C1078.2 1909.3 1077.9 1910.4 1077.4 1911.5 C1077 1912.5 1076.5 1913.5 1075.9 1914.3 C1075.3 1915.1 1074.5 1915.8 1073.8 1916.3 C1073 1916.8 1072.1 1917.1 1071.2 1917.5"/>
<path d="M1059.5 1875.8 C1060.3 1875.6 1061.1 1875.3 1061.9 1875.2 C1062.7 1875.1 1063.6 1875.2 1064.5 1875.4 C1065.4 1875.5 1066.3 1875.8 1067.2 1876.3 C1068.1 1876.7 1069 1877.2 1069.9 1877.9 C1070.8 1878.5 1071.7 1879.3 1072.5 1880.1 C1073.4 1881 1074.2 1881.9 1075 1882.9 C1075.7 1883.9 1076.5 1885.1 1077.1 1886.2 C1077.8 1887.3 1078.4 1888.5 1078.9 1889.8 C1079.5 1891 1079.9 1892.3 1080.3 1893.5 C1080.7 1894.8 1081 1896.1 1081.2 1897.4 C1081.4 1898.6 1081.5 1899.9 1081.5 1901.1 C1081.5 1902.3 1081.5 1903.4 1081.3 1904.5 C1081.2 1905.6 1080.9 1906.7 1080.6 1907.6 C1080.3 1908.5 1079.9 1909.4 1079.4 1910.2 C1078.9 1910.9 1078.4 1911.6 1077.7 1912.2 C1077.1 1912.7 1076.4 1913 1075.7 1913.5"/>
<path d="M1046.5 1878.4 L1050.2 1876.8"/>
<path d="M1064.8 1921.1 L1068.5 1919.5"/>
<path d="M858.6 2123.2 C859.1 2123 859.6 2122.8 860.1 2122.8 C860.6 2122.7 861.2 2122.7 861.8 2122.8 C862.3 2122.9 862.9 2123 863.5 2123.2 C864.1 2123.5 864.7 2123.8 865.3 2124.1 C865.9 2124.5 866.5 2124.9 867 2125.4 C867.6 2125.9 868.2 2126.4 868.7 2127 C869.2 2127.6 869.8 2128.2 870.2 2128.9 C870.7 2129.6 871.2 2130.3 871.6 2131.1 C872 2131.8 872.4 2132.6 872.8 2133.4 C873.1 2134.2 873.4 2135 873.7 2135.9 C873.9 2136.7 874.1 2137.5 874.3 2138.3 C874.4 2139.2 874.5 2140 874.6 2140.8 C874.7 2141.6 874.7 2142.4 874.6 2143.1 C874.6 2143.8 874.5 2144.6 874.3 2145.2 C874.2 2145.9 874 2146.5 873.7 2147.1 C873.5 2147.7 873.2 2148.2 872.9 2148.7 C872.5 2149.2 872.2 2149.6 871.7 2149.9 C871.3 2150.3 870.9 2150.5 870.4 2150.7 C869.9 2150.9 869.4 2151.1 868.9 2151.1 C868.3 2151.2 867.8 2151.2 867.2 2151.1 C866.6 2151 866.1 2150.9 865.5 2150.7 C864.9 2150.4 864.3 2150.1 863.7 2149.8 C863.1 2149.4 862.5 2149 861.9 2148.5 C861.4 2148 860.8 2147.5 860.3 2146.9 C859.7 2146.3 859.2 2145.7 858.7 2145 C858.2 2144.3 857.8 2143.6 857.4 2142.8 C856.9 2142.1 856.6 2141.3 856.2 2140.5 C855.9 2139.7 855.6 2138.9 855.3 2138 C855.1 2137.2 854.8 2136.4 854.7 2135.6 C854.5 2134.7 854.4 2133.9 854.4 2133.1 C854.3 2132.3 854.3 2131.5 854.3 2130.8 C854.4 2130.1 854.5 2129.3 854.6 2128.7 C854.8 2128 855 2127.4 855.2 2126.8 C855.5 2126.2 855.8 2125.7 856.1 2125.2 C856.4 2124.7 856.8 2124.3 857.2 2124 C857.6 2123.6 858.1 2123.4 858.6 2123.2Z"/>
<path d="M857.9 2123.5 L867.8 2118.7"/>
<path d="M869.6 2151 L879.9 2147.1"/>
<path d="M868.9 2131.7 L879.3 2126.9" style="stroke-width:1.8;"/>
<path d="M872.8 2139.4 L883.6 2135.3" style="stroke-width:1.8;"/>
<path d="M863.8 2119.3 C864.2 2118.6 864.6 2117.7 865.1 2117 C865.6 2116.4 866.2 2115.8 866.9 2115.4 C867.5 2114.9 868.3 2114.6 869 2114.4 C869.8 2114.2 870.6 2114.2 871.4 2114.2 C872.2 2114.3 873.1 2114.4 874 2114.8 C874.9 2115.1 875.8 2115.5 876.6 2116 C877.5 2116.6 878.4 2117.2 879.2 2118 C880.1 2118.7 880.9 2119.6 881.7 2120.5 C882.4 2121.5 883.2 2122.5 883.8 2123.6 C884.5 2124.6 885.1 2125.8 885.7 2127 C886.2 2128.1 886.7 2129.4 887.1 2130.6 C887.4 2131.8 887.8 2133.1 888 2134.3 C888.2 2135.5 888.3 2136.7 888.4 2137.9 C888.4 2139.1 888.4 2140.2 888.2 2141.3 C888.1 2142.3 887.9 2143.3 887.6 2144.2 C887.2 2145.2 886.8 2146 886.4 2146.7 C885.9 2147.5 885.4 2148.1 884.7 2148.6 C884.1 2149.1 883.4 2149.5 882.7 2149.8 C882 2150.1 881.2 2150.2 880.4 2150.3 C879.6 2150.3 878.7 2150 877.9 2149.9"/>
<path d="M868.3 2115.3 C868.9 2114.8 869.5 2114.2 870.2 2113.9 C870.9 2113.5 871.6 2113.2 872.4 2113.1 C873.2 2113 874 2113 874.8 2113.1 C875.7 2113.2 876.5 2113.5 877.4 2113.8 C878.3 2114.2 879.2 2114.7 880 2115.3 C880.9 2115.8 881.7 2116.6 882.6 2117.3 C883.4 2118.1 884.2 2119 884.9 2120 C885.7 2121 886.4 2122 887 2123.1 C887.7 2124.2 888.2 2125.4 888.7 2126.6 C889.3 2127.7 889.7 2129 890 2130.2 C890.4 2131.4 890.7 2132.6 890.9 2133.8 C891 2135 891.1 2136.2 891.1 2137.4 C891.2 2138.5 891.1 2139.6 890.9 2140.7 C890.7 2141.7 890.5 2142.7 890.1 2143.5 C889.8 2144.4 889.4 2145.2 888.9 2145.9 C888.4 2146.6 887.8 2147.2 887.2 2147.7 C886.6 2148.1 885.9 2148.5 885.1 2148.7 C884.4 2149 883.6 2149 882.8 2149.1"/>
<path d="M864.4 2119.1 C864.9 2118.6 865.3 2117.9 865.9 2117.5 C866.5 2117.1 867.1 2116.7 867.8 2116.5 C868.5 2116.3 869.2 2116.2 869.9 2116.2 C870.7 2116.2 871.5 2116.3 872.2 2116.6 C873 2116.8 873.8 2117.1 874.6 2117.6 C875.4 2118 876.2 2118.6 877 2119.2 C877.8 2119.9 878.5 2120.6 879.2 2121.4 C880 2122.2 880.7 2123.1 881.3 2124.1 C881.9 2125 882.5 2126 883 2127.1 C883.6 2128.1 884 2129.2 884.4 2130.3 C884.8 2131.4 885.2 2132.6 885.4 2133.7 C885.7 2134.8 885.8 2135.9 885.9 2137 C886 2138.1 886 2139.1 886 2140.1 C885.9 2141.1 885.7 2142.1 885.5 2143 C885.3 2143.8 885 2144.7 884.6 2145.4 C884.2 2146.1 883.8 2146.8 883.3 2147.3 C882.8 2147.9 882.2 2148.3 881.6 2148.6 C880.9 2149 880.2 2149.2 879.5 2149.3 C878.8 2149.4 878.1 2149.3 877.3 2149.3" style="stroke-width:1.8;"/>
<path d="M877.4 2123.9 L984.9 2077.8"/>
<path d="M882.8 2136.6 L990.4 2090.5"/>
<path d="M964.7 2086.5 C965 2086.4 965.2 2086.3 965.5 2086.3 C965.8 2086.3 966.1 2086.3 966.4 2086.3 C966.7 2086.4 967 2086.5 967.3 2086.6 C967.6 2086.8 967.9 2087 968.2 2087.2 C968.5 2087.4 968.8 2087.7 969.1 2087.9 C969.4 2088.2 969.6 2088.6 969.9 2088.9 C970.2 2089.2 970.4 2089.6 970.6 2090 C970.9 2090.4 971.1 2090.8 971.2 2091.2 C971.4 2091.6 971.6 2092 971.7 2092.5 C971.8 2092.9 971.9 2093.3 972 2093.7 C972.1 2094.2 972.1 2094.6 972.1 2095 C972.1 2095.4 972.1 2095.8 972 2096.2 C972 2096.5 971.9 2096.9 971.8 2097.2 C971.7 2097.5 971.6 2097.8 971.4 2098.1 C971.2 2098.3 971 2098.5 970.8 2098.7 C970.6 2098.9 970.4 2099 970.1 2099.2" style="stroke-width:1.8;"/>
<path d="M970.2 2084.1 C970.5 2084.1 970.7 2084 971 2083.9 C971.3 2083.9 971.6 2083.9 971.9 2084 C972.2 2084 972.5 2084.1 972.8 2084.3 C973.1 2084.4 973.4 2084.6 973.7 2084.8 C974 2085 974.3 2085.3 974.6 2085.6 C974.9 2085.9 975.2 2086.2 975.4 2086.5 C975.7 2086.9 975.9 2087.2 976.1 2087.6 C976.4 2088 976.6 2088.4 976.7 2088.8 C976.9 2089.2 977.1 2089.7 977.2 2090.1 C977.3 2090.5 977.4 2091 977.5 2091.4 C977.6 2091.8 977.6 2092.2 977.6 2092.6 C977.6 2093 977.6 2093.4 977.6 2093.8 C977.5 2094.2 977.4 2094.5 977.3 2094.8 C977.2 2095.1 977.1 2095.4 976.9 2095.7 C976.7 2096 976.6 2096.2 976.4 2096.4 C976.1 2096.6 975.9 2096.7 975.7 2096.8" style="stroke-width:1.8;"/>
<path d="M975.7 2081.8 C976 2081.7 976.3 2081.6 976.5 2081.6 C976.8 2081.5 977.1 2081.6 977.4 2081.6 C977.7 2081.7 978 2081.8 978.3 2081.9 C978.6 2082.1 978.9 2082.2 979.2 2082.5 C979.5 2082.7 979.8 2082.9 980.1 2083.2 C980.4 2083.5 980.7 2083.8 980.9 2084.2 C981.2 2084.5 981.4 2084.9 981.7 2085.3 C981.9 2085.6 982.1 2086.1 982.3 2086.5 C982.4 2086.9 982.6 2087.3 982.7 2087.7 C982.8 2088.2 982.9 2088.6 983 2089 C983.1 2089.4 983.1 2089.9 983.1 2090.3 C983.1 2090.7 983.1 2091.1 983.1 2091.4 C983 2091.8 982.9 2092.2 982.8 2092.5 C982.7 2092.8 982.6 2093.1 982.4 2093.3 C982.3 2093.6 982.1 2093.8 981.9 2094 C981.7 2094.2 981.4 2094.3 981.2 2094.4" style="stroke-width:1.8;"/>
<path d="M981.3 2079.4 C981.5 2079.3 981.8 2079.2 982 2079.2 C982.3 2079.2 982.6 2079.2 982.9 2079.3 C983.2 2079.3 983.5 2079.4 983.8 2079.6 C984.1 2079.7 984.4 2079.9 984.7 2080.1 C985 2080.3 985.3 2080.6 985.6 2080.9 C985.9 2081.1 986.2 2081.5 986.4 2081.8 C986.7 2082.1 987 2082.5 987.2 2082.9 C987.4 2083.3 987.6 2083.7 987.8 2084.1 C988 2084.5 988.1 2085 988.2 2085.4 C988.4 2085.8 988.5 2086.2 988.5 2086.7 C988.6 2087.1 988.6 2087.5 988.6 2087.9 C988.7 2088.3 988.6 2088.7 988.6 2089.1 C988.5 2089.4 988.5 2089.8 988.3 2090.1 C988.2 2090.4 988.1 2090.7 987.9 2091 C987.8 2091.2 987.6 2091.5 987.4 2091.6 C987.2 2091.8 986.9 2091.9 986.7 2092.1" style="stroke-width:1.8;"/>
<path d="M984.9 2077.8 C986.6 2077.4 988.1 2076.2 990 2076.7 C991.8 2077.1 995.3 2078.7 996 2080.6 C996.8 2082.4 995.6 2086 994.7 2087.7 C993.7 2089.3 991.8 2089.6 990.4 2090.5"/>
<path d="M1011.5 2061.6 C1011.9 2061.4 1012.3 2061.3 1012.7 2061.3 C1013.1 2061.2 1013.5 2061.2 1013.9 2061.3 C1014.4 2061.4 1014.8 2061.5 1015.3 2061.7 C1015.7 2061.8 1016.2 2062.1 1016.7 2062.3 C1017.1 2062.6 1017.6 2062.9 1018 2063.3 C1018.5 2063.7 1018.9 2064.1 1019.3 2064.5 C1019.7 2065 1020.1 2065.5 1020.5 2066 C1020.9 2066.6 1021.2 2067.1 1021.6 2067.7 C1021.9 2068.3 1022.2 2068.9 1022.5 2069.5 C1022.7 2070.1 1023 2070.8 1023.1 2071.4 C1023.3 2072 1023.5 2072.7 1023.6 2073.3 C1023.8 2074 1023.8 2074.6 1023.9 2075.2 C1023.9 2075.8 1023.9 2076.4 1023.9 2077 C1023.9 2077.6 1023.8 2078.1 1023.7 2078.7 C1023.6 2079.2 1023.4 2079.7 1023.2 2080.1 C1023 2080.6 1022.8 2081 1022.5 2081.3 C1022.3 2081.7 1022 2082 1021.7 2082.3 C1021.3 2082.5 1021 2082.8 1020.6 2082.9 C1020.3 2083.1 1019.9 2083.2 1019.4 2083.2 C1019 2083.3 1018.6 2083.3 1018.2 2083.2 C1017.7 2083.1 1017.3 2083 1016.8 2082.9 C1016.4 2082.7 1015.9 2082.5 1015.4 2082.2 C1015 2081.9 1014.5 2081.6 1014.1 2081.2 C1013.7 2080.8 1013.2 2080.4 1012.8 2080 C1012.4 2079.5 1012 2079 1011.6 2078.5 C1011.2 2078 1010.9 2077.4 1010.5 2076.8 C1010.2 2076.2 1009.9 2075.6 1009.7 2075 C1009.4 2074.4 1009.2 2073.7 1009 2073.1 C1008.8 2072.5 1008.6 2071.8 1008.5 2071.2 C1008.4 2070.6 1008.3 2069.9 1008.2 2069.3 C1008.2 2068.7 1008.2 2068.1 1008.2 2067.5 C1008.3 2066.9 1008.3 2066.4 1008.4 2065.8 C1008.6 2065.3 1008.7 2064.8 1008.9 2064.4 C1009.1 2063.9 1009.3 2063.5 1009.6 2063.2 C1009.8 2062.8 1010.1 2062.5 1010.4 2062.2 C1010.8 2062 1011.1 2061.8 1011.5 2061.6Z"/>
<path d="M1014.1 2067.7 C1014.2 2067.6 1014.4 2067.5 1014.6 2067.5 C1014.8 2067.5 1015 2067.5 1015.1 2067.5 C1015.3 2067.6 1015.5 2067.6 1015.7 2067.7 C1015.9 2067.8 1016.1 2067.9 1016.3 2068 C1016.5 2068.1 1016.7 2068.2 1016.9 2068.4 C1017.1 2068.6 1017.3 2068.7 1017.5 2068.9 C1017.6 2069.1 1017.8 2069.3 1018 2069.6 C1018.1 2069.8 1018.3 2070 1018.4 2070.3 C1018.6 2070.5 1018.7 2070.8 1018.8 2071.1 C1018.9 2071.3 1019 2071.6 1019.1 2071.9 C1019.2 2072.2 1019.3 2072.4 1019.3 2072.7 C1019.4 2073 1019.4 2073.3 1019.4 2073.5 C1019.4 2073.8 1019.4 2074.1 1019.4 2074.3 C1019.4 2074.6 1019.4 2074.8 1019.3 2075 C1019.3 2075.2 1019.2 2075.5 1019.1 2075.6 C1019.1 2075.8 1019 2076 1018.8 2076.2 C1018.7 2076.3 1018.6 2076.5 1018.5 2076.6 C1018.3 2076.7 1018.2 2076.8 1018 2076.9 C1017.9 2076.9 1017.7 2077 1017.5 2077 C1017.3 2077 1017.2 2077 1017 2077 C1016.8 2077 1016.6 2076.9 1016.4 2076.8 C1016.2 2076.8 1016 2076.7 1015.8 2076.5 C1015.6 2076.4 1015.4 2076.3 1015.2 2076.1 C1015 2076 1014.8 2075.8 1014.7 2075.6 C1014.5 2075.4 1014.3 2075.2 1014.1 2074.9 C1014 2074.7 1013.8 2074.5 1013.7 2074.2 C1013.5 2074 1013.4 2073.7 1013.3 2073.4 C1013.2 2073.2 1013.1 2072.9 1013 2072.6 C1012.9 2072.3 1012.8 2072.1 1012.8 2071.8 C1012.7 2071.5 1012.7 2071.2 1012.7 2071 C1012.7 2070.7 1012.7 2070.5 1012.7 2070.2 C1012.7 2070 1012.7 2069.7 1012.8 2069.5 C1012.8 2069.3 1012.9 2069.1 1013 2068.9 C1013.1 2068.7 1013.2 2068.5 1013.3 2068.3 C1013.4 2068.2 1013.5 2068 1013.6 2067.9 C1013.8 2067.8 1013.9 2067.7 1014.1 2067.7Z"/>
<path d="M1011.5 2061.6 L1074.9 2034.4"/>
<path d="M1020.6 2082.9 L1084 2055.7"/>
<path d="M1074.9 2034.4 C1076.9 2034 1078.6 2032.9 1080.8 2033.1 C1082.9 2033.2 1085.9 2034.1 1087.8 2035.2 C1089.6 2036.3 1091.1 2038 1091.8 2039.8 C1092.6 2041.5 1092.8 2043.8 1092.4 2045.9 C1091.9 2048 1090.5 2050.8 1089.1 2052.4 C1087.7 2054 1085.7 2054.6 1084 2055.7"/>
<path d="M1102.5 2008.4 C1103.3 2008.1 1104.1 2007.9 1104.9 2007.8 C1105.7 2007.7 1106.6 2007.7 1107.5 2007.8 C1108.3 2008 1109.3 2008.2 1110.2 2008.5 C1111.1 2008.9 1112 2009.3 1112.9 2009.9 C1113.8 2010.4 1114.7 2011.1 1115.6 2011.8 C1116.5 2012.6 1117.4 2013.4 1118.2 2014.3 C1119 2015.2 1119.8 2016.2 1120.6 2017.3 C1121.3 2018.3 1122 2019.5 1122.7 2020.6 C1123.3 2021.8 1123.9 2023 1124.5 2024.3 C1125 2025.5 1125.5 2026.8 1125.9 2028 C1126.3 2029.3 1126.6 2030.6 1126.8 2031.9 C1127.1 2033.1 1127.2 2034.4 1127.3 2035.7 C1127.4 2036.9 1127.4 2038.1 1127.3 2039.2 C1127.3 2040.4 1127.1 2041.5 1126.9 2042.6 C1126.7 2043.6 1126.4 2044.6 1126 2045.5 C1125.6 2046.4 1125.2 2047.2 1124.6 2047.9 C1124.1 2048.6 1123.5 2049.3 1122.9 2049.8 C1122.3 2050.3 1121.6 2050.7 1120.8 2051.1 C1120.1 2051.4 1119.3 2051.6 1118.5 2051.7 C1117.6 2051.8 1116.8 2051.8 1115.9 2051.7 C1115 2051.5 1114.1 2051.3 1113.2 2051 C1112.3 2050.6 1111.4 2050.2 1110.5 2049.6 C1109.5 2049.1 1108.6 2048.4 1107.7 2047.6 C1106.9 2046.9 1106 2046.1 1105.2 2045.2 C1104.3 2044.2 1103.5 2043.2 1102.8 2042.2 C1102 2041.1 1101.3 2040 1100.7 2038.8 C1100 2037.7 1099.4 2036.5 1098.9 2035.2 C1098.4 2034 1097.9 2032.7 1097.5 2031.4 C1097.1 2030.2 1096.8 2028.9 1096.5 2027.6 C1096.3 2026.3 1096.1 2025.1 1096 2023.8 C1095.9 2022.6 1095.9 2021.4 1096 2020.2 C1096.1 2019.1 1096.2 2018 1096.4 2016.9 C1096.7 2015.9 1097 2014.9 1097.4 2014 C1097.7 2013.1 1098.2 2012.3 1098.7 2011.6 C1099.2 2010.9 1099.8 2010.2 1100.5 2009.7 C1101.1 2009.2 1101.8 2008.7 1102.5 2008.4Z"/>
<path d="M1106.5 2020.3 C1106.9 2020.2 1107.2 2020.1 1107.6 2020 C1108 2020 1108.4 2020 1108.8 2020 C1109.2 2020.1 1109.6 2020.2 1110.1 2020.4 C1110.5 2020.5 1110.9 2020.7 1111.3 2021 C1111.7 2021.2 1112.2 2021.5 1112.6 2021.9 C1113 2022.2 1113.4 2022.6 1113.8 2023 C1114.1 2023.4 1114.5 2023.9 1114.9 2024.4 C1115.2 2024.9 1115.5 2025.4 1115.8 2025.9 C1116.1 2026.5 1116.4 2027 1116.7 2027.6 C1116.9 2028.2 1117.1 2028.8 1117.3 2029.4 C1117.5 2029.9 1117.6 2030.5 1117.7 2031.1 C1117.9 2031.7 1117.9 2032.3 1118 2032.9 C1118 2033.4 1118 2034 1118 2034.5 C1118 2035 1117.9 2035.6 1117.8 2036 C1117.7 2036.5 1117.5 2037 1117.4 2037.4 C1117.2 2037.8 1117 2038.2 1116.7 2038.5 C1116.5 2038.8 1116.2 2039.1 1115.9 2039.4 C1115.6 2039.6 1115.3 2039.8 1115 2040 C1114.6 2040.1 1114.3 2040.2 1113.9 2040.3 C1113.5 2040.3 1113.1 2040.3 1112.7 2040.2 C1112.3 2040.2 1111.9 2040.1 1111.5 2039.9 C1111 2039.8 1110.6 2039.5 1110.2 2039.3 C1109.8 2039 1109.4 2038.7 1108.9 2038.4 C1108.5 2038.1 1108.1 2037.7 1107.8 2037.2 C1107.4 2036.8 1107 2036.4 1106.7 2035.9 C1106.3 2035.4 1106 2034.9 1105.7 2034.3 C1105.4 2033.8 1105.1 2033.2 1104.9 2032.7 C1104.6 2032.1 1104.4 2031.5 1104.2 2030.9 C1104 2030.3 1103.9 2029.7 1103.8 2029.1 C1103.7 2028.6 1103.6 2028 1103.5 2027.4 C1103.5 2026.8 1103.5 2026.3 1103.5 2025.8 C1103.6 2025.2 1103.6 2024.7 1103.7 2024.2 C1103.8 2023.7 1104 2023.3 1104.2 2022.9 C1104.3 2022.5 1104.5 2022.1 1104.8 2021.8 C1105 2021.4 1105.3 2021.1 1105.6 2020.9 C1105.9 2020.6 1106.2 2020.4 1106.5 2020.3Z"/>
<path d="M1113.3 2019 C1113.8 2019.2 1114.3 2019.4 1114.8 2019.7 C1115.3 2020.1 1115.8 2020.5 1116.2 2020.9 C1116.7 2021.3 1117.2 2021.8 1117.6 2022.4 C1118 2022.9 1118.4 2023.5 1118.8 2024.1 C1119.2 2024.7 1119.5 2025.4 1119.8 2026.1 C1120.1 2026.7 1120.4 2027.4 1120.6 2028.1 C1120.8 2028.8 1120.9 2029.5 1121 2030.2 C1121.2 2030.9 1121.2 2031.6 1121.2 2032.3 C1121.2 2032.9 1121.2 2033.5 1121.1 2034.1 C1121 2034.7 1120.9 2035.3 1120.7 2035.8 C1120.5 2036.3 1120.2 2036.7 1120 2037.1" style="stroke-width:1.8;"/>
<path d="M1103.8 2008.4 C1104.5 2007.9 1105.2 2007.3 1106.1 2006.9 C1106.9 2006.5 1107.8 2006.3 1108.7 2006.2 C1109.7 2006.1 1110.7 2006.1 1111.7 2006.3 C1112.7 2006.5 1113.7 2006.9 1114.7 2007.3 C1115.8 2007.8 1116.8 2008.4 1117.8 2009.1 C1118.9 2009.9 1119.9 2010.7 1120.8 2011.7 C1121.8 2012.7 1122.8 2013.7 1123.6 2014.9 C1124.5 2016 1125.3 2017.3 1126.1 2018.6 C1126.9 2019.9 1127.5 2021.3 1128.1 2022.7 C1128.7 2024.1 1129.3 2025.5 1129.7 2027 C1130.1 2028.4 1130.4 2029.9 1130.7 2031.3 C1130.9 2032.8 1131 2034.2 1131.1 2035.5 C1131.1 2036.9 1131 2038.2 1130.8 2039.5 C1130.7 2040.7 1130.4 2041.9 1130 2043 C1129.6 2044 1129.2 2045 1128.6 2045.9 C1128.1 2046.7 1127.4 2047.5 1126.7 2048.1 C1126 2048.7 1125.2 2049.2 1124.3 2049.6 C1123.5 2049.9 1122.5 2050 1121.6 2050.2"/>
<path d="M1109.6 2006.3 C1110.4 2005.9 1111.3 2005.4 1112.2 2005.2 C1113.1 2005 1114.1 2005 1115.1 2005.1 C1116.1 2005.2 1117.1 2005.5 1118.2 2005.9 C1119.2 2006.3 1120.3 2006.9 1121.3 2007.6 C1122.4 2008.2 1123.4 2009.1 1124.4 2010 C1125.4 2011 1126.4 2012 1127.3 2013.2 C1128.2 2014.3 1129 2015.6 1129.8 2016.9 C1130.6 2018.2 1131.3 2019.7 1131.9 2021.1 C1132.5 2022.5 1133 2024 1133.5 2025.4 C1133.9 2026.9 1134.2 2028.4 1134.4 2029.9 C1134.6 2031.3 1134.7 2032.8 1134.7 2034.1 C1134.7 2035.5 1134.6 2036.8 1134.4 2038 C1134.2 2039.3 1133.9 2040.4 1133.4 2041.5 C1133 2042.5 1132.5 2043.5 1131.9 2044.3 C1131.3 2045.1 1130.5 2045.8 1129.8 2046.3 C1129 2046.8 1128.1 2047.1 1127.2 2047.5"/>
<path d="M1115.5 2005.8 C1116.3 2005.6 1117.1 2005.3 1117.9 2005.2 C1118.7 2005.1 1119.6 2005.2 1120.5 2005.4 C1121.4 2005.5 1122.3 2005.8 1123.2 2006.3 C1124.1 2006.7 1125 2007.2 1125.9 2007.9 C1126.8 2008.5 1127.7 2009.3 1128.5 2010.1 C1129.4 2011 1130.2 2011.9 1131 2012.9 C1131.7 2013.9 1132.5 2015.1 1133.1 2016.2 C1133.8 2017.3 1134.4 2018.5 1134.9 2019.8 C1135.5 2021 1135.9 2022.3 1136.3 2023.5 C1136.7 2024.8 1137 2026.1 1137.2 2027.4 C1137.4 2028.6 1137.5 2029.9 1137.5 2031.1 C1137.5 2032.3 1137.5 2033.4 1137.3 2034.5 C1137.2 2035.6 1136.9 2036.7 1136.6 2037.6 C1136.3 2038.5 1135.9 2039.4 1135.4 2040.2 C1134.9 2040.9 1134.4 2041.6 1133.7 2042.2 C1133.1 2042.7 1132.4 2043 1131.7 2043.5"/>
<path d="M1102.5 2008.4 L1106.2 2006.8"/>
<path d="M1120.8 2051.1 L1124.5 2049.5"/>
</g>
<g id="box">
<path d="M1124.0 1645.8 L1143.4 1646.0M1157.3 1646.1 L1186.8 1646.4M1200.7 1646.6 L1229.4 1646.9M1243.2 1647.0 L1260.8 1647.2M1269.1 1647.3 L1271.9 1647.3M1285.7 1647.4 L1314.4 1647.7M1328.3 1647.9 L1351.4 1648.1" style="stroke-width:2;stroke-linecap:butt;"/>
<path d="M1124.0 1645.8 L1118.8 1652.7M1109.5 1665.0 L1092.8 1687.1M1083.7 1699.1 L1067.0 1721.3M1058.0 1733.3 L1041.2 1755.5" style="stroke-width:2;stroke-linecap:butt;"/>
<path d="M1351.4 1648.1 L1353.9 1653.8M1359.6 1666.2 L1371.5 1692.7M1377.4 1705.7 L1389.3 1732.1M1395.2 1745.2 L1407.1 1771.6M1413.0 1784.7 L1424.9 1811.1M1430.8 1824.1 L1442.7 1850.6M1448.6 1863.6 L1460.5 1890.0M1466.4 1903.1 L1478.3 1929.5M1484.2 1942.5 L1496.1 1969.0M1502.0 1982.0 L1511.0 2002.0" style="stroke-width:2;stroke-linecap:butt;"/>
<path d="M1037.4 1768.6 L1048.3 1794.3M1054.2 1808.1 L1065.1 1833.9M1071.0 1847.7 L1081.9 1873.5M1087.7 1887.3 L1098.7 1913.1M1104.5 1926.9 L1115.4 1952.7M1121.3 1966.5 L1132.2 1992.3M1138.1 2006.1 L1149.0 2031.9M1154.9 2045.7 L1165.8 2071.5M1171.6 2085.3 L1182.6 2111.1M1188.4 2124.9 L1193.7 2137.3" style="stroke-width:2;stroke-linecap:butt;"/>
<path d="M1193.7 2137.3 L1219.9 2126.1M1233.0 2120.6 L1259.2 2109.4M1272.3 2103.8 L1298.5 2092.6M1311.5 2087.1 L1337.8 2075.9M1350.8 2070.3 L1377.0 2059.1M1390.1 2053.6 L1416.3 2042.4M1429.4 2036.8 L1455.6 2025.6M1468.6 2020.1 L1494.9 2008.9M1507.9 2003.3 L1511.0 2002.0" style="stroke-width:2;stroke-linecap:butt;"/>
<path d="M1324.5 2083.4 L1331.9 2135.9" style="stroke-width:2;"/>
<path d="M1102.8 1735.5 C1104.6 1735.7 1106.4 1735.7 1108 1736.1 C1109.7 1736.5 1111.2 1737.2 1112.6 1738.1 C1114 1739 1115.3 1740.2 1116.4 1741.5 C1117.5 1742.8 1118.4 1744.3 1119.2 1746 C1120 1747.7 1120.5 1749.6 1120.9 1751.5 C1121.3 1753.5 1121.5 1755.7 1121.5 1757.9 C1121.5 1760 1121.3 1762.4 1120.9 1764.7 C1120.5 1767 1119.8 1769.3 1119.1 1771.7 C1118.3 1774 1117.3 1776.3 1116.2 1778.6 C1115.1 1780.8 1113.8 1783 1112.4 1785.1 C1111 1787.2 1109.4 1789.1 1107.7 1790.9 C1106.1 1792.7 1104.3 1794.4 1102.5 1795.9 C1100.7 1797.3 1098.8 1798.6 1096.9 1799.7 C1095 1800.7 1093 1801.6 1091.1 1802.2 C1089.3 1802.8 1087.3 1803.2 1085.5 1803.3 C1083.7 1803.4 1081.9 1803.3 1080.2 1803 C1078.6 1802.6 1077 1802 1075.5 1801.2 C1074.1 1800.4 1072.7 1799.3 1071.6 1798.1 C1070.4 1796.8 1069.4 1795.4 1068.6 1793.7 C1067.8 1792.1 1067.1 1790.3 1066.7 1788.4 C1066.2 1786.4 1066 1784.3 1065.9 1782.2 C1065.9 1780 1066 1777.7 1066.3 1775.4 C1066.7 1773.1 1067.2 1770.8 1067.9 1768.4 C1068.6 1766.1 1069.6 1763.8 1070.6 1761.5 C1071.7 1759.2 1072.9 1757 1074.3 1754.9 C1075.7 1752.8 1077.2 1750.7 1078.8 1748.9 C1080.4 1747 1082.2 1745.3 1083.9 1743.8 C1085.7 1742.3 1087.6 1740.9 1089.5 1739.8 C1091.4 1738.6 1093.3 1737.9 1095.2 1737"/>
<path d="M1102.9 1737 C1104.5 1737.2 1106.2 1737.2 1107.8 1737.7 C1109.3 1738.1 1110.8 1738.8 1112.1 1739.7 C1113.4 1740.6 1114.6 1741.7 1115.6 1742.9 C1116.6 1744.2 1117.5 1745.7 1118.2 1747.3 C1118.9 1748.9 1119.5 1750.8 1119.8 1752.6 C1120.1 1754.5 1120.3 1756.6 1120.3 1758.7 C1120.2 1760.8 1120 1763 1119.6 1765.2 C1119.2 1767.3 1118.6 1769.6 1117.9 1771.8 C1117.1 1774 1116.2 1776.3 1115.1 1778.4 C1114 1780.5 1112.8 1782.6 1111.4 1784.6 C1110.1 1786.5 1108.6 1788.4 1107 1790.1 C1105.5 1791.8 1103.8 1793.4 1102 1794.8 C1100.3 1796.2 1098.5 1797.4 1096.7 1798.4 C1094.9 1799.4 1093 1800.2 1091.2 1800.8 C1089.4 1801.3 1087.6 1801.7 1085.9 1801.8 C1084.2 1801.9 1082.4 1801.8 1080.9 1801.5 C1079.3 1801.2 1077.7 1800.6 1076.4 1799.9 C1075 1799.1 1073.7 1798.1 1072.6 1796.9 C1071.5 1795.7 1070.5 1794.3 1069.8 1792.8 C1069 1791.3 1068.3 1789.5 1067.9 1787.7 C1067.5 1785.9 1067.2 1783.9 1067.1 1781.8 C1067.1 1779.8 1067.2 1777.6 1067.5 1775.5 C1067.8 1773.3 1068.3 1771 1068.9 1768.8 C1069.6 1766.6 1070.5 1764.4 1071.5 1762.2 C1072.4 1760 1073.6 1757.9 1074.9 1755.9 C1076.2 1753.9 1077.6 1751.9 1079.1 1750.2 C1080.7 1748.4 1082.3 1746.7 1084 1745.2 C1085.7 1743.8 1087.5 1742.4 1089.3 1741.3 C1091 1740.2 1092.9 1739.5 1094.7 1738.6" style="stroke-width:1.6;"/>
<path d="M1103 1740.6 C1104.4 1740.9 1105.9 1741 1107.2 1741.4 C1108.5 1741.9 1109.7 1742.6 1110.8 1743.5 C1111.9 1744.3 1112.9 1745.4 1113.8 1746.5 C1114.6 1747.7 1115.3 1749.1 1115.9 1750.5 C1116.4 1752 1116.9 1753.6 1117.1 1755.3 C1117.3 1757 1117.4 1758.8 1117.4 1760.7 C1117.3 1762.5 1117 1764.5 1116.7 1766.4 C1116.3 1768.3 1115.7 1770.3 1115 1772.2 C1114.3 1774.2 1113.5 1776.1 1112.5 1778 C1111.5 1779.8 1110.4 1781.6 1109.2 1783.3 C1108 1785 1106.7 1786.7 1105.3 1788.1 C1103.9 1789.6 1102.4 1791 1100.9 1792.2 C1099.4 1793.4 1097.8 1794.4 1096.2 1795.3 C1094.7 1796.2 1093 1796.9 1091.5 1797.4 C1089.9 1797.9 1088.3 1798.2 1086.8 1798.3 C1085.3 1798.4 1083.8 1798.3 1082.4 1798.1 C1081 1797.8 1079.6 1797.3 1078.4 1796.6 C1077.2 1796 1076.1 1795.1 1075.1 1794.1 C1074.1 1793.1 1073.2 1791.9 1072.5 1790.6 C1071.8 1789.3 1071.2 1787.8 1070.8 1786.2 C1070.4 1784.6 1070.1 1782.9 1070 1781.1 C1069.9 1779.4 1070 1777.5 1070.2 1775.6 C1070.5 1773.7 1070.8 1771.7 1071.4 1769.8 C1071.9 1767.8 1072.6 1765.9 1073.4 1764 C1074.3 1762.1 1075.2 1760.2 1076.3 1758.4 C1077.4 1756.6 1078.6 1754.8 1079.9 1753.2 C1081.2 1751.6 1082.6 1750.1 1084.1 1748.7 C1085.5 1747.4 1087.1 1746.2 1088.6 1745.1 C1090.1 1744.1 1091.8 1743.4 1093.4 1742.5"/>
<path d="M1102.8 1735.5 L1103 1740.6"/>
<path d="M1095.2 1737 L1093.4 1742.5"/>
<ellipse cx="1105.3" cy="1741.6" rx="2.2" ry="2.2" style="stroke-width:1.8;"/>
<ellipse cx="1090.5" cy="1744.5" rx="2.2" ry="2.2" style="stroke-width:1.8;"/>
<path d="M1184 1783.6 C1185 1784.2 1186 1784.9 1186.8 1785.7 C1187.6 1786.5 1188.3 1787.5 1188.9 1788.6 C1189.6 1789.7 1190.1 1790.9 1190.5 1792.2 C1190.9 1793.5 1191.2 1794.9 1191.4 1796.4 C1191.5 1797.9 1191.6 1799.5 1191.5 1801.1 C1191.5 1802.7 1191.3 1804.4 1191 1806.1 C1190.7 1807.9 1190.3 1809.6 1189.7 1811.4 C1189.2 1813.1 1188.6 1814.9 1187.8 1816.6 C1187.1 1818.3 1186.3 1820.1 1185.3 1821.7 C1184.4 1823.4 1183.4 1825 1182.3 1826.5 C1181.3 1828.1 1180.1 1829.6 1178.9 1830.9 C1177.7 1832.3 1176.4 1833.6 1175.1 1834.7 C1173.8 1835.9 1172.5 1837 1171.1 1837.9 C1169.8 1838.8 1168.4 1839.6 1167.1 1840.2 C1165.7 1840.9 1164.4 1841.4 1163 1841.7 C1161.7 1842.1 1160.4 1842.3 1159.2 1842.3 C1157.9 1842.4 1156.7 1842.3 1155.5 1842 C1154.4 1841.8 1153.3 1841.4 1152.3 1840.8 C1151.3 1840.3 1150.4 1839.6 1149.6 1838.7 C1148.8 1837.9 1148 1836.9 1147.4 1835.8 C1146.8 1834.8 1146.3 1833.5 1145.9 1832.2 C1145.5 1830.9 1145.2 1829.5 1145 1828 C1144.8 1826.5 1144.8 1824.9 1144.8 1823.3 C1144.9 1821.7 1145.1 1820 1145.4 1818.3 C1145.7 1816.6 1146.1 1814.8 1146.6 1813.1 C1147.2 1811.3 1147.8 1809.5 1148.5 1807.8 C1149.3 1806.1 1150.1 1804.4 1151 1802.7 C1151.9 1801 1153 1799.4 1154 1797.9 C1155.1 1796.3 1156.3 1794.9 1157.5 1793.5 C1158.7 1792.1 1160 1790.8 1161.2 1789.7 C1162.5 1788.5 1163.9 1787.5 1165.2 1786.5 C1166.6 1785.6 1167.9 1784.8 1169.3 1784.2 C1170.6 1783.5 1172 1783 1173.3 1782.7 C1174.7 1782.3 1176 1782.1 1177.2 1782.1 C1178.5 1782 1179.7 1782.1 1180.8 1782.4 C1182 1782.6 1183 1783.1 1184 1783.6Z"/>
<path d="M1180.1 1790.8 C1180.8 1791.2 1181.5 1791.7 1182.1 1792.3 C1182.7 1793 1183.3 1793.7 1183.7 1794.5 C1184.2 1795.3 1184.6 1796.2 1184.9 1797.2 C1185.2 1798.2 1185.4 1799.3 1185.5 1800.4 C1185.7 1801.5 1185.7 1802.7 1185.7 1803.9 C1185.6 1805.1 1185.5 1806.4 1185.3 1807.7 C1185 1809 1184.7 1810.3 1184.3 1811.6 C1183.9 1812.9 1183.5 1814.2 1182.9 1815.5 C1182.4 1816.8 1181.7 1818.1 1181 1819.3 C1180.4 1820.6 1179.6 1821.8 1178.8 1823 C1178 1824.1 1177.1 1825.2 1176.2 1826.2 C1175.3 1827.3 1174.3 1828.2 1173.4 1829.1 C1172.4 1830 1171.4 1830.8 1170.4 1831.4 C1169.4 1832.1 1168.4 1832.7 1167.3 1833.2 C1166.3 1833.7 1165.3 1834.1 1164.3 1834.3 C1163.3 1834.6 1162.4 1834.7 1161.4 1834.8 C1160.5 1834.8 1159.6 1834.7 1158.7 1834.6 C1157.9 1834.4 1157 1834.1 1156.3 1833.6 C1155.6 1833.2 1154.9 1832.7 1154.3 1832.1 C1153.6 1831.5 1153.1 1830.7 1152.6 1829.9 C1152.2 1829.1 1151.8 1828.2 1151.5 1827.2 C1151.2 1826.2 1150.9 1825.2 1150.8 1824 C1150.7 1822.9 1150.7 1821.7 1150.7 1820.5 C1150.7 1819.3 1150.9 1818 1151.1 1816.8 C1151.3 1815.5 1151.6 1814.2 1152 1812.8 C1152.4 1811.5 1152.9 1810.2 1153.5 1808.9 C1154 1807.6 1154.6 1806.3 1155.3 1805.1 C1156 1803.8 1156.8 1802.6 1157.6 1801.5 C1158.4 1800.3 1159.3 1799.2 1160.2 1798.2 C1161.1 1797.2 1162 1796.2 1163 1795.3 C1164 1794.5 1165 1793.7 1166 1793 C1167 1792.3 1168 1791.7 1169 1791.2 C1170 1790.7 1171.1 1790.4 1172 1790.1 C1173 1789.8 1174 1789.7 1174.9 1789.6 C1175.9 1789.6 1176.8 1789.7 1177.6 1789.9 C1178.5 1790.1 1179.3 1790.4 1180.1 1790.8Z"/>
<path d="M1177.4 1795.6 C1178 1795.9 1178.5 1796.3 1179 1796.8 C1179.5 1797.3 1179.9 1797.9 1180.2 1798.5 C1180.6 1799.1 1180.9 1799.8 1181.1 1800.6 C1181.4 1801.3 1181.5 1802.2 1181.6 1803 C1181.7 1803.9 1181.8 1804.8 1181.7 1805.8 C1181.7 1806.7 1181.6 1807.7 1181.4 1808.7 C1181.2 1809.7 1181 1810.7 1180.7 1811.7 C1180.4 1812.7 1180 1813.8 1179.6 1814.8 C1179.2 1815.8 1178.7 1816.8 1178.2 1817.7 C1177.6 1818.7 1177 1819.6 1176.4 1820.5 C1175.8 1821.4 1175.1 1822.3 1174.4 1823.1 C1173.7 1823.9 1173 1824.6 1172.2 1825.3 C1171.5 1826 1170.7 1826.6 1169.9 1827.1 C1169.1 1827.7 1168.3 1828.1 1167.5 1828.5 C1166.8 1828.9 1166 1829.2 1165.2 1829.4 C1164.4 1829.6 1163.7 1829.7 1162.9 1829.7 C1162.2 1829.7 1161.5 1829.7 1160.8 1829.5 C1160.2 1829.4 1159.5 1829.1 1159 1828.8 C1158.4 1828.5 1157.9 1828.1 1157.4 1827.6 C1156.9 1827.1 1156.5 1826.6 1156.1 1825.9 C1155.8 1825.3 1155.5 1824.6 1155.2 1823.8 C1155 1823.1 1154.8 1822.3 1154.7 1821.4 C1154.6 1820.5 1154.6 1819.6 1154.6 1818.7 C1154.7 1817.7 1154.8 1816.7 1154.9 1815.7 C1155.1 1814.7 1155.4 1813.7 1155.7 1812.7 C1156 1811.7 1156.3 1810.7 1156.8 1809.7 C1157.2 1808.7 1157.7 1807.6 1158.2 1806.7 C1158.7 1805.7 1159.3 1804.8 1160 1803.9 C1160.6 1803 1161.3 1802.1 1162 1801.3 C1162.7 1800.5 1163.4 1799.8 1164.2 1799.1 C1164.9 1798.4 1165.7 1797.8 1166.5 1797.3 C1167.2 1796.8 1168 1796.3 1168.8 1795.9 C1169.6 1795.6 1170.4 1795.3 1171.2 1795.1 C1171.9 1794.9 1172.7 1794.7 1173.4 1794.7 C1174.2 1794.7 1174.9 1794.7 1175.5 1794.9 C1176.2 1795 1176.8 1795.3 1177.4 1795.6Z"/>
<path d="M1120 1822.9 C1119 1822.1 1117.8 1821.4 1116.9 1820.5 C1116 1819.5 1115.2 1818.3 1114.6 1817.1 C1114 1815.8 1113.5 1814.3 1113.1 1812.8 C1112.8 1811.2 1112.5 1809.5 1112.5 1807.8 C1112.4 1806 1112.5 1804.1 1112.7 1802.3 C1113 1800.4 1113.4 1798.4 1113.9 1796.4 C1114.4 1794.5 1115.1 1792.5 1115.9 1790.5 C1116.7 1788.6 1117.6 1786.6 1118.7 1784.8 C1119.7 1782.9 1120.9 1781.1 1122.1 1779.4 C1123.3 1777.7 1124.7 1776 1126 1774.5 C1127.4 1773.1 1128.9 1771.7 1130.4 1770.5 C1131.8 1769.3 1133.4 1768.2 1134.9 1767.3 C1136.4 1766.4 1138 1765.7 1139.5 1765.2 C1141 1764.7 1142.5 1764.4 1143.9 1764.2 C1145.3 1764.1 1146.7 1764.1 1148 1764.4 C1149.3 1764.6 1150.5 1765.2 1151.7 1765.7"/>
<path d="M1151.7 1765.7 L1184 1783.6"/>
<path d="M1120 1822.9 L1152.3 1840.8"/>
<path d="M1128.9 1709.2 L1111.6 1736.9" style="stroke-width:2;"/>
<path d="M1193.3 1746.1 L1169.3 1774.2" style="stroke-width:2;"/>
<path d="M1143.4 1882.7 L1143.4 1900" style="stroke-width:2;"/>
<path d="M1020 1726.5 L1067.3 1754.5" style="stroke-width:2;"/>
</g>
<g id="fwd">
<path d="M292.6 2138.7 L250.5 2115.4 L284.8 2061.6 L292.6 2066.6 L292.6 2138.7" style="stroke-width:3.1;stroke-linejoin:miter;"/>
<path d="M292.9 2072.3 L343.6 2044.4 L351.9 2049.1 L351.9 2091.5 L292.9 2124.8" style="stroke-width:3.1;stroke-linejoin:miter;"/>
<path d="M293.7 2082.7 L349.9 2051.1" style="stroke-width:1.5;"/>
<path d="M259.9 2118.7 L291.2 2068.6" style="stroke-width:1.5;"/>
<text transform="matrix(0.585 -0.325 -0.05 1.0 293.8 2119.8)" font-size="40" style="font-family:'Liberation Sans',sans-serif;font-weight:700;stroke:#000;stroke-width:1.7;stroke-linejoin:round;letter-spacing:0.6px">FWD</text>
</g>
<g id="labels">
<text transform="translate(306.9 477.3) scale(1.220 1)" font-size="33" style="stroke:#000;stroke-width:0.3">a</text>
<path d="M318.8 484.7 L320.4 573.1" style="stroke-width:2;"/>
<text transform="translate(382.1 521) scale(1.220 1)" font-size="33" style="stroke:#000;stroke-width:0.3">b</text>
<path d="M392.5 526.9 L382 633.2" style="stroke-width:2;"/>
<text transform="translate(457.9 564.2) scale(1.220 1)" font-size="33" style="stroke:#000;stroke-width:0.3">c</text>
<path d="M464.8 568.8 L450.4 636.6" style="stroke-width:2;"/>
<text transform="translate(580.5 635.9) scale(1.220 1)" font-size="33" style="stroke:#000;stroke-width:0.3">d</text>
<path d="M589 640.3 L562.8 710.5" style="stroke-width:2;"/>
<text transform="translate(689.2 698) scale(1.220 1)" font-size="33" style="stroke:#000;stroke-width:0.3">e</text>
<path d="M696.4 703 L655.5 787.1" style="stroke-width:2;"/>
<text transform="translate(873.6 801.6) scale(1.220 1)" font-size="33" style="stroke:#000;stroke-width:0.3">f</text>
<path d="M872.6 804 L822.4 891.8" style="stroke-width:2;"/>
<path d="M1087.7 928.8 L1039 1010.4" style="stroke-width:2;"/>
<text transform="translate(1084.5 921.6) scale(1.220 1)" font-size="33" style="stroke:#000;stroke-width:0.3">g</text>
<text transform="translate(1188.8 981.4) scale(1.220 1)" font-size="33" style="stroke:#000;stroke-width:0.3">h</text>
<path d="M1191.6 988.5 L1151 1050.1" style="stroke-width:2;"/>
<text transform="translate(1290 1042.4) scale(1.220 1)" font-size="33" style="stroke:#000;stroke-width:0.3">i</text>
<path d="M1288 1044 L1242.5 1107.1" style="stroke-width:2;"/>
<text transform="translate(1356.8 1077.8) scale(1.220 1)" font-size="33" style="stroke:#000;stroke-width:0.3">j</text>
<path d="M1352.7 1080.9 L1288 1154.9" style="stroke-width:2;"/>
<text transform="translate(1406.1 1106.2) scale(1.220 1)" font-size="33" style="stroke:#000;stroke-width:0.3">k</text>
<path d="M1405.1 1110.8 L1347.5 1174" style="stroke-width:2;"/>
<text transform="translate(1485 1153.9) scale(1.220 1)" font-size="33" style="stroke:#000;stroke-width:0.3">l</text>
<path d="M1477.5 1153.3 L1414.4 1210.3" style="stroke-width:2;"/>
<text transform="translate(1573.7 1213.8) scale(1.220 1)" font-size="33" style="stroke:#000;stroke-width:0.3">m</text>
<path d="M1579.5 1216.2 L1503.5 1278.8" style="stroke-width:2;"/>
<text transform="translate(1201.7 1392.4) scale(1.170 1)" font-size="33.2" style="stroke:#000;stroke-width:0.2">14</text>
<path d="M1234.5 1402.6 L1252.4 1442.7" style="stroke-width:2;"/>
<text transform="translate(1366.5 1473.7) scale(1.170 1)" font-size="33.2" style="stroke:#000;stroke-width:0.2">13</text>
<path d="M1376.2 1482.1 L1343.3 1532" style="stroke-width:2;"/>
<text transform="translate(1444.5 1660.3) scale(1.170 1)" font-size="33.2" style="stroke:#000;stroke-width:0.2">19</text>
<path d="M1469.6 1667.2 L1477.3 1703.2" style="stroke-width:2;"/>
<text transform="translate(1374.2 1688.4) scale(1.170 1)" font-size="33.2" style="stroke:#000;stroke-width:0.2">17</text>
<path d="M1405.8 1693.3 L1421.8 1721.7" style="stroke-width:2;"/>
<text transform="translate(1312.6 1713.6) scale(1.170 1)" font-size="33.2" style="stroke:#000;stroke-width:0.2">10</text>
<path d="M1344.2 1720.1 L1364.8 1752.5" style="stroke-width:2;"/>
<text transform="translate(1323.4 1840.3) scale(1.170 1)" font-size="33.2" style="stroke:#000;stroke-width:0.2">11</text>
<path d="M1350.3 1845.5 L1361.7 1871.1" style="stroke-width:2;"/>
<text transform="translate(1383.5 1839) scale(1.170 1)" font-size="33.2" style="stroke:#000;stroke-width:0.2">10</text>
<path d="M1413.5 1845.5 L1429.5 1878.8" style="stroke-width:2;"/>
<text transform="translate(1556 1934.5) scale(1.170 1)" font-size="33.2" style="stroke:#000;stroke-width:0.2">19</text>
<path d="M1566.6 1906.5 L1546.6 1866.5" style="stroke-width:2;"/>
<text transform="translate(1495.3 1958) scale(1.170 1)" font-size="33.2" style="stroke:#000;stroke-width:0.2">17</text>
<path d="M1514.2 1929.6 L1498.8 1891.1" style="stroke-width:2;"/>
<path d="M1229.3 2068.3 L1216.9 2003.6" style="stroke-width:2;"/>
<text transform="translate(272.4 1118.6) scale(1.170 1)" font-size="33.2" style="stroke:#000;stroke-width:0.2">4</text>
<path d="M278.8 1118.6 L244.9 1191" style="stroke-width:2;"/>
<text transform="translate(174.7 1381.7) scale(1.170 1)" font-size="33.2" style="stroke:#000;stroke-width:0.2">3</text>
<path d="M207.9 1303.5 L191 1357.4" style="stroke-width:2;"/>
<text transform="translate(734.3 1053.6) scale(1.170 1)" font-size="33.2" style="stroke:#000;stroke-width:0.2">1</text>
<path d="M741.2 1058.5 L671.9 1298.8" style="stroke-width:2;"/>
<text transform="translate(849.3 1077) scale(1.170 1)" font-size="33.2" style="stroke:#000;stroke-width:0.2">2</text>
<path d="M848.7 1080.7 L804.4 1140.2" style="stroke-width:2;"/>
<text transform="translate(638.7 1394) scale(1.170 1)" font-size="33.2" style="stroke:#000;stroke-width:0.2">34</text>
<text transform="translate(725 1443.9) scale(1.170 1)" font-size="33.2" style="stroke:#000;stroke-width:0.2">33</text>
<text transform="translate(943.8 1455.9) scale(1.170 1)" font-size="33.2" style="stroke:#000;stroke-width:0.2">12</text>
<text transform="translate(763.9 1705.4) scale(1.170 1)" font-size="33.2" style="stroke:#000;stroke-width:0.2">6</text>
<path d="M798.2 1662.6 L785 1678.6" style="stroke-width:2;"/>
<text transform="translate(687 1754.6) scale(1.170 1)" font-size="33.2" style="stroke:#000;stroke-width:0.2">5</text>
<path d="M718.7 1710.3 L704.3 1727.3" style="stroke-width:2;"/>
<text transform="translate(731.8 1820) scale(1.170 1)" font-size="33.2" style="stroke:#000;stroke-width:0.2">15</text>
<path d="M805 1731.9 L764.3 1788.9" style="stroke-width:2;"/>
<path d="M720.3 1636.4 L687.9 1688.8 L752.6 1729.7 L763.4 1712.5" style="stroke-width:2;"/>
<text transform="translate(1008 1831.3) scale(1.170 1)" font-size="33.2" style="stroke:#000;stroke-width:0.2">17</text>
<path d="M1033.4 1837.8 L1048.8 1879.4" style="stroke-width:2;"/>
<text transform="translate(930.4 1858.7) scale(1.170 1)" font-size="33.2" style="stroke:#000;stroke-width:0.2">16</text>
<path d="M964.1 1867.1 L990.3 1916.4" style="stroke-width:2;"/>
<text transform="translate(801.9 1913.5) scale(1.170 1)" font-size="33.2" style="stroke:#000;stroke-width:0.2">18</text>
<path d="M834.7 1921.9 L870.1 1971.2" style="stroke-width:2;"/>
<text transform="translate(1121.4 1939.7) scale(1.170 1)" font-size="33.2" style="stroke:#000;stroke-width:0.2">10</text>
<text transform="translate(1111.5 2112.6) scale(1.170 1)" font-size="33.2" style="stroke:#000;stroke-width:0.2">17</text>
<path d="M1132 2081.2 L1124.3 2047.3" style="stroke-width:2;"/>
<text transform="translate(1034.5 2141.5) scale(1.170 1)" font-size="33.2" style="stroke:#000;stroke-width:0.2">16</text>
<path d="M1056.5 2109.8 L1055 2068.9" style="stroke-width:2;"/>
<text transform="translate(925.8 2188.3) scale(1.170 1)" font-size="33.2" style="stroke:#000;stroke-width:0.2">18</text>
<path d="M946.2 2156 L942.5 2113.5" style="stroke-width:2;"/>
<text transform="translate(1123.9 1701.9) scale(1.170 1)" font-size="33.2" style="stroke:#000;stroke-width:0.2">9</text>
<text transform="translate(1190.1 1738) scale(1.170 1)" font-size="33.2" style="stroke:#000;stroke-width:0.2">8</text>
<text transform="translate(1206.3 2095.5) scale(1.170 1)" font-size="33.2" style="stroke:#000;stroke-width:0.2">10</text>
<text transform="translate(1321.6 2164) scale(1.170 1)" font-size="33.2" style="stroke:#000;stroke-width:0.2">7</text>
<text transform="translate(197.8 2184.9) scale(1.282 1)" font-size="27.7" style="stroke:#000;stroke-width:0.3">1ND4110-M360</text>
</g>
</svg>
</body></html>
